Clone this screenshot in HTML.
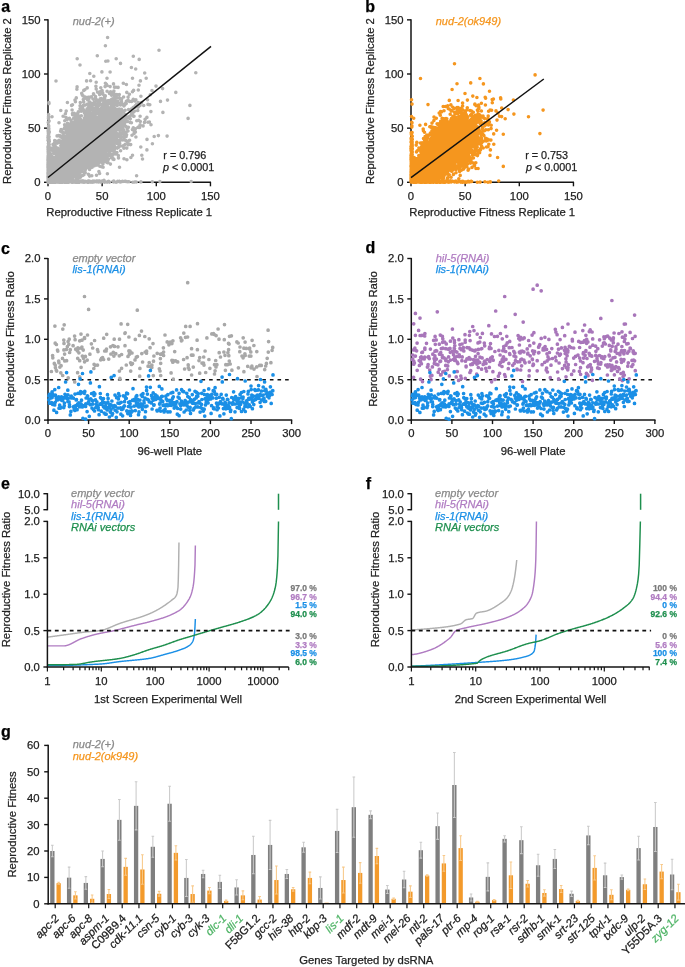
<!DOCTYPE html><html><head><meta charset="utf-8"><style>html,body{margin:0;padding:0;background:#fff;overflow:hidden}svg{display:block;will-change:transform}text{stroke-width:0.25px}</style></head><body><svg width="685" height="967" viewBox="0 0 685 967" font-family='"Liberation Sans", sans-serif'>
<rect width="685" height="967" fill="#fff"/>
<line x1="48.00" y1="19.25" x2="48.00" y2="182.90" stroke="#141414" stroke-width="1.5"/>
<line x1="44.00" y1="19.85" x2="48.00" y2="19.85" stroke="#141414" stroke-width="1.4"/>
<text x="40.50" y="23.75" font-size="11.3" text-anchor="end" fill="#222" stroke="#222">150</text>
<line x1="44.00" y1="74.00" x2="48.00" y2="74.00" stroke="#141414" stroke-width="1.4"/>
<text x="40.50" y="77.90" font-size="11.3" text-anchor="end" fill="#222" stroke="#222">100</text>
<line x1="44.00" y1="128.15" x2="48.00" y2="128.15" stroke="#141414" stroke-width="1.4"/>
<text x="40.50" y="132.05" font-size="11.3" text-anchor="end" fill="#222" stroke="#222">50</text>
<line x1="44.00" y1="182.30" x2="48.00" y2="182.30" stroke="#141414" stroke-width="1.4"/>
<text x="40.50" y="186.20" font-size="11.3" text-anchor="end" fill="#222" stroke="#222">0</text>
<line x1="47.40" y1="182.30" x2="211.05" y2="182.30" stroke="#141414" stroke-width="1.5"/>
<line x1="48.00" y1="182.30" x2="48.00" y2="186.30" stroke="#141414" stroke-width="1.4"/>
<text x="48.00" y="199.70" font-size="11.3" text-anchor="middle" fill="#222" stroke="#222">0</text>
<line x1="102.15" y1="182.30" x2="102.15" y2="186.30" stroke="#141414" stroke-width="1.4"/>
<text x="102.15" y="199.70" font-size="11.3" text-anchor="middle" fill="#222" stroke="#222">50</text>
<line x1="156.30" y1="182.30" x2="156.30" y2="186.30" stroke="#141414" stroke-width="1.4"/>
<text x="156.30" y="199.70" font-size="11.3" text-anchor="middle" fill="#222" stroke="#222">100</text>
<line x1="210.45" y1="182.30" x2="210.45" y2="186.30" stroke="#141414" stroke-width="1.4"/>
<text x="210.45" y="199.70" font-size="11.3" text-anchor="middle" fill="#222" stroke="#222">150</text>
<path d="M91.6 116.2h0M99.0 117.2h0M77.5 148.9h0M58.0 168.0h0M94.7 130.7h0M80.0 149.1h0M83.6 149.6h0M97.1 142.7h0M81.0 134.9h0M92.6 147.6h0M79.9 165.0h0M102.5 144.7h0M68.6 163.2h0M72.0 150.2h0M92.5 151.1h0M74.0 142.6h0M85.2 144.1h0M70.6 153.4h0M76.4 150.9h0M78.9 161.8h0M91.9 140.4h0M87.0 147.1h0M84.6 140.3h0M90.3 118.1h0M51.4 166.2h0M62.4 142.7h0M72.5 152.3h0M78.0 141.6h0M73.5 148.8h0M129.4 117.0h0M77.2 154.4h0M75.3 159.6h0M118.8 134.2h0M110.3 133.2h0M92.0 129.2h0M72.6 154.5h0M62.8 158.8h0M85.8 125.5h0M94.4 161.8h0M67.5 167.7h0M66.8 168.1h0M77.4 136.2h0M69.2 173.2h0M73.1 146.8h0M81.2 155.8h0M65.2 161.4h0M80.1 143.9h0M99.3 137.7h0M101.3 140.1h0M72.7 146.5h0M66.4 154.9h0M95.9 121.6h0M54.8 151.9h0M95.8 127.4h0M73.3 166.1h0M103.0 135.0h0M73.4 146.6h0M73.7 173.4h0M91.5 139.3h0M86.5 150.5h0M95.7 139.2h0M78.0 159.2h0M75.4 151.9h0M75.1 154.3h0M87.2 152.3h0M83.6 141.0h0M89.6 139.8h0M55.2 162.7h0M82.1 155.1h0M90.4 123.8h0M78.1 154.1h0M78.5 155.5h0M87.6 147.1h0M75.4 136.4h0M102.6 115.1h0M97.1 152.0h0M60.4 169.6h0M70.0 158.2h0M73.9 155.4h0M100.7 129.8h0M87.1 157.2h0M57.2 172.8h0M65.4 158.6h0M93.5 118.9h0M103.4 105.5h0M67.0 150.3h0M93.2 141.3h0M83.8 127.6h0M97.5 155.7h0M101.5 126.7h0M82.5 145.6h0M82.3 152.5h0M78.2 151.6h0M99.1 137.1h0M53.3 174.8h0M87.5 152.1h0M70.2 136.7h0M60.4 168.8h0M103.4 134.2h0M68.0 155.4h0M93.7 133.4h0M66.0 148.0h0M114.5 137.5h0M111.6 138.2h0M99.1 143.9h0M77.4 146.5h0M71.9 180.2h0M118.0 119.2h0M70.2 137.1h0M66.8 166.5h0M71.8 132.6h0M73.0 152.7h0M102.7 135.9h0M80.6 157.2h0M83.6 131.1h0M73.5 151.5h0M102.4 127.9h0M73.1 155.2h0M112.2 134.0h0M117.2 113.7h0M58.9 171.7h0M49.8 180.4h0M86.6 131.3h0M121.5 99.4h0M66.0 159.8h0M58.8 162.2h0M99.5 147.2h0M71.1 143.6h0M91.1 151.6h0M76.4 150.7h0M106.6 126.8h0M73.3 154.5h0M70.0 135.4h0M76.0 166.9h0M88.2 155.1h0M87.8 149.4h0M76.3 157.3h0M85.1 133.9h0M63.5 154.7h0M80.5 159.8h0M103.6 124.0h0M84.5 148.4h0M78.6 148.9h0M89.7 141.3h0M79.3 151.6h0M85.8 159.1h0M96.3 135.8h0M88.7 157.2h0M71.4 158.0h0M80.0 141.2h0M76.0 162.8h0M64.4 156.3h0M69.3 154.0h0M91.8 154.9h0M101.5 119.6h0M62.9 165.8h0M91.0 132.4h0M49.5 170.3h0M71.1 146.2h0M100.2 126.9h0M81.2 144.9h0M69.3 157.2h0M77.5 145.2h0M81.3 134.1h0M86.1 123.8h0M142.5 159.0h0M79.8 151.2h0M68.4 148.8h0M82.9 147.2h0M93.3 144.2h0M65.4 149.3h0M74.8 151.4h0M90.8 139.0h0M57.7 175.7h0M99.0 135.3h0M71.9 142.8h0M67.4 173.6h0M82.4 133.6h0M97.3 140.7h0M91.5 139.4h0M84.6 152.7h0M83.3 154.2h0M123.9 105.9h0M86.7 126.2h0M61.4 158.4h0M62.8 152.1h0M85.3 143.4h0M65.0 177.9h0M91.5 152.9h0M60.4 161.3h0M80.6 123.8h0M105.6 112.6h0M108.0 162.6h0M67.3 163.7h0M107.5 135.9h0M81.2 149.0h0M86.1 143.9h0M71.8 163.7h0M98.2 109.5h0M92.5 115.1h0M70.8 160.9h0M77.4 144.8h0M66.1 166.8h0M62.1 151.7h0M69.7 169.3h0M114.6 136.5h0M70.6 159.0h0M71.7 154.0h0M82.7 135.3h0M72.3 154.4h0M81.1 145.4h0M72.4 155.8h0M76.5 144.2h0M64.9 164.1h0M69.2 166.5h0M71.2 154.0h0M80.1 145.8h0M78.4 153.8h0M79.8 137.3h0M100.0 109.7h0M72.1 154.6h0M83.9 133.0h0M76.8 162.5h0M75.6 139.0h0M78.1 158.4h0M87.0 124.3h0M79.4 149.4h0M81.0 153.6h0M88.6 129.9h0M97.2 151.7h0M77.4 154.8h0M64.7 176.7h0M94.8 144.8h0M104.4 142.6h0M60.2 165.2h0M87.4 139.0h0M93.9 151.1h0M69.5 157.2h0M81.0 143.1h0M72.2 146.0h0M89.8 139.8h0M67.3 179.9h0M122.1 133.9h0M76.9 136.4h0M58.0 178.2h0M95.4 137.5h0M76.2 163.7h0M72.7 162.1h0M84.1 148.1h0M75.8 150.8h0M81.0 152.7h0M78.1 164.4h0M91.2 142.9h0M71.8 148.3h0M61.4 154.9h0M101.1 145.5h0M74.3 115.0h0M84.2 146.8h0M71.8 155.6h0M81.2 131.2h0M58.7 182.1h0M68.8 163.4h0M88.2 152.8h0M66.8 167.8h0M95.8 156.1h0M88.9 146.4h0M85.6 134.5h0M80.5 151.9h0M77.0 164.0h0M72.5 137.7h0M56.6 179.3h0M114.2 95.2h0M72.0 154.1h0M76.1 148.5h0M103.5 126.9h0M85.2 135.8h0M68.8 163.4h0M82.6 142.7h0M91.0 144.3h0M75.6 147.6h0M94.9 150.7h0M105.8 132.7h0M62.6 156.0h0M99.7 144.6h0M85.0 145.8h0M55.0 162.6h0M70.1 165.6h0M65.6 155.3h0M57.4 157.6h0M105.0 137.0h0M91.6 131.0h0M90.8 144.8h0M75.4 163.2h0M87.2 138.6h0M66.8 163.2h0M90.0 134.6h0M101.3 108.4h0M78.0 149.2h0M66.5 162.8h0M75.0 140.5h0M81.2 153.4h0M62.4 159.7h0M90.0 139.5h0M80.5 148.4h0M91.2 116.8h0M73.7 143.5h0M78.7 134.6h0M91.7 115.7h0M72.7 161.9h0M112.7 146.0h0M67.9 151.0h0M74.7 152.1h0M73.8 151.9h0M86.3 146.2h0M68.6 161.3h0M73.8 137.4h0M58.1 174.5h0M103.5 125.7h0M90.1 149.0h0M75.5 160.0h0M75.9 166.1h0M75.9 149.7h0M78.2 159.6h0M61.0 166.3h0M57.3 158.1h0M72.9 157.1h0M81.0 153.5h0M100.5 135.0h0M93.9 125.4h0M92.7 144.3h0M94.6 136.0h0M55.3 160.8h0M100.0 121.0h0M82.9 147.7h0M86.3 162.6h0M97.1 123.1h0M53.9 179.7h0M93.3 125.1h0M64.4 156.1h0M94.8 126.7h0M56.6 163.5h0M73.2 155.7h0M93.4 144.4h0M101.3 139.2h0M79.9 161.0h0M79.2 147.8h0M73.3 161.1h0M95.5 132.2h0M77.7 159.9h0M81.0 165.8h0M93.4 132.5h0M86.9 146.4h0M89.9 136.1h0M88.8 165.4h0M115.6 135.0h0M63.3 164.1h0M93.2 108.9h0M73.5 170.6h0M95.6 136.4h0M92.8 135.7h0M87.2 152.8h0M79.5 141.1h0M93.0 131.1h0M111.7 139.7h0M89.4 125.0h0M76.2 157.3h0M90.0 134.6h0M88.8 106.5h0M100.8 110.4h0M63.0 166.0h0M80.0 154.6h0M88.8 133.1h0M64.9 170.9h0M58.1 159.6h0M71.7 137.6h0M112.4 138.9h0M64.6 158.1h0M77.7 142.1h0M87.4 141.7h0M94.9 120.6h0M80.4 149.2h0M92.3 142.3h0M68.2 157.9h0M87.5 130.9h0M88.4 151.1h0M104.4 123.5h0M106.1 134.3h0M66.8 164.0h0M93.3 138.5h0M110.1 134.2h0M81.1 133.5h0M94.8 147.3h0M84.9 146.6h0M52.9 167.3h0M81.6 138.4h0M90.2 137.9h0M73.7 162.5h0M96.5 147.5h0M66.9 164.3h0M67.0 148.6h0M77.4 154.9h0M115.6 120.3h0M63.3 167.8h0M103.9 137.8h0M90.4 114.7h0M106.8 140.0h0M113.0 104.5h0M76.0 150.5h0M50.8 181.9h0M98.5 142.1h0M76.7 164.8h0M86.9 150.3h0M80.8 167.0h0M79.7 130.2h0M88.3 131.7h0M56.5 165.3h0M94.8 128.2h0M89.4 146.5h0M80.9 155.2h0M94.1 140.1h0M90.7 158.5h0M76.4 119.6h0M87.9 145.1h0M79.3 144.8h0M76.9 113.7h0M82.2 163.0h0M82.7 145.0h0M71.2 136.7h0M100.8 124.3h0M79.9 138.4h0M105.1 122.0h0M88.7 141.3h0M83.6 152.3h0M67.4 149.7h0M97.9 149.7h0M71.4 138.4h0M62.9 159.6h0M58.5 169.8h0M83.5 156.6h0M94.3 153.4h0M92.1 128.5h0M115.8 141.0h0M93.8 158.8h0M81.8 155.2h0M74.1 140.5h0M78.3 150.3h0M91.8 155.7h0M100.8 109.3h0M90.2 135.8h0M76.0 141.1h0M94.6 147.2h0M82.9 156.9h0M83.7 152.3h0M102.9 148.7h0M65.4 162.1h0M75.4 101.8h0M89.4 146.2h0M107.0 108.7h0M98.8 133.0h0M83.7 136.3h0M86.7 114.4h0M92.0 152.0h0M71.0 145.5h0M111.9 140.1h0M83.8 164.5h0M85.9 146.7h0M98.3 139.1h0M88.0 144.8h0M86.3 146.5h0M72.4 149.0h0M75.6 141.1h0M70.9 158.2h0M72.0 136.6h0M80.8 134.5h0M96.9 147.2h0M77.0 146.6h0M77.8 137.4h0M71.5 137.0h0M77.7 149.4h0M94.9 132.1h0M98.6 142.0h0M93.1 142.0h0M135.1 106.3h0M72.9 158.4h0M104.4 138.1h0M121.7 118.5h0M86.3 127.8h0M76.7 152.2h0M67.7 163.4h0M84.1 140.1h0M89.0 147.6h0M75.8 148.3h0M94.8 153.7h0M79.7 151.6h0M97.2 135.6h0M51.6 177.0h0M89.8 149.2h0M90.2 129.2h0M65.5 153.9h0M120.9 113.6h0M55.1 167.5h0M70.3 150.1h0M55.7 152.0h0M93.6 135.7h0M74.1 158.8h0M103.9 149.1h0M104.4 157.8h0M85.6 148.8h0M63.2 157.7h0M78.1 166.3h0M119.8 118.4h0M71.0 162.3h0M74.4 168.1h0M79.0 148.3h0M85.3 134.2h0M81.6 141.4h0M96.0 139.4h0M72.9 161.1h0M72.1 141.3h0M94.5 144.0h0M61.0 170.1h0M112.8 131.0h0M112.6 118.2h0M80.7 156.1h0M80.2 136.9h0M94.7 137.7h0M67.8 166.3h0M55.4 166.3h0M62.7 153.2h0M58.2 152.9h0M67.9 152.3h0M114.6 122.5h0M88.8 152.2h0M67.3 162.7h0M82.6 138.3h0M109.3 124.4h0M97.7 106.0h0M104.2 125.5h0M89.4 151.8h0M87.5 138.8h0M63.4 145.2h0M87.5 129.6h0M90.1 149.1h0M92.0 128.5h0M93.1 138.7h0M76.0 162.2h0M73.7 145.6h0M82.9 124.7h0M61.4 159.3h0M70.8 156.3h0M83.9 152.3h0M58.6 160.2h0M99.8 127.3h0M107.8 100.7h0M101.4 131.3h0M75.2 131.4h0M83.4 151.9h0M77.8 150.6h0M64.1 149.4h0M80.9 137.7h0M91.3 134.0h0M92.8 133.7h0M91.0 161.3h0M97.6 142.4h0M64.2 144.2h0M103.1 128.4h0M91.4 147.2h0M63.4 179.9h0M108.0 135.7h0M110.3 110.3h0M100.5 141.4h0M100.2 143.3h0M92.6 143.8h0M52.6 162.5h0M51.6 164.2h0M77.2 159.8h0M71.3 150.8h0M88.9 139.8h0M84.1 127.5h0M80.3 131.3h0M91.1 132.1h0M89.1 136.7h0M68.6 152.0h0M89.3 127.2h0M69.6 164.2h0M63.0 169.3h0M77.8 140.9h0M81.0 156.9h0M84.0 152.1h0M74.6 169.9h0M58.3 156.9h0M87.1 151.9h0M80.4 164.4h0M109.8 137.1h0M96.6 127.7h0M65.2 169.0h0M76.1 154.8h0M110.3 148.9h0M109.0 117.8h0M90.1 145.9h0M86.9 139.6h0M118.6 134.5h0M98.3 145.4h0M65.2 145.8h0M72.9 172.1h0M82.2 146.1h0M140.3 121.5h0M64.8 163.9h0M73.1 158.0h0M71.5 174.0h0M84.0 146.6h0M100.5 123.7h0M86.7 158.0h0M111.5 132.4h0M86.6 149.6h0M67.4 159.2h0M120.2 114.5h0M89.4 129.1h0M77.1 148.2h0M74.3 156.0h0M65.7 151.8h0M92.9 140.4h0M79.1 154.4h0M124.9 119.0h0M81.9 150.6h0M70.4 150.7h0M100.6 146.4h0M88.8 139.1h0M65.1 169.4h0M85.8 142.0h0M90.6 136.5h0M71.4 159.4h0M75.6 143.3h0M62.9 137.8h0M70.7 136.9h0M93.1 153.0h0M84.3 143.0h0M83.2 136.2h0M75.7 138.3h0M105.4 115.4h0M74.7 158.5h0M64.5 164.4h0M59.3 168.2h0M61.0 161.8h0M67.5 170.7h0M100.0 132.7h0M96.7 146.8h0M70.3 147.1h0M69.7 165.3h0M75.1 149.8h0M77.5 140.3h0M80.6 159.9h0M62.3 172.7h0M66.3 161.9h0M106.3 133.7h0M48.1 181.5h0M74.2 143.9h0M53.6 176.1h0M89.4 141.0h0M70.8 157.0h0M57.5 167.1h0M90.6 135.1h0M102.5 145.4h0M77.3 134.6h0M95.6 128.2h0M75.6 152.1h0M53.4 171.5h0M111.3 133.0h0M77.0 148.5h0M57.7 166.5h0M105.4 136.5h0M93.3 145.4h0M84.7 145.6h0M81.0 147.2h0M69.9 145.0h0M88.2 122.2h0M76.0 160.7h0M76.2 139.1h0M75.8 158.7h0M93.9 118.1h0M103.3 140.9h0M99.1 133.1h0M79.3 164.7h0M81.4 156.0h0M87.8 146.9h0M61.1 159.1h0M97.5 125.6h0M90.0 119.4h0M98.3 140.5h0M70.8 157.1h0M81.8 139.8h0M61.5 158.5h0M64.8 169.2h0M66.9 164.8h0M77.8 151.6h0M68.5 154.6h0M72.2 163.4h0M58.7 179.0h0M87.6 153.2h0M75.7 144.2h0M80.6 163.3h0M70.7 151.1h0M50.1 178.7h0M122.4 120.1h0M70.6 160.6h0M98.5 139.2h0M96.0 131.3h0M107.5 162.8h0M69.6 148.5h0M81.2 151.3h0M84.6 169.0h0M85.3 148.1h0M87.5 136.3h0M97.0 134.7h0M101.1 117.6h0M105.8 106.1h0M95.2 149.1h0M87.6 122.0h0M58.2 157.5h0M88.3 174.3h0M70.4 150.0h0M62.8 157.6h0M109.4 135.9h0M107.7 145.3h0M107.4 126.5h0M85.4 155.6h0M80.4 135.7h0M82.6 148.7h0M70.8 162.6h0M79.5 154.3h0M84.0 141.9h0M66.4 162.1h0M86.2 141.9h0M49.8 164.7h0M65.5 143.7h0M74.3 172.8h0M79.0 147.6h0M66.1 154.2h0M107.5 141.0h0M73.5 139.5h0M97.1 139.7h0M91.5 134.1h0M64.4 168.6h0M68.3 155.9h0M72.9 167.7h0M91.3 144.9h0M97.1 123.5h0M102.4 156.7h0M63.2 151.7h0M72.7 152.9h0M83.0 143.4h0M68.7 159.5h0M78.1 150.7h0M86.1 152.2h0M62.4 153.4h0M77.5 159.4h0M78.1 141.2h0M62.0 158.9h0M71.5 164.5h0M85.6 136.6h0M81.9 140.5h0M102.2 142.5h0M71.3 152.9h0M58.3 175.8h0M85.6 124.5h0M93.2 143.4h0M62.1 156.5h0M57.4 166.0h0M77.3 132.8h0M61.7 165.6h0M90.1 154.8h0M64.2 174.0h0M78.4 150.3h0M50.4 175.5h0M75.3 155.9h0M120.4 126.3h0M86.2 150.5h0M97.1 147.3h0M74.6 154.0h0M74.9 162.4h0M54.1 160.0h0M83.0 152.9h0M83.4 142.5h0M96.4 140.9h0M63.8 161.3h0M81.3 149.9h0M75.5 154.6h0M106.8 136.4h0M104.7 111.9h0M75.6 152.7h0M71.3 161.7h0M58.5 166.0h0M103.1 121.9h0M76.4 146.7h0M64.8 152.7h0M76.0 151.5h0M49.5 180.0h0M57.1 174.3h0M98.9 134.4h0M110.6 142.3h0M82.2 144.9h0M71.8 160.5h0M88.4 133.2h0M115.8 122.0h0M66.2 171.4h0M76.1 155.8h0M77.0 149.5h0M88.4 143.2h0M81.9 150.2h0M80.3 143.2h0M69.9 159.6h0M85.7 150.0h0M69.8 154.8h0M86.2 139.9h0M84.0 140.8h0M82.5 126.9h0M66.7 160.0h0M81.1 154.1h0M97.8 124.3h0M85.3 169.7h0M78.3 140.7h0M93.2 152.5h0M72.3 156.7h0M73.6 156.9h0M88.9 151.8h0M63.9 165.8h0M86.9 122.2h0M106.1 132.3h0M80.3 139.1h0M56.6 170.1h0M74.3 164.8h0M71.4 167.0h0M78.3 128.6h0M68.3 141.8h0M81.3 156.7h0M107.7 156.3h0M90.5 150.0h0M95.2 137.9h0M102.0 136.7h0M90.1 124.4h0M84.3 129.5h0M60.7 165.9h0M76.9 147.2h0M55.2 181.9h0M83.2 148.7h0M87.8 137.7h0M94.7 125.9h0M95.5 125.5h0M77.3 161.0h0M96.7 130.9h0M89.4 163.5h0M110.1 141.0h0M131.4 122.8h0M79.7 152.8h0M139.7 104.6h0M86.9 155.3h0M75.0 146.3h0M94.6 145.7h0M79.6 135.7h0M78.3 129.6h0M74.5 147.9h0M102.7 109.9h0M82.6 151.6h0M111.0 127.0h0M108.1 107.6h0M70.5 159.3h0M70.0 159.3h0M66.1 169.5h0M86.7 145.0h0M69.3 153.8h0M81.0 134.0h0M69.5 155.5h0M76.2 161.1h0M92.2 141.0h0M60.4 167.9h0M67.4 143.6h0M89.1 140.4h0M77.5 148.9h0M89.4 160.9h0M97.4 120.8h0M113.4 114.2h0M87.5 130.4h0M71.6 152.8h0M94.8 120.3h0M69.8 144.3h0M81.2 152.0h0M74.7 132.6h0M70.5 152.3h0M115.6 113.8h0M71.4 151.8h0M87.7 150.5h0M54.8 179.5h0M94.5 128.9h0M61.6 141.1h0M58.5 165.0h0M94.6 142.3h0M77.8 170.5h0M100.1 133.6h0M107.3 117.2h0M59.7 172.6h0M76.3 149.5h0M68.4 157.5h0M86.9 154.2h0M108.9 121.7h0M60.8 166.7h0M109.0 140.5h0M86.9 157.3h0M61.2 159.3h0M86.8 144.4h0M92.3 129.3h0M56.4 159.8h0M66.7 143.8h0M68.0 161.9h0M84.6 131.3h0M93.2 127.6h0M78.3 162.3h0M92.5 141.7h0M70.4 151.0h0M82.0 145.1h0M106.0 103.4h0M74.1 142.9h0M82.3 95.0h0M87.3 150.2h0M67.3 165.1h0M68.4 155.0h0M84.6 154.5h0M68.9 143.7h0M83.9 165.0h0M55.0 162.9h0M67.9 172.1h0M78.4 128.0h0M66.1 137.4h0M102.4 107.6h0M52.9 169.4h0M119.7 143.3h0M69.1 153.9h0M60.4 181.2h0M93.4 125.8h0M85.9 136.5h0M115.3 132.8h0M96.7 141.7h0M81.1 125.4h0M95.5 119.8h0M72.8 152.4h0M60.6 181.7h0M81.6 152.6h0M93.7 145.2h0M68.0 138.8h0M91.8 126.2h0M108.4 135.7h0M77.6 148.0h0M93.0 99.0h0M62.7 158.9h0M106.6 137.5h0M86.2 142.6h0M62.0 150.7h0M79.9 139.8h0M64.0 136.2h0M101.7 114.0h0M62.2 160.6h0M89.1 134.2h0M76.4 164.0h0M78.1 153.1h0M91.6 153.2h0M63.7 161.1h0M101.5 143.4h0M62.5 175.1h0M66.0 148.4h0M87.2 144.8h0M109.3 136.7h0M100.2 131.2h0M94.1 148.5h0M120.5 105.0h0M65.4 162.5h0M82.0 156.5h0M75.7 163.1h0M97.2 124.5h0M114.0 136.1h0M100.9 132.8h0M85.1 131.5h0M74.8 145.9h0M79.0 159.8h0M79.7 161.2h0M135.9 137.0h0M108.8 134.9h0M85.4 140.3h0M79.2 151.5h0M93.3 138.0h0M77.3 148.2h0M88.6 151.7h0M57.7 175.0h0M92.2 142.0h0M90.6 144.1h0M90.0 127.7h0M94.5 157.9h0M69.4 148.4h0M92.4 140.8h0M107.0 144.9h0M48.1 182.3h0M76.0 175.5h0M123.7 117.1h0M69.1 156.0h0M83.0 144.1h0M87.0 133.3h0M70.8 157.5h0M89.6 142.5h0M63.0 161.9h0M52.8 172.0h0M71.8 165.9h0M64.1 170.7h0M76.5 129.1h0M79.3 158.1h0M91.2 131.5h0M72.0 159.7h0M111.1 104.5h0M81.3 148.2h0M86.0 147.3h0M86.4 129.8h0M73.5 143.8h0M71.2 169.5h0M91.2 141.0h0M95.6 134.5h0M94.7 112.7h0M102.8 147.4h0M75.3 159.8h0M75.2 160.7h0M99.3 123.8h0M67.0 148.9h0M100.0 145.0h0M80.1 116.5h0M90.6 116.6h0M65.1 161.8h0M82.7 146.1h0M74.7 150.4h0M77.3 151.0h0M50.4 177.4h0M73.8 158.1h0M97.8 141.3h0M107.1 148.3h0M92.8 143.8h0M66.3 147.4h0M100.6 151.0h0M72.9 159.5h0M62.9 155.7h0M69.6 158.4h0M73.8 153.7h0M91.4 126.3h0M76.8 134.8h0M52.1 174.1h0M75.5 152.4h0M88.7 116.8h0M94.0 141.8h0M93.0 127.9h0M55.5 161.4h0M106.6 144.6h0M55.9 169.2h0M87.2 155.9h0M103.8 115.1h0M115.9 104.5h0M84.9 127.8h0M89.1 149.0h0M77.4 158.6h0M70.5 144.7h0M91.2 142.6h0M88.2 131.3h0M64.1 154.7h0M71.2 170.9h0M76.0 148.2h0M100.9 134.8h0M70.6 161.8h0M72.6 153.4h0M85.8 126.7h0M93.0 140.2h0M65.2 163.6h0M61.6 171.1h0M69.6 159.3h0M60.3 150.7h0M109.1 117.7h0M83.2 143.3h0M110.4 139.7h0M66.4 149.8h0M91.8 149.6h0M95.9 122.8h0M81.6 152.0h0M74.0 149.6h0M77.2 161.6h0M90.1 150.9h0M49.7 159.0h0M80.6 134.6h0M71.8 146.6h0M86.8 161.3h0M94.0 145.5h0M79.4 148.8h0M73.6 141.2h0M91.1 143.3h0M93.2 128.5h0M78.9 153.8h0M108.6 142.9h0M65.5 158.0h0M120.9 137.6h0M62.9 157.9h0M81.6 142.7h0M94.5 142.8h0M129.1 116.6h0M82.8 133.9h0M64.9 149.8h0M94.2 123.2h0M89.0 146.0h0M69.9 154.9h0M90.2 143.7h0M82.2 142.4h0M96.5 134.3h0M73.1 162.7h0M95.6 137.8h0M84.3 147.1h0M107.2 150.8h0M73.5 141.7h0M73.7 162.3h0M97.3 139.7h0M83.0 154.4h0M83.2 137.3h0M91.7 152.5h0M73.7 142.2h0M49.1 159.1h0M96.2 143.6h0M90.0 124.5h0M92.0 137.6h0M107.3 139.9h0M99.0 123.6h0M97.0 142.9h0M69.5 136.1h0M61.2 170.3h0M98.9 133.9h0M93.8 150.7h0M56.0 164.9h0M99.8 125.0h0M104.8 139.9h0M110.2 130.4h0M96.1 141.8h0M81.4 143.3h0M77.6 146.6h0M107.9 116.6h0M77.0 147.8h0M80.6 164.9h0M84.3 119.8h0M63.6 169.5h0M61.5 165.6h0M115.6 116.1h0M68.2 171.3h0M97.5 134.3h0M65.2 160.6h0M89.9 161.3h0M58.3 175.7h0M80.1 160.8h0M89.1 135.2h0M57.3 174.7h0M102.8 128.8h0M80.8 145.5h0M107.4 104.8h0M73.6 155.3h0M108.6 148.4h0M100.2 124.5h0M74.8 160.8h0M56.0 178.3h0M94.2 150.2h0M81.5 165.9h0M83.7 155.6h0M88.8 147.9h0M99.5 124.7h0M70.8 156.8h0M82.4 148.3h0M83.3 157.4h0M96.8 142.9h0M99.0 100.4h0M59.5 162.4h0M116.9 152.6h0M92.7 133.0h0M74.6 154.3h0M114.7 96.2h0M87.4 151.7h0M74.0 160.4h0M83.4 152.6h0M79.5 159.6h0M84.1 141.0h0M78.6 138.1h0M90.3 131.6h0M103.6 113.5h0M98.4 119.1h0M61.6 169.0h0M68.0 164.1h0M83.6 156.2h0M100.1 140.1h0M95.1 153.0h0M67.7 151.8h0M64.9 139.4h0M60.5 163.1h0M67.5 149.7h0M74.7 129.2h0M90.0 139.9h0M68.5 146.4h0M64.8 149.2h0M88.6 138.9h0M66.4 158.0h0M77.0 160.6h0M96.2 138.3h0M69.8 155.0h0M65.5 162.7h0M61.4 151.6h0M90.1 135.6h0M110.0 137.2h0M64.0 146.6h0M88.6 125.0h0M70.0 150.5h0M77.9 145.3h0M93.1 139.4h0M109.3 126.5h0M91.2 143.7h0M68.9 162.9h0M68.8 161.9h0M89.6 163.1h0M88.7 141.8h0M102.5 134.4h0M87.1 115.6h0M70.1 160.2h0M100.8 139.1h0M74.2 176.2h0M60.1 163.9h0M83.1 128.5h0M88.7 141.3h0M54.4 151.7h0M102.9 137.8h0M63.5 152.4h0M62.4 160.3h0M79.6 143.5h0M95.3 147.2h0M64.7 146.2h0M81.4 155.2h0M75.9 146.3h0M73.7 143.1h0M84.9 160.5h0M58.1 176.1h0M60.6 166.8h0M98.9 135.6h0M71.6 164.1h0M92.1 148.8h0M100.1 137.7h0M74.1 164.2h0M86.9 143.1h0M109.0 113.1h0M93.2 142.4h0M99.3 102.2h0M116.0 126.4h0M100.3 98.8h0M78.4 137.9h0M78.7 163.7h0M65.8 158.7h0M82.1 126.4h0M90.4 144.5h0M79.3 158.7h0M87.2 133.8h0M75.7 150.4h0M97.0 122.6h0M74.4 146.2h0M77.8 138.1h0M99.7 140.2h0M80.4 142.1h0M119.0 113.3h0M54.6 164.1h0M95.7 140.4h0M95.0 126.8h0M84.4 130.4h0M73.7 136.8h0M116.3 119.9h0M64.7 163.5h0M56.1 157.6h0M100.8 146.3h0M61.6 167.3h0M53.8 177.3h0M100.3 129.6h0M91.3 135.5h0M87.1 131.8h0M66.3 161.7h0M91.4 154.2h0M74.9 156.2h0M99.8 132.7h0M98.2 132.3h0M105.6 138.6h0M62.4 161.9h0M98.3 156.5h0M89.8 102.0h0M101.3 123.9h0M87.8 131.5h0M90.4 150.0h0M88.5 140.2h0M90.3 130.1h0M100.3 151.4h0M105.7 140.1h0M80.2 163.4h0M109.4 148.3h0M66.0 164.6h0M92.3 133.9h0M71.6 145.6h0M82.2 144.1h0M120.5 119.4h0M93.4 133.5h0M107.3 137.9h0M67.2 165.0h0M116.2 129.5h0M106.4 122.0h0M80.0 152.0h0M96.1 151.4h0M94.3 149.4h0M80.5 149.9h0M111.8 141.2h0M83.1 142.1h0M54.0 175.2h0M71.9 137.8h0M81.1 136.7h0M95.3 134.1h0M66.4 170.5h0M82.3 157.1h0M93.1 129.0h0M103.0 153.9h0M101.7 137.0h0M53.1 177.2h0M55.1 167.2h0M66.8 164.5h0M48.5 176.2h0M58.0 156.9h0M110.4 119.6h0M109.6 128.1h0M79.9 136.7h0M106.1 110.0h0M113.0 159.2h0M66.7 164.5h0M103.4 148.6h0M78.1 138.9h0M84.7 127.5h0M51.7 170.6h0M106.3 148.6h0M69.5 174.4h0M94.9 136.9h0M62.6 175.2h0M69.3 162.0h0M76.9 131.8h0M77.8 119.1h0M80.7 155.4h0M97.1 131.2h0M95.5 153.9h0M77.6 151.6h0M103.6 120.8h0M101.2 146.0h0M85.3 132.7h0M104.1 116.7h0M81.7 143.5h0M89.4 162.0h0M69.1 148.4h0M88.5 130.8h0M101.4 138.5h0M66.6 177.1h0M75.3 150.7h0M90.1 123.3h0M91.4 115.7h0M50.5 179.1h0M94.6 128.2h0M70.9 155.6h0M93.1 123.0h0M85.0 147.3h0M92.4 155.6h0M74.3 143.7h0M59.4 175.9h0M51.1 175.2h0M102.2 128.8h0M89.5 150.7h0M78.6 147.7h0M87.0 149.6h0M66.1 167.6h0M80.9 138.3h0M94.7 125.6h0M100.0 138.7h0M69.3 169.7h0M107.3 104.2h0M74.9 158.1h0M63.9 165.6h0M67.4 173.3h0M74.4 160.5h0M96.2 157.9h0M65.2 169.7h0M59.0 172.3h0M87.3 149.9h0M103.7 132.4h0M64.5 154.2h0M88.9 143.5h0M98.8 153.0h0M104.5 113.3h0M53.1 179.1h0M101.4 130.8h0M68.0 167.9h0M72.6 162.3h0M82.8 149.1h0M112.3 109.2h0M87.5 156.1h0M59.5 170.9h0M87.8 127.1h0M86.0 165.9h0M90.3 127.9h0M83.7 149.3h0M91.0 162.2h0M89.5 142.4h0M83.2 132.3h0M88.7 135.1h0M104.5 126.3h0M71.2 155.2h0M67.2 153.7h0M62.5 158.6h0M92.3 116.4h0M75.5 148.4h0M90.8 136.9h0M90.4 145.1h0M116.3 103.2h0M65.6 143.7h0M107.4 129.8h0M78.3 166.9h0M73.7 164.3h0M62.7 156.4h0M69.6 156.5h0M94.0 144.5h0M50.8 153.8h0M75.5 154.6h0M51.2 176.0h0M50.6 159.8h0M85.8 157.3h0M77.3 144.4h0M68.1 165.5h0M88.2 149.1h0M87.9 131.3h0M98.1 149.5h0M66.2 151.6h0M67.3 154.8h0M76.6 151.6h0M97.2 137.2h0M100.8 140.7h0M73.0 153.1h0M68.1 169.2h0M78.0 149.2h0M96.2 161.6h0M88.8 149.8h0M145.1 119.4h0M90.3 129.6h0M111.7 114.8h0M104.2 150.7h0M89.3 134.7h0M68.3 152.7h0M72.3 151.8h0M86.0 128.7h0M72.2 132.1h0M91.5 129.6h0M48.3 170.9h0M77.6 142.8h0M105.0 130.7h0M100.9 133.9h0M75.6 142.1h0M100.8 121.9h0M66.8 161.9h0M63.3 154.4h0M76.6 165.6h0M95.5 150.3h0M66.7 154.8h0M86.6 137.4h0M72.6 155.5h0M65.3 161.6h0M51.5 166.9h0M117.9 123.2h0M84.4 147.5h0M83.7 150.4h0M84.6 137.3h0M98.9 153.8h0M83.6 129.6h0M80.1 131.0h0M67.7 161.3h0M77.9 162.1h0M79.2 170.1h0M76.8 164.4h0M117.6 129.0h0M56.2 169.6h0M63.2 173.9h0M80.8 165.8h0M75.1 163.7h0M80.1 127.9h0M62.9 159.4h0M95.9 135.6h0M88.7 139.9h0M84.4 151.2h0M118.0 127.5h0M136.7 104.0h0M87.0 124.0h0M65.5 163.3h0M68.7 143.3h0M90.7 146.9h0M105.1 86.6h0M91.7 120.7h0M95.4 133.6h0M86.8 130.3h0M100.0 127.6h0M105.2 145.8h0M75.5 154.7h0M94.0 130.5h0M95.8 122.5h0M80.1 137.9h0M97.4 118.7h0M89.4 117.7h0M73.1 141.3h0M85.3 137.0h0M60.8 148.3h0M67.6 143.5h0M90.5 135.6h0M78.7 157.1h0M84.4 151.6h0M69.2 150.1h0M64.1 168.7h0M64.8 160.6h0M93.1 147.3h0M70.4 161.3h0M70.2 154.8h0M88.5 110.7h0M86.1 119.2h0M75.7 156.5h0M94.1 141.9h0M73.3 155.0h0M99.1 129.0h0M71.5 160.4h0M76.3 166.2h0M81.2 111.2h0M79.3 164.6h0M107.8 140.0h0M78.5 166.2h0M77.4 124.3h0M93.2 145.1h0M83.1 141.8h0M90.7 134.5h0M75.0 141.7h0M64.2 153.3h0M98.5 122.6h0M93.9 128.0h0M96.9 140.7h0M110.0 124.8h0M56.7 164.1h0M95.7 119.8h0M112.3 114.9h0M79.5 142.4h0M109.4 121.9h0M98.9 128.9h0M81.2 151.1h0M70.1 167.9h0M72.8 151.7h0M122.6 112.1h0M95.0 153.5h0M73.3 163.7h0M87.3 153.1h0M53.8 149.9h0M80.2 154.5h0M92.2 140.9h0M52.8 177.6h0M89.9 134.2h0M109.0 134.3h0M89.9 148.9h0M77.2 137.6h0M98.0 139.0h0M71.1 156.8h0M64.9 169.2h0M70.6 156.0h0M85.1 144.8h0M92.5 130.7h0M78.2 143.9h0M92.1 144.6h0M93.1 146.0h0M101.5 135.1h0M67.0 162.4h0M70.1 144.6h0M91.6 129.5h0M78.8 161.4h0M84.9 138.0h0M83.1 153.4h0M77.3 145.5h0M74.6 163.8h0M67.7 162.3h0M99.1 114.9h0M92.1 133.3h0M76.5 139.5h0M87.0 150.8h0M83.0 147.7h0M66.7 153.6h0M95.1 153.9h0M85.6 157.3h0M76.0 156.7h0M87.0 145.0h0M88.1 147.9h0M48.8 175.2h0M81.8 134.6h0M93.5 143.3h0M94.7 140.7h0M68.3 162.6h0M89.4 133.6h0M87.3 125.7h0M50.3 169.2h0M51.0 178.2h0M106.1 136.2h0M72.6 156.1h0M90.2 139.5h0M107.0 107.3h0M81.8 142.2h0M77.7 165.7h0M82.8 149.5h0M98.8 139.6h0M66.8 151.4h0M111.7 136.0h0M106.1 116.6h0M90.7 139.4h0M88.0 153.1h0M86.7 138.3h0M104.8 140.8h0M77.5 172.4h0M106.4 111.6h0M72.3 151.2h0M75.3 161.3h0M68.0 154.0h0M84.3 133.2h0M88.6 110.2h0M68.1 165.7h0M69.8 168.0h0M71.1 141.2h0M67.4 168.1h0M80.3 151.9h0M80.1 153.9h0M78.1 153.2h0M110.6 135.6h0M78.7 167.6h0M81.9 131.2h0M70.2 150.8h0M125.0 122.5h0M120.3 124.7h0M104.2 159.7h0M100.6 149.5h0M77.5 150.7h0M56.6 166.2h0M60.6 166.5h0M60.9 165.8h0M63.6 150.8h0M89.7 141.0h0M120.1 146.0h0M93.0 146.9h0M89.0 140.2h0M82.3 145.7h0M66.8 159.6h0M78.0 143.5h0M94.1 135.1h0M77.1 150.2h0M103.1 167.2h0M85.1 148.6h0M49.3 173.0h0M79.6 155.0h0M75.1 159.1h0M90.8 134.1h0M72.6 150.8h0M86.5 130.6h0M67.2 119.4h0M103.8 150.9h0M76.1 139.6h0M90.4 158.7h0M66.7 160.0h0M86.0 127.3h0M95.3 117.5h0M92.4 148.9h0M103.7 136.8h0M86.8 113.7h0M107.0 109.9h0M60.7 165.4h0M67.7 132.7h0M105.3 146.0h0M97.5 120.6h0M52.7 181.6h0M80.4 150.4h0M84.0 146.2h0M70.0 156.1h0M88.2 127.5h0M80.4 145.6h0M75.6 160.6h0M78.5 164.2h0M61.7 159.2h0M64.6 157.6h0M97.7 140.5h0M76.1 150.8h0M57.5 166.1h0M61.2 161.7h0M74.2 152.7h0M99.3 130.0h0M106.4 84.4h0M81.5 140.5h0M107.7 128.9h0M99.8 160.5h0M109.8 131.2h0M86.9 150.1h0M65.3 175.0h0M87.2 147.8h0M63.9 172.1h0M78.1 143.7h0M104.0 113.3h0M59.9 173.5h0M88.5 145.9h0M72.9 138.0h0M86.2 115.7h0M93.8 127.2h0M103.3 131.2h0M81.5 140.2h0M66.8 154.3h0M109.8 129.9h0M80.6 153.0h0M82.1 157.8h0M137.8 110.5h0M74.1 142.5h0M59.8 171.5h0M76.4 153.1h0M96.1 143.1h0M66.3 142.7h0M85.8 127.4h0M104.1 121.9h0M63.0 140.8h0M74.0 152.2h0M91.7 149.2h0M58.1 165.6h0M77.5 143.4h0M85.2 156.8h0M108.3 127.0h0M84.9 142.0h0M65.2 155.9h0M125.6 120.5h0M77.5 141.6h0M71.2 156.5h0M73.3 153.5h0M81.8 144.5h0M65.0 169.6h0M88.2 152.0h0M72.7 152.6h0M83.4 160.8h0M93.7 144.2h0M92.3 119.6h0M91.1 141.5h0M84.0 158.4h0M93.0 157.6h0M80.1 140.2h0M88.1 151.0h0M56.3 172.0h0M98.6 138.4h0M93.0 141.0h0M126.3 101.4h0M92.0 156.2h0M71.1 158.5h0M70.2 151.1h0M73.7 118.2h0M58.3 154.3h0M88.0 124.6h0M77.6 158.4h0M132.2 115.0h0M101.8 140.1h0M106.4 129.1h0M102.7 130.7h0M73.9 142.6h0M80.9 148.1h0M93.0 136.9h0M82.6 148.9h0M74.9 159.3h0M89.5 119.3h0M115.1 100.9h0M78.7 159.2h0M102.8 143.6h0M84.7 150.5h0M111.8 125.2h0M86.5 155.1h0M94.1 134.4h0M93.4 132.8h0M84.8 160.4h0M91.1 140.5h0M80.9 157.5h0M66.2 157.0h0M70.6 168.7h0M68.2 168.7h0M74.2 159.5h0M95.0 128.0h0M92.7 131.8h0M101.1 150.0h0M74.5 158.6h0M84.5 141.5h0M95.3 124.8h0M116.1 110.2h0M78.7 158.3h0M77.6 158.6h0M92.8 136.5h0M89.8 161.7h0M64.4 168.5h0M59.0 163.8h0M99.5 149.5h0M91.6 152.2h0M105.9 133.2h0M80.2 125.5h0M92.8 141.5h0M58.5 173.1h0M81.2 123.0h0M107.2 140.2h0M93.9 136.9h0M63.2 167.8h0M104.0 140.1h0M71.8 151.3h0M90.3 124.8h0M95.1 133.9h0M121.1 129.0h0M82.1 157.0h0M60.0 172.1h0M113.2 140.2h0M121.0 138.1h0M80.0 145.1h0M104.2 130.5h0M95.3 133.2h0M71.4 164.0h0M82.7 145.9h0M57.8 157.9h0M102.8 141.2h0M90.9 122.7h0M52.6 148.5h0M67.6 138.6h0M74.1 137.0h0M101.8 136.2h0M74.3 140.2h0M78.8 153.4h0M87.9 148.0h0M52.5 173.9h0M87.7 132.3h0M65.3 151.3h0M86.5 151.9h0M64.3 152.7h0M108.8 130.8h0M75.8 153.7h0M72.5 168.7h0M92.7 143.0h0M80.9 152.3h0M104.4 122.3h0M85.7 128.0h0M73.8 158.8h0M83.7 143.2h0M89.7 142.1h0M87.6 134.9h0M97.1 142.2h0M94.3 131.4h0M59.3 167.2h0M103.6 140.0h0M127.2 128.6h0M93.5 138.6h0M74.2 145.8h0M73.5 142.2h0M68.9 153.8h0M88.9 134.5h0M69.6 157.2h0M84.1 142.0h0M68.2 150.4h0M69.2 155.5h0M84.2 127.1h0M57.9 160.6h0M78.3 130.7h0M82.6 175.4h0M86.0 116.5h0M112.3 127.9h0M96.4 149.5h0M93.7 142.6h0M108.8 128.1h0M87.9 141.3h0M73.3 143.5h0M69.2 174.1h0M87.3 144.6h0M76.0 160.9h0M65.9 153.3h0M103.5 120.7h0M82.8 152.3h0M71.6 171.4h0M92.4 153.7h0M68.8 164.8h0M71.9 165.2h0M76.8 171.1h0M94.8 131.8h0M99.9 116.4h0M63.8 159.8h0M87.3 142.7h0M78.6 126.3h0M63.8 153.4h0M90.2 125.4h0M118.9 124.9h0M86.0 123.8h0M115.2 119.6h0M71.6 153.7h0M72.4 156.9h0M103.2 122.1h0M104.5 125.3h0M90.6 157.1h0M68.0 158.2h0M70.1 155.1h0M86.9 157.3h0M89.8 148.4h0M111.5 124.8h0M93.1 143.5h0M71.5 163.9h0M94.3 146.3h0M73.4 172.3h0M99.3 129.7h0M79.4 156.0h0M79.3 123.1h0M113.2 144.8h0M90.1 121.2h0M76.9 151.0h0M87.1 144.5h0M93.7 137.8h0M72.9 165.4h0M85.9 120.6h0M84.8 128.9h0M66.0 161.9h0M81.6 121.2h0M91.8 134.2h0M58.7 165.6h0M84.8 121.6h0M102.4 132.4h0M90.8 121.3h0M68.5 148.1h0M58.8 172.1h0M77.0 172.3h0M70.3 163.9h0M84.6 132.5h0M90.9 150.5h0M80.6 145.7h0M70.8 144.8h0M80.5 152.0h0M112.2 100.5h0M85.3 160.2h0M109.4 155.1h0M88.3 139.2h0M96.5 157.2h0M85.7 161.0h0M105.4 149.4h0M72.6 128.7h0M97.4 136.1h0M115.4 115.7h0M84.8 131.8h0M96.5 138.2h0M67.9 156.9h0M71.7 139.0h0M85.6 130.0h0M65.3 151.7h0M79.1 144.7h0M76.0 151.2h0M89.2 143.1h0M76.1 163.1h0M81.5 165.0h0M138.3 102.5h0M63.0 157.4h0M82.4 147.9h0M74.9 141.5h0M100.5 131.6h0M79.9 149.0h0M109.9 130.2h0M87.2 152.3h0M90.3 145.9h0M56.6 155.8h0M113.9 112.4h0M90.5 141.5h0M78.0 131.2h0M84.1 138.5h0M87.2 133.3h0M69.6 144.9h0M99.9 121.9h0M93.1 134.0h0M86.9 150.0h0M70.8 163.4h0M91.5 132.1h0M77.4 149.3h0M120.5 127.5h0M87.6 141.1h0M86.9 148.7h0M68.1 152.8h0M78.6 147.4h0M66.8 163.4h0M70.6 139.9h0M78.1 148.7h0M106.5 127.5h0M82.4 152.4h0M83.3 158.5h0M88.1 137.9h0M64.0 163.8h0M66.7 153.5h0M96.5 136.0h0M92.8 135.7h0M59.5 166.0h0M55.5 153.4h0M75.8 165.3h0M100.7 127.4h0M56.7 169.1h0M77.7 164.5h0M111.1 111.9h0M107.5 134.1h0M124.3 125.7h0M79.5 151.5h0M83.9 130.7h0M128.4 127.3h0M94.9 164.8h0M84.8 132.9h0M87.3 157.4h0M72.4 149.3h0M94.2 141.1h0M108.4 114.3h0M82.7 163.7h0M62.0 165.3h0M86.8 167.1h0M103.5 142.9h0M116.2 123.1h0M89.9 134.7h0M70.9 153.6h0M89.8 156.4h0M97.4 129.7h0M83.2 144.8h0M87.8 154.8h0M95.4 129.3h0M94.4 162.7h0M55.7 173.7h0M114.1 125.0h0M71.5 163.8h0M82.6 151.5h0M79.7 162.8h0M90.8 138.3h0M68.1 163.6h0M56.7 164.9h0M94.8 129.5h0M112.5 146.4h0M95.1 139.6h0M87.9 120.7h0M119.6 122.3h0M110.8 144.9h0M99.1 116.0h0M75.5 137.2h0M63.6 156.1h0M83.9 146.6h0M91.9 128.1h0M75.3 159.6h0M80.2 156.8h0M79.9 140.0h0M89.2 131.0h0M85.7 122.6h0M77.6 154.0h0M84.5 129.4h0M88.9 138.6h0M95.3 165.2h0M95.4 148.6h0M91.0 149.4h0M80.8 152.3h0M86.2 144.8h0M62.1 172.5h0M90.8 164.4h0M81.8 152.0h0M71.4 171.7h0M84.7 154.5h0M89.3 142.2h0M80.9 158.4h0M84.2 149.9h0M96.2 141.7h0M89.8 142.8h0M78.6 156.5h0M94.2 142.3h0M112.9 145.6h0M78.6 160.3h0M69.9 158.6h0M77.5 145.8h0M80.4 153.0h0M71.1 155.6h0M112.9 131.9h0M68.6 151.5h0M88.2 166.4h0M78.7 144.1h0M96.1 152.9h0M72.7 153.1h0M71.8 169.0h0M94.9 118.0h0M90.7 135.4h0M83.9 153.0h0M87.9 158.2h0M91.3 115.6h0M89.4 150.7h0M75.9 141.7h0M97.7 135.9h0M92.8 151.1h0M84.8 145.6h0M59.8 162.2h0M53.8 175.1h0M91.5 133.8h0M74.7 163.1h0M114.6 118.6h0M86.9 110.4h0M113.6 115.0h0M82.0 149.1h0M95.4 111.2h0M61.9 162.5h0M70.8 157.3h0M80.5 150.0h0M69.9 160.9h0M85.2 148.8h0M101.4 132.2h0M121.2 115.2h0M81.3 115.7h0M97.6 108.2h0M95.2 139.4h0M77.7 151.5h0M67.7 154.5h0M60.3 164.4h0M68.7 164.9h0M76.5 132.7h0M87.8 119.6h0M49.7 167.1h0M74.0 170.5h0M86.8 157.4h0M70.9 154.8h0M84.3 145.4h0M61.2 148.6h0M71.8 151.0h0M64.9 165.6h0M85.4 137.0h0M83.1 165.1h0M73.9 157.8h0M88.4 163.3h0M79.7 139.0h0M90.4 146.9h0M48.3 181.3h0M96.1 136.7h0M89.6 135.5h0M88.8 139.3h0M91.6 161.5h0M86.0 140.3h0M84.2 172.3h0M74.5 155.3h0M91.9 137.9h0M83.7 149.0h0M94.1 141.8h0M98.0 113.3h0M75.3 150.8h0M87.0 144.7h0M82.5 159.4h0M119.0 123.3h0M87.1 149.3h0M82.0 152.4h0M92.8 156.2h0M68.7 156.4h0M79.8 133.5h0M86.8 159.9h0M75.9 152.0h0M82.2 145.6h0M74.0 157.8h0M62.5 170.0h0M71.9 157.4h0M75.0 156.9h0M73.0 158.3h0M102.2 105.9h0M103.3 127.0h0M74.4 143.9h0M77.8 164.9h0M64.7 160.9h0M89.6 137.5h0M84.0 138.5h0M76.9 148.1h0M87.5 134.5h0M102.4 147.2h0M94.8 132.6h0M65.0 171.5h0M71.3 148.1h0M86.7 142.9h0M100.8 126.9h0M89.4 152.1h0M67.9 159.3h0M81.2 151.6h0M51.8 169.0h0M78.0 148.4h0M105.3 153.9h0M106.3 125.3h0M75.5 163.0h0M57.6 157.8h0M113.5 154.3h0M71.9 148.0h0M116.0 111.8h0M90.5 134.4h0M58.4 160.7h0M112.4 138.1h0M104.8 114.0h0M82.1 149.6h0M58.2 173.4h0M82.5 133.1h0M74.1 150.3h0M89.8 144.0h0M96.5 145.6h0M81.1 151.1h0M106.1 133.1h0M58.4 175.4h0M49.9 170.4h0M79.8 168.3h0M100.9 129.0h0M100.2 123.9h0M80.0 162.3h0M101.6 135.4h0M103.9 134.5h0M88.1 146.6h0M95.7 146.8h0M87.5 154.0h0M111.8 154.9h0M92.7 131.1h0M117.7 102.4h0M83.0 139.9h0M49.5 179.6h0M54.4 167.1h0M70.5 138.6h0M86.3 151.7h0M62.6 165.2h0M91.1 162.9h0M76.5 152.7h0M82.9 145.4h0M89.0 147.6h0M115.7 120.6h0M89.5 111.0h0M78.1 117.7h0M65.8 160.3h0M56.7 163.9h0M73.2 159.9h0M84.4 144.0h0M74.8 144.5h0M74.1 155.4h0M67.2 163.1h0M96.5 142.8h0M99.1 154.6h0M91.5 125.3h0M81.2 126.8h0M91.2 146.1h0M78.2 148.0h0M67.5 167.7h0M75.7 146.1h0M115.4 140.8h0M76.3 131.2h0M62.3 158.2h0M87.6 147.3h0M104.1 147.5h0M82.2 136.9h0M81.4 161.5h0M84.2 152.3h0M81.8 166.5h0M63.2 168.5h0M88.2 144.2h0M112.7 134.5h0M117.8 101.0h0M99.4 115.0h0M104.0 145.8h0M73.4 159.9h0M76.2 146.3h0M83.7 144.9h0M105.3 129.2h0M86.4 135.5h0M64.8 179.8h0M87.1 151.8h0M84.9 137.6h0M83.6 140.9h0M56.3 179.7h0M94.7 134.7h0M86.7 132.0h0M95.2 151.6h0M111.8 136.0h0M84.1 157.4h0M109.7 141.6h0M97.0 100.1h0M82.6 132.0h0M92.2 125.9h0M115.0 141.2h0M97.8 134.8h0M77.6 150.8h0M124.7 105.0h0M86.0 148.5h0M85.0 135.9h0M128.6 143.8h0M101.1 120.2h0M97.0 122.8h0M75.1 139.5h0M83.9 135.2h0M58.7 152.8h0M73.2 148.7h0M62.9 180.4h0M65.4 158.3h0M82.8 123.9h0M84.6 144.0h0M86.1 141.5h0M82.8 123.9h0M84.7 122.3h0M78.1 137.0h0M83.7 166.9h0M75.9 146.8h0M81.6 150.4h0M79.2 147.5h0M74.6 143.3h0M74.3 159.4h0M81.6 143.4h0M77.1 153.8h0M129.4 94.2h0M72.0 157.7h0M83.8 146.6h0M65.7 167.3h0M130.2 122.4h0M75.0 156.4h0M90.8 158.1h0M106.3 141.0h0M88.6 120.4h0M60.8 163.1h0M90.3 155.5h0M75.8 157.5h0M86.3 113.4h0M91.1 127.7h0M104.3 129.6h0M72.7 145.0h0M79.3 147.1h0M120.2 125.6h0M59.9 164.6h0M77.0 148.6h0M67.9 165.1h0M90.6 129.6h0M86.7 161.8h0M86.4 149.4h0M84.7 157.2h0M87.1 154.6h0M64.1 161.1h0M82.6 153.4h0M79.0 129.9h0M67.2 153.7h0M64.3 150.8h0M78.0 157.8h0M101.5 135.2h0M89.6 156.7h0M92.3 131.9h0M99.7 148.5h0M75.4 150.9h0M66.8 153.9h0M109.4 126.1h0M59.1 170.1h0M89.4 145.0h0M77.4 152.2h0M92.4 145.2h0M65.0 161.6h0M68.9 172.2h0M99.6 134.4h0M71.1 166.1h0M83.7 121.7h0M83.7 129.4h0M87.8 137.9h0M105.2 147.4h0M74.0 153.9h0M66.0 160.2h0M105.1 120.6h0M80.1 164.4h0M101.8 108.7h0M79.3 143.9h0M88.2 156.6h0M74.3 159.9h0M81.2 145.4h0M72.1 147.4h0M82.5 155.9h0M65.3 157.9h0M92.5 129.2h0M63.3 168.3h0M100.2 129.8h0M63.1 137.1h0M83.7 144.7h0M68.9 163.9h0M102.1 146.7h0M90.8 133.6h0M73.8 157.3h0M94.4 131.1h0M83.1 142.9h0M92.7 149.2h0M74.3 153.2h0M88.6 139.9h0M104.3 131.1h0M66.6 167.2h0M52.9 178.4h0M88.8 150.2h0M71.9 151.2h0M99.5 146.1h0M84.4 144.6h0M65.0 154.2h0M58.5 169.3h0M90.5 155.9h0M74.7 158.1h0M78.9 166.5h0M66.4 150.6h0M106.8 121.3h0M82.5 139.3h0M74.4 167.7h0M88.2 154.6h0M62.0 159.8h0M55.8 164.6h0M101.0 139.4h0M63.2 154.7h0M82.5 126.9h0M98.1 139.4h0M82.3 152.2h0M84.9 150.3h0M84.2 138.9h0M93.9 136.6h0M59.9 157.6h0M80.0 136.3h0M82.5 154.1h0M58.0 157.9h0M58.2 157.4h0M81.7 155.2h0M92.3 139.5h0M91.2 142.7h0M89.7 143.1h0M101.8 134.2h0M129.7 116.3h0M67.5 156.2h0M67.4 151.2h0M81.8 135.6h0M79.3 141.6h0M91.4 144.8h0M90.0 116.3h0M80.6 150.1h0M91.7 144.6h0M66.7 157.6h0M80.8 147.7h0M72.7 146.7h0M63.3 159.4h0M88.7 157.8h0M89.1 158.6h0M98.3 123.5h0M89.0 140.0h0M59.5 161.0h0M97.8 134.6h0M49.0 181.4h0M84.8 148.5h0M86.2 138.5h0M75.0 153.9h0M70.7 161.8h0M78.5 139.0h0M92.9 145.4h0M63.7 145.3h0M62.8 171.5h0M84.1 149.7h0M95.6 126.6h0M92.0 121.8h0M97.9 135.2h0M76.2 137.7h0M79.4 151.3h0M113.4 122.9h0M100.3 141.9h0M71.6 151.2h0M59.8 170.4h0M79.5 146.7h0M95.5 112.3h0M88.1 149.9h0M120.7 103.0h0M69.0 152.9h0M78.8 153.4h0M103.7 128.2h0M104.3 153.9h0M92.6 127.3h0M56.3 160.3h0M73.7 134.3h0M77.8 144.4h0M63.1 158.4h0M86.2 138.3h0M75.6 159.0h0M116.6 135.8h0M78.9 140.7h0M68.4 164.0h0M84.9 126.8h0M95.9 141.8h0M85.6 141.7h0M74.9 153.1h0M77.8 147.2h0M76.4 153.9h0M94.6 138.5h0M102.2 145.3h0M102.5 134.5h0M92.3 121.5h0M88.2 116.6h0M73.5 147.0h0M100.6 126.4h0M121.9 133.4h0M97.5 148.2h0M84.6 142.0h0M85.2 142.5h0M75.7 155.2h0M58.1 163.1h0M114.6 138.3h0M89.3 154.5h0M72.2 148.6h0M98.9 121.1h0M90.7 143.7h0M90.2 142.3h0M126.0 140.5h0M70.8 145.9h0M85.1 144.6h0M90.5 116.6h0M93.8 119.9h0M68.0 147.6h0M101.8 139.8h0M100.5 147.7h0M77.6 154.6h0M77.2 150.8h0M122.8 116.0h0M84.4 155.6h0M60.6 168.5h0M84.7 131.0h0M88.5 118.0h0M89.0 147.7h0M79.8 134.2h0M51.7 176.1h0M82.5 142.1h0M95.0 122.3h0M72.6 158.4h0M101.8 114.0h0M89.4 138.1h0M88.5 141.4h0M90.4 123.7h0M88.0 151.3h0M83.8 155.8h0M88.6 149.5h0M84.5 149.9h0M54.2 170.9h0M121.1 136.2h0M91.3 142.4h0M64.3 139.4h0M97.3 154.5h0M69.7 157.4h0M104.6 119.8h0M63.2 141.7h0M89.4 139.3h0M65.0 160.3h0M86.5 143.4h0M97.7 148.3h0M69.0 157.1h0M86.0 152.8h0M89.6 152.7h0M114.8 146.6h0M82.1 132.5h0M91.8 144.3h0M72.2 138.7h0M92.4 147.1h0M111.9 118.7h0M91.2 153.0h0M101.2 113.0h0M103.5 146.1h0M55.1 164.1h0M87.3 156.3h0M94.7 162.0h0M111.4 127.6h0M78.1 157.1h0M87.5 124.7h0M73.9 149.7h0M75.5 153.2h0M108.5 126.2h0M68.7 172.1h0M106.2 156.6h0M81.6 156.1h0M86.7 143.0h0M62.3 152.4h0M101.4 144.8h0M68.6 168.1h0M63.1 161.1h0M75.4 142.5h0M71.3 161.5h0M72.5 143.4h0M84.6 136.4h0M78.0 168.2h0M74.0 156.5h0M98.8 155.1h0M93.3 137.0h0M65.8 158.4h0M95.6 152.9h0M80.5 169.8h0M68.4 151.2h0M58.5 177.2h0M87.6 154.7h0M78.8 153.0h0M126.3 116.7h0M104.7 113.4h0M85.2 148.2h0M106.2 130.8h0M75.8 136.6h0M68.0 156.9h0M54.2 178.8h0M88.6 133.2h0M79.2 140.0h0M55.3 161.1h0M99.4 142.1h0M90.7 131.8h0M78.3 149.1h0M89.0 130.7h0M49.0 163.2h0M72.3 154.0h0M77.5 147.8h0M90.5 123.5h0M96.4 146.3h0M86.9 133.2h0M94.4 121.1h0M64.3 156.7h0M113.4 119.8h0M92.9 157.6h0M92.7 146.3h0M91.0 150.0h0M80.5 165.7h0M90.1 126.9h0M89.0 136.0h0M108.7 112.2h0M86.0 132.7h0M78.8 162.1h0M85.1 141.1h0M95.5 154.3h0M68.7 160.7h0M68.0 168.1h0M78.3 146.6h0M80.3 155.0h0M73.1 158.2h0M61.7 156.8h0M90.1 145.4h0M83.0 156.0h0M68.0 169.3h0M72.6 150.8h0M93.0 137.9h0M82.4 155.6h0M79.7 140.5h0M101.1 120.8h0M81.2 144.7h0M66.1 149.2h0M62.5 163.2h0M92.7 118.5h0M53.5 167.0h0M75.6 147.1h0M71.1 158.2h0M61.9 164.8h0M103.7 115.0h0M75.1 146.6h0M96.8 125.1h0M93.0 147.4h0M68.4 147.0h0M89.4 150.0h0M71.2 143.6h0M80.3 126.1h0M80.3 143.6h0M92.9 139.1h0M98.2 124.3h0M88.0 143.9h0M80.3 132.5h0M74.6 163.6h0M76.8 123.9h0M55.8 161.7h0M81.4 138.1h0M57.2 160.0h0M73.0 132.2h0M88.2 155.5h0M90.2 129.7h0M92.6 130.4h0M78.3 147.7h0M85.0 165.9h0M54.3 170.5h0M58.8 169.9h0M101.7 126.2h0M80.4 132.3h0M59.5 169.1h0M99.7 116.9h0M83.6 153.5h0M81.5 145.2h0M78.3 130.1h0M95.6 146.7h0M98.3 161.9h0M58.6 166.5h0M89.4 147.7h0M84.6 152.5h0M93.2 148.7h0M74.3 146.2h0M77.4 153.1h0M70.7 158.0h0M113.7 142.5h0M61.8 169.5h0M78.6 136.1h0M86.6 150.2h0M76.2 151.2h0M85.7 135.2h0M100.7 147.8h0M76.5 151.0h0M90.6 151.4h0M131.9 101.1h0M61.3 160.6h0M97.0 154.0h0M64.8 173.7h0M103.6 132.8h0M68.2 161.0h0M93.5 135.5h0M96.6 122.4h0M86.1 162.1h0M56.5 153.8h0M78.4 151.6h0M71.8 161.7h0M99.8 151.5h0M101.0 144.8h0M84.6 158.9h0M98.8 132.0h0M85.7 138.2h0M90.3 130.3h0M67.3 153.3h0M89.4 147.9h0M60.6 150.2h0M57.8 174.2h0M77.2 144.7h0M102.5 114.9h0M96.7 132.4h0M67.8 156.9h0M104.0 118.9h0M81.3 143.0h0M83.7 152.6h0M59.0 156.2h0M97.7 137.7h0M74.9 145.7h0M101.8 149.2h0M91.4 139.5h0M100.0 155.5h0M82.0 142.0h0M75.9 166.6h0M81.1 107.0h0M64.0 146.9h0M79.9 149.4h0M83.0 141.9h0M71.1 151.0h0M96.1 128.3h0M58.7 173.3h0M135.3 128.9h0M82.7 154.6h0M88.2 134.1h0M98.8 127.9h0M72.4 161.4h0M66.4 136.5h0M103.1 136.9h0M70.9 145.5h0M93.6 159.7h0M58.8 172.7h0M59.9 173.6h0M103.2 136.5h0M90.0 138.5h0M82.0 147.5h0M70.6 163.0h0M94.8 153.2h0M92.4 147.2h0M95.2 153.8h0M79.7 156.4h0M63.8 168.2h0M93.1 147.0h0M75.0 155.4h0M110.6 130.4h0M59.4 178.8h0M89.5 150.6h0M72.2 154.7h0M67.1 156.6h0M80.6 122.8h0M102.6 132.6h0M83.2 158.5h0M91.7 132.7h0M72.1 148.7h0M76.5 159.1h0M84.2 143.0h0M85.6 152.5h0M79.3 144.8h0M61.9 149.9h0M103.6 142.3h0M84.2 136.1h0M88.6 163.8h0M61.6 166.5h0M54.5 172.7h0M89.4 161.5h0M69.2 148.6h0M83.9 146.7h0M56.2 162.2h0M93.0 154.0h0M77.3 145.9h0M72.1 155.9h0M99.7 151.9h0M82.4 129.7h0M105.5 142.0h0M71.4 163.7h0M92.8 149.6h0M86.0 136.0h0M59.7 153.0h0M68.4 168.7h0M112.3 124.9h0M70.8 141.9h0M77.3 147.8h0M84.7 126.5h0M71.3 147.1h0M63.3 159.0h0M68.1 148.0h0M84.4 147.3h0M91.3 134.0h0M77.8 145.8h0M96.3 133.6h0M68.3 152.1h0M77.5 153.9h0M91.1 145.5h0M113.3 128.7h0M99.7 140.4h0M106.0 131.2h0M56.5 173.5h0M86.6 136.7h0M89.6 130.9h0M102.9 163.9h0M58.5 150.6h0M105.5 141.6h0M85.8 130.6h0M105.8 117.8h0M69.5 149.3h0M68.6 169.1h0M91.4 146.3h0M92.2 136.3h0M83.8 138.0h0M108.8 130.2h0M76.9 148.5h0M68.3 163.7h0M79.8 164.3h0M95.1 140.3h0M83.2 161.0h0M70.7 154.3h0M73.5 162.2h0M91.7 138.4h0M84.9 137.9h0M82.5 159.7h0M78.3 141.7h0M104.2 140.2h0M68.4 148.2h0M106.6 126.4h0M92.0 140.9h0M62.2 170.4h0M62.0 167.9h0M94.7 141.2h0M91.0 150.0h0M62.8 137.2h0M61.0 157.3h0M90.1 141.6h0M55.6 174.9h0M90.3 130.4h0M65.1 153.0h0M93.9 151.2h0M78.7 154.0h0M104.5 145.1h0M50.3 179.0h0M71.9 154.7h0M91.8 138.3h0M80.4 147.6h0M107.4 122.1h0M81.2 127.4h0M96.5 175.3h0M110.8 133.0h0M98.8 133.0h0M93.8 125.3h0M78.7 152.2h0M69.0 163.3h0M81.5 149.0h0M84.9 154.8h0M65.9 148.2h0M83.0 160.6h0M100.4 149.0h0M109.3 138.7h0M81.9 165.5h0M92.3 134.6h0M54.9 169.3h0M103.7 134.7h0M123.2 112.0h0M84.6 140.2h0M87.2 134.3h0M78.0 130.5h0M118.0 143.4h0M62.9 156.4h0M106.2 129.9h0M67.0 153.0h0M71.9 163.3h0M80.6 149.1h0M87.4 142.1h0M82.0 147.4h0M85.2 142.9h0M63.1 161.9h0M86.6 120.2h0M99.2 133.2h0M87.3 145.1h0M101.1 115.0h0M90.1 115.3h0M92.9 130.5h0M63.2 150.9h0M74.9 142.2h0M81.9 128.0h0M82.9 133.9h0M72.6 140.9h0M79.2 156.8h0M125.1 110.3h0M105.0 122.6h0M82.9 144.9h0M73.8 158.7h0M81.7 125.9h0M99.4 113.6h0M100.1 128.7h0M108.1 115.0h0M86.6 147.5h0M90.5 135.0h0M81.6 151.7h0M79.7 143.1h0M84.8 148.3h0M72.7 158.4h0M95.7 116.9h0M59.2 168.9h0M87.5 144.1h0M70.9 154.7h0M55.7 171.0h0M97.2 144.2h0M61.0 159.1h0M78.4 145.8h0M100.6 139.3h0M75.9 155.0h0M99.0 137.3h0M90.2 154.0h0M85.0 140.2h0M71.9 175.4h0M79.8 132.8h0M87.0 162.9h0M110.9 132.9h0M98.3 147.0h0M69.7 150.0h0M61.2 149.7h0M69.8 175.3h0M104.6 152.0h0M103.0 119.1h0M71.6 150.6h0M92.9 140.1h0M84.3 149.0h0M79.3 150.8h0M94.4 141.9h0M66.9 155.0h0M86.2 160.1h0M100.1 128.5h0M65.8 176.1h0M75.0 151.4h0M81.5 143.6h0M78.8 152.1h0M87.6 140.9h0M102.2 141.4h0M111.5 134.4h0M50.1 181.8h0M120.0 123.2h0M71.1 158.4h0M98.7 117.3h0M89.1 157.5h0M83.6 152.5h0M86.7 153.9h0M133.5 112.1h0M92.6 118.2h0M74.2 144.3h0M93.8 153.7h0M101.3 131.3h0M92.0 124.6h0M72.1 141.1h0M88.1 161.0h0M59.8 170.2h0M111.5 157.2h0M121.6 118.3h0M102.4 135.2h0M75.1 144.2h0M96.2 150.8h0M70.1 138.3h0M111.7 137.2h0M64.7 155.3h0M75.3 171.6h0M58.4 176.8h0M101.0 152.7h0M77.4 160.5h0M95.2 125.6h0M93.7 137.0h0M116.5 143.2h0M78.3 159.4h0M78.6 136.1h0M84.7 143.9h0M92.4 133.5h0M77.5 150.0h0M74.5 161.7h0M70.6 155.1h0M95.6 138.1h0M95.3 146.4h0M93.7 142.9h0M74.3 148.5h0M87.8 155.1h0M98.3 148.0h0M87.6 135.3h0M59.3 169.1h0M78.7 166.5h0M119.9 109.8h0M84.1 149.9h0M86.6 144.3h0M82.9 151.2h0M72.1 168.1h0M62.3 151.8h0M81.8 139.3h0M75.5 150.4h0M117.9 111.1h0M70.6 171.1h0M57.8 173.5h0M79.5 156.0h0M66.7 144.4h0M111.5 132.1h0M84.9 151.0h0M98.4 145.6h0M71.4 166.3h0M106.9 127.3h0M90.8 134.1h0M113.2 133.9h0M68.7 133.2h0M86.2 127.2h0M89.5 132.5h0M110.4 147.2h0M80.2 159.9h0M96.8 147.4h0M73.4 154.1h0M108.0 123.7h0M74.7 159.0h0M68.0 150.7h0M69.0 150.0h0M89.8 120.2h0M68.9 171.1h0M73.8 164.4h0M102.0 138.6h0M70.2 158.9h0M70.7 161.0h0M80.8 136.5h0M123.2 111.8h0M59.9 160.1h0M81.3 155.6h0M73.6 153.6h0M82.2 152.7h0M79.8 144.1h0M71.5 161.5h0M100.2 142.8h0M107.3 129.1h0M57.2 181.2h0M109.4 131.6h0M80.4 121.6h0M83.7 147.3h0M68.9 144.7h0M56.1 175.2h0M81.0 131.6h0M82.8 147.4h0M89.8 152.6h0M77.7 132.0h0M53.0 175.3h0M86.5 145.7h0M97.9 149.8h0M94.0 140.9h0M97.8 123.0h0M100.3 121.9h0M104.3 152.2h0M99.9 119.2h0M91.7 147.9h0M61.5 162.7h0M76.0 132.1h0M111.7 99.3h0M91.7 147.3h0M77.7 138.7h0M63.7 151.0h0M86.5 148.2h0M68.9 153.2h0M82.5 155.9h0M96.5 158.5h0M67.7 158.5h0M64.2 158.7h0M110.8 128.8h0M94.3 132.9h0M100.1 138.9h0M90.8 129.3h0M82.4 137.1h0M81.9 154.8h0M54.4 168.3h0M97.9 139.4h0M67.9 132.9h0M102.4 134.4h0M62.0 157.7h0M82.5 139.7h0M108.0 130.2h0M88.4 159.3h0M68.3 177.0h0M69.5 159.7h0M78.7 157.4h0M81.8 171.4h0M89.1 143.2h0M103.4 116.2h0M74.7 164.6h0M103.9 140.5h0M80.6 142.6h0M121.0 132.7h0M107.6 144.7h0M108.2 109.9h0M89.6 141.6h0M76.2 171.8h0M107.8 129.5h0M91.1 142.5h0M92.7 149.0h0M94.3 123.1h0M81.7 152.8h0M105.1 127.8h0M53.8 175.4h0M95.3 129.2h0M78.4 139.5h0M74.4 145.3h0M77.4 162.0h0M100.4 134.4h0M77.6 159.6h0M105.2 137.6h0M73.1 145.6h0M73.1 159.5h0M86.4 142.8h0M118.1 112.4h0M80.7 157.5h0M91.4 155.4h0M68.8 144.3h0M82.0 162.3h0M67.4 149.3h0M105.8 115.3h0M101.7 115.2h0M85.3 152.4h0M79.4 151.8h0M73.3 152.0h0M99.0 126.3h0M100.9 140.9h0M83.7 143.0h0M81.4 142.8h0M80.0 141.4h0M98.2 136.5h0M84.9 154.4h0M95.0 144.8h0M73.5 161.4h0M72.2 158.9h0M79.2 148.3h0M87.7 143.1h0M95.5 137.2h0M87.5 153.9h0M111.5 157.4h0M97.1 144.1h0M89.7 144.3h0M103.1 131.8h0M85.9 131.6h0M102.5 123.4h0M79.7 145.8h0M84.5 160.7h0M55.7 178.8h0M94.4 151.5h0M66.7 163.5h0M70.2 168.1h0M56.0 166.3h0M84.9 158.1h0M82.5 135.4h0M88.6 135.9h0M96.2 89.0h0M72.0 164.9h0M69.8 147.8h0M59.0 160.1h0M76.7 146.0h0M89.2 146.9h0M74.4 146.0h0M66.0 157.3h0M87.5 142.5h0M69.4 158.5h0M100.3 114.2h0M95.9 155.0h0M90.4 128.2h0M83.8 132.5h0M84.7 156.7h0M90.1 142.0h0M70.0 157.8h0M58.7 168.1h0M78.7 150.6h0M116.9 122.1h0M68.9 157.9h0M64.4 156.7h0M118.0 118.1h0M79.3 158.0h0M92.3 153.4h0M62.9 169.7h0M78.5 142.0h0M100.9 136.6h0M79.5 145.4h0M76.3 140.6h0M71.7 132.6h0M92.6 125.5h0M83.7 149.7h0M76.3 149.3h0M98.9 123.7h0M117.8 140.2h0M95.1 154.6h0M60.9 160.8h0M82.4 129.3h0M76.9 131.5h0M110.1 86.6h0M76.1 162.8h0M66.1 159.0h0M93.9 143.8h0M89.7 139.1h0M61.2 172.6h0M77.0 158.7h0M82.9 148.1h0M68.0 145.9h0M83.6 166.6h0M95.2 144.3h0M64.2 168.1h0M84.1 152.3h0M67.5 155.4h0M84.5 152.1h0M61.2 151.4h0M79.0 135.9h0M72.8 133.9h0M69.1 156.5h0M91.0 138.9h0M95.5 142.8h0M113.7 140.8h0M71.4 165.6h0M67.6 161.4h0M90.0 136.9h0M71.7 131.7h0M87.2 141.2h0M89.1 137.6h0M91.7 139.0h0M63.9 166.8h0M93.4 123.9h0M78.1 154.5h0M75.9 155.1h0M82.3 157.7h0M89.8 126.5h0M90.7 145.4h0M77.9 131.9h0M95.4 127.7h0M76.4 150.6h0M70.0 157.8h0M61.0 180.5h0M97.6 147.7h0M82.0 137.9h0M79.3 156.1h0M60.6 131.3h0M110.2 124.1h0M65.2 160.6h0M77.2 166.0h0M122.4 110.8h0M86.3 133.6h0M86.5 164.6h0M50.6 177.5h0M77.4 154.2h0M78.4 131.0h0M73.0 153.4h0M93.8 148.9h0M87.3 146.7h0M115.5 128.9h0M62.3 160.9h0M90.5 142.2h0M60.7 170.7h0M96.4 136.6h0M86.1 147.2h0M88.4 129.2h0M91.3 146.0h0M149.4 122.0h0M80.0 133.7h0M75.0 164.6h0M78.1 151.4h0M84.3 148.4h0M89.4 128.8h0M111.4 144.6h0M77.2 140.0h0M93.0 128.8h0M85.5 143.1h0M106.4 136.7h0M100.9 151.6h0M71.6 147.8h0M75.9 155.8h0M77.3 150.2h0M100.1 109.3h0M71.0 161.3h0M75.7 160.4h0M113.7 107.5h0M82.2 163.8h0M79.6 146.3h0M112.9 142.8h0M67.9 160.9h0M84.8 142.2h0M68.7 143.2h0M109.2 120.3h0M64.5 166.2h0M83.3 159.0h0M75.5 137.8h0M91.0 125.1h0M68.4 147.8h0M102.4 137.2h0M93.2 154.0h0M73.0 143.4h0M99.9 123.2h0M78.7 151.7h0M115.1 114.3h0M96.6 130.7h0M103.4 118.8h0M95.3 128.6h0M68.2 178.4h0M67.8 166.6h0M77.6 130.6h0M77.4 177.3h0M64.8 144.8h0M87.4 146.5h0M68.1 154.9h0M108.1 133.1h0M85.1 141.4h0M92.6 138.9h0M101.6 133.0h0M80.7 164.9h0M89.2 137.8h0M72.7 150.6h0M99.1 117.3h0M76.6 147.1h0M77.3 157.3h0M85.2 145.5h0M102.3 146.6h0M76.0 154.0h0M86.0 131.1h0M82.4 147.8h0M79.8 148.9h0M81.2 148.5h0M96.2 129.0h0M97.6 142.1h0M89.6 137.4h0M98.2 133.7h0M83.9 163.0h0M114.7 131.0h0M71.4 140.0h0M126.6 134.8h0M90.6 106.4h0M104.3 124.1h0M88.1 138.3h0M115.8 98.1h0M95.9 122.9h0M94.8 133.5h0M119.2 116.0h0M93.1 132.8h0M90.4 133.8h0M60.1 168.4h0M55.8 175.6h0M95.2 145.2h0M96.9 150.4h0M103.2 135.3h0M96.6 135.6h0M57.2 172.5h0M86.8 141.7h0M113.3 149.2h0M127.6 121.5h0M70.1 151.0h0M79.4 159.4h0M79.8 159.1h0M62.5 147.0h0M55.7 165.5h0M69.9 154.3h0M96.1 112.6h0M82.5 168.0h0M56.7 168.7h0M85.5 158.4h0M79.8 164.8h0M107.8 151.3h0M66.0 146.6h0M93.0 151.2h0M67.0 152.7h0M66.4 171.1h0M92.0 141.0h0M97.5 140.4h0M80.6 143.3h0M102.3 121.7h0M74.9 161.8h0M79.2 143.5h0M82.0 145.2h0M97.7 149.1h0M66.1 168.5h0M62.5 159.8h0M94.6 149.3h0M71.7 161.4h0M78.5 147.6h0M92.0 138.3h0M95.8 124.6h0M49.8 174.3h0M72.1 157.8h0M98.1 129.0h0M100.6 142.9h0M82.8 130.0h0M95.5 136.8h0M63.7 159.4h0M84.1 139.1h0M69.9 166.0h0M85.8 151.9h0M65.9 139.4h0M70.2 141.8h0M80.5 152.2h0M75.4 153.3h0M82.8 152.9h0M88.7 137.0h0M73.3 156.4h0M90.7 137.2h0M91.4 153.3h0M94.0 133.3h0M113.6 100.5h0M77.8 159.7h0M70.3 155.2h0M101.5 141.3h0M87.7 136.2h0M91.2 143.6h0M64.0 170.4h0M128.1 97.0h0M82.8 144.4h0M62.4 166.1h0M48.2 180.0h0M110.1 102.7h0M90.0 136.9h0M91.6 153.1h0M72.8 168.9h0M84.4 141.6h0M72.6 151.4h0M50.1 179.6h0M119.3 94.6h0M86.3 143.5h0M84.0 147.5h0M70.8 168.1h0M72.7 147.9h0M94.4 101.7h0M80.5 128.3h0M79.0 152.3h0M100.9 122.8h0M91.2 133.1h0M93.8 118.0h0M78.2 151.9h0M82.9 143.4h0M74.3 139.7h0M83.6 143.1h0M71.9 164.2h0M72.7 159.4h0M71.4 146.0h0M66.5 167.5h0M85.3 146.0h0M80.7 152.3h0M96.9 144.0h0M75.8 141.4h0M90.0 156.7h0M72.5 143.9h0M94.3 134.2h0M101.5 135.6h0M61.7 160.7h0M63.8 167.3h0M62.9 161.1h0M50.4 176.7h0M70.1 174.3h0M112.6 127.1h0M103.6 146.3h0M91.7 119.6h0M87.2 144.1h0M101.5 151.6h0M66.4 137.7h0M77.1 168.6h0M84.2 142.6h0M97.8 149.5h0M91.9 159.6h0M54.6 181.4h0M89.3 138.9h0M86.4 164.3h0M81.1 160.2h0M93.3 148.2h0M99.0 137.5h0M90.3 146.4h0M84.7 151.7h0M140.4 80.9h0M70.8 148.4h0M81.0 122.9h0M98.0 134.1h0M78.9 155.1h0M97.0 141.8h0M71.6 155.2h0M78.5 156.2h0M72.6 146.8h0M98.6 141.1h0M57.8 173.5h0M85.3 145.5h0M67.3 151.3h0M53.9 161.8h0M102.0 117.7h0M76.3 150.0h0M80.2 153.3h0M91.5 135.1h0M76.4 175.3h0M66.7 152.1h0M77.0 144.2h0M71.5 157.4h0M79.6 137.3h0M108.6 141.1h0M76.2 161.6h0M54.8 162.2h0M88.3 152.4h0M75.6 144.3h0M88.0 123.7h0M71.4 155.4h0M55.9 175.0h0M107.8 154.6h0M79.3 124.1h0M96.4 125.7h0M75.9 161.1h0M94.4 134.1h0M103.6 115.7h0M55.7 171.6h0M112.7 145.4h0M119.6 126.2h0M91.4 145.5h0M103.3 132.1h0M93.9 148.3h0M72.9 157.5h0M64.3 169.5h0M71.8 163.5h0M86.5 143.5h0M71.3 162.3h0M94.0 139.3h0M82.8 151.7h0M78.7 161.7h0M58.3 171.3h0M85.1 141.2h0M69.1 154.5h0M103.9 132.1h0M52.3 172.1h0M84.5 141.0h0M87.7 157.2h0M75.3 140.8h0M110.7 133.8h0M83.5 129.6h0M74.9 142.2h0M112.7 132.7h0M79.2 146.7h0M78.5 130.9h0M54.5 163.2h0M82.8 136.6h0M77.9 153.4h0M84.5 144.9h0M57.0 163.2h0M63.1 174.0h0M81.4 134.3h0M76.6 147.5h0M90.8 141.8h0M65.9 156.7h0M63.2 166.4h0M67.9 149.0h0M77.2 152.0h0M70.2 145.3h0M85.6 160.2h0M106.8 159.8h0M91.2 137.7h0M74.7 132.4h0M72.4 150.3h0M70.1 149.3h0M73.8 150.8h0M63.2 171.3h0M85.8 156.9h0M56.9 168.1h0M67.6 178.3h0M68.3 161.5h0M79.3 152.4h0M91.4 123.7h0M83.3 157.2h0M89.9 132.9h0M105.8 116.1h0M89.1 147.7h0M89.2 139.3h0M76.2 153.9h0M93.3 140.7h0M82.8 137.2h0M83.7 141.1h0M69.6 155.8h0M72.0 157.5h0M78.8 148.9h0M83.0 153.5h0M120.2 129.5h0M63.2 171.4h0M77.2 158.6h0M71.6 153.4h0M103.0 132.6h0M78.4 144.2h0M90.0 144.9h0M90.6 126.9h0M66.6 166.0h0M101.9 133.5h0M61.2 174.7h0M130.3 118.7h0M70.7 146.1h0M83.5 145.4h0M70.1 164.9h0M73.5 155.6h0M87.5 124.4h0M67.5 149.1h0M104.6 130.9h0M86.9 146.8h0M81.1 159.1h0M74.1 142.3h0M73.0 124.2h0M66.7 151.9h0M81.9 167.3h0M88.6 135.5h0M75.3 152.1h0M60.4 166.2h0M128.3 127.5h0M94.7 147.2h0M90.9 149.9h0M93.2 135.4h0M67.4 166.6h0M71.6 170.0h0M97.2 155.3h0M97.5 132.8h0M67.4 159.2h0M88.9 141.0h0M77.4 147.5h0M96.2 119.2h0M81.1 147.8h0M88.0 133.1h0M79.5 146.8h0M59.2 167.5h0M67.4 156.8h0M68.8 165.7h0M95.4 132.9h0M139.0 85.3h0M71.3 154.4h0M81.0 164.8h0M100.1 130.9h0M73.7 152.2h0M74.6 153.9h0M122.8 127.1h0M96.0 155.9h0M93.9 137.5h0M77.5 132.4h0M77.6 158.1h0M103.2 127.4h0M65.4 170.8h0M74.7 163.6h0M84.9 131.2h0M58.2 153.9h0M126.0 126.6h0M71.3 161.0h0M85.7 153.0h0M87.0 141.6h0M121.4 109.2h0M84.2 150.6h0M64.0 143.0h0M71.8 159.8h0M86.2 146.0h0M86.7 165.7h0M95.4 110.4h0M85.9 125.0h0M61.3 164.1h0M97.7 141.6h0M100.6 120.4h0M59.4 176.0h0M79.1 150.4h0M78.1 125.3h0M77.7 168.8h0M91.1 134.0h0M61.3 144.1h0M80.0 139.3h0M69.4 156.4h0M81.1 148.6h0M61.2 159.3h0M95.7 137.9h0M95.7 140.4h0M72.5 135.9h0M73.6 139.0h0M94.0 160.7h0M81.2 156.0h0M72.3 128.6h0M113.9 159.4h0M88.3 151.8h0M63.8 147.8h0M66.7 143.4h0M81.8 149.1h0M103.1 146.1h0M80.4 159.6h0M106.6 123.9h0M78.6 152.6h0M65.8 148.6h0M81.0 158.6h0M93.1 142.2h0M86.9 164.7h0M68.5 162.8h0M77.5 146.1h0M109.1 118.4h0M84.0 149.4h0M74.7 155.7h0M85.5 141.8h0M88.5 155.8h0M80.3 102.6h0M79.5 159.4h0M90.4 140.2h0M66.7 152.1h0M56.4 158.3h0M74.4 157.4h0M72.5 157.3h0M94.5 144.2h0M108.6 134.9h0M68.0 156.7h0M78.6 155.8h0M95.7 124.1h0M74.4 149.4h0M86.4 125.7h0M92.9 142.2h0M65.9 160.6h0M74.6 141.4h0M77.0 143.2h0M106.8 128.4h0M82.7 157.1h0M94.2 125.2h0M74.3 167.0h0M82.4 149.3h0M80.3 141.9h0M56.3 172.7h0M90.6 137.9h0M77.4 156.9h0M81.6 146.5h0M91.1 163.7h0M83.6 129.9h0M74.5 158.0h0M87.1 160.1h0M72.2 154.5h0M89.7 124.3h0M90.5 127.2h0M68.8 167.2h0M88.0 127.1h0M65.6 145.8h0M94.5 165.7h0M102.4 137.2h0M108.7 135.4h0M72.0 162.5h0M75.0 149.0h0M77.1 152.6h0M63.1 159.4h0M89.0 123.9h0M67.1 161.5h0M80.9 144.6h0M62.6 157.2h0M80.7 162.7h0M89.5 147.6h0M82.8 153.0h0M83.2 145.6h0M76.4 146.7h0M74.2 145.7h0M76.9 119.5h0M97.3 136.6h0M91.1 148.3h0M82.8 150.1h0M71.9 158.2h0M84.5 152.4h0M71.0 135.2h0M111.5 131.8h0M72.4 167.7h0M82.1 153.4h0M72.3 165.2h0M107.8 143.0h0M86.2 155.6h0M56.4 167.1h0M55.6 176.9h0M85.4 146.9h0M51.3 166.2h0M87.5 135.3h0M107.0 139.9h0M68.9 163.7h0M77.8 155.9h0M76.8 138.9h0M57.6 165.1h0M79.7 152.2h0M75.8 152.7h0M79.6 149.7h0M94.4 129.6h0M62.5 176.8h0M76.9 144.4h0M67.7 134.0h0M78.7 141.4h0M79.1 154.8h0M102.3 117.0h0M104.1 122.4h0M68.9 163.1h0M84.8 152.9h0M62.9 163.8h0M80.8 147.6h0M84.1 133.2h0M88.6 144.4h0M80.7 138.4h0M88.3 146.6h0M82.3 134.8h0M94.3 136.4h0M87.5 118.0h0M59.3 171.4h0M88.7 159.1h0M71.1 148.4h0M79.3 151.1h0M66.8 160.1h0M109.8 141.8h0M83.4 160.0h0M86.7 126.5h0M87.8 148.6h0M106.4 116.3h0M85.4 160.9h0M69.5 140.6h0M75.8 145.2h0M138.7 106.4h0M76.3 155.1h0M89.6 157.3h0M84.6 139.1h0M115.4 124.5h0M68.9 155.8h0M98.8 141.7h0M98.9 151.9h0M118.4 140.7h0M88.8 135.2h0M103.0 135.5h0M68.9 149.3h0M106.9 108.8h0M75.8 162.3h0M79.7 148.1h0M94.6 141.5h0M79.6 147.8h0M75.2 135.1h0M72.7 158.5h0M94.8 140.4h0M103.4 133.4h0M64.5 164.9h0M78.2 153.7h0M114.2 125.0h0M59.9 168.8h0M65.8 149.2h0M86.7 129.1h0M62.2 172.7h0M71.6 152.4h0M77.0 153.6h0M123.1 118.8h0M57.0 149.7h0M86.0 147.3h0M62.4 152.7h0M83.6 140.3h0M75.7 171.0h0M61.4 156.3h0M76.3 155.1h0M68.0 163.6h0M70.3 153.9h0M92.1 132.9h0M79.8 148.9h0M84.4 130.1h0M105.7 141.7h0M80.6 151.5h0M65.6 162.8h0M110.9 120.0h0M73.5 152.6h0M89.5 160.9h0M91.1 159.0h0M80.9 159.0h0M97.3 148.5h0M79.2 159.8h0M108.7 130.8h0M80.1 145.7h0M97.0 126.3h0M86.0 137.6h0M97.9 126.4h0M67.8 139.5h0M82.9 156.0h0M49.0 149.0h0M59.2 169.8h0M62.1 153.9h0M95.4 127.5h0M95.5 135.7h0M76.9 155.9h0M112.2 117.8h0M96.0 141.6h0M89.6 141.9h0M76.2 166.1h0M64.7 162.4h0M102.1 139.9h0M82.3 155.7h0M103.6 132.0h0M78.8 142.1h0M82.7 144.3h0M83.2 156.0h0M84.3 150.8h0M74.5 139.4h0M92.3 132.4h0M64.4 164.9h0M64.2 161.4h0M94.6 144.5h0M82.7 157.2h0M86.6 140.3h0M72.1 164.6h0M67.7 159.7h0M103.8 137.9h0M83.3 137.5h0M73.1 142.9h0M64.8 156.1h0M84.6 129.2h0M54.8 167.7h0M57.7 171.8h0M100.2 123.0h0M58.8 166.9h0M82.4 125.9h0M111.4 123.5h0M77.8 150.6h0M50.7 173.9h0M48.8 180.1h0M88.0 143.1h0M82.7 142.1h0M87.0 136.1h0M108.3 132.0h0M114.2 150.7h0M100.7 149.2h0M68.6 162.7h0M77.5 163.0h0M87.2 157.9h0M84.6 150.5h0M84.9 164.6h0M70.0 159.1h0M103.5 127.8h0M67.2 149.4h0M67.3 166.4h0M81.4 155.8h0M67.2 154.1h0M74.0 170.0h0M91.8 150.1h0M81.4 162.5h0M104.9 117.5h0M86.2 130.5h0M70.4 163.0h0M106.1 138.1h0M79.0 121.2h0M86.5 158.9h0M67.4 152.4h0M85.6 148.6h0M101.9 162.5h0M93.5 143.6h0M67.5 144.2h0M125.0 114.2h0M74.6 143.6h0M94.1 137.2h0M81.9 152.0h0M75.5 144.2h0M55.5 178.0h0M58.2 163.1h0M49.3 180.7h0M110.8 130.0h0M55.7 162.2h0M66.1 170.5h0M111.2 114.5h0M91.8 147.1h0M86.3 141.0h0M114.1 149.3h0M81.2 149.5h0M96.3 145.4h0M88.9 126.0h0M60.8 172.5h0M100.5 126.7h0M104.9 147.9h0M108.6 123.1h0M49.6 175.0h0M64.9 155.3h0M70.6 151.6h0M80.9 135.5h0M69.4 143.4h0M134.0 116.3h0M71.6 127.5h0M72.6 155.3h0M67.2 169.1h0M82.0 149.2h0M116.0 117.5h0M73.5 155.0h0M55.5 167.4h0M92.1 145.9h0M122.9 121.3h0M116.6 109.4h0M110.1 139.1h0M111.2 109.2h0M55.2 164.9h0M77.8 154.8h0M82.7 148.9h0M99.4 146.9h0M69.8 160.9h0M93.7 104.5h0M87.6 104.0h0M79.5 147.9h0M85.2 149.0h0M90.5 135.7h0M77.2 136.7h0M103.3 125.8h0M73.9 151.9h0M105.1 119.7h0M85.7 150.4h0M79.9 153.9h0M90.5 134.3h0M81.8 146.6h0M106.7 129.1h0M118.8 112.8h0M92.9 149.1h0M92.4 127.8h0M69.3 150.5h0M91.6 130.3h0M99.2 127.7h0M63.0 161.3h0M77.4 129.8h0M72.1 151.1h0M68.1 162.9h0M105.3 142.4h0M65.4 147.7h0M85.3 132.7h0M69.3 159.8h0M62.6 178.6h0M79.2 162.2h0M67.8 159.5h0M94.9 147.7h0M65.1 158.2h0M64.9 161.4h0M66.3 164.4h0M87.6 143.3h0M76.7 153.7h0M122.7 125.2h0M99.9 120.6h0M70.5 166.1h0M85.8 144.4h0M96.7 134.7h0M84.7 138.5h0M83.9 153.1h0M96.7 141.9h0M63.3 152.3h0M78.0 153.0h0M89.5 147.4h0M103.5 141.7h0M79.2 168.4h0M102.9 134.5h0M92.8 144.7h0M92.2 148.4h0M97.8 135.9h0M67.9 149.2h0M77.2 149.7h0M91.4 134.9h0M64.5 148.3h0M80.4 159.6h0M82.2 144.8h0M107.5 108.5h0M103.2 132.6h0M55.9 165.9h0M101.5 116.2h0M83.0 155.1h0M58.0 162.4h0M122.2 140.0h0M83.2 143.4h0M107.9 130.3h0M81.9 147.5h0M103.2 140.4h0M99.2 146.9h0M97.7 127.0h0M96.0 140.4h0M69.5 164.4h0M77.5 158.0h0M87.6 153.1h0M85.9 136.2h0M52.8 168.4h0M94.9 156.2h0M78.6 154.9h0M88.4 141.1h0M61.7 166.3h0M104.1 149.7h0M83.0 149.2h0M139.6 127.5h0M60.8 152.7h0M89.7 128.3h0M77.6 148.9h0M67.3 153.7h0M101.2 143.8h0M93.2 121.0h0M122.8 125.0h0M69.9 171.8h0M68.9 165.0h0M90.2 136.4h0M73.9 162.1h0M95.4 140.6h0M110.4 125.4h0M79.3 136.0h0M90.1 141.0h0M80.7 129.1h0M71.5 160.1h0M89.3 135.5h0M76.4 159.0h0M94.8 147.3h0M85.9 153.8h0M77.9 144.0h0M78.6 153.5h0M70.6 148.7h0M76.3 160.6h0M95.8 128.3h0M83.0 110.2h0M60.4 164.8h0M72.6 172.4h0M91.8 145.4h0M91.6 136.6h0M98.6 143.9h0M115.0 136.3h0M61.0 163.5h0M76.8 134.4h0M73.9 174.0h0M74.0 147.2h0M93.8 136.5h0M70.9 173.1h0M105.0 112.4h0M82.5 167.7h0M69.0 164.0h0M49.1 164.2h0M71.6 160.9h0M75.4 164.8h0M95.3 136.0h0M58.7 172.7h0M83.6 142.5h0M89.3 136.0h0M87.8 146.2h0M81.7 147.1h0M68.0 162.3h0M75.0 127.1h0M74.6 163.2h0M107.0 127.1h0M93.8 140.1h0M77.3 147.4h0M97.6 152.8h0M87.1 165.4h0M65.2 141.6h0M77.3 142.9h0M80.5 119.2h0M77.8 128.6h0M85.8 152.0h0M66.1 143.9h0M72.1 110.0h0M98.5 133.9h0M83.9 130.9h0M77.5 146.5h0M100.7 114.3h0M70.8 153.8h0M110.0 126.5h0M115.4 137.0h0M55.8 166.0h0M84.3 144.2h0M75.5 168.9h0M89.3 143.0h0M60.5 178.6h0M85.3 119.5h0M74.8 165.3h0M92.8 112.5h0M78.5 155.0h0M81.0 142.9h0M66.5 166.9h0M80.5 153.8h0M85.5 148.4h0M103.1 139.5h0M123.4 131.5h0M116.7 140.8h0M120.4 133.1h0M81.4 155.8h0M83.8 149.6h0M77.3 159.8h0M68.7 144.7h0M68.8 143.8h0M88.4 146.0h0M98.2 134.4h0M82.0 136.6h0M90.5 141.5h0M109.3 151.2h0M77.9 154.0h0M120.6 113.4h0M69.5 147.6h0M79.1 146.4h0M72.5 139.8h0M86.1 141.1h0M100.9 129.8h0M81.7 150.2h0M77.1 157.1h0M87.8 134.1h0M64.7 168.7h0M114.7 148.7h0M83.3 122.7h0M70.0 177.7h0M102.6 118.0h0M84.5 143.5h0M85.0 142.1h0M86.7 135.5h0M80.4 159.3h0M94.9 132.7h0M72.0 159.9h0M71.1 156.6h0M93.3 124.2h0M80.0 154.2h0M102.0 151.0h0M96.1 136.3h0M99.1 117.7h0M81.5 135.3h0M82.6 155.3h0M91.8 145.9h0M91.4 130.8h0M96.4 152.1h0M88.0 118.7h0M103.5 125.8h0M91.4 132.0h0M115.5 136.9h0M79.8 137.7h0M85.5 140.1h0M87.1 141.8h0M69.4 133.4h0M73.0 154.6h0M83.5 157.7h0M95.8 156.3h0M92.7 152.2h0M50.8 172.9h0M71.1 139.9h0M104.0 152.0h0M88.8 152.4h0M68.2 162.0h0M69.4 152.8h0M93.1 123.1h0M59.7 173.2h0M71.0 143.9h0M119.6 141.0h0M55.1 165.6h0M95.9 133.8h0M50.9 171.2h0M109.6 110.3h0M115.1 114.6h0M59.6 157.0h0M78.0 144.2h0M93.5 130.1h0M81.1 163.2h0M83.0 131.8h0M68.9 151.4h0M74.9 147.6h0M69.1 166.1h0M82.7 143.7h0M91.3 132.6h0M96.2 136.6h0M57.1 148.8h0M68.8 158.6h0M79.8 135.6h0M65.3 153.4h0M75.3 159.7h0M75.5 132.4h0M77.1 147.1h0M79.7 139.4h0M101.1 136.0h0M94.5 143.3h0M74.9 160.7h0M90.4 137.5h0M80.9 150.1h0M81.3 152.1h0M83.9 174.7h0M88.8 144.1h0M58.9 156.5h0M90.3 143.3h0M49.3 168.5h0M106.6 148.4h0M76.2 124.8h0M74.4 151.8h0M64.7 152.4h0M90.4 149.5h0M87.6 147.9h0M58.1 173.5h0M77.0 161.8h0M66.8 157.5h0M78.4 148.9h0M83.1 155.8h0M87.6 152.3h0M64.6 147.2h0M82.7 134.5h0M88.0 124.6h0M75.5 155.7h0M92.1 154.4h0M97.8 137.6h0M66.0 158.8h0M57.6 174.8h0M99.1 144.3h0M55.2 143.2h0M56.0 171.4h0M90.5 149.7h0M98.3 123.9h0M65.1 150.4h0M72.7 149.1h0M76.8 149.2h0M87.5 138.7h0M82.4 134.4h0M85.7 156.1h0M103.6 148.5h0M81.7 154.8h0M70.9 161.0h0M91.5 136.1h0M81.9 148.3h0M93.3 128.4h0M110.7 126.5h0M90.6 136.8h0M80.9 147.2h0M85.9 156.6h0M65.5 165.2h0M80.1 141.8h0M72.5 158.0h0M98.5 117.3h0M82.2 136.9h0M93.1 153.0h0M83.8 120.4h0M135.9 99.9h0M96.1 147.5h0M107.9 128.8h0M88.6 155.5h0M69.0 148.4h0M91.1 123.5h0M62.3 167.2h0M91.9 148.5h0M91.4 142.2h0M82.3 149.5h0M81.3 147.8h0M65.0 140.8h0M99.3 123.4h0M106.2 119.8h0M75.3 130.8h0M87.9 135.5h0M68.7 137.0h0M76.7 147.6h0M48.3 181.3h0M78.3 137.0h0M89.5 148.7h0M73.1 169.8h0M97.7 149.8h0M71.7 158.0h0M70.7 154.3h0M57.3 169.3h0M79.9 161.9h0M91.1 144.2h0M82.2 147.2h0M95.6 140.4h0M82.2 168.9h0M79.0 121.4h0M66.1 167.1h0M64.7 154.6h0M77.3 156.3h0M80.8 160.1h0M92.4 139.9h0M89.3 125.8h0M94.9 128.9h0M64.6 176.6h0M85.2 158.9h0M56.2 172.6h0M102.2 135.1h0M110.9 127.5h0M83.1 144.1h0M118.1 120.6h0M95.4 119.2h0M62.0 161.7h0M103.5 134.8h0M106.0 117.9h0M94.9 132.9h0M84.2 157.0h0M79.4 136.4h0M96.4 107.5h0M71.6 139.7h0M89.7 142.8h0M67.4 167.3h0M80.2 153.7h0M89.7 138.7h0M71.4 169.2h0M87.1 108.9h0M74.7 143.1h0M84.3 129.7h0M76.1 143.6h0M73.2 150.7h0M75.0 148.0h0M111.4 125.5h0M66.9 153.6h0M69.0 168.3h0M84.8 155.4h0M83.2 138.2h0M81.8 156.0h0M75.6 132.8h0M95.2 138.6h0M60.9 177.2h0M94.8 118.6h0M92.2 144.1h0M75.3 151.2h0M87.9 112.6h0M84.8 155.9h0M65.2 168.4h0M83.4 155.6h0M73.5 163.4h0M64.2 146.9h0M77.1 157.1h0M99.7 141.7h0M94.7 133.4h0M58.9 173.4h0M92.0 131.3h0M62.3 157.3h0M80.0 135.5h0M56.0 179.2h0M73.0 162.7h0M71.6 153.7h0M100.6 132.9h0M60.6 155.8h0M73.2 158.2h0M90.1 145.1h0M73.9 133.6h0M82.6 153.2h0M80.6 146.0h0M65.1 176.1h0M120.0 132.9h0M79.3 143.6h0M95.3 140.4h0M118.3 120.9h0M81.7 147.1h0M63.7 161.3h0M72.9 153.2h0M111.1 106.8h0M76.2 147.0h0M65.6 158.1h0M75.2 140.5h0M91.8 165.7h0M92.2 147.7h0M94.1 143.7h0M109.0 155.8h0M75.3 136.8h0M65.0 140.8h0M64.1 165.3h0M89.2 128.5h0M87.3 136.3h0M102.2 162.4h0M81.3 142.7h0M82.8 139.7h0M70.3 164.4h0M77.2 160.9h0M70.4 168.9h0M57.8 164.2h0M87.7 149.0h0M86.6 141.1h0M74.2 138.3h0M115.2 132.7h0M79.2 156.6h0M110.0 122.8h0M100.3 149.6h0M91.0 127.4h0M106.9 130.8h0M86.6 154.3h0M77.3 150.0h0M87.2 145.2h0M107.3 122.0h0M95.8 112.4h0M51.1 166.7h0M87.2 121.9h0M76.9 156.1h0M94.2 130.0h0M57.3 156.2h0M75.4 156.0h0M97.9 128.9h0M68.0 170.9h0M92.2 148.3h0M64.8 161.2h0M81.9 147.9h0M71.0 145.4h0M68.0 156.0h0M89.4 136.5h0M135.7 105.4h0M82.0 139.0h0M60.9 171.0h0M90.2 133.4h0M72.3 145.8h0M124.5 134.0h0M79.4 137.0h0M88.1 97.4h0M90.1 136.7h0M80.8 144.9h0M76.9 156.4h0M69.2 150.7h0M89.7 145.3h0M89.0 143.6h0M114.6 153.4h0M76.1 148.0h0M93.5 134.1h0M103.3 147.8h0M76.0 147.5h0M86.7 157.8h0M78.4 166.5h0M95.0 133.4h0M113.7 135.9h0M85.5 166.2h0M78.2 138.5h0M102.2 131.0h0M81.5 147.1h0M138.1 107.3h0M93.0 150.7h0M70.2 141.7h0M60.6 178.8h0M92.6 133.0h0M87.6 125.7h0M67.1 146.7h0M92.9 122.2h0M79.0 140.5h0M88.1 131.8h0M81.2 152.7h0M78.0 173.0h0M67.9 174.8h0M66.1 161.3h0M58.3 176.5h0M90.0 133.0h0M86.9 146.3h0M92.2 151.4h0M81.9 147.9h0M91.1 128.8h0M77.4 159.9h0M116.1 133.3h0M84.7 120.1h0M74.8 152.2h0M75.3 146.6h0M96.1 143.7h0M116.1 130.8h0M67.7 151.2h0M69.2 154.2h0M95.8 98.8h0M92.6 146.0h0M96.3 123.9h0M133.3 127.8h0M77.2 128.0h0M78.6 149.5h0M64.2 171.1h0M107.2 125.2h0M62.8 153.2h0M98.2 139.2h0M49.2 179.9h0M73.3 142.5h0M88.5 142.3h0M62.3 159.6h0M74.5 143.6h0M79.9 155.3h0M77.5 153.0h0M60.5 166.2h0M72.8 151.2h0M110.7 133.9h0M109.2 108.5h0M96.1 112.3h0M83.8 143.0h0M78.2 151.9h0M93.3 136.2h0M99.9 127.0h0M87.1 154.5h0M99.5 124.9h0M67.1 150.8h0M83.1 152.8h0M69.3 176.1h0M79.2 151.3h0M96.8 137.5h0M95.0 146.5h0M97.9 144.4h0M73.4 141.1h0M58.8 135.6h0M66.5 150.5h0M87.3 123.8h0M101.6 149.2h0M104.2 126.1h0M95.9 134.1h0M71.7 162.6h0M66.5 172.0h0M66.6 154.2h0M100.0 120.4h0M77.2 173.3h0M64.2 165.0h0M58.0 159.1h0M59.3 158.4h0M83.8 131.6h0M70.7 158.7h0M61.1 137.1h0M97.3 136.8h0M93.7 118.5h0M112.2 144.9h0M76.3 171.2h0M50.3 160.5h0M95.1 142.8h0M113.6 145.9h0M63.8 157.1h0M84.9 143.3h0M106.1 124.8h0M81.4 161.6h0M52.4 169.9h0M75.8 143.6h0M84.6 155.4h0M101.7 128.5h0M121.5 101.7h0M68.2 156.4h0M96.8 153.6h0M68.3 155.2h0M68.5 159.0h0M95.9 140.7h0M90.7 109.4h0M90.1 142.0h0M65.9 151.6h0M74.1 113.4h0M92.7 144.4h0M82.6 140.0h0M67.3 152.8h0M88.5 145.1h0M104.3 121.2h0M90.6 139.7h0M103.9 132.8h0M81.9 151.0h0M77.8 137.9h0M69.7 152.4h0M118.1 87.4h0M105.1 127.7h0M95.1 117.7h0M96.0 111.8h0M73.7 138.6h0M72.5 159.9h0M77.4 149.3h0M57.3 167.3h0M86.6 165.5h0M99.4 134.3h0M48.4 169.0h0M73.2 168.2h0M83.9 153.3h0M89.7 154.8h0M82.2 152.0h0M65.1 163.4h0M82.2 141.0h0M51.0 172.2h0M83.8 154.7h0M59.7 176.4h0M78.6 157.1h0M79.3 146.9h0M109.3 115.9h0M73.9 165.1h0M67.3 167.8h0M102.8 116.4h0M94.3 149.7h0M71.4 143.3h0M79.0 146.6h0M100.3 146.8h0M91.5 147.6h0M60.6 170.0h0M75.9 153.8h0M70.0 153.1h0M65.7 164.6h0M66.8 147.3h0M86.8 133.8h0M86.8 138.4h0M68.3 152.5h0M91.4 135.3h0M81.5 141.0h0M71.6 163.7h0M96.7 155.3h0M65.1 164.1h0M70.5 154.1h0M96.2 136.3h0M59.1 171.5h0M57.9 151.8h0M104.3 142.1h0M57.7 167.0h0M67.8 144.0h0M88.4 159.2h0M92.2 139.9h0M74.5 126.3h0M75.5 161.3h0M73.9 163.5h0M64.0 146.8h0M101.0 151.4h0M91.8 132.8h0M98.5 150.9h0M87.5 144.6h0M90.1 126.8h0M68.3 162.3h0M97.3 125.8h0M121.0 98.9h0M88.7 139.2h0M59.0 175.9h0M111.9 135.1h0M88.0 114.5h0M72.6 161.6h0M50.7 176.1h0M98.4 154.0h0M90.1 149.2h0M76.8 142.8h0M78.0 147.4h0M94.0 134.1h0M80.3 148.0h0M99.5 138.3h0M53.4 168.8h0M82.3 155.0h0M80.1 149.9h0M71.1 163.3h0M79.2 149.2h0M93.7 134.5h0M79.9 148.6h0M85.1 136.9h0M105.6 147.5h0M59.1 164.8h0M70.9 156.3h0M120.0 125.0h0M78.5 157.0h0M88.8 132.2h0M100.3 144.8h0M93.7 160.9h0M89.7 137.2h0M114.0 117.1h0M93.6 146.2h0M72.2 152.6h0M81.0 123.7h0M89.3 132.6h0M107.7 146.6h0M59.8 159.9h0M81.0 130.0h0M84.2 150.9h0M85.6 143.3h0M77.0 161.2h0M91.2 138.5h0M93.2 153.4h0M75.0 144.9h0M108.0 127.3h0M79.6 141.9h0M60.4 156.1h0M68.3 158.3h0M75.7 152.9h0M65.7 172.5h0M98.0 149.1h0M107.6 143.6h0M72.4 162.6h0M104.0 120.7h0M75.6 164.3h0M79.9 151.7h0M60.6 169.5h0M85.8 159.6h0M105.0 121.2h0M92.4 124.7h0M87.6 137.6h0M89.4 160.4h0M88.0 135.2h0M93.1 127.8h0M57.1 148.3h0M69.5 146.7h0M91.7 138.2h0M68.3 150.7h0M61.3 169.0h0M62.7 149.0h0M90.3 136.9h0M92.4 137.1h0M90.0 158.0h0M84.5 133.4h0M81.0 155.6h0M65.7 162.3h0M57.5 148.0h0M106.0 131.7h0M81.6 157.2h0M60.4 165.2h0M69.0 134.3h0M95.5 139.8h0M76.2 147.6h0M112.2 137.9h0M66.7 172.0h0M66.6 158.1h0M96.1 153.6h0M93.1 138.2h0M83.2 145.3h0M82.0 147.0h0M81.0 137.9h0M106.3 136.8h0M77.3 160.1h0M84.9 128.9h0M82.4 133.9h0M78.2 158.1h0M86.6 128.2h0M76.7 134.8h0M99.3 121.9h0M51.8 178.4h0M83.5 155.8h0M71.3 155.5h0M101.8 138.9h0M83.6 145.1h0M85.8 155.1h0M97.2 141.0h0M97.8 133.9h0M94.7 135.6h0M100.7 141.4h0M79.5 147.6h0M84.3 158.1h0M95.0 125.1h0M86.9 137.1h0M82.7 127.5h0M80.1 156.9h0M89.5 142.9h0M87.6 145.5h0M67.8 145.0h0M65.1 163.4h0M71.4 163.2h0M107.1 132.0h0M74.6 153.0h0M72.9 137.1h0M75.9 149.8h0M65.9 169.7h0M82.2 155.0h0M100.0 128.2h0M77.0 158.3h0M88.7 137.0h0M86.4 114.3h0M82.5 153.3h0M85.1 142.5h0M59.0 166.3h0M65.6 170.0h0M103.1 141.4h0M88.9 149.3h0M81.5 142.6h0M105.7 134.7h0M78.6 161.3h0M70.1 142.2h0M73.2 152.2h0M70.5 156.9h0M87.1 151.2h0M115.7 153.9h0M99.5 151.0h0M80.2 153.0h0M66.0 149.3h0M93.3 138.7h0M71.7 173.8h0M99.1 127.9h0M89.5 152.8h0M82.2 156.4h0M84.8 158.7h0M51.5 170.4h0M55.5 171.4h0M75.3 165.9h0M91.9 131.1h0M97.7 136.7h0M75.1 146.9h0M82.7 156.1h0M78.3 155.5h0M86.9 146.8h0M97.8 158.4h0M69.9 170.6h0M65.3 152.0h0M78.5 173.0h0M99.6 133.9h0M82.8 160.8h0M73.8 137.8h0M102.2 130.6h0M82.7 167.5h0M113.3 134.4h0M69.5 160.0h0M87.0 119.7h0M80.3 156.6h0M70.4 143.3h0M78.0 151.0h0M65.0 132.9h0M81.8 154.2h0M82.5 155.4h0M108.0 128.3h0M50.6 178.2h0M60.8 161.8h0M76.5 138.8h0M76.2 150.2h0M80.5 120.9h0M84.3 144.8h0M84.7 149.6h0M73.6 166.7h0M119.3 110.9h0M95.0 129.8h0M117.5 103.3h0M70.9 177.8h0M99.1 127.6h0M76.7 142.0h0M73.6 158.1h0M82.5 147.3h0M93.4 147.5h0M83.7 150.5h0M61.0 174.7h0M68.4 149.0h0M56.3 159.2h0M72.1 139.4h0M68.6 169.3h0M84.8 132.5h0M66.9 143.2h0M107.3 113.0h0M77.5 155.8h0M62.8 167.0h0M78.1 165.6h0M63.8 148.9h0M150.3 94.7h0M55.7 162.8h0M81.3 162.7h0M115.4 128.2h0M91.4 145.4h0M87.2 132.6h0M93.1 136.6h0M82.7 128.1h0M96.2 149.1h0M68.7 160.5h0M90.6 144.0h0M71.8 165.6h0M111.6 147.4h0M54.3 174.8h0M75.4 140.9h0M91.2 144.3h0M76.3 97.9h0M62.8 160.1h0M111.5 140.7h0M61.6 168.1h0M111.5 102.1h0M123.5 116.0h0M88.2 157.7h0M57.1 179.4h0M75.5 149.7h0M114.6 134.4h0M86.4 141.8h0M70.6 151.6h0M77.3 139.2h0M84.1 149.7h0M87.7 133.0h0M99.9 143.3h0M68.2 145.2h0M66.3 153.9h0M72.0 153.3h0M83.6 149.2h0M86.4 153.2h0M70.6 157.5h0M88.4 152.5h0M73.6 160.9h0M90.8 147.6h0M72.7 141.2h0M83.6 138.9h0M62.0 173.9h0M111.8 129.2h0M67.1 171.0h0M82.2 143.1h0M70.1 142.5h0M83.9 158.5h0M77.3 161.1h0M80.3 166.3h0M73.5 172.9h0M104.4 139.5h0M69.2 148.4h0M88.3 154.0h0M54.9 181.3h0M78.1 144.7h0M97.1 130.4h0M99.1 128.2h0M60.5 157.0h0M85.3 142.1h0M96.0 134.3h0M64.2 172.9h0M75.2 164.6h0M106.2 144.9h0M83.8 135.0h0M67.9 162.1h0M80.6 166.7h0M98.7 125.0h0M83.3 148.0h0M89.6 146.0h0M72.6 165.4h0M96.9 129.9h0M80.6 152.2h0M81.7 123.1h0M64.5 160.6h0M77.0 150.6h0M66.8 172.2h0M59.2 170.5h0M62.5 162.0h0M93.7 147.5h0M82.5 162.7h0M81.3 158.7h0M55.8 163.0h0M86.2 139.0h0M102.5 143.4h0M101.3 146.5h0M93.0 119.8h0M85.8 163.7h0M90.8 123.5h0M95.1 157.5h0M58.9 150.6h0M63.5 164.8h0M74.2 143.2h0M76.2 154.5h0M93.9 110.4h0M67.1 159.1h0M62.6 143.3h0M73.7 171.3h0M65.1 147.5h0M104.6 110.6h0M68.8 165.4h0M60.2 164.0h0M67.1 167.9h0M106.9 107.6h0M108.6 135.1h0M67.7 161.0h0M75.9 165.1h0M55.6 181.7h0M81.3 155.3h0M117.1 113.4h0M56.7 176.2h0M113.1 136.3h0M87.7 132.7h0M101.6 111.3h0M71.2 153.1h0M81.2 149.7h0M95.2 125.4h0M98.2 153.6h0M109.1 132.0h0M76.8 168.8h0M75.4 150.5h0M84.1 158.8h0M94.1 152.8h0M91.4 145.5h0M77.3 154.9h0M49.9 168.5h0M68.8 176.5h0M97.7 153.2h0M97.9 118.8h0M79.9 154.6h0M85.7 133.9h0M95.6 159.1h0M96.6 123.4h0M116.3 110.3h0M97.7 123.4h0M90.0 151.9h0M79.9 161.9h0M85.4 140.9h0M74.1 136.7h0M58.2 154.0h0M75.7 158.2h0M100.9 145.6h0M85.2 172.6h0M58.0 171.7h0M88.2 148.1h0M71.0 168.2h0M87.1 131.2h0M95.6 118.9h0M77.3 137.6h0M77.4 154.4h0M68.3 153.5h0M60.5 153.3h0M90.8 128.6h0M91.5 135.5h0M81.2 168.6h0M73.4 158.0h0M72.3 135.6h0M76.2 150.8h0M90.5 140.6h0M99.7 139.6h0M67.5 162.1h0M73.2 155.8h0M88.8 122.8h0M96.4 145.2h0M92.4 134.8h0M79.3 138.6h0M92.3 153.2h0M91.3 151.0h0M80.7 151.7h0M76.3 168.3h0M105.2 111.0h0M69.1 158.0h0M95.6 113.9h0M63.0 169.0h0M70.3 180.5h0M94.1 135.5h0M110.4 143.2h0M72.1 148.6h0M75.8 145.4h0M54.0 174.7h0M93.4 125.1h0M110.7 148.0h0M96.0 134.3h0M87.3 138.4h0M90.2 148.4h0M92.1 119.9h0M75.0 147.0h0M77.5 151.2h0M101.7 122.1h0M88.1 132.3h0M109.6 153.3h0M81.6 130.8h0M91.9 160.5h0M81.4 130.3h0M96.0 123.6h0M95.8 104.1h0M93.3 160.6h0M77.8 156.1h0M84.2 149.8h0M75.0 171.3h0M88.7 141.8h0M80.8 155.6h0M61.8 170.8h0M110.1 136.1h0M92.1 143.4h0M62.4 171.8h0M97.8 134.4h0M82.4 159.8h0M75.5 164.5h0M69.1 164.9h0M78.5 157.8h0M114.1 126.9h0M81.3 135.8h0M104.3 127.1h0M74.4 139.2h0M108.0 138.4h0M99.3 127.7h0M70.7 154.8h0M76.5 158.8h0M98.8 150.8h0M54.1 163.0h0M86.3 143.2h0M71.7 154.8h0M72.6 147.0h0M74.1 138.3h0M80.9 141.1h0M81.5 155.7h0M65.6 140.1h0M78.9 165.0h0M66.5 142.0h0M68.3 156.6h0M78.9 157.2h0M78.1 156.0h0M84.5 150.8h0M74.4 152.1h0M68.4 174.4h0M105.7 137.7h0M79.2 159.7h0M69.6 159.5h0M77.9 144.7h0M83.9 159.9h0M78.0 152.8h0M93.7 131.4h0M92.4 105.4h0M67.3 164.4h0M107.8 138.2h0M80.5 131.8h0M82.5 153.3h0M54.6 179.5h0M72.2 156.8h0M86.4 133.2h0M57.7 155.4h0M62.4 163.7h0M70.8 156.9h0M78.1 143.2h0M85.2 138.1h0M97.0 122.4h0M65.7 167.4h0M102.1 158.6h0M67.8 174.3h0M68.2 142.6h0M105.5 117.3h0M78.7 159.6h0M75.9 136.7h0M78.9 153.6h0M63.7 151.0h0M83.4 153.9h0M73.5 161.0h0M84.6 151.4h0M88.2 125.7h0M87.0 156.4h0M104.4 138.6h0M95.1 134.0h0M96.4 142.8h0M89.6 133.3h0M77.7 136.4h0M92.9 142.2h0M97.8 117.7h0M133.2 107.5h0M112.3 151.0h0M67.3 161.7h0M91.5 128.4h0M90.9 117.5h0M69.4 167.3h0M104.5 147.1h0M81.5 143.7h0M110.8 134.2h0M70.9 165.3h0M82.8 146.6h0M93.3 153.3h0M93.2 145.5h0M87.9 167.7h0M85.9 155.4h0M76.7 138.2h0M71.2 145.3h0M106.7 130.5h0M77.5 150.9h0M89.5 97.2h0M101.6 129.3h0M108.5 130.3h0M92.5 120.3h0M67.8 174.8h0M49.7 182.1h0M105.3 123.3h0M84.9 153.5h0M92.2 154.4h0M74.5 153.7h0M82.8 141.4h0M91.4 150.3h0M90.8 128.1h0M68.5 163.0h0M51.8 172.3h0M94.4 143.4h0M89.1 146.9h0M67.2 150.9h0M66.7 164.0h0M69.2 166.3h0M99.4 118.0h0M86.9 165.4h0M95.6 120.6h0M98.6 146.0h0M92.4 127.1h0M89.7 168.4h0M72.7 157.4h0M88.1 140.3h0M64.5 172.1h0M73.1 164.0h0M86.4 146.5h0M100.0 134.7h0M80.3 145.4h0M64.2 167.9h0M72.6 162.2h0M98.3 139.8h0M67.5 146.4h0M119.1 97.6h0M100.7 124.4h0M98.0 155.2h0M119.2 109.0h0M59.1 149.3h0M65.5 176.6h0M77.2 127.2h0M80.9 158.8h0M76.7 158.1h0M96.8 122.4h0M82.9 147.7h0M102.8 121.8h0M93.9 148.3h0M70.1 150.8h0M90.4 113.8h0M82.1 146.5h0M102.1 144.2h0M74.5 150.5h0M90.3 161.7h0M50.5 177.4h0M81.5 147.3h0M92.5 143.0h0M106.5 136.5h0M94.9 142.8h0M57.5 158.6h0M70.9 157.0h0M76.4 136.2h0M82.1 146.7h0M90.1 148.7h0M101.8 143.8h0M95.0 138.2h0M78.4 145.9h0M134.8 100.9h0M70.7 164.5h0M77.3 149.8h0M107.6 130.3h0M77.1 120.6h0M93.2 138.0h0M82.5 131.1h0M86.1 139.9h0M73.2 159.9h0M103.5 123.9h0M103.5 130.2h0M66.6 147.7h0M63.0 148.5h0M77.4 153.4h0M104.1 127.5h0M63.2 167.8h0M88.7 134.6h0M68.2 154.5h0M89.1 146.5h0M96.9 154.8h0M122.1 122.6h0M68.3 154.7h0M89.5 139.4h0M81.9 153.8h0M75.4 160.0h0M85.3 125.2h0M68.3 167.6h0M95.7 126.7h0M67.3 152.7h0M71.2 156.5h0M102.7 130.2h0M99.7 114.9h0M81.9 136.1h0M70.3 152.2h0M75.3 144.2h0M91.8 154.2h0M76.2 158.7h0M90.4 157.7h0M99.8 135.8h0M73.1 146.0h0M71.6 154.0h0M92.3 128.4h0M80.9 145.7h0M61.6 157.2h0M67.3 155.7h0M86.0 151.3h0M80.0 176.1h0M97.9 139.5h0M74.1 152.1h0M83.4 152.7h0M90.4 143.7h0M74.3 152.6h0M91.4 132.3h0M74.6 165.5h0M83.5 160.6h0M95.8 144.2h0M94.5 156.2h0M83.9 136.9h0M105.0 147.9h0M75.3 162.3h0M69.4 127.7h0M77.0 163.8h0M72.7 165.2h0M65.9 170.5h0M71.9 179.1h0M97.2 151.5h0M66.3 155.5h0M84.9 146.4h0M91.8 131.6h0M106.9 134.9h0M93.3 128.9h0M89.8 137.7h0M64.0 160.5h0M70.4 171.8h0M74.2 142.4h0M68.4 158.7h0M79.5 173.3h0M79.5 139.4h0M88.0 133.9h0M61.9 169.4h0M81.6 137.5h0M84.4 112.7h0M84.6 127.6h0M97.3 125.6h0M82.4 154.3h0M119.4 125.9h0M90.5 137.3h0M90.0 142.0h0M94.8 135.1h0M87.8 141.3h0M62.8 173.7h0M72.1 166.5h0M80.5 127.3h0M61.5 172.0h0M101.6 133.1h0M81.4 143.0h0M95.9 137.2h0M73.4 148.7h0M81.8 124.0h0M87.1 151.7h0M117.2 118.6h0M64.5 153.9h0M92.9 165.3h0M90.7 138.6h0M89.9 129.1h0M91.8 139.0h0M84.2 138.2h0M73.8 161.6h0M101.7 134.8h0M72.9 156.4h0M82.7 154.1h0M84.3 145.3h0M87.5 146.5h0M84.9 155.7h0M74.4 162.1h0M79.3 143.4h0M77.0 151.8h0M66.8 174.0h0M71.4 159.7h0M71.9 153.9h0M76.4 139.3h0M71.0 152.0h0M110.1 125.9h0M89.7 139.0h0M114.0 104.9h0M82.3 146.4h0M86.8 127.2h0M88.1 158.2h0M61.9 143.1h0M54.7 171.8h0M84.7 137.4h0M81.7 168.7h0M107.5 122.9h0M57.7 160.5h0M108.4 145.0h0M95.3 152.4h0M67.9 167.9h0M75.1 162.6h0M88.6 149.9h0M87.5 145.8h0M87.6 139.4h0M82.9 152.8h0M91.3 153.7h0M53.7 170.4h0M120.0 118.3h0M89.4 125.5h0M65.4 158.4h0M81.0 159.7h0M52.8 171.9h0M74.0 163.0h0M107.4 109.9h0M79.4 135.9h0M84.1 148.5h0M84.6 129.4h0M94.5 123.2h0M70.0 144.8h0M64.8 156.4h0M78.7 144.9h0M103.6 150.1h0M79.3 146.8h0M58.2 170.6h0M89.3 151.6h0M84.4 157.8h0M110.8 130.9h0M86.8 137.0h0M82.5 137.2h0M73.8 138.9h0M74.8 160.0h0M80.7 136.6h0M86.2 159.1h0M66.0 172.4h0M65.7 147.5h0M90.8 124.3h0M88.7 105.1h0M96.8 141.1h0M114.6 125.5h0M80.1 151.5h0M113.1 129.6h0M79.9 154.5h0M78.2 136.1h0M82.5 144.6h0M75.8 156.1h0M102.0 153.0h0M89.8 141.1h0M67.7 161.6h0M89.7 153.2h0M74.3 154.7h0M72.6 162.8h0M91.3 141.5h0M65.5 165.1h0M99.3 123.1h0M93.8 132.5h0M96.9 130.8h0M56.8 172.9h0M100.8 144.6h0M79.2 154.9h0M91.1 148.4h0M86.5 144.7h0M62.7 154.7h0M76.3 152.1h0M87.0 133.3h0M107.2 140.0h0M54.2 159.8h0M75.1 160.3h0M78.8 144.5h0M71.0 157.0h0M82.4 153.8h0M81.7 138.3h0M99.6 126.4h0M56.5 171.0h0M107.7 139.6h0M66.5 158.2h0M105.7 126.8h0M86.1 131.3h0M56.2 171.6h0M86.9 119.3h0M108.9 113.1h0M93.5 133.8h0M82.5 143.1h0M68.3 152.6h0M91.6 119.0h0M62.2 169.3h0M57.9 169.6h0M87.4 140.0h0M74.8 165.2h0M98.9 148.2h0M51.7 161.2h0M81.7 152.9h0M122.9 130.0h0M85.3 154.1h0M90.9 135.4h0M78.3 135.8h0M64.6 160.6h0M76.4 166.7h0M66.0 171.2h0M82.8 149.3h0M97.6 140.0h0M102.0 124.5h0M98.1 136.8h0M87.9 134.6h0M75.9 131.6h0M113.1 128.0h0M66.3 164.9h0M95.2 125.2h0M64.5 154.1h0M77.5 159.3h0M116.7 112.2h0M87.3 149.8h0M67.5 149.4h0M86.8 139.4h0M118.7 147.3h0M98.0 139.0h0M90.4 121.7h0M93.8 133.6h0M93.9 140.0h0M69.4 155.5h0M69.3 165.7h0M87.3 149.6h0M68.5 167.1h0M71.6 146.7h0M75.3 143.6h0M89.1 140.6h0M99.0 134.1h0M78.3 157.1h0M61.7 170.6h0M90.6 155.0h0M105.4 126.8h0M78.8 149.1h0M88.2 129.9h0M82.6 137.0h0M67.9 140.6h0M95.8 156.7h0M62.8 167.5h0M92.3 142.7h0M77.7 144.2h0M131.4 114.9h0M57.0 170.7h0M71.2 168.8h0M83.6 135.8h0M87.3 158.2h0M102.8 121.7h0M102.2 149.0h0M78.9 133.8h0M81.5 141.1h0M73.1 154.7h0M63.1 144.2h0M70.4 123.9h0M65.2 145.4h0M60.8 175.7h0M111.3 132.0h0M73.2 149.0h0M92.2 157.5h0M81.2 148.0h0M113.0 141.4h0M80.2 153.0h0M88.4 126.8h0M104.1 106.6h0M79.1 154.4h0M91.4 142.0h0M59.5 160.6h0M98.1 132.8h0M81.7 141.8h0M68.7 147.8h0M63.1 153.1h0M73.6 170.6h0M107.0 119.1h0M99.3 133.4h0M81.7 141.9h0M82.3 137.6h0M78.8 158.0h0M89.0 158.1h0M63.2 154.8h0M93.2 126.2h0M87.5 152.1h0M75.8 158.8h0M86.1 156.8h0M56.3 164.7h0M64.8 157.7h0M84.5 134.2h0M69.7 155.8h0M91.0 139.4h0M99.2 136.5h0M132.4 129.6h0M91.4 156.5h0M68.5 141.4h0M83.8 148.9h0M89.8 125.2h0M81.2 129.9h0M98.4 135.2h0M104.5 122.6h0M87.7 150.9h0M74.6 148.9h0M62.4 173.0h0M59.2 171.1h0M81.4 157.0h0M92.4 150.5h0M74.6 154.0h0M54.4 159.8h0M89.8 122.4h0M72.1 148.6h0M69.1 162.6h0M79.8 131.6h0M66.9 158.3h0M85.1 138.5h0M90.9 123.2h0M96.2 128.9h0M140.8 147.0h0M63.8 175.6h0M80.0 139.1h0M80.3 156.2h0M101.6 114.9h0M72.8 155.2h0M107.9 143.9h0M99.2 130.1h0M88.6 144.2h0M91.9 145.5h0M83.4 149.5h0M94.7 140.9h0M73.4 151.7h0M64.7 151.9h0M100.2 139.1h0M108.6 130.7h0M106.4 123.7h0M78.1 129.1h0M89.2 120.2h0M91.9 142.9h0M94.1 153.7h0M78.5 156.9h0M92.0 142.1h0M85.5 144.9h0M69.0 168.2h0M71.1 158.8h0M94.3 133.8h0M64.8 153.0h0M94.1 132.8h0M83.2 152.6h0M77.8 142.5h0M88.4 127.0h0M99.5 136.4h0M86.2 152.6h0M77.6 152.5h0M95.4 136.2h0M90.2 112.5h0M83.0 149.6h0M78.5 123.0h0M86.9 144.1h0M96.5 142.6h0M91.1 148.6h0M88.4 143.9h0M96.6 124.3h0M100.7 118.7h0M55.3 162.4h0M85.4 159.8h0M88.7 117.6h0M86.0 145.5h0M69.4 172.6h0M79.4 152.4h0M72.4 160.1h0M92.7 147.2h0M106.2 124.4h0M82.1 141.0h0M85.1 158.0h0M73.3 148.1h0M85.9 129.6h0M58.6 174.5h0M87.0 141.7h0M71.7 153.9h0M91.2 139.4h0M81.6 144.0h0M68.0 151.6h0M89.3 145.4h0M84.9 152.0h0M96.9 140.2h0M75.5 147.4h0M90.6 138.1h0M48.9 180.0h0M68.4 155.5h0M84.8 133.3h0M68.2 157.1h0M89.1 125.2h0M74.7 167.2h0M111.6 131.0h0M106.6 147.9h0M83.5 126.0h0M75.5 151.3h0M71.3 160.8h0M73.7 171.7h0M69.7 153.6h0M98.9 147.5h0M76.9 133.7h0M94.8 142.3h0M94.0 131.6h0M73.3 140.2h0M75.9 157.0h0M74.7 153.8h0M85.0 120.3h0M70.0 161.5h0M102.0 139.6h0M93.4 129.9h0M61.3 170.5h0M93.7 139.9h0M74.6 149.2h0M75.5 156.5h0M49.3 175.1h0M90.2 138.5h0M104.9 121.2h0M106.3 112.9h0M76.1 148.0h0M75.2 165.2h0M56.0 157.2h0M79.4 148.5h0M107.6 127.4h0M72.1 147.9h0M75.7 164.1h0M65.4 175.1h0M50.7 176.8h0M92.1 138.5h0M86.8 138.3h0M53.8 180.1h0M73.7 151.1h0M123.5 130.8h0M57.8 176.9h0M108.1 123.3h0M109.7 140.0h0M90.9 141.7h0M101.1 143.3h0M93.7 138.8h0M85.6 134.2h0M105.4 116.0h0M72.3 158.8h0M61.6 180.8h0M65.1 181.3h0M97.5 136.8h0M104.1 129.4h0M73.5 156.7h0M96.0 149.0h0M90.0 146.0h0M102.2 125.5h0M85.4 142.2h0M81.5 135.4h0M72.2 144.4h0M67.8 144.7h0M88.0 126.6h0M82.3 130.4h0M111.7 123.4h0M74.7 148.6h0M117.8 123.2h0M99.5 153.7h0M91.6 134.8h0M64.5 153.8h0M94.0 132.1h0M73.4 167.1h0M105.6 137.5h0M103.0 134.0h0M74.4 156.5h0M95.6 128.6h0M118.0 143.5h0M94.4 135.7h0M113.1 133.6h0M98.7 158.1h0M104.6 111.7h0M69.6 166.9h0M77.7 150.5h0M76.9 139.0h0M61.2 166.9h0M84.7 137.5h0M99.5 133.8h0M79.9 147.4h0M59.6 172.5h0M72.7 156.3h0M89.3 133.5h0M101.0 121.3h0M79.8 148.8h0M62.2 157.1h0M89.5 146.7h0M81.4 152.7h0M55.3 161.4h0M108.6 132.5h0M81.2 143.7h0M91.7 123.9h0M87.9 139.9h0M96.8 127.4h0M85.1 124.7h0M88.7 163.3h0M79.0 144.4h0M92.9 148.4h0M103.1 137.8h0M86.5 129.8h0M72.7 162.3h0M113.8 139.4h0M74.7 152.5h0M85.2 138.1h0M110.0 128.8h0M96.5 130.8h0M90.1 126.0h0M85.4 134.2h0M99.8 135.4h0M98.5 126.4h0M81.1 138.6h0M61.8 142.5h0M77.7 142.3h0M79.9 141.9h0M82.4 146.1h0M81.5 148.2h0M96.1 136.3h0M67.9 145.2h0M101.0 124.4h0M92.2 143.8h0M82.3 153.9h0M92.0 145.1h0M71.4 158.3h0M116.6 128.3h0M86.9 141.1h0M88.2 143.8h0M108.4 134.4h0M81.1 153.3h0M79.1 150.9h0M68.3 154.2h0M81.2 122.7h0M62.8 165.7h0M125.3 103.5h0M87.9 133.0h0M86.2 156.6h0M103.7 130.9h0M95.9 147.5h0M80.6 145.9h0M73.8 163.2h0M72.4 167.5h0M83.1 148.9h0M56.0 174.2h0M63.3 168.6h0M60.3 167.5h0M83.9 153.6h0M64.7 148.5h0M92.8 145.8h0M123.6 97.0h0M92.0 135.8h0M123.4 111.6h0M101.5 138.4h0M65.4 153.6h0M86.1 134.5h0M86.2 163.9h0M83.8 153.3h0M77.0 131.5h0M88.7 174.5h0M58.6 155.1h0M73.4 147.0h0M74.9 163.2h0M74.6 152.6h0M66.3 166.8h0M114.3 94.1h0M92.4 144.4h0M62.2 161.1h0M87.6 146.9h0M92.2 148.2h0M90.1 146.7h0M67.2 157.0h0M88.3 141.4h0M63.2 135.5h0M83.2 147.5h0M95.5 134.2h0M81.3 153.2h0M88.8 147.7h0M93.4 137.0h0M68.2 163.6h0M72.4 146.8h0M86.9 143.8h0M86.9 150.9h0M66.4 162.9h0M74.7 157.6h0M89.2 127.3h0M102.0 119.3h0M88.1 138.0h0M62.2 175.3h0M74.6 150.7h0M79.1 144.5h0M80.2 147.8h0M83.5 162.5h0M76.9 156.7h0M78.8 151.3h0M74.6 136.3h0M77.8 157.0h0M92.7 128.6h0M90.0 118.5h0M82.6 147.2h0M71.2 173.8h0M72.8 143.9h0M100.5 152.3h0M92.3 132.3h0M91.1 121.8h0M119.1 119.5h0M95.1 145.8h0M72.3 145.4h0M79.3 137.8h0M86.3 150.4h0M95.3 132.6h0M68.6 160.0h0M80.0 128.3h0M75.8 143.5h0M81.6 141.2h0M90.4 129.2h0M73.3 129.9h0M70.6 143.1h0M83.5 152.2h0M66.8 160.1h0M70.6 156.1h0M76.9 154.1h0M89.1 134.7h0M58.7 176.3h0M80.7 143.2h0M74.7 140.6h0M75.9 159.3h0M82.8 155.8h0M89.0 130.4h0M96.3 113.6h0M80.2 133.6h0M107.0 145.3h0M67.4 160.8h0M105.8 150.8h0M79.5 143.5h0M95.9 145.6h0M95.1 116.0h0M89.7 115.6h0M107.1 150.7h0M104.2 127.0h0M76.0 157.6h0M102.6 138.7h0M95.2 153.7h0M79.7 124.9h0M78.5 146.8h0M88.1 132.0h0M89.5 147.3h0M85.4 148.5h0M69.7 125.8h0M60.5 159.4h0M97.5 138.3h0M82.6 134.7h0M103.4 135.6h0M80.4 148.0h0M95.9 140.6h0M66.3 152.5h0M110.2 131.3h0M87.7 154.4h0M81.6 164.8h0M87.5 157.1h0M69.3 169.7h0M77.8 159.4h0M85.0 150.0h0M75.3 147.1h0M82.2 136.0h0M64.1 137.6h0M69.8 156.8h0M70.1 156.0h0M72.9 131.3h0M60.2 171.6h0M85.4 145.8h0M82.0 126.0h0M87.7 120.3h0M94.7 127.3h0M107.4 129.7h0M116.8 122.7h0M59.5 173.1h0M81.7 153.3h0M83.1 149.3h0M50.7 182.1h0M76.7 159.0h0M100.6 122.7h0M77.0 158.9h0M95.3 149.3h0M102.8 153.1h0M106.1 135.7h0M93.3 136.8h0M104.1 131.5h0M80.9 129.4h0M58.3 155.6h0M79.0 125.9h0M84.1 163.4h0M74.8 153.8h0M91.0 150.0h0M77.5 160.9h0M111.5 118.6h0M100.8 104.1h0M113.3 111.4h0M62.8 157.9h0M80.4 133.4h0M111.9 131.2h0M80.7 151.5h0M79.1 131.2h0M95.0 151.2h0M70.4 151.9h0M95.7 159.3h0M76.2 124.4h0M68.8 153.9h0M64.6 137.3h0M81.0 146.3h0M114.4 120.8h0M102.7 145.5h0M100.8 156.7h0M85.3 135.7h0M84.6 135.7h0M87.6 148.3h0M79.9 153.0h0M53.1 162.8h0M85.0 150.3h0M86.3 142.8h0M69.1 153.7h0M72.4 154.3h0M82.2 167.1h0M76.7 124.7h0M61.8 147.2h0M87.0 144.2h0M70.6 132.5h0M88.2 152.3h0M82.7 136.9h0M79.0 149.7h0M70.5 161.3h0M77.1 126.7h0M96.2 143.5h0M107.7 135.6h0M90.9 149.8h0M96.4 123.5h0M68.9 155.6h0M76.0 153.8h0M93.8 148.4h0M84.6 155.5h0M83.0 144.6h0M93.6 149.7h0M88.3 146.7h0M93.5 153.8h0M81.3 135.8h0M72.3 159.0h0M103.6 148.8h0M66.7 137.3h0M132.5 78.2h0M61.0 156.3h0M79.1 141.3h0M90.6 148.7h0M74.3 152.0h0M57.7 165.7h0M98.3 139.7h0M71.7 149.3h0M78.2 127.8h0M66.0 150.6h0M112.6 122.7h0M76.2 147.4h0M84.1 153.7h0M69.8 132.7h0M68.3 164.6h0M78.0 144.4h0M79.8 144.0h0M81.3 163.6h0M73.8 151.6h0M50.9 167.6h0M72.1 158.0h0M54.8 168.4h0M85.3 144.8h0M81.6 154.2h0M99.5 136.3h0M74.4 143.6h0M100.6 142.6h0M81.3 162.2h0M74.1 163.6h0M75.6 157.3h0M87.0 139.4h0M54.4 171.2h0M58.7 142.5h0M65.8 158.7h0M71.4 158.8h0M91.5 148.5h0M63.4 157.1h0M89.0 157.7h0M81.1 132.4h0M108.4 128.2h0M95.8 131.1h0M81.7 147.4h0M99.8 138.6h0M70.5 153.7h0M70.2 157.4h0M80.5 142.1h0M95.7 140.1h0M89.6 154.0h0M85.4 140.0h0M90.3 132.1h0M73.2 138.9h0M88.6 130.5h0M78.7 155.8h0M69.9 153.6h0M118.3 127.3h0M66.7 155.7h0M87.0 141.7h0M122.9 117.7h0M86.5 136.4h0M85.9 114.1h0M129.6 101.5h0M101.8 144.7h0M72.2 130.2h0M79.2 159.6h0M90.3 130.6h0M84.3 152.0h0M83.6 166.6h0M75.5 134.5h0M97.5 157.8h0M57.1 174.4h0M86.8 153.6h0M56.2 167.8h0M95.7 141.3h0M96.0 130.0h0M113.0 134.5h0M87.6 150.4h0M108.5 139.7h0M91.3 127.1h0M76.8 157.4h0M90.8 113.3h0M57.2 163.3h0M98.1 134.9h0M58.0 161.1h0M77.8 154.4h0M90.1 138.0h0M106.7 147.0h0M57.5 164.8h0M86.6 144.0h0M58.5 178.6h0M76.2 156.5h0M85.2 140.9h0M98.8 136.3h0M76.6 158.9h0M81.2 149.5h0M77.6 161.9h0M53.1 166.4h0M75.9 164.9h0M87.2 147.7h0M79.6 137.7h0M72.3 162.7h0M108.7 123.0h0M73.4 164.6h0M73.7 140.4h0M86.4 118.5h0M89.6 126.5h0M83.1 133.6h0M68.6 144.2h0M97.1 146.9h0M87.3 129.8h0M65.2 159.3h0M73.6 141.7h0M83.5 138.5h0M85.4 131.7h0M86.3 150.2h0M72.2 153.7h0M71.2 144.7h0M86.5 157.5h0M76.5 153.0h0M82.7 129.5h0M95.4 145.8h0M79.6 145.2h0M92.9 135.9h0M99.0 135.4h0M89.2 132.8h0M103.9 120.0h0M74.0 161.8h0M96.2 141.0h0M80.8 156.6h0M83.2 160.1h0M75.9 136.1h0M87.2 135.4h0M64.9 156.4h0M113.4 121.2h0M104.1 116.3h0M79.8 140.2h0M110.4 127.1h0M94.0 126.2h0M91.2 140.9h0M77.0 152.7h0M99.8 117.1h0M86.1 146.0h0M95.3 138.0h0M113.3 135.4h0M80.2 151.0h0M111.0 128.7h0M62.7 162.1h0M79.0 159.4h0M92.7 154.4h0M68.5 159.3h0M73.6 139.1h0M94.0 129.5h0M76.4 147.7h0M89.6 132.8h0M80.7 154.4h0M78.0 157.1h0M115.5 130.5h0M93.0 137.6h0M103.0 129.8h0M63.7 149.2h0M118.9 122.2h0M96.5 156.8h0M120.6 98.9h0M48.8 180.4h0M83.7 161.3h0M100.6 117.2h0M87.5 124.9h0M86.9 135.4h0M72.0 142.5h0M81.1 147.0h0M117.2 105.4h0M89.0 133.9h0M92.9 141.0h0M89.9 137.4h0M118.6 142.7h0M77.4 167.2h0M78.1 160.9h0M84.2 150.6h0M60.3 157.4h0M88.5 145.1h0M89.9 138.4h0M85.5 136.8h0M84.9 144.3h0M72.8 153.9h0M94.4 143.1h0M53.6 169.8h0M63.9 173.0h0M76.8 173.8h0M77.0 170.9h0M91.1 153.6h0M70.3 157.5h0M86.9 158.5h0M77.2 174.6h0M67.5 171.8h0M52.4 178.8h0M120.6 104.2h0M87.0 142.6h0M89.0 143.2h0M68.2 152.8h0M66.8 159.7h0M107.0 144.1h0M81.7 145.9h0M91.8 142.9h0M81.1 138.2h0M74.2 164.4h0M68.9 151.6h0M68.3 151.8h0M61.1 129.5h0M112.1 133.7h0M84.0 153.0h0M68.6 139.4h0M69.1 143.6h0M90.4 141.4h0M77.9 148.8h0M54.4 166.5h0M87.9 148.5h0M67.7 173.6h0M62.4 166.4h0M73.0 138.9h0M84.7 144.0h0M71.6 158.7h0M91.8 140.5h0M89.2 143.6h0M98.6 120.2h0M100.2 116.1h0M89.3 144.9h0M99.0 123.9h0M82.8 158.6h0M93.1 150.0h0M104.5 124.6h0M96.1 139.4h0M79.7 142.8h0M75.2 148.5h0M72.4 136.0h0M79.8 148.0h0M100.9 143.8h0M84.0 144.0h0M61.1 175.9h0M115.6 122.5h0M85.4 123.2h0M61.3 151.4h0M73.0 133.3h0M76.7 154.2h0M79.7 145.8h0M96.2 139.8h0M73.5 163.4h0M63.0 152.4h0M89.3 166.1h0M68.9 147.3h0M135.1 107.2h0M78.2 166.0h0M68.7 152.9h0M80.1 139.8h0M72.7 142.6h0M85.0 132.6h0M66.2 163.7h0M83.7 101.9h0M91.6 144.9h0M61.6 158.2h0M74.4 161.1h0M85.6 129.5h0M74.0 144.5h0M85.3 154.7h0M99.6 145.7h0M103.7 102.8h0M108.5 116.5h0M75.1 145.7h0M73.7 147.2h0M100.9 133.8h0M54.7 149.5h0M53.9 167.1h0M63.9 162.3h0M63.9 160.8h0M66.7 182.1h0M65.7 144.9h0M78.1 161.6h0M80.9 137.8h0M89.8 139.6h0M69.3 154.1h0M65.5 158.9h0M74.4 152.3h0M97.4 129.2h0M76.3 158.7h0M74.4 153.5h0M81.8 136.6h0M71.0 163.0h0M72.1 157.9h0M88.3 138.9h0M68.8 154.6h0M65.6 144.7h0M82.5 143.6h0M105.6 137.3h0M86.0 156.3h0M59.8 156.2h0M75.4 152.2h0M90.0 131.8h0M93.4 143.3h0M89.7 142.2h0M84.2 131.8h0M96.6 163.6h0M78.9 144.8h0M72.3 146.8h0M88.8 161.4h0M110.5 116.0h0M76.3 150.0h0M97.8 101.8h0M92.7 154.6h0M87.7 129.5h0M96.2 138.4h0M74.8 175.1h0M102.1 142.1h0M100.5 129.3h0M85.1 134.4h0M87.4 153.5h0M89.0 139.5h0M96.0 128.9h0M90.2 151.7h0M95.2 133.3h0M76.8 116.6h0M74.9 140.9h0M74.5 140.4h0M87.5 137.9h0M82.1 157.8h0M124.7 125.3h0M74.3 151.2h0M62.3 151.4h0M91.7 114.2h0M101.4 150.8h0M115.6 143.1h0M83.4 153.3h0M75.2 144.4h0M97.5 132.9h0M158.4 135.6h0M93.9 131.0h0M81.1 160.4h0M92.5 119.8h0M93.0 139.0h0M71.6 162.8h0M51.6 173.4h0M86.0 149.0h0M66.4 161.3h0M93.7 142.2h0M60.2 154.1h0M79.8 154.4h0M68.5 156.7h0M57.0 172.6h0M58.9 157.6h0M97.7 140.7h0M82.2 150.3h0M84.5 142.1h0M88.3 154.8h0M93.2 160.1h0M70.0 126.4h0M96.0 138.6h0M64.8 156.4h0M78.5 163.0h0M74.3 163.1h0M89.7 164.1h0M109.0 130.3h0M89.5 151.1h0M72.6 163.9h0M76.8 158.7h0M75.7 135.8h0M70.7 149.1h0M104.2 145.3h0M98.4 144.7h0M72.3 158.1h0M113.1 126.6h0M78.9 163.2h0M96.1 141.5h0M101.4 141.0h0M57.4 171.8h0M84.1 126.9h0M96.0 149.5h0M65.4 168.5h0M88.6 134.3h0M66.9 152.5h0M83.0 149.2h0M64.4 166.9h0M97.9 135.3h0M86.9 123.1h0M80.9 144.9h0M72.5 150.3h0M78.5 136.5h0M91.5 141.9h0M85.2 145.0h0M51.5 159.8h0M70.5 164.6h0M59.0 168.3h0M86.1 149.1h0M100.4 113.0h0M119.8 135.9h0M72.8 147.1h0M74.1 152.1h0M80.7 153.2h0M82.2 122.4h0M99.7 135.3h0M102.3 131.7h0M70.0 149.9h0M95.3 134.4h0M110.7 137.1h0M108.7 145.6h0M89.3 125.1h0M79.8 161.3h0M95.9 160.7h0M91.3 148.4h0M74.1 136.4h0M115.0 139.5h0M84.7 145.3h0M81.9 142.7h0M121.0 111.4h0M63.5 163.6h0M88.1 160.2h0M116.5 127.9h0M80.4 158.0h0M70.3 151.9h0M77.0 154.0h0M55.2 161.9h0M67.4 126.0h0M84.1 139.9h0M102.4 139.9h0M97.0 120.9h0M81.0 163.8h0M96.9 141.7h0M90.4 167.5h0M65.3 156.1h0M74.5 165.0h0M96.7 149.7h0M76.5 149.9h0M90.0 125.1h0M71.5 153.9h0M79.7 146.0h0M100.5 137.2h0M107.1 85.5h0M79.7 164.7h0M78.9 133.3h0M71.7 153.8h0M103.4 138.7h0M82.0 157.4h0M83.6 133.8h0M79.1 141.0h0M79.3 145.0h0M100.5 142.8h0M88.2 127.4h0M84.6 155.9h0M67.2 135.4h0M71.1 167.7h0M87.9 139.8h0M79.7 140.6h0M80.4 140.7h0M73.8 156.5h0M78.0 151.8h0M67.4 162.1h0M102.1 141.6h0M90.3 145.4h0M98.9 102.8h0M56.0 171.4h0M62.4 157.2h0M83.2 136.2h0M85.1 157.1h0M72.8 143.7h0M84.1 166.8h0M84.0 141.2h0M55.2 175.5h0M96.0 105.4h0M62.3 141.4h0M96.4 158.1h0M88.3 131.2h0M70.6 137.5h0M96.9 137.7h0M110.1 134.5h0M115.5 111.2h0M156.0 86.1h0M89.9 130.6h0M76.5 125.3h0M79.9 140.1h0M100.3 134.6h0M97.3 156.4h0M89.7 151.1h0M103.4 124.7h0M73.0 128.0h0M105.2 131.3h0M76.0 139.0h0M50.4 169.4h0M78.5 147.5h0M108.4 102.5h0M101.5 166.7h0M99.7 136.0h0M132.0 135.2h0M95.3 134.3h0M57.0 141.2h0M91.3 104.2h0M80.7 143.3h0M84.6 146.7h0M73.3 171.8h0M75.7 158.2h0M48.9 178.8h0M76.8 151.0h0M72.3 168.9h0M118.7 123.8h0M148.0 122.3h0M100.4 158.4h0M64.2 128.9h0M116.8 133.5h0M113.9 133.1h0M93.5 165.9h0M75.0 100.0h0M100.6 150.3h0M75.0 122.6h0M113.8 134.7h0M58.5 163.6h0M91.0 122.5h0M98.3 109.7h0M141.5 102.6h0M90.7 134.7h0M83.6 109.9h0M107.4 173.7h0M95.1 133.6h0M77.7 162.8h0M120.6 150.7h0M63.7 170.0h0M140.1 124.9h0M102.6 138.2h0M67.8 176.9h0M98.8 127.7h0M100.0 121.3h0M86.5 148.6h0M74.9 126.3h0M85.7 98.2h0M110.4 164.1h0M146.9 149.9h0M109.9 107.7h0M76.6 151.9h0M87.0 141.2h0M119.1 119.4h0M113.1 126.2h0M92.6 136.5h0M96.8 111.2h0M117.3 148.1h0M131.7 108.8h0M89.6 169.4h0M99.0 103.7h0M105.3 95.9h0M91.9 131.9h0M107.1 91.2h0M110.2 122.3h0M71.7 133.9h0M67.5 123.2h0M107.1 135.5h0M150.9 111.6h0M74.0 168.2h0M97.8 141.8h0M125.2 144.2h0M110.4 135.6h0M104.3 101.2h0M96.5 152.6h0M120.5 63.4h0M108.2 124.1h0M103.9 119.9h0M66.2 155.4h0M100.0 91.7h0M80.7 163.2h0M95.1 152.4h0M104.4 113.9h0M85.5 105.0h0M110.1 108.5h0M65.2 139.1h0M61.0 143.3h0M68.0 158.8h0M72.9 158.9h0M69.3 169.2h0M76.5 141.9h0M110.7 116.3h0M63.4 166.6h0M116.6 153.4h0M106.8 115.8h0M67.1 146.9h0M80.0 108.7h0M96.3 121.8h0M96.8 150.0h0M102.2 125.4h0M72.7 137.4h0M64.5 150.9h0M81.5 160.4h0M61.8 159.6h0M82.5 149.6h0M74.9 150.3h0M85.4 158.8h0M81.1 162.7h0M130.7 144.6h0M114.4 113.8h0M95.6 122.5h0M81.7 93.4h0M91.6 106.0h0M82.7 129.1h0M86.8 146.4h0M112.2 117.6h0M82.1 155.1h0M80.1 145.4h0M107.0 78.3h0M108.2 101.1h0M104.9 138.0h0M121.6 116.3h0M68.7 135.9h0M63.5 139.4h0M97.4 134.9h0M106.4 136.2h0M97.7 145.3h0M99.9 127.4h0M81.5 138.2h0M87.4 141.2h0M116.8 97.6h0M48.9 167.7h0M70.7 147.0h0M65.4 160.4h0M77.9 114.2h0M56.1 172.2h0M126.2 132.0h0M74.8 118.9h0M59.1 178.8h0M71.2 160.3h0M90.2 120.5h0M94.6 140.8h0M80.8 143.2h0M105.9 137.3h0M77.6 158.5h0M76.5 178.0h0M79.1 136.8h0M75.9 138.4h0M128.1 100.1h0M93.9 103.4h0M111.8 127.8h0M95.9 129.6h0M84.5 142.3h0M92.1 113.0h0M60.1 150.9h0M91.3 154.0h0M74.2 163.4h0M56.4 177.7h0M122.1 103.9h0M82.0 157.8h0M79.4 162.5h0M106.9 142.4h0M67.5 163.5h0M75.7 127.5h0M48.5 174.9h0M93.1 111.6h0M77.9 133.9h0M89.5 127.9h0M118.6 146.5h0M96.2 135.9h0M96.6 153.7h0M101.3 110.2h0M72.7 171.4h0M86.0 151.0h0M116.2 120.3h0M84.4 138.3h0M95.4 149.7h0M77.5 159.4h0M101.7 146.9h0M92.3 118.0h0M63.6 153.6h0M105.4 153.0h0M109.3 100.6h0M76.2 164.4h0M116.5 114.0h0M62.5 143.9h0M105.6 142.4h0M83.1 137.3h0M62.5 177.9h0M60.5 136.6h0M101.7 144.0h0M78.1 143.7h0M95.5 96.6h0M67.8 142.2h0M116.6 136.8h0M89.6 176.1h0M98.9 124.0h0M52.4 150.4h0M149.8 104.7h0M57.2 165.5h0M81.0 167.3h0M111.7 142.1h0M102.9 119.8h0M89.2 155.7h0M76.6 180.4h0M78.7 147.5h0M109.6 143.2h0M84.6 111.7h0M64.8 120.8h0M87.4 138.2h0M80.2 150.8h0M82.9 148.0h0M80.5 140.0h0M74.7 155.4h0M60.8 145.8h0M57.8 163.4h0M61.6 132.0h0M86.1 142.5h0M74.8 150.8h0M96.7 131.9h0M126.2 118.5h0M75.7 133.8h0M81.3 130.1h0M80.0 141.9h0M103.7 134.1h0M87.8 154.2h0M64.6 165.0h0M76.2 130.5h0M110.0 136.5h0M96.1 109.0h0M54.6 142.9h0M78.9 156.8h0M107.7 104.6h0M88.8 147.2h0M65.4 172.7h0M73.9 158.6h0M49.3 169.7h0M127.2 141.4h0M61.1 150.3h0M73.1 129.6h0M63.7 164.4h0M60.9 152.8h0M87.4 156.0h0M105.2 134.1h0M78.7 147.8h0M69.8 148.7h0M78.4 177.8h0M68.7 136.6h0M123.3 83.3h0M79.2 174.7h0M83.6 142.4h0M126.9 117.9h0M65.3 161.6h0M100.0 146.7h0M113.9 146.6h0M91.7 118.3h0M53.7 153.4h0M78.0 147.2h0M97.3 55.8h0M92.2 163.8h0M104.4 107.2h0M72.5 141.8h0M88.6 136.6h0M129.1 118.2h0M104.8 147.3h0M78.8 117.0h0M91.9 140.7h0M68.7 126.7h0M116.4 102.4h0M106.1 112.3h0M69.8 136.8h0M88.9 128.4h0M90.9 137.5h0M123.6 129.8h0M126.8 92.4h0M131.6 101.5h0M85.1 136.2h0M93.8 134.8h0M69.0 142.7h0M76.8 150.1h0M98.9 112.9h0M84.1 156.4h0M86.7 161.9h0M65.5 132.6h0M71.9 154.3h0M94.5 119.4h0M95.0 144.8h0M92.4 129.7h0M72.5 149.9h0M92.9 120.4h0M57.4 157.6h0M84.7 121.6h0M60.3 135.7h0M65.8 145.4h0M106.2 108.0h0M118.3 155.5h0M66.7 130.9h0M94.4 161.7h0M94.5 125.7h0M151.0 124.7h0M115.7 115.1h0M89.3 164.1h0M98.8 113.0h0M62.7 151.0h0M57.8 155.2h0M76.7 148.0h0M64.7 127.6h0M114.0 126.3h0M73.8 155.7h0M53.3 157.4h0M100.5 150.6h0M100.9 144.1h0M65.8 142.4h0M113.5 83.9h0M124.1 137.1h0M73.7 157.6h0M72.3 149.7h0M80.4 106.1h0M50.6 181.7h0M109.5 93.4h0M74.0 146.0h0M75.5 166.3h0M100.4 119.0h0M105.5 143.2h0M86.4 148.9h0M95.9 86.3h0M71.9 180.4h0M97.5 92.1h0M108.0 136.9h0M136.6 175.7h0M72.9 178.5h0M83.5 105.2h0M77.1 144.1h0M90.1 142.2h0M91.9 152.4h0M82.3 147.9h0M80.2 153.6h0M118.4 140.4h0M58.8 170.0h0M51.2 180.5h0M50.6 175.0h0M95.4 121.1h0M74.7 153.8h0M93.8 76.3h0M82.7 160.8h0M71.4 122.4h0M107.8 124.1h0M123.9 148.2h0M106.7 125.8h0M75.5 116.1h0M82.9 106.4h0M88.5 157.2h0M131.3 112.2h0M88.3 164.5h0M89.9 151.6h0M65.7 168.6h0M91.3 96.8h0M77.6 165.9h0M115.1 138.2h0M89.2 153.6h0M83.8 142.1h0M105.9 141.1h0M76.1 145.4h0M77.6 121.6h0M74.3 154.0h0M96.7 147.5h0M87.4 124.2h0M135.7 69.0h0M95.7 141.8h0M86.3 159.1h0M73.7 163.6h0M84.1 149.0h0M55.1 166.2h0M63.8 153.1h0M52.1 148.1h0M129.7 118.5h0M114.8 134.4h0M64.9 139.1h0M108.8 126.8h0M93.8 116.5h0M115.7 126.8h0M87.7 120.2h0M83.6 153.0h0M88.7 107.2h0M97.5 143.7h0M143.1 125.9h0M96.6 127.0h0M86.5 142.9h0M78.7 146.2h0M112.0 128.5h0M124.3 145.3h0M85.5 134.1h0M94.6 108.4h0M103.9 150.1h0M77.4 114.8h0M100.1 149.8h0M108.7 128.9h0M110.3 137.1h0M85.3 156.9h0M93.6 142.3h0M108.9 138.1h0M63.1 116.2h0M102.9 128.9h0M82.6 143.9h0M115.4 131.8h0M85.5 137.0h0M146.9 117.4h0M128.0 131.0h0M83.6 153.7h0M79.3 133.4h0M109.2 128.9h0M81.9 137.4h0M105.4 83.2h0M77.9 131.1h0M114.5 135.9h0M60.8 110.5h0M75.9 154.4h0M56.0 169.0h0M105.3 141.9h0M81.6 138.4h0M71.2 159.2h0M66.8 164.6h0M124.5 117.8h0M82.6 130.1h0M49.8 170.4h0M80.7 149.3h0M81.0 149.0h0M91.4 103.4h0M96.7 104.3h0M88.2 156.7h0M67.3 181.8h0M95.3 145.2h0M86.8 117.1h0M100.4 156.9h0M85.9 123.6h0M86.5 140.4h0M69.2 145.5h0M56.0 168.8h0M101.2 137.8h0M100.4 131.0h0M107.6 137.7h0M94.3 122.4h0M140.9 96.2h0M66.1 117.6h0M115.1 111.5h0M105.6 151.8h0M110.6 91.8h0M57.1 143.3h0M77.1 86.9h0M85.5 136.2h0M90.7 153.4h0M93.3 139.4h0M90.2 153.0h0M66.2 180.8h0M68.2 147.7h0M64.8 166.1h0M104.0 118.9h0M135.4 132.1h0M55.2 179.7h0M76.6 132.2h0M110.1 72.0h0M111.2 147.2h0M74.6 152.3h0M82.1 135.1h0M110.7 147.8h0M75.1 128.4h0M107.1 134.8h0M86.6 137.6h0M83.1 145.6h0M108.2 101.6h0M63.9 155.3h0M67.9 178.2h0M99.8 166.2h0M108.6 123.1h0M82.6 134.1h0M86.2 133.3h0M119.4 130.1h0M117.3 121.1h0M98.8 105.5h0M51.5 156.4h0M93.8 94.5h0M109.9 123.5h0M74.6 131.0h0M71.6 105.4h0M77.2 146.1h0M88.0 161.2h0M66.7 152.6h0M108.6 109.5h0M133.3 56.2h0M88.5 144.2h0M134.4 131.0h0M99.8 152.2h0M95.4 113.3h0M90.1 154.8h0M94.1 144.0h0M76.8 124.7h0M76.2 133.3h0M94.3 154.6h0M90.9 158.2h0M144.7 73.0h0M124.0 158.8h0M101.1 117.0h0M86.0 142.8h0M128.6 109.5h0M59.2 149.1h0M125.1 118.5h0M82.2 148.6h0M68.7 157.0h0M91.0 118.5h0M101.4 98.6h0M108.5 122.0h0M87.7 129.0h0M75.8 130.3h0M87.3 157.2h0M62.0 149.8h0M93.2 144.4h0M74.3 146.3h0M92.5 146.6h0M88.8 164.4h0M71.3 151.5h0M68.3 155.8h0M83.4 156.7h0M116.7 120.6h0M86.6 80.9h0M97.9 150.3h0M89.8 73.5h0M112.5 119.4h0M101.7 122.1h0M76.4 149.2h0M107.9 116.8h0M104.7 97.9h0M119.5 167.3h0M98.0 147.7h0M106.2 120.3h0M75.2 145.9h0M118.5 157.9h0M55.9 153.8h0M94.5 134.5h0M93.4 116.7h0M98.5 136.3h0M84.3 134.1h0M130.9 157.5h0M70.5 166.7h0M118.1 113.5h0M114.5 87.2h0M97.0 126.5h0M65.4 176.5h0M69.2 130.2h0M146.2 78.2h0M76.6 145.6h0M82.8 152.3h0M91.4 127.7h0M70.9 154.0h0M69.6 137.4h0M91.3 115.6h0M90.5 150.1h0M85.0 150.9h0M132.5 155.3h0M87.9 126.7h0M91.8 175.8h0M112.7 98.9h0M76.8 153.4h0M97.5 155.1h0M104.3 135.5h0M85.7 146.9h0M69.8 147.6h0M103.6 157.3h0M66.7 136.5h0M98.8 124.5h0M82.1 133.8h0M133.6 90.4h0M79.9 172.7h0M84.3 118.1h0M89.7 144.2h0M65.9 143.1h0M65.1 181.2h0M154.2 136.5h0M119.2 136.5h0M99.9 138.2h0M67.0 129.8h0M139.2 59.4h0M111.6 106.8h0M113.8 128.2h0M90.5 126.8h0M89.4 125.2h0M83.1 146.1h0M100.8 87.7h0M70.9 120.3h0M124.5 135.9h0M128.3 144.7h0M106.2 145.2h0M73.1 159.5h0M90.9 151.5h0M71.1 120.0h0M69.0 157.7h0M84.4 126.7h0M66.5 175.1h0M69.3 148.7h0M79.9 165.2h0M116.8 94.5h0M56.1 156.2h0M77.7 149.7h0M91.9 136.4h0M106.1 108.4h0M94.3 151.9h0M72.4 158.6h0M79.9 147.6h0M68.2 154.0h0M104.0 144.9h0M106.2 111.4h0M116.0 87.3h0M84.1 149.6h0M112.1 145.7h0M81.3 137.1h0M73.8 153.8h0M102.6 92.8h0M95.3 125.8h0M72.8 170.4h0M96.9 142.1h0M144.5 122.4h0M82.5 130.0h0M114.5 117.7h0M86.9 133.8h0M76.6 146.9h0M50.6 168.2h0M63.7 166.6h0M69.8 143.8h0M77.0 155.8h0M91.9 156.7h0M77.7 144.9h0M74.7 136.8h0M91.4 132.4h0M102.1 146.8h0M59.7 174.5h0M78.4 124.7h0M75.7 165.9h0M96.7 123.2h0M90.0 161.7h0M100.0 115.3h0M74.3 172.5h0M99.6 173.5h0M112.2 118.2h0M93.6 141.4h0M87.2 87.9h0M125.4 121.5h0M73.6 126.4h0M76.2 152.0h0M95.0 120.8h0M82.2 109.9h0M98.8 142.8h0M89.4 107.8h0M68.3 155.7h0M98.7 119.8h0M87.8 126.8h0M113.3 110.7h0M74.9 126.2h0M97.7 150.6h0M100.7 133.4h0M126.2 103.6h0M68.7 142.4h0M53.0 157.7h0M72.2 148.4h0M57.0 164.1h0M126.9 159.7h0M64.3 163.4h0M97.5 157.1h0M121.5 99.8h0M152.0 90.6h0M116.8 139.0h0M72.0 153.6h0M112.1 125.6h0M55.3 146.4h0M72.5 113.5h0M93.5 144.3h0M112.4 150.8h0M97.1 131.4h0M77.9 154.4h0M84.4 137.3h0M66.2 111.1h0M86.5 120.6h0M117.3 134.0h0M195.8 72.7h0M84.6 154.7h0M80.9 163.6h0M77.9 160.6h0M102.7 157.4h0M65.8 146.9h0M122.6 133.3h0M54.1 146.7h0M134.1 133.4h0M143.7 105.5h0M86.0 139.2h0M96.2 154.8h0M72.6 114.8h0M103.8 142.8h0M86.1 127.2h0M133.3 99.3h0M76.5 120.6h0M65.4 128.7h0M81.9 152.1h0M87.1 163.5h0M85.7 150.3h0M85.0 136.1h0M102.1 90.5h0M66.9 158.4h0M69.3 164.5h0M68.9 160.0h0M94.1 104.4h0M90.2 157.7h0M88.0 126.0h0M138.0 127.2h0M59.6 165.7h0M67.4 102.5h0M74.3 121.8h0M68.8 128.5h0M112.7 157.8h0M68.2 126.9h0M53.0 144.4h0M61.1 169.3h0M116.8 123.7h0M53.8 159.4h0M83.2 157.0h0M84.2 148.8h0M95.6 127.5h0M83.2 161.3h0M97.3 151.8h0M71.5 157.5h0M75.1 146.4h0M106.1 112.1h0M91.9 166.7h0M99.4 103.7h0M86.7 139.0h0M88.8 98.8h0M70.2 154.5h0M112.6 92.9h0M96.2 82.3h0M70.7 155.8h0M98.4 112.5h0M77.3 171.1h0M65.3 176.2h0M105.2 138.4h0M53.9 166.9h0M95.6 123.0h0M81.8 124.5h0M96.7 108.7h0M75.5 151.5h0M97.6 132.0h0M113.5 131.7h0M80.9 142.6h0M119.2 140.6h0M107.1 150.4h0M81.2 128.0h0M87.4 135.8h0M93.5 93.9h0M71.7 170.2h0M85.5 144.6h0M102.5 125.5h0M99.8 148.6h0M77.3 174.5h0M87.7 164.5h0M60.1 168.2h0M111.3 112.2h0M83.4 133.3h0M113.5 110.8h0M113.0 119.0h0M61.7 167.3h0M89.6 123.9h0M114.9 109.0h0M74.6 139.2h0M93.1 146.3h0M69.4 118.4h0M77.8 145.4h0M66.5 125.7h0M84.8 89.8h0M97.7 132.7h0M83.2 141.1h0M98.9 151.4h0M75.1 158.7h0M99.6 94.6h0M67.5 131.0h0M90.1 123.7h0M58.8 178.1h0M78.3 111.9h0M94.1 130.7h0M78.2 131.0h0M58.1 176.9h0M83.8 90.4h0M78.6 134.9h0M102.8 119.5h0M126.4 84.5h0M52.5 164.5h0M188.1 118.4h0M88.5 163.2h0M54.0 166.9h0M82.9 164.1h0M147.0 139.4h0M98.3 127.9h0M106.2 126.6h0M85.2 115.1h0M89.1 156.5h0M100.3 130.4h0M83.3 99.6h0M108.7 129.2h0M85.3 149.7h0M65.6 150.3h0M138.8 120.2h0M126.2 136.5h0M67.1 141.2h0M129.6 140.2h0M74.3 150.2h0M82.4 157.5h0M115.7 140.6h0M98.0 152.2h0M64.5 171.8h0M108.9 143.5h0M55.0 143.3h0M113.9 91.0h0M75.2 116.3h0M49.0 103.6h0M81.0 162.5h0M53.1 167.9h0M84.6 142.8h0M102.2 130.3h0M85.2 163.7h0M113.5 111.0h0M51.6 148.4h0M73.4 161.5h0M95.7 141.7h0M98.6 141.0h0M95.4 108.1h0M85.3 97.0h0M113.2 149.7h0M107.9 108.7h0M105.5 161.8h0M81.2 135.9h0M64.4 163.8h0M108.7 137.9h0M87.8 112.3h0M97.7 121.6h0M98.9 171.6h0M126.8 148.1h0M105.7 127.3h0M121.7 123.9h0M86.8 121.3h0M101.3 123.6h0M133.3 116.1h0M91.3 157.8h0M147.5 99.7h0M89.3 131.0h0M88.3 118.1h0M90.0 126.0h0M87.7 100.0h0M79.7 162.9h0M56.2 175.9h0M83.1 95.9h0M112.9 94.1h0M57.9 158.5h0M102.5 111.5h0M113.3 102.5h0M65.4 113.8h0M98.8 163.0h0M92.1 167.2h0M107.7 107.4h0M63.7 172.1h0M74.4 144.1h0M86.4 138.5h0M80.8 129.7h0M86.7 165.8h0M80.1 105.7h0M65.4 160.0h0M78.8 117.1h0M51.1 164.7h0M102.7 126.2h0M85.2 154.1h0M95.1 149.5h0M88.6 143.1h0M152.4 143.8h0M111.6 95.3h0M86.5 118.8h0M62.9 177.3h0M99.8 159.9h0M89.6 169.4h0M77.2 165.5h0M86.0 133.0h0M102.2 151.4h0M110.3 145.3h0M74.7 175.6h0M116.1 116.8h0M101.1 100.2h0M71.9 163.3h0M114.1 125.3h0M98.8 145.1h0M85.3 122.2h0M64.6 124.7h0M110.0 130.4h0M77.8 135.4h0M70.4 158.2h0M99.9 139.9h0M95.7 108.6h0M87.6 161.9h0M138.3 90.0h0M65.4 144.6h0M76.4 125.1h0M116.2 135.6h0M101.9 71.9h0M116.0 124.3h0M85.2 149.4h0M72.6 175.6h0M83.3 148.6h0M103.2 99.5h0M62.6 154.7h0M66.3 160.1h0M102.4 159.4h0M80.4 161.2h0M67.8 134.8h0M124.5 139.9h0M108.2 141.9h0M51.1 173.4h0M110.1 151.2h0M78.9 171.5h0M111.6 116.3h0M83.4 158.7h0M88.3 144.9h0M103.8 140.6h0M69.6 173.4h0M108.7 129.5h0M90.6 80.8h0M93.9 119.5h0M84.9 126.1h0M97.6 119.1h0M80.6 153.1h0M81.6 153.3h0M64.3 149.1h0M110.0 136.5h0M109.8 121.9h0M80.0 157.4h0M61.4 130.8h0M64.0 179.5h0M67.8 139.1h0M82.1 148.2h0M84.8 162.8h0M72.3 133.9h0M126.0 120.6h0M68.9 149.2h0M93.9 124.0h0M106.6 156.7h0M91.6 134.5h0M95.5 127.8h0M107.2 149.0h0M99.8 116.3h0M97.9 151.1h0M69.7 147.7h0M94.5 144.6h0M88.6 130.6h0M62.9 132.6h0M86.7 132.5h0M82.8 147.6h0M83.7 124.4h0M70.8 134.4h0M76.1 149.6h0M140.1 116.3h0M160.5 101.4h0M140.0 105.5h0M88.3 133.0h0M114.4 107.8h0M99.7 141.1h0M59.0 122.8h0M95.8 108.5h0M134.8 111.0h0M65.0 162.9h0M76.0 123.3h0M62.1 164.7h0M73.5 145.2h0M70.7 155.4h0M106.4 154.6h0M71.9 148.4h0M79.4 138.8h0M94.5 142.4h0M104.0 180.4h0M89.6 122.4h0M102.2 160.0h0M60.8 170.2h0M106.5 142.5h0M57.5 162.0h0M98.0 108.5h0M111.8 136.5h0M98.9 124.0h0M76.7 156.9h0M79.7 126.1h0M94.5 132.8h0M122.4 146.0h0M108.6 159.3h0M90.2 106.6h0M123.4 126.0h0M105.1 146.7h0M80.0 65.0h0M100.3 143.6h0M138.2 127.4h0M72.5 104.7h0M98.0 124.9h0M134.0 107.0h0M126.0 134.1h0M76.9 89.3h0M68.1 152.5h0M98.8 110.3h0M107.9 61.0h0M122.1 125.1h0M60.9 150.9h0M57.1 135.9h0M110.2 135.9h0M105.8 61.2h0M62.5 175.1h0M52.0 116.8h0M54.7 140.5h0M102.9 94.2h0M79.2 160.6h0M69.9 162.3h0M80.4 177.3h0M105.7 100.9h0M59.1 140.3h0M107.7 110.0h0M104.6 96.6h0M104.7 145.9h0M100.9 115.3h0M162.6 88.6h0M97.0 165.1h0M77.5 127.9h0M167.5 100.1h0M162.9 112.4h0M141.8 155.2h0M82.8 143.8h0M100.6 152.9h0M132.5 91.7h0M108.9 122.0h0M148.0 104.4h0M136.8 120.7h0M109.5 131.7h0M102.5 132.2h0M93.0 109.1h0M48.3 181.5h0M79.7 182.1h0M52.0 181.8h0M60.1 181.4h0M50.9 182.2h0M56.0 182.0h0M50.3 181.6h0M61.1 181.3h0M70.4 181.4h0M52.6 181.9h0M56.9 181.9h0M132.9 182.2h0M57.5 181.2h0M63.0 182.1h0M62.6 181.7h0M92.3 182.3h0M65.0 181.1h0M50.4 181.7h0M89.1 181.3h0M49.4 181.6h0M69.9 181.6h0M51.7 182.3h0M49.6 181.7h0M59.4 181.8h0M152.3 181.8h0M50.1 181.6h0M49.1 181.8h0M72.4 181.0h0M55.4 182.3h0M76.2 182.3h0M53.1 181.4h0M88.1 181.1h0M113.7 182.0h0M59.7 182.1h0M66.6 181.8h0M57.8 181.3h0M77.7 181.7h0M119.4 181.5h0M59.0 181.3h0M96.4 181.7h0M70.2 181.7h0M51.2 181.4h0M60.9 181.5h0M68.6 182.0h0M74.2 182.1h0M48.4 181.8h0M113.1 181.2h0M49.9 181.2h0M77.3 181.7h0M76.7 181.4h0M98.9 181.2h0M59.0 181.2h0M64.5 181.6h0M53.0 181.9h0M71.1 181.2h0M89.5 181.4h0M73.3 181.1h0M88.7 181.0h0M98.5 182.0h0M136.2 182.0h0M70.7 181.6h0M53.7 182.1h0M55.3 181.7h0M50.4 181.4h0M55.0 181.5h0M83.4 181.4h0M92.5 181.2h0M91.1 182.0h0M94.8 181.4h0M59.8 181.8h0M67.4 181.6h0M140.9 181.9h0M64.0 181.1h0M66.0 181.2h0M98.5 181.7h0M62.0 181.9h0M72.9 182.1h0M98.2 181.1h0M93.2 181.6h0M59.7 181.8h0M57.3 181.3h0M90.8 181.5h0M73.0 181.0h0M74.7 181.1h0M71.1 181.8h0M87.5 182.3h0M54.6 182.0h0M119.6 181.6h0M72.4 182.0h0M72.5 182.1h0M71.9 181.1h0M53.3 181.5h0M67.8 182.1h0M56.1 182.1h0M57.5 181.5h0M71.5 181.5h0M58.7 181.6h0M78.8 181.1h0M70.0 181.1h0M76.2 181.4h0M50.2 182.1h0M92.8 181.9h0M96.1 181.7h0M62.6 182.0h0M77.1 181.9h0M82.3 181.8h0M48.3 181.0h0M90.9 182.1h0M64.7 181.5h0M65.4 181.3h0M72.3 181.8h0M59.4 181.5h0M58.5 181.1h0M54.1 182.1h0M49.8 181.1h0M53.1 181.4h0M54.1 181.8h0M49.1 181.8h0M51.5 181.8h0M98.7 181.9h0M53.0 181.1h0M79.0 182.1h0M59.7 182.0h0M61.0 181.4h0M64.9 181.8h0M56.0 181.3h0M72.3 181.3h0M61.8 182.1h0M48.9 181.5h0M68.8 182.2h0M83.2 181.7h0M71.7 181.1h0M68.1 182.0h0M75.7 182.2h0M62.4 181.9h0M66.9 181.6h0M71.9 181.8h0M134.8 182.0h0M78.7 181.1h0M66.1 181.5h0M78.1 182.2h0M93.6 181.5h0M83.6 181.8h0M91.1 182.1h0M96.6 181.5h0M116.1 182.2h0M98.6 181.6h0M75.7 181.2h0M101.5 182.0h0M79.5 181.7h0M79.3 182.2h0M91.9 181.9h0M82.0 181.8h0M90.6 181.8h0M54.8 182.1h0M77.3 182.1h0M61.0 181.3h0M72.7 181.3h0M80.6 181.0h0M57.9 182.0h0M83.0 181.6h0M75.6 181.7h0M62.8 181.6h0M73.6 181.2h0M78.0 181.5h0M81.9 181.9h0M191.2 181.5h0M60.0 181.0h0M72.4 181.2h0M52.1 181.3h0M93.8 182.0h0M49.2 182.1h0M67.3 182.3h0M77.4 181.8h0M83.5 182.1h0M96.7 181.0h0M82.0 181.5h0M48.1 182.2h0M57.3 181.9h0M52.5 181.8h0M108.6 181.4h0M80.8 181.4h0M66.6 181.6h0M48.9 181.2h0M54.9 181.2h0M98.1 181.8h0M80.5 181.5h0M104.6 181.8h0M64.4 182.0h0M63.3 181.6h0M55.9 181.0h0M73.6 181.0h0M58.9 181.5h0M119.3 181.6h0M85.9 181.6h0M88.7 182.3h0M116.7 182.0h0M66.4 181.6h0M58.1 181.2h0M69.1 181.4h0M53.5 181.3h0M57.7 181.8h0M77.7 181.3h0M127.6 181.7h0M49.4 182.2h0M67.2 182.3h0M71.4 181.6h0M66.7 181.8h0M67.8 181.2h0M68.2 181.1h0M57.3 181.8h0M68.0 181.2h0M74.7 181.4h0M67.0 181.7h0M59.5 181.1h0M93.4 181.7h0M96.0 181.2h0M73.2 181.3h0M98.3 181.7h0M92.7 181.6h0M79.8 181.9h0M60.9 181.8h0M85.3 181.9h0M73.1 181.3h0M125.6 181.2h0M49.7 181.4h0M67.1 181.9h0M82.0 181.2h0M61.7 181.9h0M48.3 181.0h0M79.3 181.6h0M117.8 181.3h0M53.9 181.2h0M57.8 182.1h0M70.3 181.0h0M68.2 181.6h0M65.4 181.3h0M53.3 181.8h0M58.8 181.9h0M72.9 181.0h0M87.4 182.2h0M56.7 181.1h0M97.3 181.5h0M72.4 182.1h0M72.5 181.3h0M82.4 181.1h0M56.1 181.1h0M50.3 182.1h0M50.7 181.2h0M58.3 181.4h0M50.0 181.2h0M56.6 181.2h0M75.3 181.3h0M65.0 182.2h0M80.0 181.9h0M88.0 182.0h0M99.1 181.1h0M61.2 182.2h0M49.2 181.1h0M59.7 182.2h0M48.9 181.2h0M107.1 182.1h0M65.0 181.3h0M122.5 181.2h0M57.5 181.7h0M55.7 181.1h0M51.1 181.9h0M99.9 181.7h0M76.9 182.3h0M60.9 181.3h0M59.1 181.9h0M60.9 181.4h0M64.5 181.4h0M83.3 181.6h0M120.6 181.9h0M94.8 181.6h0M82.7 181.6h0M65.4 181.8h0M53.8 182.1h0M78.6 181.0h0M56.6 182.0h0M64.8 182.0h0M77.1 182.0h0M65.5 182.1h0M56.2 181.2h0M53.0 181.8h0M55.5 181.6h0M71.5 181.3h0M49.0 181.3h0M51.1 181.3h0M113.7 182.0h0M82.7 181.1h0M68.8 182.0h0M60.5 182.3h0M52.8 182.0h0M103.1 181.3h0M83.3 181.5h0M69.4 181.8h0M84.3 182.2h0M60.2 182.2h0M48.9 182.3h0M48.3 181.0h0M67.9 181.6h0M66.3 181.0h0M88.7 181.6h0M51.9 181.2h0M68.9 181.3h0M79.1 181.1h0M69.7 181.5h0M50.2 181.2h0M97.4 181.8h0M84.7 181.5h0M58.8 181.7h0M75.4 182.1h0M109.5 182.1h0M80.0 181.4h0M48.1 181.1h0M73.9 182.1h0M53.5 181.8h0M70.7 181.8h0M56.5 182.0h0M72.2 181.4h0M99.5 181.1h0M80.8 181.4h0M74.7 181.5h0M63.3 182.0h0M63.6 181.1h0M71.7 182.0h0M122.9 181.5h0M76.1 182.2h0M92.6 181.4h0M83.6 181.7h0M61.6 181.8h0M60.5 181.1h0M65.6 182.2h0M73.2 181.2h0M104.4 182.1h0M159.9 181.6h0M59.6 182.2h0M48.9 181.3h0M82.1 182.0h0M68.1 181.9h0M76.3 181.4h0M73.6 181.2h0M56.8 181.2h0M80.8 181.8h0M73.9 181.9h0M125.9 181.5h0M69.3 181.6h0M96.9 181.7h0M75.7 182.1h0M92.1 181.5h0M48.4 181.5h0M60.5 181.6h0M60.4 181.1h0M93.6 181.4h0M71.6 181.1h0M67.3 182.0h0M83.9 181.3h0M93.1 181.7h0M54.6 182.2h0M50.5 181.6h0M74.8 182.0h0M48.7 181.7h0M57.4 182.0h0M60.2 182.0h0M97.6 181.8h0M71.5 182.1h0M70.1 181.7h0M51.8 181.9h0M53.2 181.5h0M79.8 181.7h0M94.2 181.2h0M92.8 181.5h0M81.3 181.2h0M67.2 181.1h0M68.7 181.0h0M70.7 181.6h0M86.4 181.7h0M68.8 181.4h0M77.2 181.6h0M51.0 182.0h0M60.4 181.1h0M88.0 182.3h0M53.3 181.2h0M71.4 181.8h0M62.0 182.2h0M56.3 181.5h0M70.1 181.8h0M62.3 181.6h0M82.5 181.3h0M84.8 181.4h0M60.9 181.5h0M54.7 181.1h0M62.9 182.0h0M81.5 181.5h0M86.3 181.8h0M93.0 181.1h0M54.8 181.6h0M81.6 181.5h0M113.7 181.1h0M100.4 181.9h0M89.4 181.6h0M78.9 181.5h0M71.7 182.1h0M59.5 181.9h0M69.0 182.1h0M49.9 181.7h0M71.4 181.7h0M69.8 181.1h0M75.1 181.1h0M65.7 181.8h0M48.5 182.2h0M50.7 181.5h0M124.9 181.2h0M88.5 181.3h0M88.7 181.2h0M52.9 182.3h0M85.7 181.7h0M89.0 181.4h0M62.0 181.8h0M74.0 181.1h0M100.1 181.6h0M79.7 181.7h0M54.7 181.8h0M105.2 181.9h0M80.4 181.5h0M89.2 182.0h0M129.0 181.8h0M48.2 181.6h0M88.8 181.6h0M77.4 181.7h0M56.2 181.6h0M68.2 182.2h0M102.1 181.0h0M70.3 181.7h0M84.0 181.9h0M76.1 181.1h0M88.5 182.2h0M60.4 182.1h0M61.2 181.0h0M48.7 181.7h0M85.2 181.6h0M83.1 181.9h0M64.1 182.1h0M50.8 181.6h0M65.3 182.3h0M92.9 181.9h0M70.5 181.2h0M71.8 181.2h0M48.9 160.2h0M48.4 172.2h0M48.2 177.1h0M49.0 173.3h0M48.9 144.0h0M48.9 172.8h0M48.2 182.3h0M48.7 165.2h0M48.8 177.4h0M48.3 147.7h0M48.9 162.7h0M49.2 169.1h0M48.6 181.6h0M48.8 175.2h0M48.4 139.1h0M48.8 167.6h0M49.3 166.5h0M48.9 149.5h0M48.4 152.1h0M48.6 114.5h0M48.9 172.7h0M49.1 175.3h0M48.1 174.2h0M49.2 155.7h0M48.7 137.0h0M48.1 160.6h0M48.5 166.3h0M48.1 148.0h0M48.4 171.0h0M48.4 174.3h0M49.1 174.1h0M49.0 164.5h0M48.5 179.5h0M49.1 167.7h0M48.1 174.2h0M48.6 180.5h0M49.2 169.0h0M49.0 176.5h0M49.0 141.7h0M48.3 171.8h0M48.7 146.3h0M48.5 132.3h0M48.0 173.9h0M49.0 170.8h0M48.2 171.4h0M48.2 138.0h0M48.5 169.1h0M49.1 151.6h0M49.2 147.0h0M48.8 147.9h0M48.7 173.2h0M49.1 181.4h0M48.3 174.7h0M49.2 158.5h0M48.9 150.3h0M48.1 176.1h0M48.1 178.5h0M48.9 102.5h0M48.7 149.6h0M48.2 169.6h0M48.5 118.6h0M48.5 156.0h0M48.1 175.9h0M48.2 151.7h0M48.4 162.0h0M48.0 163.0h0M48.5 172.3h0M49.1 160.7h0M48.3 162.3h0M48.3 166.7h0M49.0 171.4h0M48.7 167.8h0M49.2 165.3h0M48.8 181.1h0M48.5 179.3h0M49.3 176.2h0M48.4 161.1h0M48.1 158.9h0M48.4 149.9h0M48.4 164.9h0M48.2 168.6h0M49.2 175.0h0M48.8 136.5h0M48.3 178.5h0M48.2 177.8h0M48.4 175.2h0M48.8 159.9h0M48.7 180.8h0M48.4 176.7h0M49.1 150.7h0M48.6 151.6h0M48.0 176.4h0M48.7 175.6h0M48.5 159.9h0M48.5 163.1h0M48.3 159.7h0M49.1 166.6h0M48.6 167.7h0M48.8 166.3h0M48.6 178.2h0M48.1 170.2h0M49.1 181.0h0M48.1 180.0h0M48.6 156.0h0M49.3 170.6h0M48.1 164.8h0M49.3 176.3h0M48.8 176.5h0M49.1 139.9h0M48.0 172.9h0M48.8 164.7h0M48.9 161.2h0M48.3 146.8h0M49.0 139.2h0M49.3 141.4h0M49.2 166.4h0M48.7 160.1h0M48.8 166.1h0M49.2 169.2h0M48.9 180.3h0M48.7 156.4h0M48.3 122.4h0M49.0 165.4h0M48.7 181.8h0M48.1 166.1h0M48.3 173.2h0M48.1 169.8h0M49.0 170.1h0M48.4 151.8h0M49.2 174.2h0M48.7 155.2h0M49.1 152.0h0M48.9 151.3h0M49.0 179.0h0M48.3 129.6h0M49.2 172.8h0M49.0 160.7h0M49.2 162.1h0M48.8 181.7h0M48.2 177.2h0M48.3 164.6h0M48.3 146.6h0M48.2 172.2h0M48.4 153.9h0M48.9 158.0h0M48.4 173.1h0M48.2 178.0h0M48.3 168.9h0M49.3 167.9h0M48.6 177.8h0M48.9 168.5h0M48.8 173.8h0M48.0 172.8h0M49.2 165.3h0M48.0 181.0h0M48.3 163.9h0M48.9 170.9h0M48.6 174.0h0M49.1 175.6h0M49.0 178.0h0M49.2 176.0h0M48.2 175.2h0M48.4 163.9h0M48.6 172.9h0M48.7 166.1h0M48.2 130.4h0M49.2 144.6h0M48.2 174.5h0M49.3 181.2h0M49.2 158.1h0M48.6 165.8h0M49.0 154.4h0M49.3 170.4h0M48.7 152.6h0M48.7 138.5h0M48.6 180.5h0M49.0 163.0h0M48.8 149.3h0M48.3 133.1h0M48.2 131.3h0M49.0 161.6h0M48.0 164.5h0M48.1 149.5h0M48.0 147.0h0M48.9 159.0h0M48.6 179.3h0M49.0 176.8h0M48.2 165.4h0M48.1 170.0h0M49.2 172.4h0M48.0 137.4h0M48.4 172.1h0M48.5 154.2h0M48.1 164.4h0M48.5 172.0h0M49.0 145.2h0M49.1 162.8h0M48.4 138.2h0M48.7 140.2h0M49.2 172.7h0M48.7 162.0h0M48.5 177.2h0M48.4 175.9h0M48.8 157.7h0M49.1 166.1h0M48.2 172.3h0M48.8 140.3h0M48.3 153.5h0M48.4 169.0h0M48.4 158.2h0M48.6 143.4h0M48.8 177.5h0M49.0 156.2h0M48.6 139.9h0M48.8 174.3h0M49.1 170.9h0M48.8 163.4h0M48.1 159.8h0M48.3 152.4h0M49.1 180.0h0M48.1 176.5h0M49.2 169.4h0M48.6 167.1h0M48.5 172.7h0M49.1 176.3h0M48.4 159.2h0M49.1 162.2h0M48.4 172.8h0M48.5 149.9h0M48.8 155.3h0M48.7 164.1h0M48.3 167.3h0M48.5 164.2h0M48.5 145.5h0M48.3 164.5h0M48.4 150.3h0M49.2 179.5h0M49.0 173.6h0M49.0 151.6h0M48.2 168.5h0M48.7 153.6h0M48.5 172.4h0M48.5 159.7h0M49.0 157.4h0M49.3 167.0h0M49.1 170.1h0M48.3 161.7h0M48.4 170.1h0M48.7 179.3h0M48.2 159.7h0M48.9 180.1h0M48.7 169.9h0M49.0 164.9h0M48.7 173.6h0M48.5 145.2h0M49.2 167.5h0M48.6 180.8h0M49.2 175.8h0M49.1 159.7h0M48.1 175.7h0M48.8 169.6h0M48.8 168.4h0M48.5 173.7h0M48.7 168.9h0M49.1 153.8h0M48.8 177.4h0M48.9 166.5h0M48.0 177.0h0M49.0 175.3h0M48.1 158.0h0M48.4 155.3h0M48.9 177.1h0M48.6 171.6h0M48.5 179.4h0M48.7 170.1h0M48.5 169.3h0M48.2 171.9h0M49.1 160.0h0M49.2 168.6h0M48.8 172.6h0M48.2 155.5h0M49.3 132.1h0M48.2 156.5h0M48.5 171.4h0M48.4 147.9h0M49.2 167.2h0M48.3 151.7h0M48.7 147.2h0M49.3 169.3h0M48.0 160.8h0M48.6 162.7h0M48.4 153.9h0M48.6 125.5h0M48.8 139.6h0M48.2 177.2h0M49.2 165.9h0M48.9 179.3h0M48.6 170.8h0M48.7 168.3h0M48.4 161.5h0M49.3 161.3h0M48.9 156.8h0M49.1 160.3h0M48.3 164.3h0M49.2 169.9h0M48.0 166.8h0M48.9 178.5h0M48.4 179.4h0M49.3 163.0h0M49.1 179.1h0M48.5 155.4h0M49.3 164.7h0M49.1 136.8h0M48.2 177.0h0M48.0 165.3h0M48.7 151.7h0M48.8 180.6h0M48.9 165.0h0M48.6 146.3h0M48.6 156.0h0M48.9 164.6h0M49.0 181.6h0M48.2 166.3h0M48.6 168.7h0M48.5 169.1h0M48.3 163.6h0M48.9 178.8h0M48.3 161.2h0M48.4 143.6h0M48.0 159.2h0M48.4 160.4h0M49.0 178.4h0M49.2 173.4h0M48.5 161.4h0M48.1 166.8h0M48.5 171.7h0M49.0 181.3h0M48.4 181.2h0M48.8 167.6h0M48.3 147.4h0M48.9 151.7h0M49.0 182.2h0M48.5 164.4h0M49.0 168.3h0M48.1 166.1h0M48.4 138.4h0M48.1 168.2h0M48.4 149.4h0M49.2 165.9h0M48.7 159.3h0M48.0 140.3h0M48.6 165.4h0M48.9 180.6h0M48.3 171.2h0M48.6 171.0h0M49.2 173.9h0M48.4 167.6h0M49.0 168.4h0M49.1 168.2h0M49.0 182.0h0M48.4 147.3h0M48.7 168.6h0M49.1 175.4h0M48.8 133.8h0M48.8 128.5h0M48.6 146.7h0M48.8 169.6h0M49.2 176.1h0M49.2 168.1h0M48.1 182.0h0M48.4 173.8h0M48.7 171.8h0M48.2 173.9h0M48.2 138.6h0M49.1 121.1h0M48.4 147.0h0M48.6 181.5h0M49.2 152.1h0M48.2 152.1h0M48.9 162.7h0M48.4 145.8h0M48.1 181.0h0M48.7 126.1h0M48.9 142.3h0M48.1 182.0h0M48.4 149.0h0M48.8 177.0h0M49.1 175.2h0M48.2 136.3h0M48.4 158.1h0M48.1 157.0h0M48.3 160.1h0M48.5 181.6h0M48.6 156.9h0M48.6 162.8h0M48.5 179.4h0M49.0 157.8h0M48.6 165.0h0M49.0 176.0h0M48.4 161.4h0M48.4 145.9h0M48.7 143.3h0M48.5 116.9h0M48.5 178.4h0M48.3 158.9h0M48.6 159.8h0M49.1 166.6h0M49.0 181.3h0M48.1 173.7h0M48.2 151.1h0M48.6 159.7h0M48.8 155.2h0M48.2 169.5h0M48.6 127.0h0M48.7 129.9h0M48.4 173.9h0M49.1 155.3h0M48.5 175.0h0M48.1 165.1h0M48.7 179.5h0M49.2 173.2h0M48.5 137.7h0M48.2 177.8h0M49.0 136.9h0M48.7 138.3h0M49.1 172.2h0M49.0 177.8h0M48.2 135.6h0M48.7 163.9h0M48.0 167.5h0M48.7 171.2h0M48.8 139.4h0M49.1 164.7h0M49.0 173.4h0M48.9 133.0h0M48.4 154.3h0M48.3 174.4h0M48.3 173.9h0M48.1 177.5h0M49.1 173.8h0M48.3 172.0h0M48.5 175.0h0M49.1 167.1h0M48.8 130.0h0M48.6 169.8h0M49.0 173.4h0M48.8 180.1h0M48.1 166.3h0M48.3 164.9h0M49.0 151.0h0M107.6 37.5h0M105.4 45.8h0M159.0 50.2h0M77.2 58.8h0M116.2 58.8h0M131.4 67.5h0M175.8 92.4h0M189.9 105.4h0M167.1 136.1h0M56.0 81.0h0" stroke="#b3b3b3" stroke-width="3.60" stroke-linecap="round" fill="none"/>
<text transform="translate(11.00,101.00) rotate(-90)" x="0" y="0" font-size="11.3" text-anchor="middle" fill="#222" stroke="#222">Reproductive Fitness Replicate 2</text>
<text x="129.22" y="216.20" font-size="11.3" text-anchor="middle" fill="#222" stroke="#222">Reproductive Fitness Replicate 1</text>
<text x="72.70" y="24.60" font-size="11.0" text-anchor="start" fill="#8a8a8a" stroke="#8a8a8a" font-style="italic" stroke-width="0.1">nud-2(+)</text>
<text x="163.30" y="159.30" font-size="10.8" text-anchor="start" fill="#222" stroke="#222">r = 0.796</text>
<text x="163.00" y="170.6" font-size="10.8" fill="#222" stroke="#222"><tspan font-style="italic">p</tspan> &lt; 0.0001</text>
<line x1="48.00" y1="177.50" x2="211.00" y2="46.40" stroke="#111" stroke-width="1.5"/>
<line x1="411.00" y1="19.25" x2="411.00" y2="182.90" stroke="#141414" stroke-width="1.5"/>
<line x1="407.00" y1="19.85" x2="411.00" y2="19.85" stroke="#141414" stroke-width="1.4"/>
<text x="403.50" y="23.75" font-size="11.3" text-anchor="end" fill="#222" stroke="#222">150</text>
<line x1="407.00" y1="74.00" x2="411.00" y2="74.00" stroke="#141414" stroke-width="1.4"/>
<text x="403.50" y="77.90" font-size="11.3" text-anchor="end" fill="#222" stroke="#222">100</text>
<line x1="407.00" y1="128.15" x2="411.00" y2="128.15" stroke="#141414" stroke-width="1.4"/>
<text x="403.50" y="132.05" font-size="11.3" text-anchor="end" fill="#222" stroke="#222">50</text>
<line x1="407.00" y1="182.30" x2="411.00" y2="182.30" stroke="#141414" stroke-width="1.4"/>
<text x="403.50" y="186.20" font-size="11.3" text-anchor="end" fill="#222" stroke="#222">0</text>
<line x1="410.40" y1="182.30" x2="574.05" y2="182.30" stroke="#141414" stroke-width="1.5"/>
<line x1="411.00" y1="182.30" x2="411.00" y2="186.30" stroke="#141414" stroke-width="1.4"/>
<text x="411.00" y="199.70" font-size="11.3" text-anchor="middle" fill="#222" stroke="#222">0</text>
<line x1="465.15" y1="182.30" x2="465.15" y2="186.30" stroke="#141414" stroke-width="1.4"/>
<text x="465.15" y="199.70" font-size="11.3" text-anchor="middle" fill="#222" stroke="#222">50</text>
<line x1="519.30" y1="182.30" x2="519.30" y2="186.30" stroke="#141414" stroke-width="1.4"/>
<text x="519.30" y="199.70" font-size="11.3" text-anchor="middle" fill="#222" stroke="#222">100</text>
<line x1="573.45" y1="182.30" x2="573.45" y2="186.30" stroke="#141414" stroke-width="1.4"/>
<text x="573.45" y="199.70" font-size="11.3" text-anchor="middle" fill="#222" stroke="#222">150</text>
<path d="M448.0 151.8h0M445.2 148.4h0M430.8 157.6h0M423.7 180.5h0M472.3 125.0h0M451.3 152.3h0M450.3 155.3h0M442.5 159.7h0M447.9 147.9h0M438.9 155.5h0M445.7 130.7h0M441.6 159.9h0M442.8 149.5h0M444.2 159.5h0M456.1 147.0h0M443.2 146.4h0M444.4 145.3h0M437.3 157.5h0M448.9 144.8h0M425.9 167.9h0M445.9 136.8h0M452.6 145.1h0M460.6 142.6h0M449.9 151.4h0M430.8 171.1h0M457.8 144.5h0M467.7 133.2h0M420.1 157.8h0M419.5 163.6h0M433.5 161.7h0M453.7 135.3h0M445.3 159.2h0M461.1 131.3h0M452.3 143.8h0M454.3 158.1h0M448.5 147.6h0M450.7 146.8h0M460.5 135.2h0M444.4 162.1h0M440.3 164.7h0M435.1 143.4h0M468.7 131.4h0M441.6 159.4h0M431.4 154.1h0M447.0 154.7h0M461.0 130.3h0M437.8 151.1h0M456.6 143.6h0M415.3 178.6h0M445.5 134.3h0M459.0 141.0h0M417.5 169.0h0M455.0 152.0h0M455.5 146.1h0M441.8 143.8h0M461.0 132.9h0M484.7 140.7h0M450.0 149.7h0M444.7 160.4h0M438.4 167.1h0M474.9 146.1h0M447.7 148.7h0M450.2 151.8h0M446.4 141.2h0M449.4 137.5h0M426.3 157.8h0M435.6 175.2h0M415.4 171.7h0M468.9 128.5h0M438.5 152.0h0M446.6 144.6h0M447.3 156.0h0M439.4 162.2h0M445.8 140.4h0M442.2 147.5h0M430.5 155.5h0M431.5 161.0h0M461.4 131.4h0M436.6 152.1h0M440.0 149.8h0M435.9 141.3h0M442.5 157.7h0M466.0 127.1h0M433.5 145.3h0M445.5 151.3h0M451.5 148.5h0M437.2 153.8h0M453.9 156.4h0M471.4 146.2h0M436.9 158.7h0M457.2 131.4h0M433.5 149.3h0M448.0 138.0h0M436.1 170.8h0M442.3 163.1h0M444.9 145.5h0M444.8 152.6h0M435.1 160.0h0M442.1 144.3h0M433.6 158.7h0M430.1 173.8h0M438.4 146.9h0M450.3 139.6h0M448.7 130.5h0M445.0 152.3h0M474.8 104.4h0M438.2 136.3h0M443.4 154.7h0M458.0 137.4h0M434.9 160.9h0M451.1 129.5h0M424.2 158.2h0M451.9 148.5h0M431.8 176.1h0M469.9 145.0h0M445.5 146.5h0M433.6 156.4h0M456.0 135.2h0M461.0 135.6h0M447.2 165.4h0M430.9 159.6h0M440.6 168.8h0M440.7 149.0h0M446.7 144.9h0M432.7 142.9h0M439.6 156.7h0M444.0 174.1h0M441.4 171.6h0M436.5 162.4h0M436.6 154.4h0M433.6 156.6h0M449.2 129.6h0M475.0 146.7h0M431.1 152.5h0M452.2 146.7h0M448.8 152.7h0M480.4 143.2h0M438.2 150.6h0M439.0 139.4h0M427.1 153.1h0M435.6 149.0h0M444.3 137.2h0M436.0 166.1h0M451.8 146.7h0M435.3 173.2h0M446.4 150.4h0M442.3 161.7h0M457.2 136.8h0M443.3 161.4h0M448.8 142.7h0M420.5 162.9h0M456.6 146.4h0M443.9 164.5h0M440.6 165.8h0M443.1 156.4h0M439.8 171.1h0M456.7 145.0h0M435.8 141.2h0M448.0 146.3h0M457.6 148.0h0M428.9 161.2h0M434.4 168.5h0M434.7 142.9h0M431.9 166.9h0M463.0 138.1h0M452.0 152.8h0M446.3 146.3h0M442.4 156.7h0M458.0 137.3h0M461.5 143.2h0M438.5 155.2h0M445.6 158.2h0M454.2 143.9h0M431.7 153.9h0M455.2 130.1h0M447.1 146.2h0M416.2 174.7h0M441.8 148.6h0M448.3 167.8h0M447.6 149.5h0M452.9 132.0h0M426.4 155.8h0M439.8 167.6h0M433.4 162.9h0M447.0 150.9h0M465.5 151.7h0M461.9 136.1h0M449.1 156.7h0M438.5 141.6h0M425.0 169.1h0M448.4 138.8h0M460.2 129.1h0M433.7 156.2h0M439.5 158.9h0M461.4 150.3h0M450.9 157.6h0M466.5 150.5h0M438.3 168.2h0M472.5 117.4h0M424.0 167.8h0M452.3 145.7h0M439.1 154.0h0M470.8 138.2h0M431.3 158.5h0M461.2 145.4h0M463.9 166.3h0M435.3 174.9h0M417.0 176.0h0M434.3 160.3h0M460.0 127.6h0M440.1 158.5h0M446.1 144.4h0M443.0 157.2h0M436.4 130.7h0M441.4 149.2h0M447.5 141.2h0M434.8 151.5h0M443.3 145.3h0M454.3 151.8h0M419.1 169.3h0M466.1 143.4h0M467.9 148.2h0M442.3 151.3h0M417.5 175.2h0M453.9 144.0h0M446.1 159.7h0M434.7 167.2h0M417.0 172.6h0M454.4 145.2h0M434.1 153.9h0M434.9 153.5h0M477.6 133.8h0M467.8 120.5h0M465.7 136.8h0M439.4 134.1h0M441.8 145.7h0M425.0 172.7h0M458.5 153.1h0M438.4 151.7h0M432.3 174.7h0M433.9 166.9h0M467.6 142.1h0M454.4 148.5h0M435.1 143.4h0M451.3 145.7h0M428.5 168.9h0M432.1 165.5h0M415.6 169.9h0M451.6 155.7h0M456.8 138.8h0M434.0 145.6h0M458.8 116.4h0M433.4 160.9h0M437.5 155.3h0M430.8 152.0h0M432.1 164.6h0M468.6 133.2h0M448.0 135.9h0M437.3 147.3h0M431.9 169.9h0M449.4 146.4h0M426.8 161.8h0M459.6 139.3h0M427.9 166.4h0M447.0 160.6h0M442.8 147.4h0M438.3 156.7h0M425.3 169.3h0M422.0 173.2h0M429.3 151.3h0M430.2 163.9h0M444.5 162.6h0M432.2 157.2h0M447.9 135.9h0M483.5 135.1h0M441.7 153.0h0M451.6 148.4h0M448.0 156.4h0M473.1 124.4h0M441.8 138.5h0M437.6 168.7h0M453.3 156.3h0M449.3 145.7h0M414.5 171.6h0M427.8 155.2h0M434.3 157.8h0M429.5 173.8h0M435.3 160.9h0M431.7 154.3h0M444.0 137.4h0M452.1 157.3h0M486.5 147.0h0M445.3 161.7h0M465.5 136.5h0M437.5 145.6h0M448.6 152.6h0M418.1 158.4h0M425.0 173.3h0M434.1 147.8h0M462.3 145.5h0M468.0 122.1h0M444.0 150.4h0M450.2 149.0h0M437.6 159.9h0M466.8 121.7h0M469.9 137.8h0M452.9 162.5h0M444.8 144.4h0M437.0 156.7h0M466.0 148.4h0M443.2 146.7h0M437.4 145.3h0M434.6 141.0h0M434.3 144.6h0M439.3 147.9h0M434.0 167.0h0M431.9 156.6h0M429.1 168.2h0M439.9 138.1h0M476.0 119.7h0M433.3 172.2h0M460.2 175.4h0M454.2 147.0h0M443.6 150.6h0M430.4 142.1h0M441.8 154.7h0M447.2 148.3h0M440.3 157.3h0M454.5 146.5h0M445.1 140.0h0M437.3 156.9h0M422.3 165.2h0M431.7 159.9h0M443.1 145.3h0M457.9 159.9h0M434.9 156.4h0M433.0 158.0h0M438.7 144.8h0M462.6 151.8h0M444.4 163.8h0M473.3 112.3h0M435.3 130.6h0M425.0 156.9h0M429.4 163.9h0M467.8 143.9h0M435.8 154.6h0M452.9 155.0h0M451.2 138.9h0M467.6 134.3h0M455.7 136.1h0M441.6 160.8h0M446.2 148.0h0M481.8 142.6h0M428.2 171.3h0M466.6 146.5h0M449.8 147.2h0M458.8 154.5h0M428.8 153.3h0M441.4 166.5h0M437.8 157.0h0M451.3 143.8h0M442.5 152.4h0M436.7 155.5h0M445.9 161.9h0M439.4 154.4h0M457.2 119.3h0M430.7 161.2h0M469.2 156.6h0M422.9 168.6h0M413.9 172.8h0M438.6 151.9h0M452.9 153.7h0M454.1 148.8h0M431.3 177.3h0M452.8 157.6h0M448.9 160.9h0M457.5 155.3h0M431.3 155.3h0M451.7 153.5h0M438.9 166.1h0M447.6 161.0h0M444.1 149.5h0M451.5 141.9h0M431.8 168.4h0M437.0 149.5h0M442.5 147.3h0M466.2 130.0h0M455.4 147.0h0M463.0 153.3h0M433.6 172.6h0M447.2 121.2h0M438.2 135.5h0M475.4 140.9h0M450.7 148.3h0M440.7 154.4h0M437.6 156.5h0M434.6 157.2h0M431.8 164.6h0M454.6 132.8h0M470.6 158.1h0M428.6 156.2h0M478.2 122.0h0M445.7 157.0h0M441.0 165.0h0M459.9 151.4h0M453.0 146.1h0M439.2 152.4h0M423.2 171.4h0M449.4 144.5h0M448.4 158.4h0M413.2 176.8h0M430.3 144.5h0M459.4 148.5h0M432.4 159.5h0M453.6 151.4h0M427.9 138.3h0M427.9 165.3h0M430.9 151.9h0M447.5 130.6h0M421.3 167.8h0M460.9 157.0h0M451.9 152.5h0M448.4 165.9h0M445.5 157.8h0M435.8 163.3h0M438.6 164.1h0M459.5 128.0h0M454.3 142.1h0M443.3 173.5h0M479.4 119.1h0M442.6 153.8h0M432.5 146.7h0M448.2 136.4h0M440.3 148.2h0M464.0 146.0h0M447.2 152.4h0M467.4 128.9h0M448.4 139.5h0M436.3 174.7h0M454.8 140.3h0M431.3 164.3h0M483.1 131.0h0M451.2 153.4h0M435.7 174.8h0M424.0 176.4h0M427.6 160.8h0M441.6 159.1h0M434.6 165.3h0M431.2 177.0h0M431.4 155.1h0M450.6 149.4h0M457.2 128.4h0M425.4 166.0h0M439.7 154.9h0M441.8 160.7h0M425.1 171.6h0M431.0 168.9h0M431.5 155.0h0M454.8 149.9h0M446.7 160.1h0M434.2 169.6h0M442.2 144.9h0M454.0 148.6h0M432.1 162.8h0M457.0 157.7h0M434.7 150.2h0M465.5 152.8h0M440.7 121.3h0M446.8 144.7h0M429.2 163.1h0M441.2 144.1h0M452.6 160.2h0M505.2 118.7h0M443.2 158.7h0M440.5 127.6h0M440.4 161.1h0M461.3 146.7h0M459.8 148.2h0M432.8 157.5h0M433.7 149.0h0M451.5 147.4h0M439.0 156.1h0M462.8 147.3h0M454.3 152.3h0M448.9 140.3h0M447.5 146.1h0M445.3 167.5h0M440.9 164.1h0M435.0 157.2h0M438.9 162.7h0M473.5 151.3h0M442.7 152.8h0M424.4 160.5h0M447.8 150.5h0M433.2 167.4h0M424.5 160.1h0M430.0 157.0h0M453.0 148.1h0M415.3 178.9h0M424.2 162.6h0M442.2 147.9h0M429.5 152.1h0M433.1 152.2h0M411.1 157.2h0M450.0 130.1h0M434.5 159.4h0M443.0 156.6h0M461.6 151.4h0M427.2 154.7h0M443.8 140.7h0M436.9 149.6h0M442.7 165.7h0M430.7 170.2h0M449.5 140.1h0M442.6 152.7h0M428.5 143.4h0M428.2 168.2h0M463.2 126.8h0M443.0 158.5h0M446.6 151.1h0M437.2 157.6h0M428.4 168.6h0M453.1 131.1h0M443.7 147.9h0M425.3 175.8h0M474.2 165.6h0M454.8 146.3h0M437.3 153.9h0M432.0 159.1h0M440.4 167.6h0M438.0 147.5h0M441.8 146.2h0M425.4 176.4h0M448.1 135.7h0M443.7 146.4h0M455.1 141.2h0M452.3 128.7h0M446.9 155.5h0M444.0 158.7h0M452.0 137.5h0M449.4 129.9h0M436.6 164.0h0M433.9 147.3h0M450.9 144.5h0M437.8 159.4h0M425.8 158.8h0M426.5 182.0h0M438.9 149.1h0M436.4 174.6h0M441.2 170.1h0M459.2 152.3h0M449.7 148.0h0M464.8 138.3h0M446.5 144.0h0M433.3 166.7h0M453.8 162.4h0M449.1 167.3h0M429.5 143.3h0M435.6 156.3h0M446.9 160.3h0M439.3 166.7h0M423.2 154.8h0M425.7 178.8h0M447.8 166.4h0M455.9 154.4h0M469.2 133.2h0M449.7 159.1h0M439.6 147.3h0M448.8 143.7h0M456.2 157.2h0M478.7 133.2h0M453.7 136.4h0M447.5 153.8h0M451.3 132.8h0M463.1 118.4h0M426.9 148.0h0M451.3 160.4h0M428.0 168.7h0M437.5 160.3h0M436.8 152.8h0M443.0 153.0h0M430.0 159.5h0M437.7 150.1h0M445.9 145.5h0M460.6 147.5h0M457.5 150.1h0M436.3 168.8h0M429.8 162.8h0M462.5 142.7h0M478.9 138.0h0M430.6 161.2h0M458.2 142.8h0M422.3 168.0h0M423.5 163.5h0M450.9 160.2h0M466.6 140.2h0M426.8 163.8h0M436.6 160.3h0M474.0 138.3h0M424.5 171.3h0M450.6 157.6h0M444.6 145.1h0M440.8 147.3h0M455.0 147.6h0M476.9 97.5h0M446.2 171.1h0M442.9 162.7h0M444.7 152.6h0M427.8 160.6h0M432.1 174.8h0M437.0 136.7h0M454.9 156.5h0M420.7 173.5h0M436.5 162.3h0M459.9 137.8h0M458.8 149.3h0M435.4 177.4h0M445.0 158.3h0M452.6 162.7h0M442.4 153.5h0M454.9 137.7h0M429.6 172.1h0M457.4 127.3h0M449.8 142.2h0M478.5 128.2h0M474.9 118.2h0M446.2 135.8h0M432.5 161.2h0M476.1 142.1h0M449.6 149.7h0M437.6 147.1h0M435.8 158.6h0M465.8 127.1h0M432.1 155.6h0M430.5 169.0h0M438.6 151.1h0M429.1 159.8h0M446.7 146.7h0M437.2 143.9h0M437.9 157.7h0M460.4 147.8h0M448.1 161.2h0M459.6 155.9h0M456.3 125.2h0M435.3 155.0h0M446.3 165.3h0M440.8 147.3h0M449.8 146.0h0M442.5 161.4h0M439.5 136.0h0M430.4 162.1h0M456.4 143.0h0M452.2 157.6h0M445.8 162.2h0M440.3 151.7h0M455.2 149.9h0M433.5 157.5h0M445.1 136.7h0M438.8 142.0h0M443.2 143.7h0M428.3 152.0h0M432.2 167.7h0M471.0 126.7h0M451.5 152.8h0M436.7 174.2h0M433.0 159.7h0M463.3 124.5h0M441.0 132.2h0M452.2 150.7h0M449.9 144.5h0M436.2 169.6h0M437.5 162.8h0M448.3 169.1h0M421.2 173.5h0M430.3 152.0h0M442.8 148.8h0M445.5 130.0h0M449.6 152.4h0M455.1 148.5h0M463.6 140.7h0M436.0 155.2h0M424.1 155.5h0M436.0 147.6h0M438.5 157.2h0M444.6 125.4h0M440.6 132.8h0M436.1 153.3h0M467.0 133.2h0M440.5 142.4h0M444.6 139.8h0M434.9 134.9h0M441.8 134.4h0M442.1 118.4h0M451.8 138.1h0M434.6 156.6h0M427.6 162.2h0M461.1 142.4h0M438.7 148.8h0M440.8 153.6h0M448.2 152.4h0M433.1 150.1h0M454.3 147.2h0M456.1 129.1h0M419.5 181.6h0M457.3 145.7h0M440.8 146.7h0M416.7 172.0h0M451.1 143.8h0M441.9 150.2h0M453.2 153.6h0M434.8 162.7h0M448.7 130.0h0M452.3 130.5h0M444.1 150.3h0M452.7 143.1h0M450.5 145.0h0M441.3 155.2h0M435.9 148.0h0M457.8 151.3h0M430.1 157.5h0M435.1 152.3h0M454.2 130.9h0M448.5 138.1h0M465.8 130.1h0M465.6 137.8h0M431.4 167.4h0M442.8 161.5h0M441.3 153.5h0M446.0 149.9h0M431.2 163.4h0M440.4 141.9h0M440.1 159.5h0M440.3 156.3h0M440.3 153.3h0M441.6 151.5h0M420.5 180.6h0M464.0 137.2h0M435.7 153.8h0M439.7 161.0h0M447.7 133.4h0M436.1 159.3h0M416.2 168.9h0M452.2 142.7h0M431.2 172.4h0M442.3 161.9h0M438.9 140.6h0M462.4 143.0h0M457.3 138.0h0M438.3 153.1h0M432.9 162.7h0M432.5 162.0h0M452.3 139.7h0M462.4 147.6h0M439.3 152.5h0M445.3 155.5h0M459.2 148.4h0M453.8 146.1h0M436.4 137.0h0M453.7 147.4h0M454.9 148.2h0M453.1 149.6h0M451.2 140.5h0M442.7 122.4h0M452.9 139.9h0M422.9 173.3h0M420.5 178.0h0M449.7 151.6h0M444.9 148.8h0M444.5 125.0h0M449.7 157.9h0M453.3 146.6h0M430.2 150.5h0M463.0 123.1h0M437.8 137.5h0M438.5 149.4h0M421.5 166.4h0M426.4 159.6h0M457.6 147.9h0M430.2 157.4h0M459.9 145.1h0M456.6 123.5h0M446.0 144.0h0M451.2 144.9h0M462.3 141.9h0M419.4 178.9h0M434.6 157.8h0M436.3 157.2h0M474.4 144.1h0M428.5 160.2h0M436.2 158.1h0M430.2 155.7h0M462.8 119.1h0M423.9 162.4h0M437.1 173.3h0M447.4 138.9h0M420.7 174.5h0M459.0 142.8h0M444.5 156.4h0M419.0 159.6h0M442.1 151.3h0M426.5 161.6h0M439.8 140.4h0M463.1 150.7h0M464.6 148.3h0M439.9 163.1h0M450.7 146.5h0M425.3 163.9h0M446.1 165.4h0M435.1 141.0h0M430.8 178.7h0M451.1 142.0h0M432.5 166.1h0M438.0 146.0h0M452.4 141.1h0M455.0 141.1h0M445.2 131.0h0M434.3 163.8h0M433.0 152.9h0M448.7 149.1h0M444.3 158.4h0M447.3 159.9h0M446.1 145.4h0M448.6 143.9h0M434.4 155.4h0M430.4 172.7h0M458.7 144.4h0M420.9 162.1h0M440.7 140.4h0M436.7 168.5h0M474.9 133.2h0M473.0 124.8h0M432.1 147.0h0M445.4 131.7h0M430.8 157.3h0M438.9 156.4h0M446.2 172.7h0M447.4 152.2h0M439.6 147.6h0M456.4 159.0h0M427.9 164.9h0M444.0 163.8h0M450.3 135.4h0M448.0 143.7h0M453.0 144.5h0M456.3 131.1h0M457.9 146.4h0M429.9 160.6h0M445.4 148.3h0M446.9 142.1h0M431.5 169.9h0M434.7 148.4h0M437.9 141.7h0M458.0 143.4h0M423.2 157.8h0M442.8 166.4h0M448.4 130.1h0M451.6 148.7h0M477.4 154.4h0M435.9 171.1h0M454.3 148.8h0M435.5 156.5h0M455.3 159.8h0M441.0 157.7h0M448.6 142.8h0M461.2 147.3h0M455.2 149.3h0M432.6 167.8h0M459.3 134.8h0M451.4 146.4h0M426.3 160.2h0M438.3 156.5h0M443.1 134.3h0M462.7 130.9h0M427.1 149.9h0M431.5 169.9h0M442.9 153.2h0M462.1 157.3h0M448.2 122.1h0M421.7 150.9h0M465.6 117.2h0M456.7 133.5h0M457.7 133.1h0M463.8 120.9h0M438.2 151.5h0M457.4 158.6h0M451.1 164.7h0M444.6 157.8h0M431.2 155.6h0M437.6 164.9h0M432.4 143.5h0M438.6 162.0h0M453.4 141.4h0M444.9 146.6h0M445.5 159.2h0M455.8 146.1h0M433.0 147.8h0M426.7 163.3h0M460.1 161.3h0M447.2 148.0h0M442.5 165.4h0M437.2 164.6h0M427.1 174.6h0M452.2 161.6h0M446.9 141.2h0M469.1 133.1h0M468.4 122.9h0M471.6 122.7h0M432.1 144.7h0M456.1 123.0h0M454.9 154.0h0M456.9 155.7h0M456.7 134.1h0M464.0 129.7h0M434.3 134.2h0M419.3 171.5h0M475.3 140.1h0M432.3 165.9h0M444.7 155.9h0M437.7 149.3h0M435.7 168.4h0M465.7 130.4h0M443.4 129.3h0M445.3 153.3h0M449.2 162.6h0M436.7 156.6h0M436.8 149.3h0M447.6 155.3h0M447.7 158.4h0M445.9 155.9h0M443.9 156.2h0M450.9 142.4h0M434.5 163.2h0M449.3 166.7h0M441.9 155.5h0M486.4 141.0h0M462.7 142.9h0M413.6 181.6h0M436.9 158.2h0M421.6 160.5h0M454.0 149.2h0M461.8 137.5h0M464.1 133.9h0M418.6 179.8h0M455.4 145.4h0M445.5 150.0h0M453.7 130.8h0M458.2 127.9h0M430.6 167.9h0M448.1 141.7h0M421.7 173.6h0M452.5 145.4h0M446.5 143.7h0M464.4 114.0h0M436.6 155.0h0M455.1 132.8h0M432.4 157.1h0M472.5 119.1h0M440.4 149.1h0M430.6 164.4h0M448.3 126.2h0M444.3 148.5h0M458.9 124.6h0M432.4 170.0h0M470.4 142.1h0M433.3 144.1h0M460.1 151.5h0M436.0 159.3h0M438.4 163.5h0M443.0 152.2h0M452.0 143.7h0M466.3 139.3h0M444.5 145.2h0M452.1 166.9h0M447.9 155.5h0M477.1 120.3h0M432.8 159.4h0M457.0 127.2h0M452.0 171.1h0M471.5 143.1h0M436.4 155.5h0M450.2 125.6h0M435.3 170.7h0M427.5 163.6h0M444.9 159.2h0M425.1 168.1h0M450.8 148.1h0M449.7 142.9h0M439.1 165.5h0M457.8 159.4h0M430.9 160.6h0M453.0 168.7h0M449.5 144.1h0M461.8 114.7h0M456.3 158.3h0M430.6 148.4h0M422.4 159.7h0M471.6 120.6h0M431.9 157.6h0M443.8 153.0h0M444.4 162.2h0M442.5 150.5h0M457.5 144.2h0M437.9 152.5h0M433.4 162.1h0M462.9 144.8h0M458.7 136.5h0M470.1 126.4h0M439.6 156.4h0M432.0 142.7h0M453.0 151.1h0M441.1 150.0h0M443.5 157.4h0M442.0 147.1h0M436.7 157.0h0M425.7 168.2h0M435.9 160.4h0M427.2 170.7h0M440.8 157.9h0M436.2 152.1h0M452.0 152.5h0M459.1 135.9h0M430.5 162.7h0M449.0 159.2h0M471.9 144.9h0M454.8 150.5h0M426.1 166.8h0M426.0 181.2h0M451.5 157.0h0M457.1 137.3h0M456.6 139.4h0M433.7 167.4h0M447.7 105.7h0M456.2 133.4h0M430.6 148.9h0M438.0 155.4h0M415.2 176.3h0M458.5 130.1h0M433.9 173.1h0M453.9 152.8h0M442.2 143.8h0M450.7 150.1h0M457.6 113.5h0M447.6 148.3h0M449.2 140.2h0M449.7 152.7h0M453.4 132.6h0M441.6 158.5h0M453.7 133.0h0M452.9 141.2h0M452.2 157.3h0M423.1 148.0h0M443.0 153.3h0M456.7 129.5h0M450.5 150.0h0M453.5 158.0h0M434.0 161.1h0M434.0 166.9h0M414.4 171.8h0M457.9 158.1h0M450.7 149.0h0M434.0 161.7h0M429.2 166.8h0M428.1 151.4h0M444.0 164.2h0M428.1 167.1h0M452.9 153.1h0M440.8 154.4h0M442.7 145.5h0M435.3 136.3h0M437.7 161.8h0M458.2 127.4h0M432.7 161.8h0M451.2 151.1h0M449.9 145.6h0M450.1 163.6h0M445.7 142.6h0M427.7 174.9h0M427.0 163.5h0M442.4 149.9h0M448.6 163.8h0M442.1 150.3h0M448.0 145.5h0M462.6 131.0h0M448.1 136.4h0M433.5 152.3h0M443.5 156.6h0M445.6 158.9h0M435.6 150.7h0M465.9 131.2h0M428.6 171.7h0M451.8 168.1h0M468.4 146.2h0M451.1 141.4h0M462.9 126.8h0M451.1 120.2h0M416.6 163.9h0M434.6 169.0h0M424.8 167.9h0M452.6 144.9h0M450.3 136.9h0M437.0 156.9h0M450.2 152.5h0M434.1 156.2h0M431.1 165.0h0M441.2 150.3h0M420.4 166.0h0M441.7 156.4h0M447.2 150.2h0M452.0 153.6h0M461.4 126.0h0M426.6 172.0h0M453.1 139.4h0M448.0 149.7h0M466.1 135.6h0M416.8 181.1h0M435.3 161.8h0M454.9 135.9h0M436.6 169.0h0M455.2 156.5h0M454.1 132.0h0M422.1 169.9h0M439.4 153.0h0M456.7 148.4h0M456.4 150.8h0M433.5 175.5h0M450.4 142.9h0M432.1 164.7h0M462.6 130.8h0M445.9 143.7h0M427.4 152.5h0M450.4 145.9h0M442.8 163.3h0M438.7 164.7h0M434.9 172.5h0M435.5 157.3h0M459.6 171.5h0M454.7 149.2h0M445.0 159.1h0M453.4 150.3h0M424.3 153.4h0M446.2 156.9h0M417.1 169.6h0M443.5 130.9h0M428.2 145.3h0M465.3 127.2h0M453.5 134.8h0M434.5 162.2h0M463.7 139.4h0M440.0 152.5h0M451.1 140.2h0M451.7 144.5h0M444.3 165.9h0M434.4 161.0h0M433.1 155.5h0M421.3 161.4h0M439.3 148.8h0M460.1 137.1h0M428.1 150.1h0M443.2 145.3h0M425.5 156.6h0M463.3 140.4h0M435.0 154.5h0M446.2 152.5h0M453.2 138.7h0M455.6 136.7h0M461.6 164.9h0M437.4 165.6h0M469.5 133.2h0M435.4 163.6h0M433.3 138.1h0M415.6 175.1h0M457.1 119.3h0M444.5 134.2h0M445.7 165.7h0M432.5 162.0h0M420.8 182.2h0M428.9 170.5h0M454.4 161.4h0M441.1 161.0h0M425.6 182.1h0M442.4 161.1h0M444.8 154.4h0M442.2 146.9h0M462.6 143.1h0M443.0 156.4h0M439.0 148.2h0M449.4 154.0h0M420.6 175.4h0M429.2 146.4h0M450.6 161.2h0M438.6 158.7h0M451.5 137.1h0M437.6 160.3h0M456.8 137.1h0M459.7 139.9h0M413.7 169.2h0M429.1 171.6h0M451.5 139.6h0M424.4 164.0h0M435.0 154.8h0M450.7 146.8h0M457.9 159.9h0M468.9 152.5h0M435.1 154.7h0M438.0 147.9h0M451.6 135.4h0M483.0 116.0h0M447.8 143.8h0M454.1 132.7h0M459.3 121.0h0M457.8 152.9h0M454.9 146.9h0M430.9 163.6h0M439.2 156.4h0M448.3 137.8h0M444.2 153.0h0M446.5 154.4h0M437.3 168.8h0M436.2 151.4h0M447.3 147.5h0M434.0 147.0h0M456.7 140.9h0M425.6 174.5h0M452.1 137.8h0M443.3 160.9h0M441.6 146.1h0M459.8 135.7h0M435.3 149.4h0M457.8 138.9h0M438.3 145.1h0M439.9 152.0h0M439.4 154.5h0M413.0 170.8h0M422.9 157.2h0M451.6 140.6h0M446.9 156.9h0M429.4 170.9h0M465.9 143.8h0M447.2 135.2h0M426.8 157.7h0M436.1 165.9h0M455.8 148.7h0M422.9 170.2h0M437.0 166.0h0M437.5 152.6h0M434.3 154.9h0M447.4 151.2h0M441.9 141.4h0M428.0 148.4h0M435.3 169.9h0M468.5 126.1h0M422.9 174.2h0M422.6 151.9h0M453.5 145.4h0M434.8 165.1h0M446.6 160.7h0M442.1 150.2h0M454.8 160.6h0M411.1 181.8h0M453.3 137.9h0M445.3 130.7h0M434.9 152.3h0M467.7 117.4h0M433.4 145.4h0M458.0 127.2h0M451.0 122.3h0M443.3 149.4h0M439.9 165.1h0M446.2 146.2h0M436.0 167.1h0M431.3 159.6h0M440.5 152.0h0M420.9 151.9h0M451.9 135.1h0M448.4 134.5h0M425.5 145.4h0M443.4 159.5h0M415.4 163.7h0M438.2 157.9h0M448.5 153.7h0M440.5 133.1h0M454.1 150.1h0M448.4 147.2h0M460.0 150.3h0M452.5 145.0h0M469.7 129.9h0M435.5 154.6h0M426.6 170.2h0M443.3 156.7h0M449.6 143.2h0M459.9 143.6h0M466.5 119.6h0M445.0 148.5h0M446.1 130.4h0M435.2 145.9h0M432.6 146.9h0M476.3 138.3h0M432.7 162.6h0M453.1 153.3h0M417.3 150.7h0M458.3 151.9h0M434.2 163.7h0M456.1 144.7h0M420.6 171.4h0M440.5 160.0h0M433.4 150.6h0M428.7 161.6h0M444.3 149.9h0M441.6 159.1h0M461.8 137.0h0M436.6 172.7h0M444.3 156.8h0M418.5 168.0h0M445.4 148.8h0M456.0 128.0h0M449.8 149.5h0M445.3 143.4h0M431.0 161.4h0M470.8 142.6h0M475.8 135.4h0M422.7 171.9h0M434.0 143.8h0M421.7 177.5h0M458.4 123.6h0M454.4 141.3h0M461.1 137.1h0M438.4 158.3h0M447.7 150.3h0M433.0 173.5h0M450.6 144.6h0M452.3 151.0h0M437.6 161.7h0M447.7 149.4h0M431.9 145.0h0M451.4 154.2h0M455.2 128.0h0M455.1 163.1h0M456.4 144.6h0M427.8 168.2h0M434.4 162.2h0M440.4 161.8h0M452.9 144.7h0M436.6 145.8h0M452.2 139.1h0M445.4 129.9h0M443.3 154.2h0M436.6 165.3h0M445.9 163.0h0M423.6 167.4h0M466.3 124.5h0M450.4 152.6h0M437.1 143.4h0M474.5 135.1h0M440.7 154.3h0M454.1 153.5h0M435.0 150.4h0M452.5 141.8h0M442.1 149.2h0M462.1 128.3h0M468.6 124.5h0M426.9 160.8h0M477.3 131.8h0M434.9 153.7h0M457.6 138.6h0M432.3 157.6h0M456.8 111.5h0M454.6 122.6h0M436.5 169.6h0M460.2 147.4h0M433.8 156.0h0M417.2 174.6h0M439.9 149.5h0M443.3 138.2h0M418.3 165.9h0M426.2 157.8h0M429.8 126.8h0M450.3 146.5h0M442.4 142.4h0M420.2 169.3h0M438.0 145.1h0M441.5 166.7h0M452.1 167.3h0M444.3 149.2h0M463.2 134.5h0M450.5 138.3h0M424.4 165.8h0M427.8 172.6h0M425.6 156.4h0M479.6 142.2h0M439.6 163.9h0M436.0 157.7h0M439.6 145.0h0M429.9 153.0h0M443.6 158.1h0M438.0 138.1h0M452.5 137.7h0M449.4 155.9h0M423.1 153.9h0M442.9 142.5h0M424.3 169.2h0M469.6 127.8h0M453.1 142.0h0M445.3 142.8h0M418.5 175.9h0M459.9 112.7h0M411.1 177.6h0M425.9 163.6h0M434.0 155.1h0M444.0 127.4h0M430.0 166.7h0M438.6 160.6h0M446.8 156.4h0M443.5 145.9h0M454.1 134.7h0M462.7 130.4h0M449.1 148.8h0M436.4 156.3h0M430.8 177.4h0M452.4 130.8h0M432.1 168.1h0M414.4 171.0h0M444.3 165.5h0M479.3 117.6h0M439.5 140.6h0M426.9 168.9h0M469.2 132.7h0M451.9 137.3h0M440.9 157.0h0M447.4 132.0h0M416.8 176.2h0M449.9 135.3h0M445.8 152.9h0M479.1 120.7h0M447.4 149.9h0M445.6 153.8h0M425.7 167.6h0M438.4 162.6h0M435.9 160.6h0M452.9 132.0h0M433.9 149.3h0M473.4 135.7h0M451.9 148.7h0M434.2 145.5h0M463.8 165.3h0M451.9 133.5h0M441.3 162.1h0M428.2 168.9h0M452.7 150.0h0M429.8 154.7h0M450.2 130.1h0M428.7 167.1h0M411.7 179.6h0M450.5 143.6h0M451.7 136.0h0M451.6 150.7h0M439.5 158.7h0M447.4 150.7h0M465.3 135.6h0M446.9 138.5h0M449.5 160.7h0M447.7 161.8h0M435.2 175.9h0M460.7 144.7h0M469.9 143.1h0M443.1 177.3h0M441.5 146.3h0M452.3 156.5h0M436.4 159.1h0M447.6 177.9h0M460.8 136.9h0M439.3 171.2h0M441.5 150.9h0M440.2 167.8h0M449.9 142.0h0M439.3 162.3h0M473.7 136.6h0M456.2 148.2h0M430.8 165.3h0M447.3 150.9h0M447.1 160.4h0M455.4 132.7h0M430.5 166.1h0M439.5 159.3h0M430.9 162.1h0M446.1 155.4h0M443.0 172.6h0M432.8 158.9h0M449.7 155.0h0M426.5 166.7h0M456.1 153.3h0M434.5 158.9h0M431.8 153.4h0M461.5 142.4h0M433.7 161.2h0M449.7 143.2h0M446.5 152.5h0M432.3 160.0h0M439.4 158.3h0M447.5 155.9h0M433.5 177.1h0M443.7 166.2h0M478.9 139.6h0M443.1 152.2h0M462.6 140.6h0M434.2 163.7h0M452.3 149.0h0M420.6 171.7h0M451.4 150.4h0M436.1 162.4h0M456.3 139.6h0M440.6 147.3h0M464.0 167.7h0M449.3 140.9h0M448.7 157.4h0M446.5 141.8h0M435.3 166.7h0M419.9 179.1h0M438.2 142.1h0M479.2 114.6h0M458.6 134.2h0M470.0 110.6h0M432.4 138.1h0M430.4 166.6h0M428.6 163.3h0M444.3 156.4h0M455.2 152.3h0M444.9 166.5h0M462.0 141.2h0M435.8 160.8h0M448.4 146.8h0M444.8 154.3h0M447.7 146.8h0M456.8 138.0h0M433.6 150.9h0M477.0 138.7h0M451.9 144.5h0M441.8 149.8h0M476.9 130.9h0M437.1 156.2h0M439.5 141.2h0M459.9 150.9h0M414.3 173.0h0M461.8 132.3h0M462.3 142.2h0M440.2 144.5h0M465.7 148.7h0M434.3 136.5h0M437.9 135.2h0M450.4 133.3h0M435.8 154.6h0M452.7 155.1h0M447.3 152.5h0M455.8 137.6h0M443.6 144.4h0M417.0 168.8h0M431.2 178.2h0M446.4 159.7h0M464.4 153.3h0M430.3 166.0h0M434.1 154.8h0M453.5 152.2h0M457.6 145.4h0M479.9 143.0h0M430.5 156.0h0M442.0 147.3h0M461.5 130.2h0M444.6 149.5h0M438.3 167.8h0M438.4 146.3h0M455.8 122.0h0M478.9 107.2h0M459.8 160.6h0M473.6 146.8h0M437.0 169.9h0M431.8 143.6h0M465.2 149.5h0M432.2 161.6h0M449.2 155.5h0M421.3 172.9h0M471.8 145.0h0M440.2 151.8h0M452.5 138.5h0M431.6 159.7h0M421.8 171.0h0M446.4 122.0h0M440.1 162.8h0M439.6 158.9h0M442.5 142.6h0M466.2 145.2h0M428.1 169.1h0M437.6 172.9h0M453.2 151.6h0M464.5 164.8h0M458.6 130.4h0M458.6 151.4h0M451.0 169.1h0M443.4 152.3h0M454.0 156.8h0M431.8 170.4h0M432.1 145.1h0M457.9 154.1h0M447.5 154.8h0M437.2 155.0h0M432.8 156.4h0M440.2 142.1h0M450.2 151.1h0M459.9 169.8h0M430.5 169.9h0M438.7 149.7h0M434.2 163.4h0M447.4 140.3h0M449.2 155.9h0M442.8 150.6h0M453.1 119.1h0M425.5 173.0h0M442.3 152.3h0M439.8 148.7h0M445.5 157.9h0M457.1 155.6h0M439.9 155.1h0M431.5 158.7h0M431.4 156.9h0M444.6 140.8h0M463.8 161.9h0M449.4 154.0h0M435.3 156.9h0M461.1 127.7h0M453.1 119.3h0M434.1 145.7h0M440.4 154.0h0M453.7 160.0h0M435.0 150.0h0M451.0 141.0h0M438.2 150.1h0M421.1 173.4h0M432.8 142.2h0M443.6 151.5h0M460.1 165.1h0M447.8 156.6h0M422.2 156.2h0M439.7 151.9h0M446.1 158.3h0M462.4 158.1h0M451.3 134.4h0M442.9 153.5h0M444.4 158.4h0M474.9 133.0h0M456.8 150.7h0M437.5 155.4h0M430.2 163.0h0M427.8 165.5h0M459.5 148.9h0M448.8 149.5h0M429.9 159.9h0M443.2 133.8h0M448.4 157.3h0M439.7 167.6h0M456.6 152.5h0M441.3 145.5h0M440.5 144.5h0M458.0 136.6h0M472.4 144.2h0M434.0 172.5h0M443.1 171.2h0M420.8 156.8h0M432.3 164.7h0M443.6 136.0h0M433.9 160.4h0M420.6 178.2h0M437.9 140.0h0M432.3 156.3h0M427.0 145.4h0M451.1 149.1h0M449.4 140.7h0M454.1 150.4h0M423.8 174.8h0M449.6 152.0h0M432.9 165.1h0M434.1 165.9h0M427.5 178.8h0M459.9 125.6h0M451.7 149.7h0M448.3 142.7h0M432.3 135.1h0M436.2 144.8h0M432.9 182.3h0M463.3 128.0h0M454.2 146.6h0M449.8 136.4h0M461.5 128.9h0M472.7 139.6h0M436.4 156.8h0M448.1 152.5h0M466.3 126.7h0M438.8 166.6h0M450.9 149.9h0M446.4 132.4h0M449.8 136.0h0M452.3 141.4h0M459.0 141.0h0M434.7 151.8h0M433.2 163.9h0M430.2 164.9h0M424.7 174.5h0M447.3 158.2h0M427.7 156.9h0M458.8 125.2h0M457.2 126.9h0M453.9 147.2h0M445.9 131.3h0M424.0 162.8h0M437.7 165.6h0M447.0 160.0h0M441.9 149.3h0M451.2 142.7h0M431.7 142.9h0M453.0 116.4h0M438.8 151.4h0M431.4 158.5h0M430.3 140.7h0M446.0 147.3h0M435.2 155.0h0M467.9 130.4h0M425.9 159.6h0M440.0 163.7h0M439.3 149.4h0M434.4 157.1h0M448.5 170.4h0M451.0 140.6h0M443.6 158.9h0M450.6 130.6h0M457.1 154.6h0M453.8 149.4h0M427.3 169.8h0M420.7 179.0h0M428.0 170.3h0M458.5 126.8h0M448.2 138.3h0M421.7 170.1h0M441.9 159.4h0M452.5 146.2h0M427.1 169.3h0M451.5 131.4h0M440.2 156.6h0M450.6 131.7h0M457.0 129.7h0M500.6 97.8h0M429.9 152.9h0M458.9 150.3h0M429.5 165.2h0M463.2 148.2h0M444.0 144.6h0M454.5 153.6h0M464.2 157.9h0M423.4 168.3h0M430.4 164.7h0M441.3 159.2h0M434.9 151.2h0M449.0 149.9h0M462.0 146.5h0M452.7 134.1h0M452.4 153.1h0M436.6 159.3h0M435.6 165.3h0M430.5 149.4h0M462.9 141.9h0M460.9 143.9h0M442.0 158.3h0M445.1 163.0h0M451.3 153.0h0M452.7 145.6h0M441.8 161.5h0M433.2 179.2h0M438.7 150.0h0M418.3 165.3h0M454.8 140.3h0M458.3 148.3h0M419.9 165.7h0M446.8 141.9h0M442.6 158.8h0M447.8 149.8h0M447.2 149.5h0M460.2 157.5h0M449.1 141.7h0M474.5 137.5h0M431.9 131.0h0M466.9 110.0h0M444.6 152.0h0M466.9 118.6h0M454.3 161.2h0M423.4 172.7h0M430.6 163.3h0M432.2 170.8h0M425.6 162.7h0M448.5 127.3h0M437.2 151.0h0M457.0 151.7h0M443.2 159.7h0M468.3 159.0h0M442.7 159.4h0M447.7 139.9h0M455.5 158.1h0M431.3 153.3h0M454.7 155.0h0M455.2 130.8h0M437.2 132.5h0M456.7 145.6h0M430.1 161.2h0M441.6 161.0h0M456.2 153.2h0M425.4 164.0h0M457.8 132.6h0M453.4 149.7h0M447.6 147.9h0M453.4 163.0h0M434.7 165.1h0M446.9 158.2h0M453.6 130.3h0M448.6 135.5h0M462.9 126.6h0M444.5 156.4h0M443.5 153.1h0M468.6 127.7h0M418.4 171.0h0M438.8 160.6h0M455.4 130.1h0M454.3 129.9h0M430.9 162.1h0M439.0 154.4h0M440.5 151.4h0M440.5 145.9h0M428.7 165.4h0M463.3 158.5h0M429.2 151.5h0M451.0 154.6h0M427.2 171.7h0M438.9 158.7h0M425.0 175.2h0M458.3 135.4h0M448.9 147.6h0M440.8 141.2h0M456.1 150.2h0M448.4 138.7h0M444.2 146.1h0M444.9 145.6h0M453.1 151.5h0M446.1 156.3h0M443.8 156.6h0M460.1 133.3h0M461.0 158.7h0M440.8 151.5h0M459.2 129.0h0M446.0 157.6h0M450.4 146.9h0M454.3 133.6h0M459.8 124.4h0M442.8 142.8h0M426.8 174.4h0M436.4 151.4h0M447.8 160.6h0M457.9 146.8h0M433.6 164.5h0M427.0 167.8h0M443.0 155.5h0M445.9 165.1h0M436.4 152.8h0M437.8 158.1h0M449.6 134.8h0M444.2 149.9h0M448.0 134.3h0M437.5 167.2h0M459.2 138.7h0M440.5 166.5h0M431.5 155.9h0M436.7 153.7h0M429.3 153.1h0M442.5 153.1h0M423.0 153.7h0M461.9 126.9h0M438.3 156.2h0M426.9 177.9h0M449.2 162.5h0M448.7 133.4h0M439.7 155.8h0M475.3 135.9h0M436.1 153.4h0M431.4 157.2h0M454.2 142.5h0M446.6 143.8h0M456.9 146.2h0M453.0 152.2h0M457.1 146.8h0M452.1 158.9h0M456.2 144.7h0M443.1 136.6h0M448.0 148.4h0M447.3 161.0h0M458.9 144.2h0M444.0 155.8h0M426.0 166.8h0M446.7 150.5h0M454.5 142.7h0M451.0 154.7h0M419.0 176.6h0M453.9 156.0h0M469.6 137.0h0M422.4 162.3h0M414.0 173.9h0M436.3 150.0h0M451.0 151.0h0M442.6 139.5h0M464.7 141.1h0M458.8 148.9h0M442.3 151.9h0M444.1 131.9h0M456.5 134.5h0M440.4 147.6h0M438.5 154.0h0M446.8 134.3h0M453.9 140.2h0M441.4 163.4h0M451.1 146.9h0M427.6 162.7h0M448.0 145.5h0M446.7 130.6h0M419.1 175.2h0M438.6 155.9h0M451.7 144.8h0M449.9 150.1h0M426.1 167.3h0M428.2 175.0h0M435.1 168.0h0M448.7 158.3h0M434.9 156.9h0M435.6 164.7h0M456.2 152.6h0M444.1 154.9h0M433.1 145.9h0M451.3 149.3h0M440.6 160.4h0M425.6 170.3h0M433.4 158.2h0M447.2 152.8h0M435.3 149.9h0M428.2 159.7h0M457.6 140.1h0M479.1 117.7h0M419.9 171.6h0M457.7 159.2h0M450.4 165.0h0M413.5 178.8h0M437.6 161.5h0M436.7 129.0h0M453.1 137.3h0M454.3 153.5h0M436.9 164.0h0M437.0 160.9h0M446.1 140.0h0M448.9 125.5h0M447.4 160.6h0M446.1 161.3h0M459.4 151.4h0M426.4 172.8h0M439.3 132.7h0M443.6 144.3h0M415.5 172.2h0M445.5 141.7h0M445.1 167.2h0M450.0 141.2h0M451.4 132.5h0M425.9 169.9h0M433.4 160.8h0M448.9 154.8h0M428.3 173.3h0M452.0 158.8h0M443.5 132.3h0M446.3 130.7h0M417.1 166.3h0M425.0 165.5h0M456.7 143.6h0M421.3 175.7h0M471.1 132.9h0M432.8 174.0h0M432.3 140.9h0M439.5 156.5h0M453.7 136.1h0M461.8 119.8h0M455.4 145.9h0M446.2 141.4h0M458.1 107.5h0M437.8 155.3h0M452.7 141.3h0M466.0 151.3h0M433.3 143.4h0M470.5 128.7h0M456.9 154.2h0M461.8 131.7h0M439.0 159.9h0M455.8 159.8h0M428.6 157.9h0M433.9 120.6h0M472.4 128.1h0M461.0 132.9h0M434.1 161.9h0M432.6 159.7h0M462.0 152.5h0M441.7 160.4h0M454.3 159.4h0M444.0 131.0h0M451.1 157.8h0M438.4 155.3h0M438.7 155.9h0M444.5 145.7h0M441.1 131.0h0M436.6 139.8h0M477.9 132.2h0M429.0 168.9h0M424.5 157.8h0M444.4 140.6h0M440.4 178.0h0M459.5 140.9h0M455.5 154.6h0M451.6 148.0h0M444.7 142.4h0M464.5 144.3h0M445.4 143.5h0M448.6 144.8h0M449.7 139.6h0M439.5 150.1h0M445.1 169.2h0M440.8 147.8h0M452.8 143.6h0M453.5 149.5h0M468.2 135.9h0M448.8 147.3h0M433.5 134.0h0M439.0 152.0h0M421.8 169.3h0M456.0 135.0h0M439.8 137.7h0M429.3 157.6h0M451.0 162.0h0M488.4 125.0h0M470.3 143.4h0M452.5 145.8h0M439.0 160.7h0M448.9 161.3h0M440.0 167.1h0M480.6 137.9h0M444.3 166.4h0M448.0 159.8h0M442.1 126.3h0M449.2 145.6h0M449.5 136.0h0M455.9 135.7h0M418.8 159.7h0M468.3 154.9h0M424.6 164.6h0M418.8 179.0h0M465.8 142.0h0M454.8 144.5h0M440.6 158.8h0M431.3 154.9h0M455.7 145.0h0M438.7 165.8h0M419.6 175.7h0M437.3 146.1h0M442.4 133.5h0M445.5 140.0h0M472.6 120.8h0M457.1 144.4h0M429.3 165.8h0M442.5 155.7h0M458.4 132.6h0M448.1 160.9h0M441.9 160.2h0M424.7 168.2h0M437.3 161.1h0M439.8 163.3h0M447.4 143.2h0M452.5 148.3h0M448.1 149.4h0M451.6 140.1h0M438.8 150.3h0M466.7 140.4h0M427.3 151.5h0M453.6 140.9h0M461.2 135.6h0M451.5 127.1h0M434.9 166.9h0M439.5 149.9h0M448.2 147.2h0M444.0 145.0h0M427.2 163.1h0M426.0 172.2h0M438.8 162.0h0M454.9 150.9h0M429.9 172.4h0M464.9 132.0h0M460.6 153.7h0M424.2 173.8h0M433.1 160.3h0M455.0 146.1h0M445.4 157.7h0M447.4 146.6h0M432.1 171.1h0M438.4 138.9h0M456.4 126.9h0M444.3 161.5h0M428.8 166.9h0M458.3 149.6h0M470.2 140.5h0M446.3 159.4h0M436.8 143.6h0M464.8 139.2h0M423.6 149.3h0M434.1 162.4h0M442.2 129.5h0M429.9 160.0h0M449.1 146.3h0M428.6 161.3h0M448.0 137.0h0M440.7 169.4h0M449.4 139.3h0M458.9 149.7h0M448.2 154.1h0M437.4 148.0h0M443.6 156.4h0M439.4 167.3h0M432.7 159.7h0M463.7 137.6h0M451.4 165.6h0M451.7 140.7h0M427.5 163.9h0M423.4 169.1h0M424.8 161.1h0M442.8 152.4h0M458.4 166.9h0M451.1 137.6h0M428.3 158.2h0M430.8 172.1h0M458.2 154.8h0M443.1 143.0h0M434.6 156.2h0M439.8 137.7h0M441.5 164.9h0M430.2 164.2h0M445.4 143.1h0M417.8 161.1h0M455.0 148.5h0M433.0 160.6h0M464.3 135.1h0M424.0 164.8h0M459.2 146.5h0M436.2 164.2h0M440.5 158.2h0M444.9 152.0h0M464.8 121.0h0M432.3 156.6h0M447.4 151.4h0M456.2 133.3h0M443.5 150.2h0M433.7 170.7h0M440.5 141.3h0M469.7 124.8h0M447.9 139.8h0M453.5 125.2h0M473.8 116.1h0M426.9 155.2h0M453.0 143.4h0M433.1 158.3h0M436.6 150.4h0M458.7 145.3h0M428.3 166.7h0M444.3 144.5h0M437.9 156.3h0M461.2 148.3h0M438.7 157.8h0M430.0 179.9h0M452.5 147.3h0M437.9 165.9h0M463.9 135.3h0M447.6 125.4h0M431.3 154.8h0M459.1 163.8h0M432.8 159.3h0M419.0 181.8h0M427.5 167.3h0M414.4 179.1h0M436.5 155.7h0M432.7 167.5h0M449.1 144.5h0M458.4 150.9h0M462.5 133.1h0M433.5 166.1h0M454.3 151.8h0M437.8 133.6h0M458.0 128.3h0M431.0 139.2h0M452.5 149.4h0M432.5 149.5h0M435.7 165.9h0M428.5 178.0h0M447.3 159.7h0M450.8 155.3h0M448.2 166.3h0M471.5 119.0h0M448.8 156.1h0M459.7 141.9h0M424.5 151.9h0M470.6 138.3h0M431.5 152.9h0M464.6 132.0h0M457.6 153.9h0M460.8 143.7h0M459.8 132.6h0M444.1 145.5h0M452.9 147.1h0M435.8 133.2h0M428.0 161.3h0M430.9 158.8h0M443.2 141.4h0M467.8 127.4h0M442.4 159.7h0M450.0 142.0h0M435.1 157.5h0M452.6 142.8h0M426.0 153.4h0M434.5 158.3h0M446.2 162.2h0M438.5 152.6h0M445.8 157.7h0M452.5 137.6h0M449.5 159.0h0M429.6 152.5h0M426.0 151.7h0M442.3 152.9h0M466.0 138.6h0M452.2 147.0h0M447.0 153.0h0M461.3 142.4h0M469.5 137.4h0M456.0 120.8h0M441.0 148.2h0M432.0 169.5h0M415.6 168.9h0M441.0 157.3h0M435.5 150.4h0M436.2 146.4h0M436.7 159.1h0M446.3 152.8h0M455.6 146.6h0M425.8 169.7h0M432.5 160.1h0M432.8 155.8h0M433.9 151.7h0M441.9 153.5h0M429.8 156.1h0M436.0 155.2h0M440.7 141.5h0M439.4 161.9h0M424.3 169.0h0M443.4 151.9h0M459.4 137.1h0M450.2 153.4h0M440.6 166.4h0M445.2 154.9h0M437.5 155.9h0M455.7 139.6h0M430.3 157.7h0M411.4 170.5h0M458.3 144.8h0M425.1 169.0h0M446.0 151.6h0M458.0 141.8h0M437.5 149.7h0M452.6 130.5h0M422.7 175.7h0M459.1 144.3h0M442.8 149.7h0M434.5 135.7h0M429.1 153.3h0M452.2 157.1h0M449.1 133.5h0M438.9 140.6h0M425.5 155.2h0M426.0 171.3h0M464.8 155.4h0M430.7 162.6h0M447.2 153.1h0M439.7 139.1h0M451.8 136.4h0M434.6 167.6h0M454.6 140.1h0M475.0 150.4h0M465.5 146.4h0M454.6 142.0h0M457.4 139.3h0M430.4 162.1h0M446.3 158.8h0M457.2 153.5h0M455.7 142.6h0M451.5 134.8h0M451.7 158.4h0M449.8 156.5h0M452.5 149.6h0M488.7 139.9h0M444.7 154.9h0M440.4 153.9h0M443.1 143.2h0M459.0 155.8h0M485.7 138.3h0M466.0 151.9h0M428.7 162.8h0M450.0 142.0h0M434.7 171.0h0M436.2 167.6h0M444.1 151.8h0M441.3 158.5h0M436.4 150.7h0M441.5 147.5h0M451.9 122.7h0M466.4 135.3h0M444.8 150.3h0M438.9 145.4h0M429.8 160.8h0M460.4 153.3h0M461.6 153.7h0M424.6 159.2h0M437.8 160.8h0M426.9 149.1h0M449.8 146.4h0M433.7 134.5h0M446.1 127.0h0M437.5 156.6h0M473.1 122.3h0M424.6 167.8h0M435.5 159.2h0M448.1 154.9h0M440.5 153.3h0M468.7 127.5h0M436.6 171.1h0M428.0 161.5h0M456.2 127.9h0M467.3 136.0h0M434.0 163.1h0M429.6 159.4h0M435.6 153.7h0M455.9 151.1h0M459.6 144.2h0M455.5 119.9h0M466.4 158.2h0M444.4 138.8h0M439.8 147.9h0M469.2 144.2h0M448.1 139.3h0M437.2 157.2h0M458.8 116.7h0M425.2 173.6h0M421.0 154.2h0M438.3 156.8h0M435.4 161.2h0M427.9 153.1h0M441.2 142.8h0M448.5 138.5h0M436.0 148.4h0M436.7 150.0h0M432.9 164.1h0M437.0 143.4h0M422.2 174.5h0M455.4 159.3h0M434.5 156.4h0M467.2 137.4h0M425.5 160.3h0M442.2 149.8h0M442.7 159.1h0M442.2 171.5h0M431.3 161.5h0M459.8 139.3h0M428.7 157.6h0M414.8 174.1h0M438.5 150.6h0M432.9 170.2h0M440.9 141.2h0M452.0 147.6h0M448.6 157.4h0M446.6 170.2h0M443.6 138.9h0M436.7 150.7h0M435.2 157.4h0M439.7 154.8h0M470.5 142.8h0M438.0 164.0h0M431.9 154.5h0M433.3 160.5h0M447.8 153.3h0M456.7 156.6h0M466.6 140.4h0M460.6 156.7h0M442.5 139.0h0M441.4 155.8h0M426.7 175.0h0M453.9 152.4h0M421.3 149.4h0M488.3 129.7h0M453.4 134.7h0M438.5 165.4h0M431.8 154.5h0M460.0 133.1h0M421.8 175.5h0M425.1 166.9h0M444.9 156.8h0M449.2 150.2h0M440.8 146.5h0M448.9 132.4h0M431.9 150.1h0M462.1 134.7h0M441.3 145.4h0M436.3 154.8h0M445.4 153.9h0M428.0 162.9h0M451.5 150.3h0M416.0 172.0h0M449.3 139.6h0M435.8 168.6h0M433.6 174.4h0M458.6 158.9h0M430.2 157.1h0M444.2 134.9h0M459.1 133.2h0M450.2 144.1h0M454.9 127.7h0M460.7 130.0h0M445.2 124.8h0M429.5 161.7h0M455.2 155.4h0M447.5 146.9h0M456.8 151.4h0M436.1 154.7h0M450.3 145.9h0M464.0 144.2h0M441.5 145.0h0M452.9 131.6h0M432.8 166.8h0M471.6 122.6h0M452.9 148.3h0M463.6 169.1h0M452.4 141.1h0M448.9 156.3h0M418.0 174.5h0M440.6 152.2h0M459.7 124.0h0M452.4 155.4h0M440.5 144.5h0M435.6 166.4h0M444.7 160.3h0M457.3 150.0h0M446.6 151.9h0M475.3 140.1h0M447.2 141.5h0M436.0 152.9h0M440.6 149.1h0M447.7 147.4h0M434.6 153.4h0M466.5 134.7h0M452.3 134.7h0M445.8 159.1h0M428.7 164.4h0M456.8 137.6h0M444.3 141.0h0M431.3 138.4h0M441.0 157.0h0M458.2 141.8h0M449.7 150.8h0M437.1 163.5h0M436.6 142.3h0M429.3 162.1h0M432.0 160.9h0M431.7 173.9h0M452.0 142.1h0M434.4 128.1h0M437.9 156.7h0M441.7 150.3h0M449.7 150.2h0M447.3 153.7h0M431.3 162.5h0M456.9 135.1h0M439.8 160.8h0M431.3 166.4h0M448.1 144.9h0M437.5 155.8h0M435.3 165.3h0M427.6 170.1h0M422.9 161.5h0M455.1 129.1h0M427.2 144.7h0M431.3 151.6h0M454.2 141.9h0M444.2 156.3h0M437.0 157.9h0M455.0 147.5h0M445.7 144.2h0M471.3 137.3h0M439.5 169.8h0M454.7 137.8h0M422.8 168.2h0M445.6 143.8h0M445.2 168.5h0M443.1 143.2h0M447.8 165.2h0M461.8 147.8h0M470.3 142.1h0M440.8 158.0h0M436.3 143.1h0M445.2 152.2h0M431.1 155.0h0M425.3 164.9h0M492.2 99.6h0M434.3 151.4h0M479.8 130.9h0M445.9 149.2h0M426.6 170.5h0M443.9 168.7h0M445.2 157.3h0M435.6 162.1h0M443.8 164.2h0M434.3 156.7h0M461.7 135.5h0M467.8 147.7h0M437.3 170.0h0M441.3 138.7h0M456.6 133.7h0M442.1 166.3h0M432.1 166.8h0M442.5 139.9h0M441.7 149.7h0M425.0 157.1h0M456.1 131.6h0M438.7 158.3h0M479.6 152.8h0M434.6 163.6h0M420.8 176.5h0M455.3 149.6h0M474.5 141.5h0M443.2 147.2h0M456.9 153.6h0M441.7 155.5h0M447.7 131.3h0M418.2 175.1h0M448.3 142.4h0M433.9 162.0h0M442.6 157.9h0M428.7 166.7h0M432.4 171.5h0M484.6 118.6h0M434.5 163.6h0M451.2 139.5h0M431.5 174.0h0M462.0 153.5h0M433.1 166.0h0M448.0 148.8h0M460.4 140.5h0M474.3 146.6h0M430.7 165.0h0M438.9 150.2h0M437.9 151.0h0M466.0 128.2h0M433.6 154.3h0M458.5 155.4h0M434.9 161.5h0M429.8 162.2h0M421.0 156.9h0M447.1 146.5h0M457.4 120.7h0M431.8 154.3h0M436.3 157.6h0M459.5 150.8h0M444.6 125.4h0M441.3 154.7h0M473.4 125.6h0M430.4 164.3h0M434.0 162.4h0M469.9 126.4h0M461.4 132.0h0M438.6 159.0h0M441.5 145.4h0M418.4 180.3h0M462.2 134.0h0M421.5 180.2h0M422.0 177.2h0M442.3 157.4h0M437.3 135.2h0M437.3 163.3h0M439.8 143.3h0M444.5 164.3h0M457.2 141.6h0M421.0 172.3h0M468.8 128.4h0M427.5 158.3h0M457.5 140.9h0M424.2 174.4h0M460.2 116.7h0M439.2 135.3h0M464.9 132.6h0M438.5 148.7h0M460.9 150.3h0M456.5 146.3h0M459.0 154.7h0M459.1 151.6h0M428.2 165.6h0M450.5 148.4h0M459.8 140.2h0M463.3 126.5h0M443.6 131.2h0M443.6 145.4h0M425.7 155.8h0M460.6 137.8h0M424.4 151.8h0M455.4 143.0h0M446.2 154.8h0M438.9 160.7h0M447.4 148.8h0M440.4 140.5h0M451.2 155.9h0M440.9 155.1h0M443.7 163.9h0M433.8 155.5h0M445.4 142.6h0M458.1 143.5h0M427.8 156.8h0M442.3 142.6h0M438.7 153.8h0M457.2 146.1h0M444.5 160.9h0M426.8 166.9h0M448.6 145.1h0M440.3 157.6h0M445.7 153.7h0M420.7 171.5h0M449.1 143.9h0M447.8 142.3h0M445.2 160.1h0M444.2 131.6h0M439.5 149.9h0M468.7 140.5h0M447.0 148.8h0M427.8 165.9h0M441.5 160.3h0M423.9 157.0h0M439.9 156.7h0M439.6 153.5h0M465.4 145.0h0M445.1 144.9h0M446.7 158.3h0M441.6 161.2h0M451.3 149.3h0M459.4 137.1h0M448.1 130.7h0M442.3 170.0h0M433.9 149.9h0M446.3 163.1h0M442.9 157.3h0M444.3 140.6h0M478.1 132.2h0M455.5 137.5h0M462.0 138.3h0M448.4 152.0h0M446.1 145.5h0M424.3 159.9h0M440.9 144.8h0M423.5 179.1h0M461.7 151.7h0M454.1 144.5h0M448.6 134.0h0M441.9 143.7h0M446.7 155.9h0M426.7 158.2h0M446.2 156.0h0M472.0 124.0h0M457.9 147.8h0M439.7 159.4h0M447.8 160.8h0M442.0 167.2h0M441.8 166.4h0M441.4 150.1h0M448.5 155.9h0M451.6 149.8h0M426.6 169.2h0M475.0 127.1h0M458.9 143.5h0M474.0 131.0h0M436.8 145.4h0M443.5 151.1h0M446.8 158.2h0M447.3 146.4h0M433.7 165.5h0M443.9 147.5h0M482.4 128.5h0M449.6 147.2h0M431.2 154.8h0M463.9 152.4h0M421.4 165.0h0M466.7 139.8h0M434.2 172.1h0M439.8 141.1h0M439.5 146.5h0M429.9 134.5h0M425.8 151.0h0M445.0 152.2h0M449.8 157.1h0M445.7 148.4h0M450.5 135.5h0M464.6 133.3h0M452.1 153.6h0M459.3 148.3h0M445.1 166.5h0M446.4 167.2h0M471.6 140.2h0M468.6 144.9h0M454.8 158.3h0M439.4 147.8h0M455.9 152.0h0M446.2 167.6h0M427.1 148.3h0M468.2 128.7h0M412.9 181.0h0M455.8 147.8h0M481.4 132.3h0M452.6 158.8h0M461.0 121.1h0M444.7 146.4h0M453.8 120.9h0M471.4 127.2h0M441.2 152.9h0M461.5 126.1h0M449.7 156.1h0M417.8 176.1h0M432.6 137.9h0M443.6 145.4h0M441.3 155.5h0M434.1 157.2h0M444.2 169.1h0M420.9 171.1h0M446.2 128.0h0M447.2 151.6h0M475.2 123.5h0M437.1 149.3h0M451.5 160.3h0M422.8 160.9h0M461.3 128.2h0M433.9 156.7h0M455.2 139.2h0M463.5 138.7h0M445.1 151.1h0M440.2 160.9h0M437.1 153.8h0M458.1 134.1h0M456.4 129.6h0M452.6 147.2h0M448.3 137.1h0M434.1 159.6h0M459.3 140.2h0M444.6 143.8h0M453.2 137.6h0M439.6 140.8h0M433.8 170.0h0M427.6 164.8h0M438.9 152.8h0M453.7 141.3h0M455.2 144.4h0M435.7 146.7h0M429.4 155.2h0M444.5 138.8h0M446.9 144.3h0M420.4 170.9h0M444.8 149.8h0M446.8 128.9h0M434.7 164.2h0M445.6 149.1h0M442.2 160.3h0M451.8 152.6h0M437.4 170.9h0M426.4 166.5h0M452.0 144.1h0M439.5 165.5h0M443.6 139.9h0M445.0 156.2h0M448.8 144.0h0M440.3 142.1h0M438.4 153.6h0M430.4 165.2h0M435.2 164.1h0M433.0 148.4h0M453.4 138.2h0M460.3 129.2h0M478.1 168.5h0M433.0 165.0h0M444.3 161.0h0M453.1 133.2h0M452.5 156.7h0M456.6 147.2h0M423.5 172.6h0M441.8 156.1h0M449.2 131.6h0M444.3 151.0h0M433.9 154.2h0M457.5 151.8h0M432.6 157.1h0M454.3 141.0h0M455.1 133.8h0M461.5 116.1h0M452.3 132.9h0M421.9 157.1h0M439.0 137.0h0M436.0 167.2h0M450.0 151.6h0M435.2 133.2h0M442.2 157.4h0M445.3 148.2h0M429.2 175.1h0M455.8 153.5h0M453.1 169.7h0M459.8 152.0h0M450.2 130.9h0M441.9 140.1h0M455.6 155.6h0M431.8 157.8h0M450.5 138.8h0M443.0 143.7h0M428.9 160.6h0M438.1 155.8h0M421.0 165.3h0M440.6 171.5h0M446.0 158.3h0M452.2 142.2h0M438.8 131.8h0M436.6 157.7h0M438.4 149.0h0M423.2 180.3h0M449.5 156.2h0M445.7 150.3h0M459.7 140.7h0M453.4 147.2h0M437.2 144.9h0M446.0 152.8h0M431.0 153.5h0M434.3 157.1h0M454.5 145.3h0M481.1 123.1h0M421.7 171.9h0M438.5 156.9h0M448.4 145.0h0M431.2 156.4h0M431.8 155.5h0M433.8 167.2h0M435.5 153.5h0M428.7 166.1h0M438.2 128.6h0M442.7 160.9h0M441.3 146.8h0M454.0 143.4h0M437.0 155.2h0M455.9 145.4h0M439.9 162.4h0M450.9 157.7h0M447.1 157.9h0M436.8 159.1h0M445.1 148.9h0M456.1 143.3h0M442.1 159.3h0M442.6 151.6h0M421.2 171.6h0M453.1 126.8h0M450.9 143.5h0M442.1 165.9h0M435.5 146.9h0M422.5 165.5h0M451.6 156.1h0M449.1 164.0h0M425.0 164.5h0M451.4 150.3h0M447.7 134.0h0M435.5 147.3h0M448.9 156.8h0M439.9 160.4h0M459.1 136.2h0M452.3 143.8h0M447.7 153.3h0M450.9 120.1h0M427.8 178.3h0M445.2 169.0h0M445.0 137.1h0M450.3 158.5h0M455.4 124.8h0M448.7 150.8h0M453.7 136.5h0M450.9 130.8h0M447.9 142.5h0M458.7 146.4h0M455.8 153.9h0M438.0 146.5h0M464.2 139.2h0M454.1 158.8h0M457.6 144.3h0M440.4 141.9h0M446.6 147.3h0M428.9 164.9h0M451.7 145.0h0M459.2 155.9h0M431.0 163.8h0M428.6 169.5h0M447.8 159.7h0M446.3 136.5h0M422.6 167.7h0M452.0 142.7h0M452.9 139.1h0M448.2 158.7h0M458.0 150.5h0M449.2 146.1h0M444.0 163.8h0M451.2 140.1h0M470.4 142.3h0M424.1 163.6h0M460.1 135.8h0M446.7 159.3h0M422.4 159.0h0M450.1 144.1h0M434.2 159.7h0M430.4 161.3h0M438.1 159.3h0M441.4 159.5h0M447.8 151.6h0M434.1 151.6h0M442.1 145.6h0M434.7 157.2h0M430.0 153.5h0M434.6 176.2h0M430.5 156.4h0M463.4 148.6h0M435.3 159.3h0M436.3 150.4h0M446.9 147.8h0M457.2 156.7h0M449.6 140.2h0M449.0 154.3h0M458.0 140.4h0M448.5 141.6h0M418.5 163.1h0M432.6 154.2h0M455.6 133.5h0M466.3 123.7h0M469.2 146.5h0M472.5 137.3h0M439.6 158.1h0M454.5 156.7h0M473.7 128.5h0M458.0 161.7h0M465.2 140.4h0M437.6 161.6h0M430.6 170.4h0M459.1 138.3h0M453.1 151.0h0M450.5 129.3h0M448.5 146.9h0M470.0 143.5h0M485.6 98.3h0M420.2 176.7h0M444.7 142.5h0M447.5 144.9h0M423.6 171.1h0M422.2 174.3h0M439.2 149.1h0M485.6 124.5h0M454.5 148.4h0M469.7 126.4h0M443.4 144.1h0M457.8 128.9h0M449.0 134.2h0M443.4 142.9h0M442.8 138.9h0M452.5 153.4h0M458.1 147.6h0M424.6 161.7h0M437.1 160.4h0M447.4 147.0h0M449.8 130.0h0M422.1 178.0h0M454.8 129.3h0M438.0 133.8h0M449.3 153.9h0M447.6 136.8h0M455.8 138.1h0M423.4 164.3h0M440.9 169.1h0M446.1 163.5h0M427.6 163.6h0M446.3 151.2h0M441.6 153.0h0M441.7 161.7h0M446.8 165.5h0M450.6 123.9h0M456.9 112.3h0M440.9 153.7h0M448.1 154.5h0M449.3 147.0h0M455.1 143.9h0M435.1 149.9h0M421.0 169.8h0M442.4 139.8h0M444.8 154.7h0M430.1 161.6h0M449.1 152.4h0M444.9 163.8h0M455.1 152.8h0M429.4 150.6h0M443.1 162.4h0M442.7 156.2h0M451.9 144.0h0M448.4 136.8h0M455.4 145.0h0M444.9 144.5h0M437.4 169.4h0M454.2 133.8h0M442.8 165.2h0M453.5 132.5h0M432.2 166.6h0M446.5 152.4h0M472.6 123.7h0M449.4 124.0h0M439.2 143.1h0M439.1 163.1h0M445.3 151.8h0M440.5 159.6h0M436.4 156.9h0M435.3 169.5h0M438.6 163.5h0M427.2 156.5h0M449.0 152.2h0M426.7 169.1h0M449.7 147.3h0M460.0 148.2h0M442.3 155.9h0M427.9 164.0h0M440.5 149.4h0M440.2 143.1h0M437.4 143.2h0M431.2 181.8h0M450.5 156.8h0M472.1 134.5h0M438.2 161.7h0M461.9 149.4h0M463.0 138.9h0M443.5 160.3h0M451.5 133.7h0M455.9 149.9h0M434.6 149.1h0M457.5 157.4h0M444.6 158.5h0M434.4 163.3h0M448.6 154.4h0M446.6 138.7h0M450.5 121.9h0M431.3 165.5h0M441.0 144.6h0M439.6 152.2h0M420.9 170.3h0M452.8 144.4h0M418.1 167.8h0M430.0 158.7h0M458.4 146.5h0M472.9 151.1h0M429.9 158.9h0M448.0 154.7h0M431.6 148.4h0M430.7 140.5h0M425.1 141.9h0M434.3 154.4h0M427.6 168.3h0M460.8 129.7h0M439.8 162.9h0M440.9 160.8h0M452.4 135.6h0M433.8 158.9h0M455.8 138.4h0M451.3 150.7h0M443.8 145.4h0M445.7 159.1h0M463.4 150.4h0M420.5 159.1h0M428.8 163.9h0M440.3 153.2h0M446.3 149.7h0M467.5 142.5h0M426.4 140.1h0M430.8 166.0h0M442.5 173.1h0M447.2 161.4h0M436.7 149.9h0M421.2 162.9h0M430.9 153.8h0M454.1 156.5h0M461.6 140.1h0M439.6 140.6h0M464.9 132.4h0M420.8 163.3h0M440.0 145.1h0M455.6 157.7h0M455.2 147.5h0M445.2 153.3h0M453.5 155.4h0M455.2 158.8h0M440.2 143.9h0M441.9 164.7h0M450.9 142.5h0M458.9 148.1h0M447.7 148.3h0M418.3 168.8h0M441.7 141.4h0M435.3 168.0h0M444.9 138.9h0M454.7 146.9h0M454.8 143.5h0M445.4 161.7h0M427.3 162.5h0M437.3 157.3h0M423.7 148.6h0M429.5 164.6h0M434.2 161.6h0M473.0 129.5h0M443.3 167.7h0M444.5 146.6h0M412.6 178.7h0M446.0 150.1h0M457.1 149.4h0M434.5 141.4h0M458.6 134.8h0M462.4 142.4h0M443.8 157.4h0M448.7 134.0h0M439.0 153.1h0M455.9 139.7h0M453.5 140.2h0M449.9 145.2h0M470.6 130.4h0M467.8 134.3h0M451.0 147.6h0M452.2 132.4h0M420.8 151.1h0M456.8 147.7h0M447.5 142.2h0M461.5 149.1h0M453.4 154.1h0M455.4 143.9h0M428.9 151.6h0M460.1 119.1h0M466.6 150.6h0M447.6 148.3h0M434.3 155.4h0M450.2 160.3h0M469.0 149.8h0M443.0 148.9h0M427.3 155.5h0M455.5 157.4h0M461.4 145.0h0M435.2 157.7h0M422.9 151.9h0M432.0 163.5h0M432.7 163.9h0M444.4 155.3h0M462.4 139.7h0M454.0 161.3h0M460.5 127.1h0M430.9 157.5h0M471.4 128.7h0M453.3 150.6h0M453.4 164.3h0M443.2 120.4h0M427.0 177.6h0M450.8 131.0h0M443.2 145.7h0M454.8 147.2h0M416.9 170.6h0M463.8 128.3h0M427.8 156.2h0M448.3 162.6h0M463.0 155.4h0M461.4 110.9h0M447.3 154.2h0M436.2 159.5h0M462.5 118.4h0M449.6 146.4h0M449.8 130.2h0M432.3 158.4h0M435.7 142.1h0M423.4 169.8h0M460.0 130.1h0M445.2 159.8h0M447.8 158.4h0M445.2 140.8h0M427.4 169.2h0M440.0 154.4h0M432.1 161.7h0M427.4 169.2h0M446.1 158.3h0M453.0 164.2h0M432.6 164.6h0M449.0 146.1h0M429.3 180.5h0M446.0 141.4h0M424.9 180.0h0M451.9 129.2h0M458.9 153.9h0M454.4 153.5h0M441.1 135.1h0M454.3 148.3h0M449.7 145.1h0M453.5 161.0h0M436.5 163.6h0M421.8 164.8h0M432.9 161.2h0M444.6 164.0h0M457.1 145.1h0M435.5 160.6h0M448.2 152.8h0M457.9 159.4h0M451.9 140.7h0M465.8 132.3h0M437.5 149.5h0M429.9 175.2h0M455.8 133.5h0M442.1 162.2h0M447.2 151.2h0M436.3 143.3h0M443.6 153.8h0M446.0 138.6h0M450.7 154.3h0M442.9 150.6h0M441.8 133.6h0M433.3 158.2h0M440.0 155.6h0M431.1 151.6h0M460.4 136.2h0M442.0 132.8h0M442.3 150.6h0M448.8 149.6h0M441.0 170.4h0M466.7 138.5h0M446.9 148.7h0M458.9 140.3h0M427.8 153.8h0M447.8 149.7h0M458.4 142.8h0M465.0 134.3h0M463.4 128.5h0M438.5 157.1h0M451.6 146.4h0M450.7 144.4h0M433.4 181.3h0M453.5 124.7h0M446.7 144.6h0M435.5 162.8h0M451.4 135.8h0M464.8 129.6h0M487.7 139.6h0M452.6 139.0h0M453.8 151.9h0M453.9 157.3h0M438.8 151.4h0M455.8 157.7h0M468.6 125.7h0M442.9 145.7h0M465.7 130.7h0M439.9 145.2h0M448.7 136.1h0M451.9 139.9h0M462.0 132.2h0M429.7 162.9h0M457.5 143.6h0M450.7 155.0h0M422.0 144.8h0M444.1 149.8h0M444.6 142.1h0M462.7 142.3h0M423.9 171.3h0M437.6 154.3h0M470.5 115.2h0M447.7 154.9h0M453.6 147.1h0M451.8 155.5h0M457.3 149.0h0M484.9 125.8h0M428.1 163.1h0M467.6 145.3h0M455.2 154.8h0M430.0 146.0h0M441.8 165.2h0M433.6 165.6h0M473.9 143.8h0M449.9 144.9h0M436.7 159.5h0M438.6 142.1h0M429.3 165.3h0M460.6 121.5h0M457.3 133.0h0M415.1 172.4h0M439.5 160.0h0M462.3 141.0h0M440.7 139.9h0M435.9 136.9h0M439.1 157.3h0M435.1 157.7h0M422.2 169.5h0M468.1 132.7h0M461.0 108.2h0M459.0 156.8h0M454.9 137.7h0M423.7 167.1h0M437.4 158.6h0M423.5 153.9h0M436.5 159.8h0M458.2 132.4h0M456.4 125.4h0M433.6 148.4h0M480.2 115.5h0M471.4 139.2h0M423.9 176.5h0M439.3 154.0h0M464.6 142.5h0M452.0 146.7h0M464.3 129.6h0M422.9 165.8h0M443.5 153.6h0M438.2 166.1h0M440.0 151.9h0M467.9 139.7h0M456.0 149.7h0M444.4 145.9h0M450.9 133.3h0M431.2 164.8h0M437.9 165.2h0M457.4 150.3h0M429.4 162.9h0M436.3 162.7h0M455.8 121.9h0M440.1 167.7h0M459.6 131.4h0M461.0 134.1h0M444.4 162.5h0M437.5 164.9h0M462.8 125.7h0M445.5 152.5h0M477.1 120.4h0M490.4 149.9h0M438.5 161.9h0M455.2 134.8h0M431.9 172.3h0M450.0 143.9h0M449.1 149.3h0M429.1 150.8h0M454.2 153.4h0M436.3 170.0h0M459.7 147.9h0M448.1 152.6h0M438.1 157.2h0M443.2 166.8h0M443.6 171.0h0M435.6 162.8h0M447.9 152.8h0M436.9 152.4h0M451.2 145.0h0M431.4 155.0h0M414.4 181.6h0M414.2 182.3h0M440.9 167.9h0M423.9 161.6h0M447.4 153.5h0M432.9 153.7h0M439.3 160.3h0M460.3 136.8h0M436.0 163.4h0M457.0 147.5h0M454.2 150.4h0M463.9 133.5h0M460.0 139.8h0M442.1 148.1h0M470.2 128.5h0M449.0 133.5h0M435.6 155.6h0M440.6 133.6h0M463.4 141.6h0M446.8 144.2h0M451.1 165.6h0M446.6 161.4h0M453.9 133.5h0M439.8 156.9h0M426.0 167.0h0M442.2 140.2h0M438.1 144.0h0M456.9 153.6h0M460.9 135.1h0M443.2 144.0h0M433.2 151.5h0M459.5 170.0h0M432.9 159.5h0M457.9 139.2h0M441.3 143.3h0M461.9 151.8h0M439.9 141.8h0M439.2 148.6h0M442.0 159.9h0M451.3 143.7h0M443.0 149.5h0M434.8 159.4h0M445.9 142.9h0M412.7 176.3h0M452.5 134.9h0M432.3 155.7h0M435.6 138.1h0M443.9 141.6h0M443.7 135.9h0M441.6 155.0h0M452.1 135.1h0M467.8 122.1h0M467.1 142.0h0M445.7 134.2h0M456.2 145.5h0M457.9 134.7h0M431.6 159.7h0M429.9 141.3h0M432.6 143.5h0M444.2 154.1h0M443.5 153.7h0M469.2 139.4h0M438.9 167.5h0M430.1 155.8h0M469.5 149.9h0M429.3 153.0h0M445.3 143.8h0M451.5 162.7h0M444.7 140.4h0M449.7 151.9h0M445.3 144.8h0M443.1 144.5h0M431.0 164.9h0M450.9 150.1h0M435.0 174.7h0M444.7 157.6h0M459.2 137.4h0M450.2 137.6h0M435.7 161.8h0M440.0 145.6h0M447.5 154.5h0M440.2 138.3h0M435.7 144.6h0M453.2 155.4h0M451.4 156.0h0M443.7 143.8h0M421.3 164.4h0M451.0 139.0h0M428.7 161.1h0M435.1 162.7h0M443.9 141.4h0M444.7 142.1h0M433.0 166.9h0M418.8 155.5h0M444.6 143.2h0M450.0 142.1h0M420.9 176.1h0M455.0 152.2h0M417.0 181.0h0M464.1 152.6h0M443.9 164.2h0M453.2 154.9h0M443.6 138.2h0M455.7 130.7h0M471.4 121.4h0M471.9 141.4h0M449.5 169.6h0M429.5 169.7h0M438.2 142.2h0M439.6 161.4h0M445.5 161.3h0M445.0 140.8h0M445.8 140.9h0M457.0 107.6h0M450.1 147.7h0M419.0 156.7h0M437.1 150.9h0M441.7 156.8h0M459.6 158.1h0M447.7 123.1h0M446.1 133.4h0M455.9 130.1h0M424.8 163.2h0M433.6 165.9h0M422.5 157.0h0M437.8 156.6h0M430.2 146.5h0M429.6 134.7h0M446.5 128.1h0M449.4 148.5h0M464.6 142.4h0M434.1 160.2h0M461.9 154.4h0M450.7 150.1h0M455.0 153.3h0M449.9 142.4h0M438.4 168.7h0M445.4 154.5h0M444.7 159.3h0M438.8 160.8h0M451.3 128.9h0M439.8 158.3h0M466.9 134.8h0M488.8 144.2h0M455.0 163.2h0M456.5 132.8h0M441.4 149.4h0M426.7 165.7h0M449.3 141.9h0M463.5 116.6h0M430.1 165.2h0M436.1 149.9h0M441.6 154.2h0M422.6 165.4h0M449.1 150.9h0M452.2 136.6h0M452.4 146.6h0M435.8 153.2h0M431.5 159.6h0M453.1 144.8h0M448.2 152.5h0M442.0 156.8h0M452.5 150.9h0M455.4 154.8h0M420.4 173.7h0M451.0 140.6h0M420.1 173.1h0M428.3 160.2h0M449.0 159.8h0M447.1 157.8h0M435.9 167.9h0M460.9 132.1h0M433.8 150.0h0M461.8 125.1h0M471.4 122.2h0M459.4 139.0h0M424.0 160.5h0M426.3 171.1h0M439.3 162.0h0M450.5 134.4h0M445.8 153.1h0M441.5 163.6h0M441.9 144.9h0M450.3 180.7h0M452.9 143.9h0M438.2 166.9h0M445.0 147.7h0M454.0 160.3h0M443.0 155.3h0M430.5 148.6h0M424.7 176.6h0M438.1 144.7h0M432.1 167.0h0M434.5 147.7h0M448.6 160.9h0M423.0 160.5h0M451.3 153.3h0M462.9 144.0h0M451.5 158.8h0M433.0 163.0h0M442.0 147.1h0M456.9 136.0h0M434.6 150.7h0M452.8 135.6h0M422.8 167.8h0M449.3 160.7h0M459.8 145.0h0M454.2 131.2h0M442.2 167.1h0M440.2 154.2h0M474.9 121.4h0M450.6 127.8h0M439.0 162.8h0M436.9 145.5h0M426.9 154.3h0M433.0 155.9h0M434.8 159.6h0M448.6 141.1h0M488.6 111.3h0M443.9 150.4h0M424.4 164.5h0M451.1 149.0h0M422.4 162.0h0M456.9 144.6h0M460.6 130.6h0M442.0 141.7h0M440.1 148.5h0M444.7 156.3h0M440.2 153.1h0M453.3 149.5h0M463.1 132.1h0M432.1 166.5h0M423.4 160.8h0M454.0 121.9h0M465.3 132.8h0M415.0 174.9h0M458.8 147.0h0M456.9 142.3h0M446.7 156.7h0M433.0 170.5h0M456.4 147.1h0M441.1 144.8h0M444.0 151.7h0M437.1 156.5h0M457.7 137.7h0M437.9 156.1h0M476.0 134.0h0M463.5 137.7h0M459.2 158.0h0M441.7 177.4h0M442.7 151.7h0M441.9 144.2h0M442.0 158.3h0M431.5 161.3h0M431.4 157.1h0M441.5 155.1h0M445.4 128.1h0M442.9 146.0h0M438.1 147.0h0M430.8 161.5h0M435.5 151.1h0M440.7 175.6h0M443.3 142.0h0M435.8 152.3h0M439.9 134.1h0M426.3 173.0h0M452.1 149.3h0M451.7 149.6h0M442.3 155.4h0M451.8 167.5h0M437.7 149.1h0M442.9 159.9h0M436.4 154.2h0M426.5 172.0h0M453.7 128.3h0M450.5 143.7h0M451.7 165.3h0M435.9 165.8h0M442.5 143.3h0M448.2 149.3h0M457.1 133.2h0M442.0 153.3h0M473.2 130.8h0M433.6 155.6h0M423.1 152.5h0M452.3 133.8h0M450.7 139.9h0M467.4 124.4h0M446.3 150.3h0M441.5 149.8h0M459.5 135.3h0M450.3 136.3h0M439.1 141.7h0M447.7 159.2h0M433.5 149.5h0M439.4 138.6h0M445.4 157.5h0M433.0 175.7h0M457.0 136.6h0M437.4 161.7h0M445.2 152.3h0M433.5 163.4h0M444.0 148.4h0M470.2 132.8h0M462.4 139.6h0M452.0 167.8h0M443.8 150.1h0M447.3 154.2h0M434.8 160.8h0M455.8 149.4h0M433.0 147.5h0M436.7 158.2h0M443.9 149.2h0M437.9 159.7h0M470.9 115.2h0M450.2 147.8h0M442.1 146.4h0M453.0 142.1h0M424.6 176.6h0M448.7 151.5h0M460.6 151.1h0M449.9 150.6h0M444.4 166.2h0M437.5 167.2h0M432.4 155.4h0M471.8 118.7h0M439.6 151.5h0M442.0 147.9h0M442.6 161.7h0M458.5 131.5h0M464.7 145.9h0M429.0 167.1h0M436.3 167.8h0M423.5 170.4h0M425.0 167.1h0M420.4 167.0h0M429.9 153.9h0M434.7 157.3h0M438.3 132.0h0M445.2 138.7h0M454.9 147.1h0M453.6 137.1h0M424.8 161.2h0M463.2 140.4h0M486.2 140.8h0M445.7 163.2h0M452.8 147.3h0M458.4 141.0h0M425.9 172.5h0M445.5 146.6h0M454.4 145.9h0M420.8 176.1h0M443.5 159.0h0M457.0 136.8h0M446.1 133.4h0M429.2 169.6h0M433.0 141.4h0M443.5 153.2h0M444.7 159.9h0M432.1 163.2h0M439.1 141.2h0M435.2 156.9h0M423.9 169.8h0M460.4 137.4h0M453.3 153.7h0M438.7 163.9h0M450.2 147.6h0M451.9 110.9h0M423.3 172.1h0M439.9 147.8h0M453.3 140.0h0M432.3 145.5h0M428.2 150.7h0M473.8 140.9h0M433.2 144.8h0M448.4 157.6h0M440.7 167.8h0M466.7 126.6h0M425.6 165.3h0M428.5 161.5h0M431.1 153.0h0M457.1 142.8h0M464.7 145.3h0M444.8 134.0h0M436.0 155.6h0M444.6 150.7h0M445.8 142.3h0M443.5 162.9h0M446.7 152.0h0M438.9 149.7h0M432.4 136.1h0M444.0 140.2h0M433.3 157.8h0M453.8 155.1h0M456.3 143.9h0M431.4 154.1h0M440.7 158.2h0M472.7 145.4h0M431.0 160.3h0M440.9 134.3h0M433.5 171.0h0M446.2 126.7h0M437.1 143.9h0M462.7 149.4h0M430.6 168.9h0M444.4 155.2h0M428.6 151.8h0M434.2 166.1h0M452.7 148.3h0M444.1 152.3h0M462.5 149.4h0M430.6 160.0h0M420.9 160.7h0M452.8 145.3h0M443.2 148.2h0M462.5 139.8h0M430.2 153.3h0M432.7 145.2h0M448.7 149.0h0M434.5 159.8h0M435.6 151.0h0M456.0 154.9h0M444.0 128.3h0M453.9 158.1h0M452.6 132.0h0M446.5 171.4h0M435.1 156.4h0M448.1 142.0h0M431.1 163.7h0M453.3 167.3h0M450.2 143.8h0M465.9 162.7h0M430.1 158.4h0M426.4 159.6h0M427.8 165.1h0M447.8 160.7h0M459.0 124.7h0M448.7 161.9h0M451.9 161.0h0M449.8 147.7h0M448.7 135.6h0M450.6 157.7h0M447.7 127.2h0M462.3 127.0h0M451.6 137.9h0M460.3 140.6h0M455.2 154.8h0M437.8 163.2h0M439.1 152.4h0M442.3 151.9h0M437.2 161.9h0M461.9 133.8h0M440.0 156.6h0M426.8 171.4h0M462.8 139.5h0M463.5 133.6h0M440.8 159.3h0M427.8 165.9h0M450.8 146.8h0M452.1 149.1h0M461.6 140.8h0M445.8 157.9h0M453.8 145.9h0M440.3 161.4h0M431.2 164.6h0M427.8 166.6h0M443.2 155.0h0M438.8 155.4h0M455.4 152.5h0M458.6 143.7h0M447.3 155.6h0M426.4 174.3h0M460.2 142.3h0M427.6 164.5h0M437.7 152.2h0M448.4 157.4h0M450.5 148.8h0M444.3 155.6h0M436.1 168.5h0M458.1 132.1h0M414.6 175.2h0M430.7 155.0h0M469.7 142.9h0M439.8 146.8h0M446.2 131.9h0M424.1 151.2h0M422.9 157.6h0M462.6 154.3h0M429.9 152.6h0M450.8 142.2h0M458.0 134.8h0M425.8 171.9h0M425.4 152.3h0M431.7 162.7h0M433.1 149.9h0M462.7 137.2h0M433.2 170.2h0M430.2 134.8h0M432.6 145.5h0M464.9 158.1h0M470.6 131.1h0M445.0 143.7h0M461.1 140.1h0M423.5 180.1h0M446.2 153.7h0M441.9 152.0h0M450.2 149.9h0M429.2 155.4h0M441.8 152.4h0M440.3 158.7h0M437.4 167.4h0M473.0 135.9h0M426.0 165.8h0M426.6 178.4h0M449.0 131.4h0M428.2 168.0h0M465.9 141.1h0M435.8 174.5h0M460.5 148.0h0M440.7 170.0h0M424.9 170.7h0M426.3 175.4h0M436.8 155.8h0M441.5 163.3h0M450.9 136.5h0M415.2 163.5h0M480.6 139.9h0M462.7 139.0h0M438.6 148.3h0M436.9 144.8h0M452.0 125.7h0M433.7 155.6h0M450.5 134.1h0M458.9 124.1h0M442.6 143.1h0M448.2 149.8h0M443.0 145.1h0M465.7 138.0h0M465.7 139.5h0M458.1 139.5h0M458.1 142.0h0M433.4 153.4h0M467.1 120.5h0M454.5 130.4h0M456.1 126.2h0M464.7 119.7h0M439.0 146.4h0M443.2 175.2h0M458.0 126.0h0M434.4 165.0h0M445.0 158.7h0M459.0 132.1h0M420.2 163.2h0M444.7 144.2h0M444.0 154.1h0M430.7 169.2h0M424.4 166.5h0M449.1 155.2h0M440.8 160.2h0M443.1 147.8h0M427.8 171.1h0M453.7 147.5h0M436.3 159.1h0M437.8 160.0h0M448.1 134.0h0M439.7 155.8h0M446.5 157.1h0M442.7 164.3h0M447.4 149.6h0M446.7 136.5h0M439.8 148.9h0M446.6 129.2h0M433.5 161.3h0M449.6 164.4h0M439.0 142.7h0M430.5 152.3h0M436.8 150.7h0M449.9 163.1h0M448.3 148.5h0M421.7 168.7h0M459.6 147.4h0M439.1 145.5h0M444.8 142.4h0M442.7 164.1h0M430.1 170.9h0M440.8 166.0h0M453.4 153.6h0M443.2 140.8h0M460.0 153.3h0M425.6 158.3h0M443.8 150.3h0M434.5 154.1h0M438.2 154.0h0M452.7 150.3h0M425.4 160.1h0M462.9 133.6h0M459.6 139.1h0M430.3 170.2h0M456.6 154.5h0M458.9 156.1h0M452.3 160.9h0M451.4 141.0h0M438.6 161.8h0M419.4 171.1h0M423.9 173.5h0M469.3 151.7h0M454.1 151.1h0M422.9 165.9h0M450.6 153.9h0M450.9 143.7h0M437.8 169.3h0M457.8 121.0h0M439.6 148.9h0M448.3 160.6h0M438.1 151.1h0M457.2 108.9h0M456.1 148.2h0M422.7 149.1h0M438.2 161.8h0M425.7 165.2h0M447.8 159.7h0M442.4 154.0h0M442.4 144.1h0M411.0 166.2h0M451.4 124.9h0M437.4 135.9h0M443.9 118.9h0M437.2 156.9h0M434.0 136.7h0M427.2 159.4h0M459.4 128.6h0M436.7 161.8h0M473.5 143.0h0M462.8 156.6h0M453.5 145.0h0M453.0 159.7h0M436.3 169.7h0M438.7 145.0h0M438.9 171.2h0M455.6 138.9h0M468.0 154.8h0M446.5 157.1h0M443.9 155.9h0M439.2 144.6h0M442.1 152.0h0M446.8 144.8h0M426.5 154.3h0M441.0 156.2h0M442.0 152.8h0M478.5 132.8h0M431.8 172.2h0M457.4 148.2h0M414.8 176.0h0M444.3 144.5h0M464.7 151.6h0M462.2 146.8h0M454.9 131.1h0M463.9 143.1h0M436.4 154.4h0M447.9 145.0h0M441.6 167.3h0M442.6 145.8h0M456.3 145.6h0M441.5 130.8h0M449.9 160.0h0M448.0 148.8h0M431.8 157.6h0M447.4 163.7h0M437.7 153.3h0M460.9 133.0h0M449.2 168.1h0M453.4 125.6h0M446.9 141.0h0M417.7 168.2h0M434.1 162.3h0M443.6 146.2h0M453.3 143.4h0M444.0 145.2h0M428.2 169.6h0M437.8 147.0h0M456.3 158.4h0M448.6 137.2h0M456.8 124.2h0M457.6 145.1h0M445.3 153.4h0M428.9 170.6h0M427.5 150.8h0M446.9 147.3h0M444.2 145.9h0M439.8 153.7h0M428.1 151.6h0M451.5 147.5h0M437.8 134.9h0M436.5 145.2h0M433.5 167.1h0M441.6 156.9h0M466.3 134.3h0M434.8 157.2h0M436.8 156.2h0M452.2 135.3h0M450.6 155.8h0M430.1 149.7h0M461.2 131.5h0M467.7 140.6h0M421.1 164.9h0M447.9 145.0h0M441.4 150.0h0M431.1 173.7h0M467.2 143.0h0M432.1 160.3h0M448.6 140.1h0M439.2 154.2h0M443.9 141.1h0M437.7 143.6h0M459.1 140.0h0M474.1 125.4h0M453.5 143.6h0M453.3 149.7h0M449.4 143.1h0M453.9 142.6h0M439.0 148.7h0M418.2 170.3h0M444.1 133.3h0M440.1 126.4h0M452.0 141.2h0M439.1 162.5h0M485.2 124.5h0M447.2 150.1h0M484.1 123.3h0M454.5 146.3h0M444.9 154.4h0M431.6 180.5h0M450.2 141.5h0M443.3 142.3h0M448.4 153.6h0M432.1 169.2h0M455.5 143.1h0M435.8 159.8h0M462.6 128.9h0M436.3 156.6h0M466.0 143.7h0M455.1 141.3h0M451.9 153.0h0M446.9 140.3h0M422.1 175.2h0M424.7 142.3h0M442.4 162.7h0M450.3 159.8h0M428.7 154.4h0M453.2 146.0h0M434.0 153.8h0M457.8 131.9h0M434.3 156.5h0M442.7 155.0h0M435.3 159.4h0M432.5 155.0h0M426.3 152.9h0M441.8 148.3h0M463.6 113.6h0M466.8 150.3h0M450.0 132.0h0M437.9 143.6h0M448.7 139.0h0M422.0 146.4h0M439.4 154.8h0M439.6 141.3h0M438.5 146.5h0M468.6 144.7h0M437.3 155.6h0M442.8 162.8h0M432.7 156.1h0M428.8 143.3h0M432.3 148.7h0M449.4 161.9h0M454.0 140.1h0M436.3 166.3h0M436.6 164.8h0M432.9 159.2h0M439.5 164.0h0M444.2 168.8h0M461.2 146.3h0M466.7 128.5h0M434.9 164.0h0M429.6 158.3h0M434.4 164.9h0M431.0 165.0h0M443.4 161.9h0M446.6 137.8h0M462.4 147.0h0M449.3 147.4h0M440.9 154.6h0M453.1 134.3h0M446.0 149.4h0M440.3 149.4h0M463.5 135.3h0M448.1 136.9h0M435.5 161.6h0M454.7 137.9h0M445.7 152.0h0M445.6 159.9h0M454.6 128.5h0M426.6 163.9h0M456.7 154.4h0M435.7 160.8h0M434.5 155.4h0M460.9 128.6h0M455.8 145.8h0M457.2 124.3h0M450.5 129.6h0M450.6 159.0h0M436.7 162.9h0M431.2 165.5h0M448.4 154.5h0M470.3 143.8h0M458.3 156.1h0M462.9 149.1h0M437.1 140.5h0M427.9 157.4h0M444.5 122.4h0M444.2 168.0h0M466.3 148.2h0M436.9 152.5h0M436.9 163.2h0M464.6 117.1h0M438.8 153.3h0M444.9 139.3h0M432.3 155.5h0M444.2 163.0h0M463.5 140.1h0M449.3 146.6h0M458.7 151.7h0M456.0 153.1h0M461.6 139.2h0M465.3 134.2h0M426.6 141.1h0M452.7 143.7h0M455.1 144.3h0M441.1 157.8h0M445.1 148.1h0M415.5 172.0h0M460.9 147.6h0M438.5 147.5h0M458.5 138.0h0M447.3 133.1h0M446.3 159.7h0M456.6 157.3h0M417.3 161.2h0M435.3 155.6h0M437.3 171.0h0M472.8 136.7h0M445.1 146.2h0M442.9 150.9h0M443.2 161.4h0M448.9 153.1h0M460.2 149.2h0M432.1 171.5h0M451.6 159.6h0M444.8 135.4h0M452.8 120.6h0M448.8 140.8h0M453.5 121.7h0M446.1 147.7h0M439.1 138.3h0M433.8 155.8h0M457.4 139.2h0M439.5 158.3h0M451.4 147.0h0M453.2 134.5h0M420.1 156.6h0M448.6 156.1h0M444.6 162.5h0M443.8 153.0h0M443.9 148.6h0M444.8 137.7h0M446.4 150.9h0M469.4 131.1h0M436.8 162.8h0M442.1 152.8h0M439.5 144.8h0M461.5 132.9h0M431.9 157.2h0M439.7 142.4h0M446.7 154.8h0M445.9 154.7h0M444.6 135.8h0M445.8 138.8h0M450.1 153.5h0M463.4 118.1h0M445.8 145.7h0M430.6 172.8h0M432.3 173.5h0M423.5 165.2h0M444.2 159.9h0M433.6 168.5h0M454.5 151.0h0M430.5 167.9h0M442.8 149.8h0M431.3 155.7h0M464.7 148.8h0M441.1 145.3h0M431.3 163.1h0M466.2 139.9h0M432.0 156.4h0M426.2 154.1h0M417.4 167.3h0M442.9 132.6h0M439.0 131.3h0M451.7 141.7h0M420.3 172.5h0M452.3 146.9h0M454.3 137.1h0M438.7 166.5h0M453.1 144.9h0M448.3 140.2h0M435.7 149.6h0M429.0 176.3h0M437.6 155.2h0M431.0 153.0h0M452.8 144.3h0M433.5 166.5h0M443.5 142.6h0M439.9 147.4h0M434.4 153.9h0M425.9 163.9h0M449.1 145.4h0M459.3 135.2h0M466.7 148.0h0M471.3 135.3h0M437.4 149.0h0M434.6 163.8h0M449.7 149.7h0M438.2 151.4h0M416.2 177.4h0M446.1 139.8h0M434.8 155.5h0M434.9 151.2h0M476.6 121.0h0M431.8 159.9h0M430.5 162.1h0M448.6 147.9h0M458.0 144.3h0M420.9 161.1h0M434.6 167.1h0M429.9 145.1h0M455.0 143.6h0M442.5 148.3h0M463.7 141.8h0M430.6 170.8h0M440.1 154.6h0M454.1 134.8h0M422.7 174.0h0M462.6 133.3h0M431.7 163.1h0M432.4 144.7h0M438.9 163.9h0M442.9 149.2h0M458.6 141.7h0M449.1 148.2h0M464.5 147.2h0M431.8 169.9h0M462.7 137.1h0M423.6 178.8h0M449.2 132.0h0M453.3 162.0h0M444.2 148.9h0M474.8 134.8h0M443.9 144.2h0M426.3 168.0h0M436.8 166.5h0M459.6 151.8h0M448.8 143.7h0M478.2 138.2h0M455.6 131.2h0M449.9 139.1h0M457.3 133.6h0M448.8 147.0h0M451.7 132.7h0M468.5 131.0h0M450.9 160.4h0M432.1 151.7h0M448.7 129.5h0M436.7 166.3h0M446.5 142.7h0M445.2 143.1h0M455.9 155.0h0M432.0 148.0h0M450.0 153.8h0M460.9 137.6h0M423.1 154.6h0M462.1 141.6h0M443.8 137.8h0M436.8 132.9h0M426.0 173.9h0M428.4 160.1h0M439.8 147.4h0M438.3 146.2h0M433.3 163.9h0M452.7 139.0h0M438.8 146.6h0M413.7 166.7h0M431.3 140.6h0M429.5 145.1h0M423.5 163.8h0M458.2 126.0h0M424.6 160.0h0M432.2 162.4h0M416.3 158.8h0M473.0 116.9h0M452.9 149.8h0M455.3 147.7h0M430.2 165.0h0M448.2 137.7h0M429.9 144.9h0M459.3 140.6h0M431.5 150.7h0M447.1 148.1h0M439.2 147.9h0M444.9 164.6h0M434.2 153.7h0M435.9 154.2h0M427.8 159.2h0M437.7 159.9h0M437.3 160.3h0M457.1 132.9h0M440.4 170.0h0M425.6 160.7h0M459.6 118.3h0M422.2 162.7h0M443.1 135.7h0M433.2 166.8h0M445.7 150.9h0M441.4 156.1h0M453.7 165.4h0M447.5 161.5h0M422.9 175.8h0M426.5 146.5h0M432.7 167.1h0M449.5 150.3h0M462.6 106.1h0M452.2 147.9h0M438.9 157.9h0M436.9 141.8h0M433.4 149.3h0M465.9 150.7h0M458.0 145.8h0M452.6 140.7h0M455.9 142.6h0M450.6 154.3h0M439.2 153.2h0M444.2 161.9h0M429.3 161.9h0M430.9 161.9h0M452.3 135.9h0M427.8 163.3h0M448.7 149.0h0M436.3 133.9h0M437.1 144.2h0M433.9 169.3h0M433.7 157.0h0M423.7 166.2h0M458.0 132.1h0M443.1 165.3h0M435.9 154.7h0M445.4 150.4h0M452.1 162.7h0M446.8 147.6h0M449.5 125.3h0M456.4 149.5h0M445.5 149.9h0M439.5 162.4h0M442.6 127.1h0M434.7 173.1h0M420.9 177.3h0M450.5 148.5h0M452.1 149.1h0M447.3 133.8h0M454.2 156.2h0M436.0 159.3h0M466.8 148.4h0M437.3 164.5h0M449.3 133.6h0M454.8 139.8h0M437.4 164.1h0M456.4 129.6h0M450.4 140.8h0M460.9 126.2h0M447.0 155.0h0M429.5 168.2h0M416.8 172.1h0M445.3 123.2h0M431.6 155.3h0M467.5 150.8h0M439.0 169.5h0M443.3 139.5h0M425.0 173.6h0M452.0 157.5h0M467.0 143.2h0M433.5 172.4h0M453.2 144.8h0M442.4 149.7h0M456.9 148.2h0M436.4 165.8h0M439.6 164.4h0M449.2 144.4h0M427.0 166.5h0M448.3 128.6h0M423.2 166.3h0M460.7 136.5h0M433.2 159.4h0M457.9 144.1h0M430.5 157.6h0M465.5 138.2h0M453.8 146.7h0M425.9 160.6h0M459.4 126.7h0M440.9 158.5h0M461.2 154.6h0M443.7 168.1h0M443.2 164.5h0M449.8 149.6h0M458.8 150.9h0M446.9 146.1h0M453.1 139.5h0M449.9 144.6h0M422.5 170.3h0M449.2 150.7h0M427.6 162.7h0M445.3 163.9h0M448.8 158.2h0M430.5 154.7h0M444.9 137.1h0M456.1 137.7h0M431.9 153.6h0M455.3 136.1h0M438.1 164.3h0M478.1 139.1h0M451.4 130.6h0M441.6 143.2h0M444.8 154.8h0M437.5 162.8h0M438.9 153.9h0M456.9 136.9h0M442.7 143.4h0M428.3 172.4h0M440.3 143.3h0M437.6 170.9h0M432.4 167.3h0M443.3 142.4h0M447.2 155.9h0M447.5 157.9h0M440.5 145.0h0M425.0 155.4h0M444.8 149.2h0M435.1 150.7h0M424.5 158.3h0M478.4 128.0h0M454.3 156.6h0M442.5 171.3h0M428.8 163.6h0M445.1 155.3h0M433.4 149.4h0M472.2 141.9h0M456.6 143.1h0M457.4 150.1h0M444.1 141.0h0M428.7 160.5h0M436.2 170.9h0M425.9 167.7h0M457.2 156.7h0M452.6 145.0h0M438.0 155.7h0M438.5 148.8h0M439.0 163.8h0M442.9 174.3h0M455.0 127.1h0M448.1 136.7h0M444.9 152.7h0M456.9 152.0h0M436.2 150.5h0M414.1 178.3h0M436.8 150.7h0M464.0 151.4h0M437.9 163.1h0M458.6 146.6h0M458.7 150.1h0M440.4 169.9h0M452.2 140.0h0M447.2 137.6h0M432.9 180.2h0M449.2 137.2h0M438.3 172.9h0M454.4 156.6h0M433.5 142.9h0M436.0 153.4h0M438.1 167.4h0M447.4 155.6h0M451.8 149.3h0M449.6 126.2h0M449.2 156.4h0M467.6 143.7h0M461.3 147.1h0M470.2 150.1h0M434.0 163.5h0M423.3 170.0h0M454.5 150.8h0M445.6 158.2h0M448.2 159.1h0M475.4 136.0h0M417.7 161.1h0M436.1 149.4h0M453.2 152.6h0M450.6 157.6h0M442.2 140.7h0M446.2 146.3h0M444.0 156.8h0M426.2 164.3h0M438.9 167.6h0M462.7 143.8h0M448.2 163.2h0M446.2 166.1h0M452.3 145.4h0M456.7 143.8h0M453.3 137.9h0M483.9 135.6h0M458.1 132.8h0M444.1 159.2h0M435.8 147.8h0M444.8 120.2h0M439.1 166.2h0M426.2 175.6h0M460.8 128.6h0M448.4 150.2h0M447.1 138.9h0M452.4 152.1h0M418.8 166.4h0M431.8 172.4h0M437.3 157.9h0M457.5 139.5h0M441.8 162.1h0M436.6 145.4h0M446.7 166.4h0M457.6 136.4h0M422.5 160.0h0M479.0 132.1h0M455.0 166.2h0M414.1 180.0h0M450.1 151.9h0M441.8 163.9h0M456.4 140.5h0M457.4 147.3h0M448.2 161.5h0M429.3 159.5h0M444.0 142.4h0M451.5 157.6h0M459.6 134.2h0M431.9 162.6h0M430.0 148.9h0M445.5 150.7h0M427.6 170.8h0M467.4 131.9h0M440.9 152.4h0M434.5 158.4h0M430.4 167.0h0M428.5 147.2h0M463.4 146.6h0M443.5 152.3h0M447.5 163.0h0M452.0 154.3h0M442.4 157.9h0M463.3 153.7h0M444.9 137.1h0M453.9 123.0h0M458.8 178.8h0M454.2 142.4h0M447.0 159.8h0M438.8 143.3h0M476.1 136.8h0M428.6 168.1h0M470.2 143.8h0M423.4 155.9h0M451.6 148.2h0M434.7 145.0h0M454.9 143.2h0M429.1 147.3h0M461.6 137.9h0M432.5 158.2h0M477.0 138.5h0M438.5 160.7h0M456.7 136.5h0M455.6 133.4h0M481.5 145.7h0M436.2 170.4h0M450.2 163.8h0M434.5 152.6h0M471.8 146.1h0M445.8 146.8h0M453.8 150.7h0M443.5 134.4h0M436.1 151.3h0M469.0 121.1h0M466.7 136.1h0M459.7 130.2h0M482.2 117.3h0M432.9 146.6h0M456.2 144.8h0M432.7 166.6h0M441.0 159.6h0M440.9 168.9h0M449.5 151.1h0M414.8 180.6h0M424.1 176.9h0M441.3 162.5h0M458.2 154.1h0M432.5 144.4h0M438.4 159.1h0M454.2 141.4h0M452.5 141.3h0M450.9 104.9h0M439.5 140.6h0M447.6 142.0h0M436.8 162.6h0M429.7 147.5h0M450.5 133.4h0M469.7 127.2h0M459.4 137.9h0M424.3 162.2h0M449.1 134.1h0M467.7 148.6h0M460.2 145.0h0M435.6 143.9h0M444.3 160.2h0M430.8 164.4h0M457.1 129.5h0M422.0 157.3h0M447.5 142.2h0M439.9 145.8h0M448.9 151.5h0M453.5 145.6h0M434.8 169.5h0M454.4 142.7h0M431.6 164.7h0M436.3 163.2h0M423.7 161.4h0M445.9 150.2h0M443.8 134.8h0M477.9 139.9h0M459.5 147.8h0M448.3 150.9h0M439.8 164.0h0M445.8 154.0h0M432.7 157.5h0M440.7 133.5h0M463.1 122.4h0M441.5 153.2h0M445.9 137.8h0M437.8 160.3h0M460.3 145.1h0M464.5 147.4h0M436.0 156.9h0M454.3 131.0h0M443.4 161.1h0M454.0 151.0h0M451.2 124.8h0M430.5 156.9h0M452.1 134.3h0M435.1 163.5h0M474.4 144.8h0M454.3 143.2h0M442.2 158.0h0M456.6 148.1h0M467.6 145.3h0M444.2 146.7h0M436.5 163.0h0M434.5 166.0h0M449.9 138.7h0M423.7 169.6h0M432.0 171.6h0M444.9 148.0h0M428.3 165.4h0M442.6 149.7h0M446.9 157.7h0M415.2 169.6h0M463.7 122.4h0M448.2 149.6h0M445.3 153.8h0M430.3 164.4h0M441.9 157.0h0M426.8 163.4h0M434.9 158.4h0M440.7 157.1h0M455.2 157.8h0M476.9 119.5h0M428.1 135.9h0M445.0 160.1h0M444.9 123.1h0M451.7 150.9h0M433.8 163.3h0M443.6 156.3h0M464.4 153.7h0M425.2 147.4h0M443.0 135.5h0M428.0 176.3h0M446.4 135.4h0M469.3 129.6h0M426.3 162.0h0M427.5 160.2h0M453.8 147.2h0M442.9 145.2h0M446.7 147.9h0M437.2 167.3h0M426.1 155.5h0M433.7 166.8h0M444.7 131.3h0M460.1 139.8h0M464.3 142.6h0M422.8 148.9h0M441.2 143.8h0M447.8 148.7h0M481.6 138.3h0M434.9 151.5h0M452.3 122.5h0M412.3 171.5h0M455.1 126.3h0M428.0 161.8h0M434.8 153.0h0M455.3 150.6h0M428.3 159.6h0M456.5 141.4h0M449.6 154.6h0M444.5 168.3h0M440.5 148.9h0M457.7 142.7h0M438.5 152.6h0M435.6 145.1h0M419.0 175.9h0M429.6 164.4h0M456.7 141.0h0M441.2 149.3h0M441.0 135.7h0M452.4 138.1h0M443.7 142.3h0M445.1 152.9h0M448.6 137.8h0M463.1 151.2h0M463.0 137.9h0M435.8 154.0h0M440.0 140.9h0M443.6 134.7h0M443.1 153.4h0M453.4 152.5h0M455.7 136.8h0M465.1 125.4h0M441.7 150.3h0M450.6 154.1h0M454.3 141.3h0M444.4 142.5h0M458.4 141.6h0M442.3 136.4h0M458.3 140.7h0M455.3 145.6h0M453.9 154.1h0M446.3 154.1h0M440.5 159.5h0M441.8 143.2h0M453.9 124.0h0M447.4 153.2h0M465.4 158.8h0M445.3 157.9h0M443.8 155.8h0M463.6 127.3h0M425.9 165.3h0M457.5 137.9h0M433.4 168.6h0M455.5 150.1h0M439.6 151.4h0M447.7 140.1h0M449.0 158.9h0M431.9 151.7h0M447.8 165.2h0M456.0 141.0h0M454.2 145.4h0M487.6 119.3h0M454.1 120.3h0M454.8 135.6h0M446.6 142.6h0M443.8 161.7h0M461.2 137.3h0M442.2 140.5h0M440.7 164.0h0M440.7 158.6h0M462.5 133.8h0M488.2 116.0h0M441.9 153.8h0M425.3 166.6h0M444.7 167.8h0M455.7 142.6h0M440.8 151.4h0M438.5 148.1h0M462.8 137.9h0M440.4 135.2h0M449.2 159.2h0M452.4 156.5h0M436.3 164.2h0M432.3 146.9h0M460.4 110.9h0M411.8 171.4h0M486.9 139.7h0M424.9 164.9h0M443.1 127.4h0M419.2 177.3h0M464.4 132.9h0M444.2 161.9h0M428.0 162.7h0M420.1 149.9h0M452.2 136.6h0M455.4 149.9h0M434.4 164.2h0M425.7 164.4h0M455.2 153.4h0M427.7 154.4h0M476.3 145.5h0M462.5 166.0h0M435.0 155.4h0M431.9 168.3h0M433.7 166.9h0M443.4 131.2h0M424.0 154.3h0M455.8 143.1h0M447.2 152.8h0M455.8 150.8h0M435.0 148.1h0M447.4 154.3h0M431.4 178.1h0M446.5 152.4h0M439.7 165.7h0M454.7 147.9h0M419.9 169.5h0M443.9 149.5h0M475.5 115.2h0M451.1 148.6h0M424.6 158.3h0M421.5 166.5h0M443.8 143.1h0M453.6 144.3h0M435.8 154.2h0M442.9 164.3h0M438.9 168.3h0M440.2 169.8h0M430.6 166.2h0M444.9 149.4h0M444.9 157.6h0M443.9 148.4h0M437.6 158.1h0M456.3 148.6h0M443.9 148.3h0M425.7 169.2h0M497.0 120.1h0M417.8 180.6h0M447.9 135.0h0M453.7 139.3h0M436.9 169.2h0M425.8 159.0h0M447.0 150.2h0M453.2 164.2h0M438.0 144.7h0M451.5 132.5h0M449.1 137.8h0M440.0 144.5h0M444.5 129.5h0M449.1 161.9h0M450.5 145.6h0M464.7 111.1h0M437.9 166.9h0M443.7 148.0h0M440.3 146.2h0M436.1 159.8h0M453.7 140.5h0M447.9 149.9h0M437.3 152.0h0M442.8 162.2h0M451.5 140.7h0M454.5 155.7h0M462.7 134.7h0M480.4 150.0h0M440.1 132.1h0M442.9 147.7h0M461.2 150.9h0M454.2 147.5h0M437.0 167.6h0M471.3 135.5h0M435.5 161.1h0M458.7 141.0h0M460.9 117.8h0M435.7 143.8h0M469.9 148.2h0M442.2 138.7h0M447.2 148.5h0M460.9 143.9h0M471.3 126.6h0M424.5 169.2h0M447.1 136.6h0M433.4 140.2h0M446.1 155.9h0M460.0 132.5h0M424.9 170.0h0M419.7 160.5h0M445.9 133.3h0M455.8 124.4h0M428.1 155.9h0M446.2 142.8h0M450.5 136.4h0M467.8 132.0h0M423.6 172.3h0M421.2 161.9h0M463.3 133.6h0M436.5 145.7h0M448.5 154.7h0M444.1 150.3h0M447.2 146.1h0M462.8 151.4h0M462.6 158.1h0M435.8 152.6h0M434.3 149.0h0M457.9 147.6h0M435.9 147.9h0M445.0 137.3h0M436.3 156.7h0M441.6 150.9h0M425.9 160.9h0M437.9 161.7h0M459.7 156.2h0M418.7 177.3h0M468.7 134.8h0M425.5 161.4h0M443.9 152.7h0M425.7 157.2h0M451.6 159.5h0M443.0 140.2h0M449.5 144.8h0M435.9 160.3h0M435.0 157.1h0M447.3 134.3h0M438.5 161.7h0M434.2 151.2h0M432.8 133.4h0M457.2 153.7h0M445.7 152.7h0M436.9 159.4h0M454.8 144.4h0M445.7 157.4h0M459.1 144.8h0M444.2 152.6h0M440.8 150.6h0M461.6 125.7h0M441.1 156.6h0M439.6 134.0h0M448.5 142.0h0M439.3 152.6h0M424.6 140.2h0M462.2 132.0h0M462.2 134.9h0M461.4 148.3h0M448.3 160.3h0M461.1 129.8h0M437.9 142.5h0M426.7 157.2h0M451.9 153.0h0M449.1 143.5h0M457.6 141.4h0M447.4 140.5h0M459.5 153.8h0M435.0 162.4h0M459.2 152.6h0M437.5 161.1h0M426.0 147.9h0M441.2 165.0h0M437.5 150.8h0M446.4 149.7h0M445.2 143.8h0M445.1 129.1h0M451.1 154.5h0M456.7 150.6h0M434.0 153.2h0M439.8 123.2h0M461.4 144.8h0M445.4 158.7h0M438.8 163.2h0M459.8 122.7h0M473.3 119.4h0M449.8 151.9h0M445.8 129.1h0M451.2 145.9h0M434.1 145.2h0M452.5 157.9h0M460.4 142.6h0M444.0 149.2h0M480.2 123.6h0M420.3 171.6h0M433.4 169.1h0M445.6 151.6h0M428.2 146.5h0M435.4 168.3h0M451.7 144.0h0M451.8 135.7h0M448.0 146.5h0M444.3 154.6h0M432.7 136.5h0M427.9 171.1h0M432.1 158.8h0M468.7 144.3h0M440.1 162.4h0M437.7 153.7h0M432.9 157.2h0M433.2 148.7h0M453.8 163.8h0M458.9 155.9h0M455.6 117.1h0M469.3 121.0h0M446.4 147.4h0M417.4 167.1h0M431.8 163.8h0M434.2 152.0h0M442.8 148.4h0M464.1 131.5h0M449.3 132.2h0M459.2 151.4h0M470.7 82.9h0M431.5 167.0h0M454.5 143.9h0M442.1 143.6h0M443.7 156.2h0M428.4 151.9h0M444.8 151.1h0M480.7 148.5h0M458.1 137.7h0M454.3 146.3h0M425.5 156.2h0M467.5 123.0h0M451.7 142.7h0M449.3 140.7h0M434.8 157.4h0M448.1 148.3h0M449.8 148.1h0M451.3 162.7h0M434.5 152.8h0M446.6 149.1h0M447.3 130.0h0M425.7 162.2h0M463.2 139.9h0M440.4 165.1h0M438.2 154.8h0M435.0 172.2h0M471.8 118.8h0M465.1 126.1h0M438.5 169.9h0M435.9 165.4h0M438.0 159.1h0M438.1 145.9h0M438.1 140.5h0M436.1 160.7h0M447.8 161.9h0M434.0 167.2h0M444.0 151.1h0M460.7 140.0h0M445.1 146.7h0M450.4 161.1h0M436.5 155.5h0M475.0 132.8h0M443.3 161.0h0M424.4 177.6h0M441.2 170.3h0M419.1 176.8h0M438.4 151.4h0M443.0 143.1h0M451.5 122.9h0M457.9 135.3h0M434.7 158.8h0M455.9 151.4h0M458.6 142.9h0M438.3 158.9h0M440.2 147.0h0M462.7 140.7h0M447.7 165.2h0M451.7 150.3h0M452.4 137.8h0M436.9 150.2h0M466.1 120.6h0M438.4 169.7h0M428.9 159.3h0M431.4 151.6h0M455.4 135.9h0M457.7 155.1h0M448.3 155.7h0M440.8 146.0h0M463.9 134.8h0M431.8 166.7h0M442.4 160.7h0M459.2 128.9h0M445.7 144.5h0M454.2 156.8h0M449.2 169.9h0M461.1 137.1h0M460.5 147.0h0M441.1 128.7h0M455.2 143.7h0M461.1 135.4h0M434.1 161.8h0M448.5 146.6h0M439.0 148.3h0M435.3 148.4h0M458.9 127.3h0M460.2 147.6h0M448.3 166.8h0M460.7 146.1h0M448.9 151.7h0M440.1 133.1h0M440.9 169.6h0M450.8 153.3h0M438.1 149.6h0M446.9 157.8h0M444.6 159.2h0M452.9 144.2h0M469.3 157.6h0M452.7 144.9h0M440.1 157.7h0M427.2 175.4h0M433.4 156.1h0M445.6 140.3h0M445.7 155.4h0M425.2 168.0h0M455.2 143.8h0M443.2 141.7h0M437.3 157.7h0M428.9 163.1h0M434.9 148.6h0M442.2 159.7h0M438.1 155.8h0M441.8 160.1h0M429.1 175.2h0M434.8 141.7h0M442.8 144.2h0M470.7 125.9h0M430.9 158.9h0M448.8 156.6h0M438.0 154.5h0M426.0 179.8h0M485.2 97.3h0M441.2 141.7h0M438.0 141.9h0M449.6 144.2h0M447.3 133.0h0M454.2 156.3h0M428.0 170.3h0M452.6 140.6h0M438.4 156.6h0M436.5 151.8h0M446.4 142.8h0M431.6 141.1h0M459.1 132.5h0M453.5 142.8h0M438.2 136.3h0M435.3 135.7h0M428.5 155.9h0M463.4 131.1h0M460.7 141.1h0M438.7 173.3h0M448.8 144.7h0M424.4 160.2h0M454.3 140.6h0M451.7 137.7h0M447.8 148.5h0M449.1 156.5h0M431.9 149.7h0M439.0 153.2h0M446.4 161.7h0M436.5 157.5h0M451.0 142.0h0M474.2 140.2h0M472.5 125.9h0M426.1 164.0h0M451.3 161.8h0M433.9 159.8h0M417.7 165.4h0M456.4 149.0h0M453.1 143.4h0M420.9 170.5h0M456.3 154.4h0M450.8 166.2h0M437.9 155.4h0M436.5 143.4h0M439.3 168.3h0M471.0 119.8h0M426.4 171.3h0M423.7 175.4h0M454.2 155.3h0M450.1 144.4h0M463.3 157.1h0M453.1 146.7h0M431.9 167.9h0M445.6 153.4h0M441.0 156.0h0M435.3 149.9h0M452.9 156.5h0M442.2 140.2h0M432.2 167.0h0M442.1 139.9h0M440.8 166.0h0M446.3 161.3h0M467.8 163.7h0M431.0 155.5h0M462.7 130.6h0M424.3 163.7h0M473.9 137.6h0M449.0 151.5h0M450.1 154.5h0M427.2 157.2h0M428.6 159.0h0M437.6 138.1h0M437.2 167.6h0M431.8 180.9h0M423.4 168.4h0M435.3 150.0h0M437.3 150.4h0M432.5 177.1h0M431.2 152.1h0M436.9 164.2h0M432.1 162.7h0M427.4 154.2h0M430.3 180.4h0M435.4 156.7h0M472.1 116.1h0M428.8 153.4h0M448.8 154.4h0M452.4 159.9h0M421.9 169.2h0M452.4 148.0h0M435.2 169.1h0M424.4 174.1h0M434.5 151.5h0M451.7 154.2h0M458.3 146.7h0M455.3 154.6h0M439.2 163.8h0M445.6 139.7h0M453.7 146.7h0M478.2 150.5h0M448.1 149.7h0M442.4 144.2h0M423.2 154.6h0M452.3 157.0h0M471.5 142.2h0M458.3 142.9h0M445.4 166.3h0M420.3 169.1h0M438.0 157.7h0M453.5 146.8h0M441.3 150.0h0M458.2 131.3h0M471.7 146.1h0M461.6 149.2h0M448.7 143.5h0M430.6 173.2h0M424.4 158.1h0M444.8 137.5h0M446.5 148.0h0M455.8 146.3h0M451.9 144.8h0M435.7 135.1h0M441.2 140.5h0M475.8 162.7h0M451.4 133.9h0M433.5 131.1h0M468.5 128.7h0M429.8 159.0h0M461.3 112.3h0M443.8 150.4h0M459.1 130.0h0M425.5 159.1h0M449.0 146.0h0M429.2 159.4h0M436.6 157.5h0M432.1 170.8h0M451.5 150.7h0M450.3 168.4h0M443.5 150.8h0M465.5 132.1h0M452.8 141.7h0M428.9 157.6h0M449.3 146.1h0M445.4 151.4h0M451.3 161.1h0M432.3 151.8h0M441.3 169.6h0M451.4 154.2h0M460.8 131.3h0M434.0 160.2h0M452.1 144.8h0M442.7 159.7h0M434.5 150.9h0M435.8 153.9h0M442.3 151.5h0M439.2 167.2h0M444.2 148.9h0M429.0 168.8h0M450.4 126.9h0M447.9 142.8h0M435.7 144.9h0M445.9 140.6h0M438.5 163.9h0M445.6 143.4h0M455.4 157.5h0M437.7 161.7h0M461.2 139.0h0M454.7 149.8h0M474.2 130.6h0M449.9 124.0h0M452.6 147.1h0M465.1 133.8h0M449.2 162.5h0M449.6 144.4h0M442.6 154.2h0M430.1 167.0h0M438.2 145.6h0M464.2 117.1h0M438.8 150.8h0M451.1 134.9h0M422.6 151.9h0M470.0 159.0h0M443.5 142.3h0M446.1 164.5h0M441.9 141.0h0M442.4 152.6h0M435.4 162.9h0M430.1 176.3h0M436.6 154.5h0M442.5 138.2h0M422.4 166.6h0M442.2 145.5h0M451.5 118.6h0M453.3 141.3h0M454.0 141.6h0M439.3 146.3h0M424.2 172.7h0M433.9 132.8h0M450.3 138.5h0M444.0 154.4h0M428.6 157.9h0M451.9 148.0h0M431.4 159.7h0M459.0 126.3h0M434.9 127.5h0M448.6 151.4h0M432.5 155.6h0M431.8 158.0h0M413.7 177.4h0M447.6 147.5h0M423.3 171.4h0M447.5 149.3h0M446.9 150.3h0M442.4 151.0h0M447.6 152.0h0M442.6 138.5h0M475.1 142.4h0M428.2 146.9h0M434.3 135.0h0M440.7 150.3h0M456.1 130.8h0M465.0 151.6h0M444.5 139.1h0M444.5 143.9h0M456.1 124.5h0M466.9 149.3h0M453.1 148.6h0M456.1 135.3h0M444.4 139.8h0M459.3 151.6h0M451.7 122.9h0M439.8 166.3h0M430.2 156.4h0M446.6 149.4h0M437.2 159.6h0M448.3 147.3h0M439.4 147.8h0M446.2 173.4h0M437.4 146.5h0M437.9 139.3h0M445.4 139.7h0M436.5 162.6h0M442.4 142.4h0M448.8 141.8h0M441.7 157.9h0M434.5 165.9h0M444.3 157.6h0M474.5 118.4h0M466.2 143.8h0M448.5 131.8h0M449.2 150.1h0M438.9 168.7h0M469.0 137.4h0M449.8 158.4h0M430.0 160.9h0M452.8 120.8h0M456.1 147.9h0M451.6 138.6h0M467.7 135.8h0M435.6 159.4h0M435.1 162.2h0M451.2 110.9h0M485.9 129.7h0M459.5 154.8h0M429.2 171.6h0M430.6 148.2h0M444.8 142.9h0M426.9 174.1h0M437.2 171.3h0M443.1 151.3h0M436.8 140.6h0M459.3 126.6h0M451.8 151.9h0M455.3 127.1h0M451.2 169.9h0M448.3 163.2h0M441.9 162.8h0M445.9 132.8h0M472.4 129.3h0M445.1 139.3h0M460.4 150.0h0M442.4 131.6h0M431.7 156.3h0M441.0 148.5h0M428.4 160.8h0M434.7 162.6h0M471.6 158.4h0M434.5 152.6h0M428.2 165.5h0M442.0 163.8h0M435.6 168.0h0M443.4 161.3h0M467.8 150.3h0M455.8 147.4h0M441.4 142.7h0M438.9 144.7h0M453.2 146.6h0M445.1 155.9h0M438.6 151.9h0M449.9 151.1h0M441.2 154.0h0M434.7 151.3h0M450.2 158.1h0M434.0 144.7h0M445.2 158.2h0M450.6 142.8h0M432.1 160.2h0M421.3 147.5h0M448.5 137.8h0M449.0 154.6h0M443.4 136.7h0M446.9 157.6h0M466.4 146.2h0M484.4 130.8h0M438.9 156.1h0M445.9 154.7h0M427.2 159.7h0M446.7 156.1h0M440.1 146.0h0M439.4 136.3h0M442.6 153.9h0M443.5 151.0h0M434.8 156.6h0M434.0 153.9h0M466.6 142.4h0M464.8 137.8h0M465.0 126.4h0M479.2 131.8h0M453.7 130.1h0M436.5 165.6h0M433.2 152.4h0M450.3 165.7h0M427.0 137.4h0M447.5 155.5h0M455.1 144.0h0M438.9 158.1h0M413.5 179.2h0M426.1 157.0h0M446.1 141.5h0M457.8 146.4h0M441.6 155.0h0M457.8 144.5h0M461.9 142.5h0M442.6 132.9h0M415.8 170.8h0M450.3 152.6h0M434.3 151.6h0M452.8 158.9h0M446.4 156.6h0M438.7 155.4h0M429.7 153.4h0M442.0 172.8h0M416.2 168.2h0M453.4 142.3h0M429.4 146.3h0M436.2 152.3h0M469.7 144.8h0M428.3 151.8h0M446.7 142.6h0M456.8 134.6h0M430.7 155.6h0M444.4 147.6h0M423.1 156.4h0M448.2 124.8h0M438.3 156.7h0M447.8 123.7h0M442.2 129.4h0M456.2 143.1h0M445.6 156.4h0M435.1 146.8h0M458.1 137.0h0M448.2 142.1h0M432.7 163.9h0M463.0 144.1h0M442.4 151.3h0M450.5 131.1h0M441.6 150.4h0M460.1 131.0h0M442.8 164.9h0M458.3 138.6h0M443.8 147.2h0M449.5 141.9h0M451.1 162.1h0M455.0 151.7h0M467.0 135.2h0M448.5 124.3h0M430.5 158.0h0M424.3 154.2h0M449.8 151.7h0M437.1 159.4h0M453.4 147.4h0M442.5 153.5h0M440.3 151.0h0M455.7 157.5h0M444.3 150.7h0M434.8 137.5h0M446.8 161.1h0M432.2 156.2h0M452.0 145.1h0M447.1 149.1h0M453.0 138.1h0M428.5 173.2h0M460.6 141.2h0M429.1 161.1h0M445.9 142.8h0M450.3 145.0h0M434.3 158.8h0M455.8 145.9h0M420.8 167.9h0M460.2 144.7h0M463.5 139.7h0M446.8 149.2h0M430.1 165.9h0M453.3 153.5h0M449.4 143.1h0M435.8 146.7h0M441.4 167.5h0M423.9 151.1h0M443.5 152.0h0M448.3 144.4h0M456.4 148.4h0M432.6 158.2h0M464.5 144.7h0M445.5 162.2h0M434.2 157.0h0M453.3 150.8h0M448.6 151.1h0M444.9 150.4h0M460.1 131.4h0M434.2 167.7h0M441.9 150.8h0M426.9 171.7h0M435.4 145.8h0M426.7 167.9h0M460.7 156.1h0M467.2 128.5h0M448.3 152.0h0M442.2 152.2h0M439.4 162.9h0M452.0 150.5h0M477.5 132.5h0M441.7 165.6h0M438.1 164.8h0M432.1 158.4h0M441.3 138.1h0M445.6 153.6h0M439.6 147.1h0M427.5 151.4h0M426.2 168.0h0M442.5 142.8h0M444.7 153.4h0M437.1 176.4h0M435.6 159.8h0M434.2 158.9h0M445.7 156.6h0M455.1 122.4h0M436.3 152.4h0M450.2 128.1h0M447.5 148.3h0M435.5 164.8h0M465.4 135.6h0M450.9 150.8h0M430.3 172.0h0M433.5 145.7h0M455.4 133.8h0M464.0 143.3h0M453.3 148.5h0M434.1 161.2h0M450.1 159.0h0M461.4 125.2h0M455.5 141.7h0M459.5 131.4h0M429.7 157.8h0M440.8 166.8h0M451.7 145.7h0M446.3 145.0h0M448.9 155.0h0M423.3 163.1h0M450.7 139.6h0M436.5 148.4h0M437.8 166.5h0M449.1 153.3h0M452.8 107.3h0M442.6 148.4h0M435.2 152.9h0M438.0 135.6h0M455.0 113.8h0M448.0 146.3h0M449.0 152.0h0M447.3 164.5h0M470.7 127.7h0M449.2 137.8h0M451.3 147.3h0M463.8 154.6h0M437.9 153.4h0M438.0 159.6h0M447.6 149.9h0M446.7 137.9h0M443.6 158.4h0M459.0 124.5h0M429.7 163.3h0M412.2 175.5h0M448.8 152.0h0M463.3 162.8h0M437.0 140.5h0M435.3 163.0h0M440.9 155.5h0M474.4 133.5h0M421.5 181.8h0M451.0 155.1h0M442.9 133.9h0M427.8 151.3h0M450.8 163.0h0M465.0 131.1h0M419.8 178.5h0M435.9 169.6h0M430.5 159.3h0M449.2 148.7h0M458.0 157.7h0M452.4 165.7h0M464.3 143.4h0M453.9 139.4h0M445.2 157.6h0M422.1 167.6h0M439.2 171.4h0M451.4 143.4h0M449.8 152.1h0M471.0 160.9h0M458.9 157.3h0M457.6 133.4h0M444.1 144.4h0M449.5 139.5h0M427.9 147.4h0M458.1 133.6h0M462.3 119.6h0M440.0 164.7h0M442.8 152.6h0M435.8 160.6h0M432.1 160.5h0M444.4 136.0h0M449.2 156.8h0M440.3 171.4h0M442.2 148.6h0M442.9 146.7h0M438.1 161.0h0M435.9 160.5h0M440.9 159.4h0M459.0 144.3h0M441.8 141.0h0M432.6 152.9h0M436.0 149.8h0M417.7 180.5h0M436.4 153.5h0M446.6 148.8h0M440.9 148.5h0M425.4 153.3h0M440.6 137.8h0M447.8 147.9h0M440.2 154.8h0M462.4 123.4h0M456.4 136.0h0M453.4 133.8h0M448.9 152.8h0M449.9 157.7h0M437.2 145.8h0M451.5 163.5h0M429.9 150.6h0M454.2 152.5h0M428.7 165.7h0M415.8 168.2h0M452.4 139.9h0M453.4 155.3h0M440.6 133.1h0M447.7 149.9h0M413.5 176.1h0M460.6 120.9h0M440.5 142.1h0M434.2 163.3h0M445.7 137.3h0M461.6 133.1h0M457.1 145.3h0M441.8 156.9h0M451.4 130.4h0M429.9 156.9h0M448.3 160.2h0M442.6 152.4h0M450.4 141.0h0M434.8 158.8h0M440.6 134.2h0M439.3 162.9h0M433.5 143.8h0M443.4 156.9h0M436.0 152.8h0M471.7 143.7h0M456.1 140.7h0M437.2 136.9h0M446.0 162.3h0M454.4 155.4h0M498.0 113.1h0M436.4 147.8h0M436.5 158.6h0M434.2 132.9h0M432.1 171.7h0M447.9 144.5h0M431.0 168.6h0M442.2 138.1h0M443.6 144.3h0M447.4 139.3h0M439.3 144.8h0M440.9 159.6h0M433.4 142.7h0M448.7 138.9h0M437.5 155.8h0M448.7 154.9h0M437.2 157.7h0M436.6 167.9h0M455.4 159.7h0M441.9 151.8h0M428.2 155.0h0M435.6 150.7h0M421.8 180.2h0M438.5 144.0h0M436.7 165.2h0M459.0 157.4h0M437.4 161.7h0M456.2 121.4h0M468.6 142.6h0M458.5 145.3h0M445.2 169.4h0M449.0 148.1h0M450.5 137.4h0M449.9 149.3h0M463.5 127.6h0M433.5 128.0h0M455.5 151.8h0M448.3 154.2h0M466.9 154.9h0M443.9 162.9h0M433.3 162.4h0M439.2 165.7h0M432.7 157.2h0M437.8 144.6h0M439.8 140.2h0M442.7 139.8h0M442.6 165.4h0M419.7 172.1h0M437.3 157.7h0M462.4 120.4h0M427.1 153.3h0M420.0 168.1h0M465.3 155.8h0M449.8 129.8h0M458.5 128.2h0M461.1 146.5h0M433.8 153.6h0M441.8 142.3h0M443.5 143.2h0M454.1 144.2h0M457.3 139.0h0M433.2 163.0h0M439.4 159.5h0M439.5 158.6h0M429.5 166.4h0M444.6 144.0h0M454.7 145.9h0M439.4 159.4h0M448.6 136.9h0M443.2 139.1h0M442.9 160.1h0M461.6 147.9h0M449.0 153.4h0M462.2 126.6h0M448.0 129.3h0M441.7 157.7h0M450.3 141.5h0M436.4 168.4h0M429.3 168.1h0M443.3 155.1h0M443.6 165.0h0M441.9 138.7h0M440.1 137.1h0M439.3 145.7h0M452.2 127.6h0M463.2 119.4h0M450.1 149.0h0M439.9 153.4h0M462.6 147.5h0M467.9 140.3h0M461.6 127.5h0M437.1 154.4h0M421.8 171.9h0M466.3 137.7h0M460.7 143.3h0M458.2 147.7h0M417.6 175.6h0M467.2 126.5h0M445.2 140.4h0M461.0 130.0h0M417.4 177.3h0M433.8 135.7h0M441.7 164.8h0M441.0 138.2h0M467.9 135.6h0M445.7 159.7h0M437.6 160.4h0M439.6 159.0h0M435.9 147.5h0M429.9 158.7h0M445.9 163.4h0M439.5 162.6h0M429.1 154.4h0M425.3 152.1h0M436.9 173.3h0M463.7 144.5h0M447.8 137.5h0M451.4 160.7h0M466.0 135.6h0M443.6 158.6h0M448.7 158.0h0M441.2 149.3h0M449.8 150.1h0M433.5 156.4h0M449.3 147.4h0M459.6 123.2h0M437.1 155.1h0M448.8 152.5h0M435.5 149.9h0M436.7 146.4h0M426.7 155.1h0M436.2 163.6h0M465.5 156.8h0M435.6 155.8h0M457.4 136.8h0M448.3 139.9h0M431.3 150.7h0M461.4 142.7h0M450.0 151.8h0M456.3 133.9h0M448.3 149.6h0M445.1 132.5h0M462.2 144.9h0M441.2 147.6h0M450.2 144.3h0M453.0 157.7h0M443.4 150.6h0M461.3 147.7h0M440.2 144.1h0M434.6 147.4h0M454.7 161.3h0M442.8 145.4h0M442.8 146.0h0M433.2 141.9h0M444.7 157.5h0M460.1 140.2h0M426.7 157.0h0M446.6 143.1h0M428.8 168.8h0M449.2 140.4h0M434.6 171.4h0M428.0 166.1h0M456.3 135.7h0M430.7 167.2h0M432.7 153.6h0M429.2 144.8h0M440.2 149.6h0M423.3 164.5h0M453.1 144.8h0M448.6 127.5h0M476.5 138.2h0M462.9 138.3h0M440.9 154.0h0M437.3 136.1h0M444.4 142.5h0M449.0 137.9h0M430.3 159.3h0M414.4 173.4h0M444.0 157.7h0M452.5 157.1h0M449.6 152.3h0M477.9 114.3h0M421.4 169.4h0M428.6 169.7h0M462.8 144.9h0M459.8 134.6h0M439.2 160.5h0M427.0 154.9h0M457.9 141.3h0M443.9 139.0h0M450.2 154.9h0M454.1 163.1h0M430.7 153.6h0M429.3 171.8h0M432.3 157.0h0M448.6 152.8h0M428.8 154.2h0M445.9 147.1h0M439.3 174.5h0M458.8 137.1h0M461.2 133.0h0M424.3 161.1h0M467.4 136.6h0M441.8 153.3h0M416.6 176.3h0M437.8 138.7h0M447.9 146.6h0M465.6 126.1h0M452.4 147.7h0M416.6 182.1h0M427.4 175.5h0M432.8 175.4h0M451.1 155.4h0M438.1 157.7h0M433.1 168.7h0M443.9 152.4h0M454.4 133.3h0M422.4 164.6h0M440.9 140.1h0M467.6 124.2h0M440.0 152.2h0M450.7 132.7h0M460.0 148.5h0M446.9 150.2h0M443.3 158.1h0M451.7 118.2h0M470.9 148.0h0M450.9 145.3h0M439.4 150.6h0M449.1 149.6h0M433.5 154.7h0M436.3 164.9h0M461.3 141.1h0M456.7 143.8h0M426.3 152.3h0M446.2 155.3h0M440.4 164.7h0M442.8 162.7h0M429.1 171.5h0M435.8 146.5h0M447.9 141.4h0M458.1 145.7h0M428.0 154.8h0M478.2 139.4h0M426.9 174.3h0M436.1 151.0h0M471.3 137.0h0M440.1 154.8h0M445.4 139.4h0M451.0 159.3h0M416.2 145.1h0M482.7 127.7h0M442.9 141.6h0M463.6 150.3h0M454.8 143.9h0M459.3 123.9h0M458.9 141.6h0M417.8 177.3h0M419.8 170.3h0M422.6 171.4h0M440.0 166.9h0M445.0 150.5h0M449.0 146.2h0M438.3 158.7h0M443.2 139.1h0M452.6 130.5h0M447.5 144.0h0M440.1 155.6h0M432.6 151.3h0M450.5 156.7h0M441.0 148.2h0M447.2 161.9h0M455.4 142.2h0M423.8 172.8h0M440.6 139.7h0M454.2 159.7h0M445.2 160.9h0M444.3 151.5h0M445.0 130.8h0M439.3 151.2h0M456.9 146.6h0M464.3 156.2h0M442.3 149.3h0M454.2 136.9h0M480.8 132.3h0M477.6 143.4h0M432.5 151.8h0M452.1 155.4h0M471.8 150.3h0M448.1 155.0h0M449.0 145.4h0M459.6 130.4h0M436.7 145.6h0M449.9 142.1h0M457.9 159.6h0M427.1 166.1h0M451.8 144.3h0M451.9 155.6h0M444.4 167.8h0M450.3 134.5h0M471.8 134.1h0M427.8 159.4h0M469.5 135.4h0M435.5 165.7h0M454.8 143.5h0M466.6 142.8h0M458.5 141.0h0M435.4 169.2h0M445.6 143.2h0M429.9 148.8h0M458.9 155.6h0M415.8 176.8h0M447.2 142.9h0M438.3 162.3h0M441.8 136.1h0M436.6 172.6h0M440.2 153.2h0M457.5 152.7h0M473.1 117.4h0M440.1 151.4h0M444.4 157.1h0M454.2 135.0h0M431.2 176.6h0M437.5 139.9h0M461.0 144.6h0M433.5 159.2h0M446.3 157.7h0M419.9 173.4h0M449.7 159.4h0M449.5 147.3h0M423.3 164.0h0M438.2 145.6h0M424.4 159.5h0M455.6 138.3h0M419.5 177.9h0M454.8 148.1h0M453.1 128.9h0M436.1 162.9h0M427.2 147.0h0M451.6 156.0h0M440.2 154.7h0M437.7 171.3h0M421.6 163.8h0M447.3 149.3h0M438.6 140.9h0M453.9 152.5h0M461.1 139.8h0M424.9 145.3h0M453.5 150.5h0M458.1 157.0h0M428.7 166.2h0M431.8 170.6h0M462.6 109.7h0M422.2 171.6h0M419.5 156.6h0M446.6 146.4h0M443.5 158.3h0M437.2 156.5h0M466.8 166.2h0M439.8 152.4h0M461.3 140.8h0M419.8 159.7h0M426.6 170.7h0M451.0 154.3h0M453.2 147.8h0M469.4 133.5h0M443.8 145.4h0M458.3 149.6h0M436.5 135.2h0M437.9 154.3h0M439.8 172.8h0M430.0 157.8h0M455.9 128.2h0M433.2 160.2h0M425.9 165.7h0M446.2 146.6h0M417.1 166.9h0M462.6 139.8h0M432.2 173.4h0M461.4 133.0h0M432.1 154.7h0M466.7 145.3h0M474.9 104.1h0M440.3 153.2h0M456.1 137.9h0M441.1 143.7h0M422.7 176.5h0M476.8 130.9h0M448.8 146.6h0M453.5 126.5h0M457.4 147.9h0M452.9 140.7h0M446.1 146.8h0M450.9 145.5h0M437.5 156.2h0M499.5 116.2h0M422.7 157.4h0M458.5 126.6h0M441.7 161.7h0M445.3 150.5h0M437.5 142.9h0M444.2 153.5h0M432.9 147.5h0M465.0 145.7h0M468.0 139.9h0M444.2 165.1h0M442.1 159.5h0M436.3 164.2h0M426.4 177.7h0M429.5 169.8h0M439.2 154.9h0M445.0 138.8h0M465.2 137.3h0M437.3 154.8h0M439.3 125.7h0M450.8 138.1h0M467.1 116.2h0M447.9 144.9h0M442.1 151.1h0M443.4 155.6h0M453.2 138.5h0M440.0 143.1h0M421.5 160.6h0M412.0 170.3h0M441.1 147.3h0M459.5 143.4h0M451.6 125.5h0M449.9 143.4h0M444.9 170.9h0M434.3 158.7h0M416.9 176.5h0M431.7 157.4h0M437.8 124.4h0M447.8 146.2h0M470.9 137.6h0M432.8 168.5h0M447.5 145.3h0M462.7 136.1h0M461.7 153.3h0M431.1 161.7h0M457.4 158.3h0M463.1 151.4h0M426.9 151.9h0M451.6 154.6h0M450.1 142.5h0M440.1 169.8h0M435.3 170.3h0M454.2 148.1h0M444.1 138.3h0M441.3 160.6h0M436.3 140.2h0M415.7 181.1h0M434.1 170.7h0M447.9 150.9h0M416.3 177.3h0M446.8 154.3h0M441.4 152.9h0M435.4 153.5h0M436.7 166.8h0M455.3 136.7h0M458.4 153.8h0M430.2 165.3h0M453.0 133.9h0M469.1 142.6h0M437.5 160.9h0M435.3 146.9h0M451.5 146.8h0M433.4 143.2h0M441.1 153.5h0M443.1 153.2h0M427.0 162.0h0M458.8 144.4h0M452.3 143.9h0M434.1 146.9h0M437.6 148.3h0M460.2 165.9h0M430.8 167.9h0M436.3 148.9h0M446.5 132.9h0M438.8 151.4h0M448.2 151.3h0M470.5 147.6h0M447.5 156.2h0M453.8 141.1h0M440.3 138.1h0M445.4 151.5h0M437.2 144.7h0M446.1 152.5h0M448.9 147.5h0M444.2 141.1h0M426.8 153.5h0M429.2 158.0h0M459.6 148.4h0M447.1 144.6h0M466.1 139.0h0M462.0 135.7h0M443.3 147.2h0M431.8 159.5h0M472.9 122.1h0M461.4 146.3h0M452.5 146.3h0M435.0 146.5h0M441.4 154.4h0M455.9 142.4h0M442.3 166.2h0M444.1 160.0h0M449.1 145.0h0M459.1 137.7h0M455.5 157.4h0M450.2 149.4h0M452.6 138.7h0M443.4 148.7h0M470.5 141.2h0M451.2 135.3h0M445.3 156.6h0M449.7 155.5h0M467.8 125.2h0M448.4 149.2h0M446.9 148.7h0M440.2 149.3h0M433.5 172.6h0M448.9 128.6h0M453.1 130.6h0M425.5 170.7h0M440.8 158.7h0M430.3 160.7h0M444.7 149.4h0M438.7 161.1h0M423.7 173.8h0M447.6 150.2h0M427.1 158.1h0M437.6 156.0h0M426.1 160.6h0M421.7 164.7h0M452.4 153.5h0M441.8 165.5h0M452.6 140.5h0M444.8 149.6h0M448.0 162.9h0M465.8 123.1h0M442.6 153.6h0M451.5 139.3h0M446.4 143.8h0M472.7 145.7h0M466.0 135.8h0M453.2 135.6h0M433.0 154.6h0M456.3 136.6h0M457.1 133.9h0M436.6 165.9h0M453.0 150.8h0M452.0 143.8h0M446.4 150.3h0M460.4 144.6h0M442.6 168.8h0M420.8 164.0h0M438.5 162.4h0M418.0 171.4h0M456.0 137.0h0M441.7 142.9h0M468.1 124.4h0M451.6 164.7h0M436.9 166.4h0M439.9 169.1h0M455.0 150.8h0M436.6 128.7h0M423.7 143.4h0M431.1 169.5h0M461.2 154.8h0M444.3 144.5h0M446.0 146.2h0M431.1 167.9h0M441.6 170.2h0M442.6 141.0h0M461.5 138.1h0M449.2 156.7h0M431.2 167.2h0M454.7 138.2h0M419.5 180.9h0M435.0 140.2h0M439.8 139.6h0M460.5 129.8h0M443.8 158.6h0M427.8 158.0h0M455.1 117.8h0M446.2 136.7h0M440.1 148.7h0M447.6 160.9h0M426.5 150.8h0M427.8 171.4h0M448.2 149.2h0M425.8 156.9h0M442.2 147.6h0M449.5 145.9h0M460.2 131.6h0M451.9 163.3h0M454.1 160.2h0M442.7 154.7h0M430.1 143.6h0M437.8 168.8h0M414.2 177.3h0M443.2 170.7h0M433.6 168.4h0M471.8 121.4h0M450.3 150.5h0M428.3 163.5h0M440.6 138.4h0M453.6 129.6h0M444.4 152.1h0M446.4 168.2h0M453.4 156.7h0M452.8 147.3h0M430.5 160.1h0M444.8 149.2h0M447.9 137.2h0M452.3 138.8h0M443.8 135.6h0M456.5 149.1h0M451.9 140.5h0M433.8 144.4h0M427.5 158.9h0M433.3 154.4h0M458.0 151.6h0M440.4 162.8h0M453.9 153.1h0M442.6 154.2h0M453.8 150.2h0M446.5 139.5h0M460.5 152.9h0M425.2 171.3h0M435.1 159.1h0M453.8 147.3h0M441.6 153.3h0M459.4 126.7h0M441.1 155.2h0M459.0 151.2h0M475.0 153.4h0M434.4 163.3h0M444.4 148.7h0M430.5 147.6h0M443.9 129.9h0M442.6 150.7h0M431.9 153.9h0M471.2 114.6h0M443.1 162.8h0M436.0 153.5h0M447.7 139.6h0M442.9 135.2h0M442.7 153.8h0M436.5 155.7h0M416.5 151.9h0M446.1 160.4h0M444.8 121.1h0M431.0 172.1h0M431.7 163.3h0M448.8 155.2h0M432.1 166.8h0M433.7 150.4h0M453.5 162.5h0M441.8 159.8h0M455.7 166.9h0M450.0 134.8h0M440.4 149.2h0M447.5 161.5h0M456.0 156.5h0M453.6 137.8h0M459.5 128.7h0M424.9 158.0h0M424.3 166.8h0M467.9 141.0h0M437.5 161.0h0M438.0 156.6h0M462.6 103.1h0M448.0 154.5h0M443.3 143.2h0M468.6 155.0h0M452.6 162.2h0M436.8 151.0h0M437.7 130.5h0M430.7 168.0h0M446.5 137.7h0M450.9 149.0h0M454.9 147.6h0M469.2 131.3h0M428.5 152.5h0M454.5 63.8h0M452.1 89.5h0M445.7 156.4h0M445.2 155.3h0M476.4 150.8h0M432.0 147.8h0M450.0 153.4h0M449.5 147.7h0M439.9 165.9h0M438.0 141.7h0M448.3 163.4h0M465.8 166.9h0M461.5 170.1h0M442.1 160.1h0M452.3 128.7h0M431.8 147.8h0M441.4 165.5h0M423.2 165.1h0M489.2 124.3h0M461.7 138.1h0M445.1 151.4h0M418.0 178.5h0M433.7 139.2h0M433.5 173.1h0M447.6 150.9h0M461.9 154.0h0M468.9 155.9h0M434.8 157.7h0M442.5 161.4h0M445.5 146.0h0M455.9 166.4h0M460.7 162.4h0M438.7 173.8h0M483.4 83.9h0M448.9 142.1h0M438.7 157.8h0M461.6 124.9h0M463.8 140.7h0M457.8 112.8h0M487.3 139.0h0M423.3 149.0h0M460.5 135.0h0M470.3 120.3h0M490.9 140.1h0M451.5 158.8h0M433.4 169.9h0M458.4 136.6h0M465.7 144.3h0M437.2 174.3h0M452.7 167.1h0M438.6 144.3h0M433.5 160.1h0M458.1 100.5h0M429.1 165.8h0M465.9 121.6h0M444.0 141.8h0M446.6 158.8h0M470.8 136.0h0M478.8 108.4h0M452.0 145.8h0M458.2 161.2h0M428.4 157.2h0M443.5 178.3h0M467.6 121.2h0M431.6 140.8h0M444.2 155.8h0M436.7 152.1h0M458.6 155.2h0M462.2 125.3h0M467.1 124.5h0M445.9 143.7h0M449.1 153.4h0M442.3 156.9h0M447.0 167.1h0M435.4 178.5h0M453.0 143.7h0M465.4 115.4h0M435.7 169.5h0M425.6 163.8h0M423.3 160.3h0M420.5 149.4h0M453.4 161.8h0M441.9 166.9h0M452.0 141.6h0M444.9 152.4h0M456.0 172.8h0M469.6 139.8h0M472.0 167.4h0M463.4 145.5h0M428.4 174.0h0M461.1 147.1h0M478.2 141.7h0M434.8 178.4h0M428.0 150.6h0M457.6 108.4h0M442.2 124.2h0M433.4 172.0h0M447.3 179.4h0M469.1 147.3h0M481.4 111.0h0M438.0 134.4h0M434.1 174.0h0M451.0 149.3h0M468.0 138.8h0M456.9 158.9h0M449.3 156.4h0M433.9 152.4h0M476.1 105.8h0M442.1 151.7h0M449.0 134.6h0M439.4 159.8h0M439.2 177.5h0M411.7 171.6h0M468.9 140.1h0M470.2 149.6h0M430.6 161.2h0M432.5 127.0h0M496.6 130.3h0M439.2 113.1h0M486.3 122.6h0M433.7 172.8h0M439.2 161.0h0M434.9 159.6h0M444.2 157.8h0M426.2 164.9h0M424.5 132.2h0M414.3 158.8h0M444.0 175.7h0M443.6 156.0h0M450.8 122.9h0M449.3 100.4h0M426.8 160.4h0M451.2 152.0h0M430.4 144.5h0M442.4 141.4h0M453.9 163.8h0M460.1 167.4h0M460.5 144.7h0M419.5 163.0h0M454.9 148.2h0M439.6 166.8h0M443.3 165.9h0M457.5 167.6h0M419.3 170.1h0M430.9 149.6h0M439.1 159.2h0M449.8 156.0h0M411.3 167.9h0M428.5 151.0h0M434.5 145.0h0M455.7 120.3h0M425.6 160.7h0M472.7 125.4h0M436.3 168.5h0M462.6 126.5h0M434.8 139.5h0M476.7 118.1h0M426.5 159.8h0M432.2 175.6h0M424.1 163.3h0M427.8 155.7h0M419.5 169.0h0M419.8 149.4h0M454.6 127.1h0M428.8 144.6h0M443.2 106.5h0M443.6 138.2h0M458.9 110.0h0M454.2 169.1h0M470.6 143.1h0M428.5 163.6h0M440.2 167.3h0M446.8 154.8h0M491.6 110.3h0M448.2 108.6h0M461.2 138.0h0M445.4 106.5h0M465.0 151.7h0M477.5 136.3h0M411.3 178.6h0M449.0 148.5h0M457.8 143.2h0M430.6 126.6h0M423.5 138.6h0M437.4 157.3h0M490.0 155.4h0M430.6 143.9h0M458.4 139.9h0M461.8 138.0h0M457.3 159.0h0M437.9 164.7h0M430.1 172.5h0M438.1 155.4h0M479.7 121.6h0M482.4 141.8h0M425.4 175.2h0M460.5 135.2h0M439.5 153.0h0M450.6 140.4h0M460.6 116.8h0M478.6 105.1h0M422.6 172.4h0M491.1 128.6h0M438.6 180.2h0M460.9 162.1h0M454.3 129.2h0M473.4 152.2h0M464.7 139.8h0M472.2 138.4h0M458.2 149.7h0M437.8 180.1h0M424.6 165.8h0M445.3 153.6h0M428.5 155.7h0M443.9 160.3h0M461.5 158.7h0M449.9 143.8h0M487.9 118.4h0M456.8 155.5h0M481.1 120.9h0M481.4 103.3h0M422.8 170.5h0M439.9 139.4h0M451.8 148.3h0M450.8 155.5h0M430.9 162.6h0M445.4 132.7h0M420.1 155.6h0M449.2 109.0h0M439.6 148.8h0M458.8 165.8h0M467.7 143.2h0M457.6 165.9h0M444.2 153.8h0M421.7 155.1h0M503.3 166.4h0M449.9 135.3h0M463.9 161.2h0M457.7 143.2h0M433.2 147.5h0M453.2 137.2h0M493.7 133.9h0M450.8 149.2h0M484.5 122.7h0M488.0 146.7h0M429.4 171.5h0M480.4 124.1h0M471.5 111.0h0M454.3 153.2h0M451.2 144.6h0M438.3 128.9h0M443.1 140.2h0M444.6 139.8h0M438.7 161.1h0M455.9 124.1h0M441.4 127.6h0M474.2 139.5h0M438.5 158.3h0M444.1 142.1h0M413.3 165.1h0M465.9 129.4h0M470.0 150.0h0M463.8 142.7h0M441.0 141.9h0M463.3 122.2h0M445.6 125.4h0M469.1 135.8h0M427.6 162.5h0M476.0 168.5h0M443.2 153.0h0M446.0 165.8h0M459.5 123.3h0M477.2 138.8h0M478.3 141.0h0M474.4 164.6h0M458.6 133.9h0M433.1 151.4h0M473.5 163.1h0M447.1 149.5h0M437.3 167.7h0M457.2 123.7h0M445.1 142.9h0M459.9 150.8h0M433.8 162.6h0M466.5 145.5h0M472.3 120.1h0M439.4 161.2h0M440.0 128.7h0M451.8 136.1h0M463.5 140.7h0M483.2 148.0h0M475.6 148.0h0M460.8 146.2h0M435.0 129.6h0M438.8 132.0h0M426.6 172.1h0M447.2 150.8h0M452.3 133.5h0M535.1 74.9h0M433.9 140.6h0M461.7 127.5h0M449.7 147.2h0M434.7 139.6h0M429.4 170.7h0M436.7 156.4h0M445.5 152.4h0M457.7 143.4h0M432.3 164.1h0M438.1 152.8h0M468.3 145.0h0M474.1 163.4h0M428.7 172.2h0M493.8 144.2h0M448.9 144.3h0M477.5 155.6h0M462.3 163.3h0M430.9 154.8h0M431.6 150.9h0M422.9 180.7h0M455.9 144.5h0M436.7 152.4h0M422.6 160.8h0M463.2 149.7h0M426.9 162.4h0M456.0 128.3h0M455.0 135.7h0M433.3 128.8h0M442.9 143.5h0M455.7 143.7h0M443.0 125.2h0M454.2 120.1h0M490.1 110.1h0M418.8 181.2h0M466.7 138.4h0M465.9 116.0h0M501.7 108.0h0M508.1 109.6h0M478.0 141.4h0M447.8 177.7h0M425.1 167.7h0M478.4 132.9h0M445.5 143.8h0M434.2 162.7h0M439.9 139.6h0M446.0 168.0h0M470.6 139.1h0M437.4 176.9h0M444.0 150.9h0M461.5 159.6h0M459.2 149.5h0M468.1 170.2h0M476.5 138.9h0M423.3 149.1h0M414.6 159.8h0M472.5 155.1h0M442.7 175.5h0M423.8 167.5h0M444.0 149.3h0M419.1 149.2h0M440.7 155.7h0M435.7 164.4h0M436.2 167.9h0M478.0 127.4h0M443.1 148.0h0M453.7 135.0h0M475.9 137.2h0M448.4 159.1h0M450.1 131.4h0M423.3 161.7h0M455.8 157.1h0M435.1 132.6h0M425.7 170.6h0M439.1 142.8h0M513.4 100.0h0M451.4 171.1h0M431.9 144.5h0M441.6 132.8h0M454.2 126.6h0M438.7 168.4h0M437.1 123.8h0M447.0 155.1h0M467.4 100.1h0M452.3 150.0h0M456.5 145.8h0M448.3 129.9h0M458.3 134.8h0M442.8 134.2h0M442.2 139.1h0M430.3 167.0h0M458.5 133.9h0M426.3 180.2h0M437.3 172.0h0M477.0 116.4h0M434.6 176.1h0M441.1 124.6h0M443.2 157.6h0M451.6 136.6h0M436.6 147.7h0M468.1 124.7h0M496.0 110.9h0M463.1 147.0h0M461.3 154.9h0M428.0 170.5h0M463.3 154.0h0M450.2 114.2h0M435.4 144.1h0M425.1 143.3h0M469.8 121.2h0M472.8 96.1h0M420.4 168.7h0M500.8 99.0h0M443.0 141.8h0M436.3 166.3h0M440.7 136.2h0M428.9 160.6h0M463.5 139.9h0M445.7 167.9h0M459.2 150.4h0M470.7 132.7h0M446.9 155.8h0M446.8 118.7h0M428.1 149.6h0M438.5 166.7h0M452.2 119.0h0M430.4 141.7h0M444.2 150.9h0M464.6 153.9h0M441.1 164.5h0M440.6 157.8h0M478.5 144.0h0M436.3 118.2h0M440.6 138.9h0M447.8 173.3h0M448.7 175.0h0M423.9 147.6h0M476.2 141.7h0M446.2 127.7h0M444.6 131.6h0M462.0 134.5h0M435.8 166.6h0M426.5 179.0h0M416.7 176.6h0M441.5 163.1h0M425.2 170.4h0M423.2 158.5h0M446.0 159.4h0M438.7 168.8h0M485.4 105.0h0M471.4 162.8h0M421.8 146.5h0M464.4 160.8h0M463.5 150.0h0M445.3 139.4h0M470.5 163.1h0M491.2 125.3h0M429.4 134.9h0M456.5 158.2h0M425.0 137.9h0M528.5 116.8h0M458.2 136.6h0M414.3 177.4h0M443.0 167.1h0M448.0 166.5h0M445.8 147.8h0M447.0 170.2h0M477.4 151.3h0M456.5 151.5h0M464.1 155.2h0M429.4 160.6h0M463.8 142.2h0M452.7 154.9h0M435.2 181.3h0M471.9 124.8h0M444.6 159.5h0M473.4 158.0h0M470.5 152.3h0M445.6 138.6h0M424.3 158.1h0M467.3 107.7h0M456.7 140.8h0M442.2 164.7h0M419.9 125.3h0M464.3 152.9h0M430.7 150.1h0M493.4 99.1h0M437.0 176.5h0M453.8 147.2h0M418.7 163.5h0M414.2 157.6h0M452.4 131.7h0M458.1 129.1h0M478.0 111.2h0M444.5 169.6h0M454.6 155.2h0M424.3 157.8h0M426.0 164.2h0M443.4 151.7h0M440.0 173.8h0M464.0 123.4h0M416.2 165.8h0M467.0 128.9h0M461.5 126.3h0M417.9 166.5h0M438.1 152.2h0M418.9 176.5h0M457.7 144.1h0M416.7 176.5h0M450.8 141.0h0M437.7 152.9h0M448.5 167.9h0M450.8 124.4h0M438.9 167.6h0M437.9 138.9h0M467.2 147.8h0M436.6 141.7h0M455.9 158.5h0M440.1 165.4h0M414.7 170.2h0M456.1 169.4h0M443.9 141.0h0M443.5 143.8h0M444.2 162.6h0M454.7 137.4h0M431.7 165.5h0M437.3 149.1h0M421.5 153.3h0M440.3 115.3h0M449.0 155.0h0M419.3 158.9h0M442.6 150.7h0M445.0 145.4h0M467.9 122.7h0M435.6 159.7h0M435.0 136.3h0M469.6 144.9h0M449.5 147.5h0M445.4 134.8h0M448.0 170.7h0M438.2 181.8h0M443.7 176.8h0M456.7 149.6h0M436.8 154.0h0M456.2 157.1h0M467.0 153.0h0M444.1 137.2h0M429.1 172.7h0M446.8 118.8h0M471.2 143.4h0M431.9 133.9h0M440.3 157.6h0M501.6 116.6h0M479.0 142.1h0M465.3 112.6h0M453.9 165.0h0M465.7 147.3h0M447.3 152.4h0M481.2 135.0h0M419.7 174.2h0M470.4 160.3h0M470.7 139.7h0M435.1 158.9h0M463.0 152.5h0M457.1 119.4h0M475.3 131.1h0M463.4 116.9h0M467.4 139.9h0M465.8 143.6h0M418.6 159.2h0M456.1 140.4h0M433.6 159.7h0M439.4 145.9h0M414.6 161.3h0M437.6 152.9h0M455.6 160.3h0M449.8 147.1h0M449.2 174.7h0M458.4 161.6h0M429.6 162.0h0M425.6 148.0h0M431.6 164.7h0M472.6 137.2h0M442.5 146.3h0M464.5 124.2h0M503.3 134.2h0M471.6 145.3h0M465.0 152.1h0M446.3 146.2h0M430.4 162.1h0M428.6 146.9h0M436.3 164.9h0M466.7 148.0h0M425.1 158.0h0M418.3 165.6h0M449.9 136.0h0M452.4 146.0h0M434.0 117.1h0M471.0 129.2h0M459.0 137.4h0M431.8 128.0h0M452.4 122.7h0M435.0 171.3h0M447.5 146.2h0M441.5 138.6h0M464.9 115.2h0M425.8 153.5h0M475.4 154.8h0M413.7 118.3h0M454.9 160.8h0M432.0 123.1h0M436.4 160.3h0M422.1 142.9h0M450.1 154.2h0M437.3 147.9h0M476.7 117.0h0M451.7 120.7h0M477.4 110.0h0M492.3 102.7h0M458.2 143.9h0M438.9 147.6h0M443.9 160.0h0M424.9 148.1h0M424.2 142.8h0M450.9 162.7h0M425.1 136.6h0M434.3 154.3h0M456.2 160.2h0M420.8 162.8h0M477.2 147.3h0M452.5 164.4h0M468.1 134.7h0M454.4 147.6h0M437.9 159.3h0M436.1 151.7h0M445.3 142.4h0M443.1 142.5h0M429.0 162.1h0M474.2 136.7h0M435.5 152.3h0M485.7 140.5h0M470.0 148.7h0M436.1 174.0h0M445.3 141.7h0M456.0 143.7h0M441.6 177.9h0M454.0 108.4h0M422.5 167.1h0M451.1 177.2h0M433.9 156.6h0M460.3 134.1h0M423.4 130.7h0M427.8 177.4h0M427.8 168.7h0M423.2 149.2h0M454.6 112.2h0M444.0 110.8h0M429.3 167.2h0M456.6 120.1h0M434.5 159.8h0M430.4 147.4h0M430.8 153.9h0M453.0 143.2h0M449.5 163.7h0M423.6 160.2h0M467.3 130.4h0M477.3 129.5h0M497.6 157.5h0M434.4 152.1h0M461.4 161.5h0M423.2 129.1h0M466.2 114.6h0M440.4 139.1h0M439.2 137.3h0M466.5 157.0h0M458.7 163.3h0M443.7 124.4h0M449.3 148.1h0M479.8 118.6h0M453.4 128.3h0M460.0 164.7h0M420.9 151.8h0M446.3 173.9h0M424.6 151.9h0M441.7 130.3h0M447.3 162.1h0M446.0 118.5h0M442.2 168.3h0M418.9 148.0h0M463.3 160.5h0M453.0 149.8h0M468.7 169.1h0M457.7 142.8h0M474.5 165.6h0M453.4 174.4h0M434.4 160.4h0M427.2 170.7h0M425.1 153.1h0M482.4 127.3h0M456.5 155.0h0M430.4 133.1h0M477.3 126.8h0M438.5 145.0h0M456.4 155.1h0M441.3 148.1h0M425.6 124.4h0M436.6 128.1h0M444.0 157.9h0M465.7 127.0h0M462.2 136.0h0M475.0 147.7h0M445.8 159.2h0M430.1 167.8h0M443.8 146.0h0M438.5 145.1h0M476.9 135.3h0M465.0 93.5h0M434.8 155.9h0M448.6 161.0h0M482.3 133.6h0M448.4 169.2h0M426.3 162.1h0M443.8 169.8h0M423.8 172.2h0M481.8 135.2h0M446.0 172.6h0M440.6 111.6h0M458.6 167.0h0M437.5 163.0h0M440.1 153.7h0M449.7 166.4h0M450.3 168.6h0M465.9 150.0h0M429.2 154.1h0M441.4 111.9h0M425.9 161.8h0M439.6 143.7h0M447.0 131.0h0M465.3 140.4h0M462.1 138.4h0M467.4 161.3h0M439.8 172.8h0M461.6 113.7h0M420.4 143.0h0M440.6 146.9h0M436.6 146.8h0M439.7 154.0h0M430.9 163.8h0M456.2 156.4h0M445.8 132.3h0M416.8 142.4h0M462.4 156.9h0M441.7 168.0h0M489.4 121.9h0M446.4 148.4h0M454.8 119.6h0M447.8 160.4h0M434.9 177.5h0M425.6 174.6h0M439.5 136.3h0M436.5 158.6h0M430.6 175.1h0M443.7 146.3h0M430.7 161.1h0M466.2 122.1h0M463.8 144.2h0M444.0 141.7h0M476.0 123.6h0M461.6 163.4h0M452.6 159.3h0M460.0 112.4h0M444.2 140.5h0M431.6 158.0h0M460.8 144.3h0M434.7 156.7h0M444.8 159.2h0M430.6 170.3h0M450.2 125.2h0M446.0 151.3h0M481.8 140.9h0M428.0 104.6h0M426.9 135.1h0M446.2 153.6h0M451.2 181.9h0M416.9 181.5h0M426.4 181.5h0M434.1 181.4h0M461.3 181.7h0M465.7 182.1h0M419.3 181.5h0M413.2 182.0h0M424.8 182.3h0M414.8 182.2h0M416.5 182.1h0M436.8 182.0h0M416.2 181.1h0M454.1 181.6h0M470.0 181.8h0M447.7 181.9h0M434.4 181.5h0M428.2 181.3h0M418.3 181.2h0M458.6 181.7h0M413.5 181.8h0M469.1 182.0h0M437.3 181.9h0M415.3 181.2h0M445.8 181.6h0M416.6 181.9h0M415.4 182.2h0M416.9 181.7h0M420.0 182.1h0M411.4 181.0h0M421.9 181.6h0M431.6 181.8h0M423.6 181.2h0M412.9 182.2h0M421.1 182.3h0M414.3 181.5h0M447.5 181.3h0M462.4 182.3h0M418.8 181.1h0M456.7 182.1h0M415.1 181.7h0M418.6 181.3h0M484.9 181.8h0M429.7 181.9h0M462.9 182.1h0M441.6 181.6h0M461.0 182.2h0M447.4 181.4h0M425.6 182.3h0M425.4 181.9h0M429.9 182.3h0M440.0 181.7h0M425.4 181.1h0M443.1 181.7h0M440.4 181.9h0M460.0 181.6h0M425.4 181.3h0M458.0 181.9h0M418.8 181.1h0M433.7 182.0h0M412.7 181.7h0M440.5 182.1h0M414.1 182.0h0M462.0 181.7h0M434.6 181.4h0M443.6 182.2h0M415.2 181.5h0M439.0 182.1h0M416.0 181.9h0M416.9 181.7h0M442.1 182.3h0M433.8 181.4h0M424.5 181.8h0M416.5 181.9h0M412.0 181.3h0M416.6 181.1h0M415.9 181.2h0M414.2 182.2h0M455.9 181.1h0M454.3 181.8h0M420.8 181.1h0M420.5 181.2h0M448.6 181.6h0M442.4 182.0h0M435.0 181.6h0M461.4 181.5h0M427.8 181.7h0M414.9 181.4h0M414.1 181.7h0M422.4 181.6h0M421.2 182.1h0M421.2 181.2h0M427.6 181.3h0M434.1 181.7h0M444.8 182.3h0M449.1 182.1h0M436.2 181.4h0M413.6 181.0h0M449.7 181.2h0M437.9 181.5h0M426.4 182.0h0M412.3 181.8h0M424.5 181.3h0M414.8 182.0h0M432.4 181.2h0M435.3 181.2h0M426.9 181.4h0M413.4 181.6h0M430.7 181.3h0M437.5 182.3h0M447.3 181.2h0M434.5 181.2h0M435.5 182.0h0M433.1 181.8h0M423.6 181.3h0M411.8 181.6h0M442.2 181.8h0M417.5 181.7h0M428.4 181.8h0M419.2 181.9h0M436.7 181.3h0M448.9 182.0h0M447.5 181.9h0M416.1 181.9h0M420.7 182.1h0M418.8 181.3h0M416.2 181.7h0M423.7 182.1h0M431.6 181.5h0M427.1 181.9h0M428.3 181.9h0M454.5 181.9h0M424.4 182.2h0M438.8 181.0h0M415.6 181.6h0M433.3 181.6h0M437.2 181.5h0M414.6 181.4h0M433.5 182.3h0M449.9 181.1h0M477.3 182.2h0M418.2 181.4h0M417.9 181.7h0M421.5 181.0h0M464.4 182.1h0M417.1 181.7h0M440.9 182.1h0M411.4 181.2h0M422.1 181.5h0M428.4 181.7h0M411.9 181.9h0M424.0 181.4h0M426.3 181.5h0M420.5 182.2h0M422.2 181.6h0M435.8 181.6h0M452.5 181.3h0M432.8 182.2h0M421.9 181.4h0M430.1 181.9h0M432.8 181.3h0M416.2 181.6h0M425.3 181.6h0M452.2 181.2h0M426.3 181.6h0M412.8 181.1h0M446.5 181.4h0M465.2 182.0h0M449.9 181.0h0M429.0 182.3h0M418.5 181.5h0M424.9 181.2h0M433.6 182.3h0M423.5 181.6h0M462.8 181.2h0M420.9 181.8h0M419.9 181.7h0M455.8 181.4h0M424.1 181.4h0M428.9 181.2h0M429.9 181.6h0M424.1 181.9h0M441.2 181.9h0M438.2 181.6h0M471.0 181.4h0M413.3 182.2h0M442.3 181.9h0M490.3 181.9h0M413.8 181.7h0M438.8 181.3h0M441.8 181.9h0M438.4 181.9h0M419.8 182.2h0M471.7 181.5h0M431.3 181.7h0M422.3 181.5h0M415.3 181.1h0M468.2 181.3h0M420.8 182.0h0M421.9 181.4h0M414.7 182.2h0M419.2 181.1h0M411.3 181.3h0M443.3 181.5h0M419.6 181.3h0M437.0 182.2h0M420.8 181.6h0M412.6 181.8h0M448.8 182.3h0M438.5 181.3h0M425.0 181.7h0M417.8 181.9h0M439.4 182.2h0M412.1 181.7h0M433.7 181.0h0M428.5 181.7h0M412.9 181.1h0M445.2 181.3h0M418.2 181.4h0M440.8 181.9h0M426.4 181.9h0M437.8 181.4h0M420.0 181.1h0M444.8 182.0h0M435.6 181.9h0M435.5 182.1h0M414.4 181.2h0M418.6 181.3h0M418.3 181.0h0M420.2 182.2h0M417.5 181.1h0M498.7 181.0h0M432.6 181.1h0M445.4 182.1h0M429.0 182.1h0M416.4 182.1h0M466.5 182.2h0M437.7 182.0h0M427.5 181.8h0M437.0 181.4h0M440.0 182.2h0M430.2 181.2h0M445.0 181.8h0M433.6 181.3h0M430.3 182.2h0M444.2 181.3h0M426.9 181.3h0M429.4 181.8h0M431.3 182.3h0M419.2 181.1h0M428.7 181.6h0M451.0 182.0h0M432.2 181.9h0M422.8 181.4h0M480.1 182.1h0M413.4 181.7h0M427.8 182.1h0M423.6 181.3h0M416.9 181.8h0M413.7 181.2h0M438.6 181.9h0M415.1 181.6h0M426.5 182.3h0M419.4 181.2h0M442.2 181.1h0M420.9 181.9h0M437.3 181.8h0M415.0 181.7h0M443.1 181.5h0M430.6 181.5h0M416.5 181.8h0M417.0 181.3h0M445.7 181.7h0M488.0 182.2h0M433.0 182.1h0M426.7 181.0h0M411.1 181.9h0M413.2 181.8h0M419.8 181.7h0M418.3 181.9h0M449.8 181.7h0M423.1 181.6h0M436.3 181.9h0M436.6 182.2h0M418.0 181.8h0M428.2 181.3h0M420.7 182.1h0M420.8 181.8h0M425.7 181.9h0M439.2 181.7h0M423.2 181.1h0M424.5 181.5h0M430.6 182.3h0M422.8 181.4h0M448.4 181.6h0M435.0 181.9h0M422.4 182.3h0M411.2 181.6h0M451.8 181.2h0M451.5 181.8h0M411.9 152.8h0M411.4 161.1h0M412.0 143.6h0M411.9 146.6h0M411.1 142.3h0M412.3 179.5h0M411.5 169.6h0M411.7 173.0h0M411.9 158.0h0M411.5 150.6h0M411.3 170.3h0M411.6 176.4h0M411.3 165.0h0M411.5 171.4h0M412.2 145.4h0M411.7 163.8h0M412.0 175.9h0M412.0 155.6h0M411.5 164.6h0M411.0 149.0h0M412.1 168.7h0M412.0 181.9h0M411.4 160.5h0M411.5 181.2h0M411.0 174.8h0M411.9 171.3h0M411.8 158.7h0M411.4 170.0h0M411.6 165.7h0M411.1 181.2h0M411.7 151.4h0M411.6 160.1h0M411.5 180.9h0M411.9 167.6h0M411.6 175.7h0M411.8 180.1h0M411.5 169.6h0M411.8 153.9h0M411.0 148.5h0M412.3 139.4h0M411.8 127.1h0M412.2 164.8h0M412.2 163.1h0M411.6 176.7h0M411.8 168.2h0M412.0 161.3h0M411.1 175.0h0M412.0 181.8h0M411.7 168.0h0M411.0 176.0h0M411.9 162.2h0M411.7 176.4h0M411.8 179.2h0M411.9 171.5h0M411.3 133.3h0M411.5 99.7h0M411.9 164.6h0M411.4 170.3h0M412.3 171.2h0M411.5 158.3h0M412.2 144.0h0M412.2 171.9h0M411.2 169.8h0M411.8 157.0h0M411.9 169.4h0M411.5 145.1h0M411.8 154.7h0M411.3 148.1h0M411.8 170.3h0M411.9 177.7h0M411.2 161.9h0M411.4 157.8h0M411.4 155.1h0M411.0 146.6h0M411.9 156.3h0M411.2 173.7h0M411.6 178.9h0M412.1 175.0h0M411.8 155.8h0M411.9 176.5h0M411.4 175.6h0M412.1 149.3h0M411.2 151.1h0M412.1 160.4h0M412.1 168.9h0M411.1 180.1h0M411.1 181.2h0M411.1 175.6h0M412.2 172.7h0M411.4 153.3h0M411.5 175.5h0M412.3 177.0h0M412.1 176.0h0M412.2 179.2h0M412.2 176.5h0M412.0 162.4h0M411.0 180.6h0M412.2 170.8h0M411.6 164.3h0M411.9 160.6h0M411.8 126.7h0M411.9 125.9h0M412.1 161.3h0M412.3 163.6h0M412.2 159.4h0M411.6 163.0h0M412.2 173.4h0M412.1 163.7h0M412.0 180.0h0M411.1 181.9h0M411.9 169.0h0M411.8 155.8h0M411.2 169.4h0M412.1 180.3h0M411.8 175.4h0M412.0 152.9h0M411.7 157.2h0M411.4 153.9h0M412.0 171.1h0M411.2 161.7h0M411.7 167.5h0M412.3 136.3h0M412.2 170.7h0M412.1 147.7h0M411.3 163.8h0M412.2 171.4h0M411.6 159.3h0M411.6 157.7h0M411.5 157.6h0M411.6 173.2h0M412.2 177.2h0M411.9 163.8h0M411.6 160.8h0M411.9 178.7h0M412.3 163.8h0M411.4 160.5h0M411.1 147.0h0M411.2 171.4h0M411.4 146.3h0M411.2 165.4h0M411.1 177.6h0M411.2 168.1h0M411.5 169.7h0M411.6 174.6h0M411.9 168.5h0M411.4 146.5h0M411.5 156.4h0M411.5 177.9h0M411.3 167.2h0M411.5 144.6h0M412.1 165.9h0M412.2 174.8h0M411.7 176.3h0M411.8 162.5h0M411.9 146.5h0M411.8 171.4h0M411.1 179.1h0M411.1 175.9h0M411.9 167.6h0M411.8 176.7h0M412.2 162.9h0M411.1 138.2h0M411.9 171.9h0M411.2 132.7h0M412.0 178.0h0M412.0 144.3h0M412.3 164.5h0M412.1 132.6h0M411.3 138.4h0M411.3 139.5h0M411.9 180.7h0M411.1 174.6h0M411.3 179.2h0M411.4 162.6h0M411.6 178.4h0M411.9 149.4h0M412.1 171.5h0M411.0 180.4h0M412.3 170.1h0M412.3 172.1h0M412.0 148.7h0M411.0 180.7h0M411.2 180.9h0M411.4 157.0h0M411.2 170.3h0M412.2 142.1h0M411.3 174.0h0M411.7 171.1h0M411.5 166.6h0M411.1 156.1h0M411.7 122.3h0M411.7 169.9h0M411.8 164.5h0M411.2 182.1h0M412.3 152.1h0M411.4 166.9h0M411.9 161.4h0M411.8 180.0h0M411.2 147.2h0M411.5 116.5h0M412.0 181.0h0M412.0 172.8h0M411.2 165.7h0M411.6 168.4h0M411.9 147.6h0M411.9 169.1h0M412.2 146.6h0M411.7 166.4h0M411.2 170.2h0M411.5 156.9h0M412.3 175.3h0M412.2 175.7h0M411.4 134.4h0M411.8 150.1h0M412.0 122.7h0M411.8 165.4h0M411.8 146.7h0M411.8 166.2h0M411.2 165.1h0M411.3 171.8h0M412.1 154.6h0M411.9 167.3h0M412.2 154.5h0M412.1 178.9h0M411.5 178.1h0M411.5 149.5h0M412.3 148.4h0M412.1 145.1h0M411.6 171.0h0M411.2 173.5h0M411.2 169.7h0M411.4 158.2h0M411.1 141.9h0M411.4 142.4h0M411.9 150.1h0M411.1 150.6h0M411.3 157.6h0M412.0 104.1h0M412.2 179.6h0M411.4 156.5h0M411.4 178.8h0M412.1 167.2h0M412.0 173.7h0M411.6 164.1h0M411.4 169.8h0M411.7 180.1h0M411.7 164.6h0M411.7 140.4h0M411.8 158.2h0M412.0 158.0h0M411.3 163.3h0M411.9 158.2h0M411.5 170.2h0M411.6 177.9h0M411.3 162.3h0M411.4 153.6h0M411.5 165.2h0M411.9 169.9h0M411.9 159.6h0M411.0 178.4h0M411.4 149.3h0M411.7 133.4h0M412.1 156.0h0M411.7 165.2h0M411.8 142.3h0M411.3 158.9h0M411.5 154.9h0M411.5 164.1h0M411.0 155.2h0M412.0 166.6h0M411.8 156.3h0M412.1 180.9h0M411.4 163.3h0M411.7 178.1h0M411.7 157.4h0M411.6 173.6h0M411.8 180.4h0M411.5 154.5h0M411.6 168.3h0M411.7 178.9h0M412.1 177.5h0M411.4 155.4h0M411.0 159.7h0M412.3 159.2h0M411.1 158.0h0M412.3 163.6h0M411.7 180.9h0M411.6 160.6h0M411.1 177.9h0M411.1 172.6h0M411.1 165.2h0M411.4 147.1h0M411.7 165.4h0M411.5 168.1h0M411.2 166.1h0M412.2 173.2h0M411.1 171.5h0M411.3 174.0h0M411.3 182.0h0M412.3 171.4h0M412.2 169.8h0M412.2 172.4h0M411.7 152.5h0M412.0 160.6h0M412.2 149.5h0M412.2 180.4h0M411.2 156.3h0M411.8 145.0h0M412.0 180.5h0M411.8 180.2h0M411.1 166.6h0M411.3 146.2h0M412.0 156.3h0M412.3 157.9h0M411.1 158.6h0M411.9 180.7h0M411.9 166.5h0M411.8 166.4h0M412.0 159.3h0M411.1 172.5h0M420.5 78.5h0M457.0 83.7h0M479.9 78.5h0M543.1 110.1h0M539.9 133.6h0M513.9 114.1h0M489.5 91.3h0" stroke="#F5961E" stroke-width="3.60" stroke-linecap="round" fill="none"/>
<text transform="translate(374.00,101.00) rotate(-90)" x="0" y="0" font-size="11.3" text-anchor="middle" fill="#222" stroke="#222">Reproductive Fitness Replicate 2</text>
<text x="492.23" y="216.20" font-size="11.3" text-anchor="middle" fill="#222" stroke="#222">Reproductive Fitness Replicate 1</text>
<text x="435.70" y="24.60" font-size="11.0" text-anchor="start" fill="#F5961E" stroke="#F5961E" font-style="italic" stroke-width="0.1">nud-2(ok949)</text>
<text x="525.20" y="159.30" font-size="10.8" text-anchor="start" fill="#222" stroke="#222">r = 0.753</text>
<text x="526.00" y="170.6" font-size="10.8" fill="#222" stroke="#222"><tspan font-style="italic">p</tspan> &lt; 0.0001</text>
<line x1="411.00" y1="177.70" x2="543.80" y2="79.00" stroke="#111" stroke-width="1.5"/>
<text x="1.20" y="12.00" font-size="16" text-anchor="start" fill="#000" stroke="#000" font-weight="bold">a</text>
<text x="365.20" y="11.90" font-size="16" text-anchor="start" fill="#000" stroke="#000" font-weight="bold">b</text>
<line x1="48.00" y1="257.90" x2="48.00" y2="420.70" stroke="#141414" stroke-width="1.5"/>
<line x1="44.00" y1="258.50" x2="48.00" y2="258.50" stroke="#141414" stroke-width="1.4"/>
<text x="40.50" y="262.40" font-size="11.3" text-anchor="end" fill="#222" stroke="#222">2.0</text>
<line x1="44.00" y1="298.90" x2="48.00" y2="298.90" stroke="#141414" stroke-width="1.4"/>
<text x="40.50" y="302.80" font-size="11.3" text-anchor="end" fill="#222" stroke="#222">1.5</text>
<line x1="44.00" y1="339.30" x2="48.00" y2="339.30" stroke="#141414" stroke-width="1.4"/>
<text x="40.50" y="343.20" font-size="11.3" text-anchor="end" fill="#222" stroke="#222">1.0</text>
<line x1="44.00" y1="379.70" x2="48.00" y2="379.70" stroke="#141414" stroke-width="1.4"/>
<text x="40.50" y="383.60" font-size="11.3" text-anchor="end" fill="#222" stroke="#222">0.5</text>
<line x1="44.00" y1="420.10" x2="48.00" y2="420.10" stroke="#141414" stroke-width="1.4"/>
<text x="40.50" y="424.00" font-size="11.3" text-anchor="end" fill="#222" stroke="#222">0.0</text>
<line x1="47.40" y1="420.10" x2="292.20" y2="420.10" stroke="#141414" stroke-width="1.5"/>
<line x1="48.00" y1="420.10" x2="48.00" y2="424.10" stroke="#141414" stroke-width="1.4"/>
<text x="48.00" y="437.20" font-size="11.3" text-anchor="middle" fill="#222" stroke="#222">0</text>
<line x1="88.60" y1="420.10" x2="88.60" y2="424.10" stroke="#141414" stroke-width="1.4"/>
<text x="88.60" y="437.20" font-size="11.3" text-anchor="middle" fill="#222" stroke="#222">50</text>
<line x1="129.20" y1="420.10" x2="129.20" y2="424.10" stroke="#141414" stroke-width="1.4"/>
<text x="129.20" y="437.20" font-size="11.3" text-anchor="middle" fill="#222" stroke="#222">100</text>
<line x1="169.80" y1="420.10" x2="169.80" y2="424.10" stroke="#141414" stroke-width="1.4"/>
<text x="169.80" y="437.20" font-size="11.3" text-anchor="middle" fill="#222" stroke="#222">150</text>
<line x1="210.40" y1="420.10" x2="210.40" y2="424.10" stroke="#141414" stroke-width="1.4"/>
<text x="210.40" y="437.20" font-size="11.3" text-anchor="middle" fill="#222" stroke="#222">200</text>
<line x1="251.00" y1="420.10" x2="251.00" y2="424.10" stroke="#141414" stroke-width="1.4"/>
<text x="251.00" y="437.20" font-size="11.3" text-anchor="middle" fill="#222" stroke="#222">250</text>
<line x1="291.60" y1="420.10" x2="291.60" y2="424.10" stroke="#141414" stroke-width="1.4"/>
<text x="291.60" y="437.20" font-size="11.3" text-anchor="middle" fill="#222" stroke="#222">300</text>
<line x1="49.50" y1="379.70" x2="291.60" y2="379.70" stroke="#111" stroke-width="1.6" stroke-dasharray="3.6 4.0"/>
<path d="M77.6 372.7h0M160.7 363.3h0M183.6 359.5h0M55.2 365.2h0M82.0 340.2h0M256.8 351.6h0M64.6 354.1h0M77.9 347.9h0M261.3 365.4h0M188.2 364.9h0M131.5 364.5h0M163.4 347.8h0M197.4 349.7h0M110.5 346.8h0M79.7 340.8h0M225.4 370.3h0M199.0 360.6h0M163.6 352.1h0M231.9 370.2h0M171.9 360.3h0M268.6 341.6h0M94.6 340.5h0M172.9 340.8h0M157.2 353.3h0M128.0 356.4h0M181.4 340.8h0M101.5 358.4h0M228.6 349.7h0M243.2 337.8h0M77.7 358.3h0M153.5 361.2h0M110.9 354.0h0M67.4 346.6h0M249.6 348.0h0M145.2 352.0h0M81.9 347.1h0M199.7 373.2h0M94.1 364.3h0M250.8 351.9h0M97.5 365.1h0M56.2 370.1h0M93.8 368.5h0M126.3 365.0h0M153.9 356.0h0M251.9 366.2h0M205.1 351.0h0M124.9 333.3h0M52.6 355.6h0M84.6 338.4h0M272.1 350.3h0M151.8 367.4h0M203.7 357.0h0M61.1 365.7h0M56.4 344.5h0M238.4 367.8h0M180.6 337.8h0M118.0 346.8h0M119.9 378.4h0M68.8 344.3h0M87.5 335.0h0M54.3 363.4h0M236.9 341.9h0M153.3 375.6h0M77.3 350.8h0M214.5 374.0h0M92.7 348.0h0M62.7 375.5h0M249.6 349.0h0M54.9 326.1h0M229.3 361.1h0M91.4 343.8h0M69.6 352.5h0M52.8 357.8h0M114.5 346.4h0M211.8 333.9h0M159.3 368.8h0M240.0 347.0h0M97.5 349.7h0M119.4 371.1h0M106.7 334.3h0M268.1 330.2h0M259.7 365.4h0M125.2 332.8h0M146.5 353.2h0M119.3 355.8h0M216.1 335.6h0M57.8 351.1h0M63.9 349.9h0M139.4 335.4h0M103.7 338.2h0M238.2 343.0h0M215.1 370.8h0M171.1 372.9h0M197.1 340.2h0M204.0 365.1h0M223.9 352.0h0M256.7 366.9h0M82.4 356.1h0M189.1 369.3h0M81.0 334.1h0M148.1 366.2h0M225.0 355.3h0M249.3 356.1h0M219.0 339.2h0M56.7 371.1h0M129.4 354.2h0M85.4 356.4h0M272.7 347.4h0M81.1 348.1h0M103.6 359.5h0M128.9 350.9h0M62.5 358.4h0M243.9 348.2h0M191.4 355.1h0M84.6 361.8h0M160.5 354.2h0M66.4 349.4h0M185.7 326.4h0M100.7 359.8h0M57.5 350.1h0M74.6 336.1h0M173.3 379.0h0M191.6 375.0h0M121.6 368.3h0M193.0 355.2h0M127.7 324.3h0M78.1 349.1h0M119.5 339.2h0M137.4 356.5h0M74.7 381.9h0M68.1 341.5h0M174.7 351.6h0M264.7 369.6h0M252.1 340.3h0M205.7 372.5h0M63.8 340.1h0M229.5 336.3h0M202.0 363.1h0M81.1 367.3h0M153.0 343.6h0M59.9 367.1h0M228.5 343.4h0M209.9 368.3h0M229.1 344.1h0M219.2 352.7h0M108.7 359.1h0M225.8 364.7h0M104.7 351.0h0M79.7 376.8h0M136.3 357.2h0M160.4 358.6h0M112.9 345.6h0M184.6 369.0h0M183.8 333.1h0M102.6 357.6h0M188.3 367.6h0M128.9 337.0h0M213.5 333.7h0M113.9 356.1h0M227.8 364.6h0M141.8 353.6h0M172.8 362.2h0M199.7 357.6h0M165.0 335.0h0M106.5 349.1h0M268.3 352.1h0M70.3 349.7h0M121.6 354.5h0M171.9 343.6h0M55.2 343.2h0M83.5 358.3h0M227.9 352.6h0M224.5 324.6h0M191.6 348.7h0M250.9 356.1h0M218.1 329.0h0M115.8 353.7h0M193.3 367.1h0M125.0 345.7h0M216.9 364.7h0M135.0 359.9h0M83.2 349.9h0M245.2 355.4h0M203.5 363.1h0M215.7 360.5h0M174.2 361.0h0M224.3 339.7h0M149.2 362.6h0M175.6 360.8h0M62.8 329.1h0M173.2 360.6h0M231.4 335.8h0M206.9 337.9h0M228.8 355.7h0M160.0 371.0h0M246.3 348.4h0M73.1 345.7h0M245.1 342.1h0M132.0 353.0h0M69.2 339.2h0M187.6 337.0h0M150.8 366.6h0M144.8 336.5h0M239.8 351.7h0M79.7 360.7h0M187.1 357.7h0M141.5 331.1h0M167.2 341.9h0M160.7 375.5h0M78.9 352.8h0M163.6 355.5h0M242.0 356.0h0M87.2 360.1h0M51.4 371.5h0M64.0 343.4h0M151.9 365.2h0M267.2 358.3h0M58.7 361.1h0M270.9 362.7h0M168.9 344.8h0M75.7 349.2h0M142.6 362.0h0M95.3 365.3h0M208.9 359.5h0M170.2 342.1h0M113.3 352.3h0M106.1 351.0h0M243.1 357.8h0M220.5 357.0h0M146.6 351.2h0M139.7 376.2h0M214.1 334.3h0M266.4 363.4h0M66.6 360.7h0M84.5 337.6h0M130.0 351.1h0M162.6 353.3h0M64.8 360.9h0M60.8 372.8h0M98.0 351.6h0M135.3 339.4h0M214.5 364.7h0M185.5 337.3h0M55.4 367.5h0M58.9 362.7h0M150.1 347.7h0M244.9 353.8h0M253.9 345.5h0M130.6 362.8h0M247.7 366.3h0M257.0 376.5h0M139.9 368.4h0M216.0 366.9h0M130.7 371.1h0M83.2 350.1h0M177.7 361.9h0M68.2 377.9h0M197.5 323.7h0M230.2 364.0h0M254.0 369.1h0M149.2 338.8h0M75.1 339.7h0M251.1 367.8h0M243.9 371.7h0M265.7 366.0h0M181.9 340.2h0M199.7 357.6h0M132.5 363.6h0M89.9 354.2h0M114.2 339.2h0M84.5 296.5h0M88.6 309.4h0M137.3 310.2h0M187.7 282.7h0M64.2 324.8h0M121.1 323.9h0M190.1 326.4h0" stroke="#a8a8a8" stroke-width="3.70" stroke-linecap="round" fill="none"/>
<path d="M48.8 399.8h0M48.9 396.0h0M49.6 403.2h0M49.4 394.4h0M50.2 394.7h0M50.3 394.4h0M51.1 397.9h0M51.6 402.5h0M52.1 397.4h0M52.1 391.8h0M52.7 394.2h0M52.7 404.4h0M53.9 410.2h0M53.5 395.2h0M54.7 405.0h0M54.8 389.6h0M55.4 395.0h0M55.2 402.3h0M56.4 397.3h0M56.2 398.1h0M56.6 412.4h0M56.8 399.6h0M57.9 399.7h0M57.7 400.0h0M58.7 387.5h0M58.7 396.9h0M59.0 408.2h0M59.7 405.2h0M60.2 399.1h0M60.4 408.1h0M60.8 407.3h0M61.2 399.6h0M61.5 396.8h0M61.9 400.4h0M62.6 400.4h0M62.5 397.5h0M63.6 398.2h0M63.8 407.6h0M64.3 405.6h0M64.4 403.0h0M65.0 394.3h0M64.9 397.4h0M66.2 396.0h0M65.6 382.0h0M66.9 398.4h0M66.6 372.6h0M67.8 390.2h0M67.9 394.8h0M67.9 401.6h0M68.1 398.5h0M69.4 406.6h0M69.1 401.9h0M69.5 404.6h0M70.3 414.9h0M71.0 396.5h0M70.9 411.4h0M71.3 396.2h0M71.4 398.0h0M72.2 397.7h0M72.4 397.5h0M73.4 398.1h0M73.2 406.8h0M74.2 409.5h0M74.1 406.3h0M75.0 394.1h0M74.8 410.5h0M75.9 405.6h0M75.3 407.7h0M76.5 399.5h0M76.2 399.9h0M77.2 405.5h0M77.1 409.7h0M77.8 403.8h0M78.0 393.3h0M78.9 402.9h0M78.5 384.3h0M79.6 406.7h0M80.1 378.9h0M80.6 391.7h0M80.4 393.6h0M81.5 400.2h0M81.0 403.8h0M82.5 373.5h0M82.3 406.9h0M82.9 418.3h0M83.0 405.5h0M83.9 392.9h0M83.7 392.0h0M84.4 393.3h0M84.8 391.4h0M85.6 406.4h0M85.7 419.2h0M85.8 403.8h0M86.1 398.0h0M87.1 411.6h0M87.4 395.8h0M87.7 396.1h0M87.6 403.5h0M88.9 401.7h0M88.4 402.1h0M89.0 399.4h0M89.3 416.3h0M90.4 382.9h0M90.3 404.7h0M90.7 398.8h0M90.9 371.9h0M92.0 408.1h0M91.6 393.5h0M92.8 404.1h0M92.6 400.7h0M93.8 392.7h0M93.4 409.4h0M94.1 395.4h0M94.5 411.0h0M95.5 399.9h0M94.9 393.9h0M95.8 407.5h0M96.3 404.3h0M96.7 405.5h0M96.9 401.9h0M97.9 406.6h0M97.3 407.4h0M98.4 409.7h0M98.2 407.5h0M99.4 386.7h0M99.1 414.7h0M100.0 404.2h0M100.3 393.5h0M101.1 403.7h0M100.5 397.7h0M101.3 411.2h0M101.7 398.7h0M102.7 401.4h0M102.0 404.5h0M103.5 406.7h0M103.5 398.6h0M104.3 402.5h0M104.2 413.0h0M105.2 414.1h0M104.7 407.9h0M105.5 406.1h0M105.8 403.3h0M106.3 408.7h0M106.2 414.2h0M107.2 410.0h0M107.5 394.7h0M108.1 398.4h0M107.9 402.0h0M108.5 407.4h0M109.2 404.3h0M109.4 417.0h0M109.5 406.6h0M110.9 409.8h0M110.3 412.1h0M111.0 404.8h0M111.2 377.4h0M111.9 401.0h0M112.1 415.1h0M113.0 407.6h0M112.6 413.6h0M114.1 375.6h0M113.5 406.1h0M115.0 395.1h0M114.4 405.6h0M115.1 410.2h0M115.3 406.2h0M116.3 417.3h0M116.6 397.7h0M116.8 397.4h0M117.0 411.8h0M118.0 403.1h0M118.0 408.1h0M118.6 393.6h0M118.4 399.0h0M119.5 403.3h0M119.4 395.8h0M120.6 407.8h0M120.3 408.1h0M120.9 414.2h0M121.1 402.3h0M121.8 409.5h0M121.6 409.5h0M123.0 408.8h0M122.6 415.8h0M123.3 395.8h0M123.6 406.8h0M124.5 401.7h0M124.4 405.9h0M125.5 397.6h0M124.8 396.0h0M125.6 398.6h0M126.3 398.3h0M126.6 393.2h0M126.8 410.9h0M127.8 413.6h0M127.6 393.7h0M128.4 406.5h0M128.6 402.3h0M129.5 411.4h0M129.3 412.0h0M130.1 403.7h0M129.9 401.5h0M130.5 415.4h0M130.8 407.2h0M131.5 412.1h0M131.6 410.9h0M132.6 400.1h0M132.2 411.2h0M133.0 388.7h0M133.0 400.5h0M134.1 406.1h0M134.4 399.3h0M134.7 400.2h0M135.3 410.6h0M135.6 400.6h0M136.1 396.5h0M136.8 395.7h0M136.4 403.1h0M137.0 405.6h0M137.5 399.4h0M138.5 414.7h0M137.8 403.1h0M138.8 406.9h0M139.0 411.9h0M140.0 404.3h0M139.9 400.1h0M140.6 406.5h0M140.9 403.8h0M141.1 406.6h0M141.2 395.1h0M142.3 396.4h0M142.4 409.3h0M142.6 405.9h0M143.0 393.7h0M144.0 400.8h0M144.1 402.9h0M145.0 398.0h0M144.9 417.2h0M145.5 411.7h0M145.6 406.7h0M146.6 390.4h0M146.5 387.1h0M147.0 406.0h0M147.4 394.1h0M147.7 399.5h0M147.5 399.3h0M148.5 400.0h0M148.6 375.9h0M149.2 401.7h0M149.2 401.8h0M150.3 387.3h0M150.4 370.4h0M151.5 395.4h0M151.4 402.9h0M152.1 409.0h0M152.1 398.1h0M152.8 399.1h0M153.1 400.2h0M153.2 392.9h0M153.8 405.2h0M154.5 397.2h0M154.1 404.8h0M154.9 398.1h0M155.4 394.9h0M155.6 399.4h0M156.1 396.7h0M157.1 396.2h0M156.9 410.3h0M157.2 411.0h0M157.9 398.4h0M158.8 398.0h0M158.4 410.0h0M159.6 404.1h0M159.3 386.4h0M160.1 408.0h0M160.1 402.9h0M160.8 399.7h0M160.7 411.1h0M161.5 396.7h0M161.9 388.9h0M162.7 401.4h0M162.3 396.3h0M163.1 405.3h0M163.7 410.7h0M164.1 412.0h0M164.0 404.9h0M164.8 410.4h0M165.1 409.2h0M165.8 396.2h0M165.6 405.5h0M166.6 404.7h0M166.3 399.0h0M167.4 400.6h0M167.5 405.7h0M167.9 411.9h0M167.8 394.7h0M169.0 400.4h0M168.9 405.2h0M170.0 403.7h0M170.1 411.8h0M171.0 393.0h0M170.5 401.9h0M171.2 405.3h0M171.2 400.4h0M172.4 402.1h0M172.6 398.3h0M173.3 396.8h0M172.8 392.4h0M174.1 405.0h0M174.2 408.1h0M174.5 402.8h0M174.8 405.7h0M175.4 402.7h0M175.9 403.4h0M176.1 406.5h0M176.6 389.9h0M177.3 414.2h0M176.9 401.6h0M178.1 397.1h0M177.7 408.5h0M179.1 393.3h0M179.1 415.7h0M179.9 403.8h0M179.2 398.2h0M180.7 409.1h0M180.7 405.5h0M181.6 389.7h0M181.4 401.0h0M182.1 403.4h0M182.3 403.5h0M182.7 391.2h0M182.5 403.1h0M183.9 405.0h0M183.7 391.7h0M184.5 402.7h0M184.1 412.0h0M185.2 400.5h0M185.1 400.7h0M186.3 403.6h0M186.2 410.0h0M186.8 393.3h0M187.2 406.0h0M187.8 396.6h0M187.3 403.0h0M188.8 407.6h0M188.2 402.2h0M189.2 397.3h0M189.5 390.0h0M189.8 410.3h0M190.1 407.4h0M190.5 413.4h0M190.6 399.5h0M191.5 400.3h0M191.4 402.0h0M192.6 403.2h0M192.3 394.6h0M193.1 402.7h0M193.3 409.9h0M194.1 408.3h0M194.2 399.4h0M195.0 391.3h0M195.1 403.5h0M196.2 397.9h0M195.9 406.9h0M196.7 396.1h0M196.7 392.4h0M197.8 396.2h0M197.6 403.0h0M198.2 393.6h0M197.8 406.9h0M199.0 401.5h0M199.4 402.9h0M199.8 403.1h0M200.1 412.1h0M200.6 407.3h0M201.0 381.3h0M201.7 393.3h0M201.5 404.3h0M201.9 399.5h0M202.1 408.4h0M203.3 411.1h0M203.2 410.8h0M204.1 390.5h0M204.2 409.2h0M204.7 416.1h0M204.4 394.5h0M205.5 405.0h0M205.2 398.7h0M206.1 402.9h0M206.1 400.5h0M207.3 394.5h0M207.3 396.4h0M208.3 399.5h0M208.1 402.9h0M208.7 388.9h0M209.0 395.4h0M209.6 398.1h0M209.8 399.0h0M210.1 398.0h0M210.7 399.0h0M211.0 397.4h0M211.1 413.4h0M211.8 394.3h0M211.6 405.7h0M212.7 397.9h0M213.2 390.7h0M213.8 407.8h0M213.5 408.5h0M214.1 408.8h0M214.3 391.4h0M215.1 387.7h0M215.4 394.2h0M216.3 398.2h0M216.5 403.2h0M217.1 409.7h0M216.7 394.3h0M218.1 404.4h0M217.3 406.4h0M218.4 408.0h0M218.6 403.4h0M219.3 397.3h0M219.1 403.3h0M220.5 401.7h0M219.9 415.9h0M221.2 394.3h0M221.3 403.1h0M222.1 377.1h0M222.1 403.9h0M222.3 381.9h0M222.7 398.4h0M223.1 399.1h0M223.4 408.6h0M223.9 413.8h0M223.9 404.0h0M225.0 405.9h0M225.0 402.4h0M225.9 403.4h0M225.9 408.8h0M226.5 408.3h0M226.3 395.1h0M227.4 399.4h0M227.8 407.6h0M227.9 399.6h0M228.3 405.7h0M228.8 408.5h0M229.5 374.5h0M229.5 402.8h0M229.6 407.1h0M230.5 411.4h0M230.8 410.0h0M231.7 397.5h0M231.3 418.7h0M232.5 403.0h0M232.5 404.2h0M233.0 403.6h0M232.9 402.7h0M233.6 391.8h0M233.8 399.4h0M235.0 411.8h0M234.5 397.9h0M235.3 404.0h0M235.6 396.6h0M236.6 400.1h0M236.5 400.2h0M237.5 378.7h0M237.1 407.6h0M237.7 401.5h0M238.1 403.6h0M238.7 398.4h0M239.1 401.5h0M239.6 408.4h0M239.4 405.6h0M240.6 404.3h0M240.1 394.4h0M241.5 411.5h0M241.4 392.5h0M241.7 397.7h0M242.2 401.8h0M242.9 398.5h0M243.1 397.1h0M243.7 409.2h0M243.8 391.5h0M244.7 403.2h0M244.9 406.4h0M245.3 411.5h0M245.2 381.0h0M245.8 404.0h0M246.3 401.2h0M247.0 402.5h0M246.9 400.5h0M247.9 406.8h0M248.0 394.0h0M248.7 398.4h0M248.3 391.4h0M249.5 399.2h0M249.3 404.8h0M250.0 398.0h0M250.2 406.3h0M251.2 389.6h0M251.0 386.0h0M251.8 395.1h0M251.9 398.7h0M252.4 408.7h0M252.4 401.9h0M253.8 404.6h0M253.4 396.2h0M253.9 400.5h0M254.1 400.2h0M254.8 389.7h0M255.4 390.5h0M256.3 396.1h0M255.7 399.4h0M256.6 398.2h0M256.8 397.5h0M257.8 390.1h0M257.3 395.0h0M258.6 385.6h0M258.5 389.9h0M258.9 398.3h0M259.4 396.0h0M260.2 394.4h0M260.1 402.3h0M261.0 406.5h0M260.5 379.5h0M261.6 391.0h0M261.6 400.0h0M262.7 399.6h0M262.7 395.7h0M263.1 395.0h0M263.2 387.0h0M264.3 401.5h0M264.0 398.3h0M264.6 381.9h0M264.8 390.6h0M265.9 389.4h0M265.7 401.3h0M266.3 393.5h0M266.2 391.0h0M267.4 396.2h0M266.9 393.6h0M268.3 393.4h0M267.9 395.2h0M269.1 396.1h0M269.0 397.8h0M270.0 392.3h0M269.6 395.4h0M270.4 394.2h0M270.4 386.8h0M271.6 394.5h0M271.2 403.4h0M272.4 390.9h0M272.1 394.5h0M272.8 390.7h0M273.0 374.9h0" stroke="#1a8fe6" stroke-width="3.70" stroke-linecap="round" fill="none"/>
<text transform="translate(13.50,339.00) rotate(-90)" x="0" y="0" font-size="11.3" text-anchor="middle" fill="#222" stroke="#222">Reproductive Fitness Ratio</text>
<text x="169.80" y="454.70" font-size="11.3" text-anchor="middle" fill="#222" stroke="#222">96-well Plate</text>
<text x="72.40" y="262.00" font-size="11.0" text-anchor="start" fill="#8a8a8a" stroke="#8a8a8a" font-style="italic" stroke-width="0.1">empty vector</text>
<text x="72.40" y="273.30" font-size="11.0" text-anchor="start" fill="#1a8fe6" stroke="#1a8fe6" font-style="italic" stroke-width="0.1">lis-1(RNAi)</text>
<line x1="411.30" y1="257.90" x2="411.30" y2="420.70" stroke="#141414" stroke-width="1.5"/>
<line x1="407.30" y1="258.50" x2="411.30" y2="258.50" stroke="#141414" stroke-width="1.4"/>
<text x="403.80" y="262.40" font-size="11.3" text-anchor="end" fill="#222" stroke="#222">2.0</text>
<line x1="407.30" y1="298.90" x2="411.30" y2="298.90" stroke="#141414" stroke-width="1.4"/>
<text x="403.80" y="302.80" font-size="11.3" text-anchor="end" fill="#222" stroke="#222">1.5</text>
<line x1="407.30" y1="339.30" x2="411.30" y2="339.30" stroke="#141414" stroke-width="1.4"/>
<text x="403.80" y="343.20" font-size="11.3" text-anchor="end" fill="#222" stroke="#222">1.0</text>
<line x1="407.30" y1="379.70" x2="411.30" y2="379.70" stroke="#141414" stroke-width="1.4"/>
<text x="403.80" y="383.60" font-size="11.3" text-anchor="end" fill="#222" stroke="#222">0.5</text>
<line x1="407.30" y1="420.10" x2="411.30" y2="420.10" stroke="#141414" stroke-width="1.4"/>
<text x="403.80" y="424.00" font-size="11.3" text-anchor="end" fill="#222" stroke="#222">0.0</text>
<line x1="410.70" y1="420.10" x2="655.50" y2="420.10" stroke="#141414" stroke-width="1.5"/>
<line x1="411.30" y1="420.10" x2="411.30" y2="424.10" stroke="#141414" stroke-width="1.4"/>
<text x="411.30" y="437.20" font-size="11.3" text-anchor="middle" fill="#222" stroke="#222">0</text>
<line x1="451.90" y1="420.10" x2="451.90" y2="424.10" stroke="#141414" stroke-width="1.4"/>
<text x="451.90" y="437.20" font-size="11.3" text-anchor="middle" fill="#222" stroke="#222">50</text>
<line x1="492.50" y1="420.10" x2="492.50" y2="424.10" stroke="#141414" stroke-width="1.4"/>
<text x="492.50" y="437.20" font-size="11.3" text-anchor="middle" fill="#222" stroke="#222">100</text>
<line x1="533.10" y1="420.10" x2="533.10" y2="424.10" stroke="#141414" stroke-width="1.4"/>
<text x="533.10" y="437.20" font-size="11.3" text-anchor="middle" fill="#222" stroke="#222">150</text>
<line x1="573.70" y1="420.10" x2="573.70" y2="424.10" stroke="#141414" stroke-width="1.4"/>
<text x="573.70" y="437.20" font-size="11.3" text-anchor="middle" fill="#222" stroke="#222">200</text>
<line x1="614.30" y1="420.10" x2="614.30" y2="424.10" stroke="#141414" stroke-width="1.4"/>
<text x="614.30" y="437.20" font-size="11.3" text-anchor="middle" fill="#222" stroke="#222">250</text>
<line x1="654.90" y1="420.10" x2="654.90" y2="424.10" stroke="#141414" stroke-width="1.4"/>
<text x="654.90" y="437.20" font-size="11.3" text-anchor="middle" fill="#222" stroke="#222">300</text>
<line x1="412.80" y1="379.70" x2="654.90" y2="379.70" stroke="#111" stroke-width="1.6" stroke-dasharray="3.6 4.0"/>
<path d="M624.3 341.5h0M454.5 348.5h0M452.3 351.4h0M490.5 343.6h0M463.8 350.9h0M562.4 368.6h0M437.9 364.8h0M613.0 357.8h0M604.4 342.8h0M412.7 355.0h0M533.5 364.6h0M436.1 350.5h0M469.9 372.5h0M505.5 326.7h0M513.8 351.3h0M517.0 369.1h0M620.0 353.2h0M470.1 340.6h0M454.2 348.0h0M562.4 327.4h0M624.3 375.1h0M618.9 333.5h0M609.4 355.9h0M426.5 343.3h0M622.0 331.8h0M557.6 372.0h0M607.4 375.0h0M503.6 360.8h0M461.3 378.4h0M560.4 354.3h0M586.7 339.4h0M457.2 362.1h0M442.2 348.5h0M416.6 350.8h0M624.0 359.6h0M442.4 357.6h0M546.6 349.4h0M506.0 359.3h0M484.7 345.8h0M450.3 352.3h0M587.0 342.6h0M617.1 353.3h0M575.5 356.4h0M546.6 368.2h0M571.6 374.4h0M532.3 359.2h0M537.2 360.7h0M615.2 351.4h0M475.5 356.3h0M461.9 360.7h0M624.3 324.1h0M623.5 350.9h0M518.8 338.5h0M591.6 369.4h0M578.7 341.4h0M624.9 339.1h0M430.4 349.1h0M613.4 367.5h0M524.2 337.9h0M512.7 365.3h0M566.0 376.8h0M550.3 377.7h0M509.9 354.4h0M477.4 362.1h0M618.0 344.2h0M595.6 346.1h0M435.1 336.4h0M502.8 350.7h0M583.2 353.8h0M609.1 355.2h0M627.8 366.2h0M466.1 366.8h0M612.0 365.4h0M567.8 352.1h0M427.4 367.1h0M459.3 356.6h0M454.4 340.5h0M566.2 367.6h0M481.6 369.2h0M567.1 355.7h0M430.4 376.2h0M607.4 364.9h0M568.0 324.0h0M587.4 374.6h0M548.0 356.9h0M514.7 352.9h0M455.4 359.9h0M623.3 372.4h0M444.7 342.0h0M439.3 369.3h0M436.4 359.1h0M568.3 364.7h0M611.3 339.9h0M515.5 360.5h0M590.2 329.9h0M604.8 356.5h0M532.1 335.1h0M585.9 350.6h0M477.8 360.0h0M445.8 360.6h0M454.5 342.5h0M413.7 364.2h0M428.1 357.2h0M580.5 367.7h0M424.9 349.3h0M573.7 348.0h0M586.4 373.4h0M564.8 350.2h0M523.9 360.1h0M567.8 369.8h0M467.0 347.6h0M580.8 342.4h0M455.2 351.3h0M420.0 318.1h0M621.4 351.8h0M432.4 366.9h0M456.2 376.9h0M424.7 335.9h0M414.4 363.0h0M439.9 361.6h0M618.6 367.7h0M568.0 367.7h0M502.9 361.4h0M413.6 349.9h0M597.8 348.7h0M520.8 351.3h0M603.5 343.0h0M525.1 362.8h0M429.7 370.1h0M428.6 356.6h0M462.0 344.0h0M445.8 348.7h0M503.8 348.4h0M470.7 370.7h0M474.1 362.5h0M589.9 355.4h0M517.3 369.7h0M635.3 370.7h0M434.1 358.6h0M478.1 353.6h0M609.6 364.9h0M509.7 341.4h0M584.6 325.0h0M509.2 347.7h0M503.1 358.2h0M610.7 360.1h0M482.4 333.4h0M534.6 351.4h0M538.6 347.2h0M421.8 352.5h0M434.3 363.4h0M465.0 334.7h0M412.7 358.9h0M565.2 353.5h0M488.8 325.7h0M506.0 345.2h0M421.3 356.9h0M502.0 366.5h0M600.7 364.1h0M420.6 379.2h0M558.5 349.2h0M567.0 367.7h0M461.3 349.7h0M478.3 349.4h0M452.4 329.1h0M538.9 352.6h0M494.9 351.5h0M441.3 348.6h0M476.9 364.1h0M466.9 358.9h0M633.3 350.9h0M548.9 339.4h0M519.4 345.0h0M521.7 359.0h0M541.2 338.4h0M632.0 360.4h0M498.4 376.2h0M424.9 333.5h0M453.5 354.7h0M413.8 361.3h0M457.3 371.5h0M547.1 360.9h0M469.8 331.5h0M599.5 355.5h0M625.4 324.0h0M439.5 354.2h0M592.7 338.9h0M560.4 354.0h0M634.6 360.8h0M454.5 360.3h0M583.6 358.1h0M486.5 371.1h0M456.7 371.5h0M470.3 349.4h0M622.4 337.2h0M519.4 352.2h0M509.6 353.6h0M607.5 366.9h0M604.3 338.7h0M613.1 339.8h0M417.2 370.3h0M635.2 353.3h0M565.9 358.8h0M614.4 374.8h0M592.1 332.0h0M613.4 337.9h0M610.7 349.8h0M557.1 334.7h0M440.6 361.2h0M564.5 350.3h0M420.1 335.5h0M490.6 358.2h0M475.6 350.0h0M478.3 367.5h0M592.8 345.2h0M609.8 338.2h0M614.1 367.7h0M551.0 365.2h0M585.1 355.3h0M440.3 335.1h0M489.8 361.4h0M588.5 365.9h0M514.0 356.0h0M522.9 338.8h0M588.0 375.7h0M462.2 356.9h0M606.3 336.6h0M578.0 355.1h0M429.3 358.6h0M507.2 342.9h0M617.5 371.4h0M472.7 326.5h0M414.9 348.2h0M450.4 360.1h0M533.8 353.8h0M434.9 355.9h0M424.2 359.0h0M442.8 371.9h0M597.0 358.5h0M629.1 378.8h0M442.4 336.3h0M537.2 370.8h0M564.6 365.4h0M427.9 366.3h0M609.3 345.4h0M579.7 358.1h0M564.7 335.7h0M519.8 361.7h0M589.2 353.4h0M597.0 356.3h0M476.1 360.1h0M465.2 340.1h0M632.5 338.5h0M520.7 337.4h0M504.6 374.5h0M621.6 350.7h0M573.8 370.9h0M579.4 371.3h0M592.4 380.3h0M599.2 368.5h0M565.1 347.3h0M635.1 336.3h0M589.3 331.6h0M597.6 367.9h0M598.4 364.0h0M422.5 352.2h0M633.9 353.4h0M583.4 352.5h0M431.1 379.6h0M573.7 358.1h0M571.0 347.5h0M523.9 351.9h0M480.0 357.1h0M532.9 365.5h0M448.6 356.8h0M500.4 333.5h0M551.8 348.6h0M572.4 341.0h0M533.9 332.7h0M611.3 370.5h0M612.2 346.3h0M616.0 349.2h0M544.9 337.3h0M467.9 358.9h0M422.4 358.6h0M542.1 364.7h0M527.9 353.2h0M412.5 359.6h0M444.0 357.9h0M628.9 351.2h0M580.5 361.0h0M614.9 368.6h0M484.8 361.5h0M508.9 363.4h0M543.0 350.0h0M502.3 338.8h0M419.2 360.6h0M561.4 347.9h0M492.3 356.8h0M619.2 368.9h0M621.1 359.4h0M418.6 330.4h0M505.3 376.5h0M547.4 372.0h0M503.5 356.9h0M479.7 362.4h0M613.3 342.7h0M489.3 348.6h0M610.8 350.9h0M434.7 360.7h0M603.0 358.3h0M600.8 318.4h0M538.5 352.8h0M480.3 337.5h0M499.6 373.3h0M440.7 352.6h0M474.7 351.0h0M527.7 353.9h0M517.6 361.8h0M607.7 336.0h0M460.0 348.4h0M587.6 366.8h0M605.4 344.0h0M491.6 381.8h0M424.9 348.0h0M595.9 351.3h0M575.6 364.5h0M520.7 370.0h0M619.7 378.9h0M470.4 359.1h0M575.0 332.2h0M557.4 344.2h0M498.9 350.4h0M586.6 343.3h0M436.0 364.2h0M481.2 348.8h0M628.3 362.8h0M583.0 362.7h0M424.7 357.1h0M552.4 358.5h0M442.9 348.1h0M499.6 364.8h0M628.1 343.5h0M473.5 359.7h0M435.3 344.3h0M619.9 354.7h0M459.9 344.6h0M544.0 350.0h0M470.7 364.6h0M623.9 353.8h0M580.6 374.3h0M591.3 355.7h0M435.0 351.2h0M493.2 360.2h0M603.9 358.7h0M478.0 342.9h0M436.2 339.9h0M603.9 336.9h0M472.5 364.3h0M544.7 362.3h0M454.8 345.5h0M439.3 344.2h0M522.5 381.4h0M555.3 329.3h0M584.5 340.5h0M621.0 373.5h0M528.6 340.5h0M566.1 362.0h0M482.1 357.9h0M612.1 369.7h0M489.3 367.4h0M420.5 361.5h0M459.3 354.9h0M444.4 371.4h0M555.5 357.1h0M447.7 365.9h0M514.2 363.4h0M485.7 368.3h0M590.3 364.7h0M477.2 334.1h0M465.3 378.3h0M476.7 374.2h0M454.8 357.1h0M559.1 363.0h0M529.3 370.6h0M567.9 350.6h0M438.2 372.2h0M591.8 356.2h0M533.8 343.1h0M630.4 348.4h0M633.6 360.1h0M415.4 356.1h0M547.0 353.8h0M469.1 347.9h0M567.7 369.3h0M442.8 338.8h0M539.2 345.9h0M582.8 330.6h0M539.8 344.6h0M479.8 342.1h0M621.5 362.3h0M474.0 330.6h0M436.7 350.9h0M500.5 362.4h0M503.7 346.6h0M500.1 355.0h0M624.7 350.7h0M466.1 366.1h0M424.8 348.9h0M415.4 335.3h0M520.2 352.9h0M472.4 350.1h0M521.6 365.8h0M567.3 349.5h0M484.3 361.8h0M441.1 374.8h0M616.6 361.9h0M453.6 359.4h0M481.8 348.5h0M417.1 343.1h0M549.1 359.0h0M465.5 361.2h0M579.6 347.5h0M508.3 368.7h0M597.5 360.9h0M487.2 359.5h0M587.0 358.5h0M428.1 364.5h0M491.5 333.9h0M484.3 343.1h0M503.6 358.6h0M460.8 376.0h0M477.8 363.2h0M630.1 348.1h0M523.2 322.1h0M615.0 357.3h0M515.8 356.9h0M512.0 347.5h0M529.1 375.9h0M442.1 355.3h0M457.0 356.3h0M569.3 346.4h0M546.2 370.1h0M463.4 347.6h0M519.9 339.8h0M633.1 352.1h0M457.9 363.6h0M591.4 367.8h0M622.3 380.6h0M533.3 364.0h0M448.3 349.2h0M518.1 335.5h0M587.9 341.9h0M560.1 339.6h0M600.9 362.6h0M524.7 362.1h0M413.6 377.3h0M419.4 365.4h0M591.0 371.7h0M532.4 359.6h0M615.9 346.8h0M601.7 357.7h0M556.1 360.7h0M545.1 346.6h0M585.9 335.3h0M450.4 341.2h0M494.9 379.5h0M555.9 332.1h0M529.3 362.1h0M449.4 375.9h0M484.8 361.0h0M442.6 342.3h0M452.8 338.0h0M557.4 353.0h0M450.0 348.3h0M440.6 374.9h0M421.4 363.7h0M492.9 371.7h0M599.6 339.8h0M615.9 366.7h0M532.6 350.9h0M605.7 365.1h0M558.6 378.9h0M626.8 343.9h0M458.9 339.7h0M469.4 335.3h0M472.6 363.7h0M595.7 355.4h0M621.9 346.5h0M585.8 351.5h0M627.5 353.1h0M413.7 323.8h0M448.3 361.8h0M446.3 343.9h0M486.0 363.4h0M494.5 336.5h0M502.2 359.6h0M447.4 369.6h0M529.8 345.7h0M559.5 355.3h0M594.5 361.3h0M446.0 359.1h0M632.9 364.5h0M470.0 348.9h0M505.7 351.5h0M614.1 333.0h0M445.7 365.4h0M506.8 336.3h0M491.0 348.4h0M431.9 375.4h0M422.0 335.3h0M458.6 380.4h0M527.2 348.9h0M422.5 381.6h0M456.9 352.1h0M623.5 361.0h0M520.8 359.6h0M631.8 366.4h0M572.3 339.4h0M489.6 347.1h0M601.6 356.5h0M420.6 357.3h0M483.2 364.4h0M625.4 335.4h0M530.2 355.8h0M433.6 340.3h0M431.8 375.7h0M623.1 376.6h0M497.4 336.3h0M611.1 367.2h0M469.1 357.7h0M543.2 348.4h0M465.2 342.2h0M602.3 346.1h0M590.0 347.2h0M630.1 332.4h0M522.2 351.2h0M583.2 342.2h0M432.8 354.2h0M549.4 352.5h0M504.7 296.5h0M533.1 289.2h0M537.2 285.2h0M541.2 290.8h0M611.9 300.5h0M437.3 311.8h0M495.7 311.0h0M415.4 313.4h0M634.6 315.1h0M515.2 314.3h0" stroke="#a876ba" stroke-width="3.70" stroke-linecap="round" fill="none"/>
<path d="M412.1 399.8h0M412.2 396.0h0M412.9 403.2h0M412.7 394.4h0M413.5 394.7h0M413.6 394.4h0M414.4 397.9h0M414.9 402.5h0M415.4 397.4h0M415.4 391.8h0M416.0 394.2h0M416.0 404.4h0M417.2 410.2h0M416.8 395.2h0M418.0 405.0h0M418.1 389.6h0M418.7 395.0h0M418.5 402.3h0M419.7 397.3h0M419.5 398.1h0M419.9 412.4h0M420.1 399.6h0M421.2 399.7h0M421.0 400.0h0M422.0 387.5h0M422.0 396.9h0M422.3 408.2h0M423.0 405.2h0M423.5 399.1h0M423.7 408.1h0M424.1 407.3h0M424.5 399.6h0M424.8 396.8h0M425.2 400.4h0M425.9 400.4h0M425.8 397.5h0M426.9 398.2h0M427.1 407.6h0M427.6 405.6h0M427.7 403.0h0M428.3 394.3h0M428.2 397.4h0M429.5 396.0h0M428.9 382.0h0M430.2 398.4h0M429.9 372.6h0M431.1 390.2h0M431.2 394.8h0M431.2 401.6h0M431.4 398.5h0M432.7 406.6h0M432.4 401.9h0M432.8 404.6h0M433.6 414.9h0M434.3 396.5h0M434.2 411.4h0M434.6 396.2h0M434.7 398.0h0M435.5 397.7h0M435.7 397.5h0M436.7 398.1h0M436.5 406.8h0M437.5 409.5h0M437.4 406.3h0M438.3 394.1h0M438.1 410.5h0M439.2 405.6h0M438.6 407.7h0M439.8 399.5h0M439.5 399.9h0M440.5 405.5h0M440.4 409.7h0M441.1 403.8h0M441.3 393.3h0M442.2 402.9h0M441.8 384.3h0M442.9 406.7h0M443.4 378.9h0M443.9 391.7h0M443.7 393.6h0M444.8 400.2h0M444.3 403.8h0M445.8 373.5h0M445.6 406.9h0M446.2 418.3h0M446.3 405.5h0M447.2 392.9h0M447.0 392.0h0M447.7 393.3h0M448.1 391.4h0M448.9 406.4h0M449.0 419.2h0M449.1 403.8h0M449.4 398.0h0M450.4 411.6h0M450.7 395.8h0M451.0 396.1h0M450.9 403.5h0M452.2 401.7h0M451.7 402.1h0M452.3 399.4h0M452.6 416.3h0M453.7 382.9h0M453.6 404.7h0M454.0 398.8h0M454.2 371.9h0M455.3 408.1h0M454.9 393.5h0M456.1 404.1h0M455.9 400.7h0M457.1 392.7h0M456.7 409.4h0M457.4 395.4h0M457.8 411.0h0M458.8 399.9h0M458.2 393.9h0M459.1 407.5h0M459.6 404.3h0M460.0 405.5h0M460.2 401.9h0M461.2 406.6h0M460.6 407.4h0M461.7 409.7h0M461.5 407.5h0M462.7 386.7h0M462.4 414.7h0M463.3 404.2h0M463.6 393.5h0M464.4 403.7h0M463.8 397.7h0M464.6 411.2h0M465.0 398.7h0M466.0 401.4h0M465.3 404.5h0M466.8 406.7h0M466.8 398.6h0M467.6 402.5h0M467.5 413.0h0M468.5 414.1h0M468.0 407.9h0M468.8 406.1h0M469.1 403.3h0M469.6 408.7h0M469.5 414.2h0M470.5 410.0h0M470.8 394.7h0M471.4 398.4h0M471.2 402.0h0M471.8 407.4h0M472.5 404.3h0M472.7 417.0h0M472.8 406.6h0M474.2 409.8h0M473.6 412.1h0M474.3 404.8h0M474.5 377.4h0M475.2 401.0h0M475.4 415.1h0M476.3 407.6h0M475.9 413.6h0M477.4 375.6h0M476.8 406.1h0M478.3 395.1h0M477.7 405.6h0M478.4 410.2h0M478.6 406.2h0M479.6 417.3h0M479.9 397.7h0M480.1 397.4h0M480.3 411.8h0M481.3 403.1h0M481.3 408.1h0M481.9 393.6h0M481.7 399.0h0M482.8 403.3h0M482.7 395.8h0M483.9 407.8h0M483.6 408.1h0M484.2 414.2h0M484.4 402.3h0M485.1 409.5h0M484.9 409.5h0M486.3 408.8h0M485.9 415.8h0M486.6 395.8h0M486.9 406.8h0M487.8 401.7h0M487.7 405.9h0M488.8 397.6h0M488.1 396.0h0M488.9 398.6h0M489.6 398.3h0M489.9 393.2h0M490.1 410.9h0M491.1 413.6h0M490.9 393.7h0M491.7 406.5h0M491.9 402.3h0M492.8 411.4h0M492.6 412.0h0M493.4 403.7h0M493.2 401.5h0M493.8 415.4h0M494.1 407.2h0M494.8 412.1h0M494.9 410.9h0M495.9 400.1h0M495.5 411.2h0M496.3 388.7h0M496.3 400.5h0M497.4 406.1h0M497.7 399.3h0M498.0 400.2h0M498.6 410.6h0M498.9 400.6h0M499.4 396.5h0M500.1 395.7h0M499.7 403.1h0M500.3 405.6h0M500.8 399.4h0M501.8 414.7h0M501.1 403.1h0M502.1 406.9h0M502.3 411.9h0M503.3 404.3h0M503.2 400.1h0M503.9 406.5h0M504.2 403.8h0M504.4 406.6h0M504.5 395.1h0M505.6 396.4h0M505.7 409.3h0M505.9 405.9h0M506.3 393.7h0M507.3 400.8h0M507.4 402.9h0M508.3 398.0h0M508.2 417.2h0M508.8 411.7h0M508.9 406.7h0M509.9 390.4h0M509.8 387.1h0M510.3 406.0h0M510.7 394.1h0M511.0 399.5h0M510.8 399.3h0M511.8 400.0h0M511.9 375.9h0M512.5 401.7h0M512.5 401.8h0M513.6 387.3h0M513.7 370.4h0M514.8 395.4h0M514.7 402.9h0M515.4 409.0h0M515.4 398.1h0M516.1 399.1h0M516.4 400.2h0M516.5 392.9h0M517.1 405.2h0M517.8 397.2h0M517.4 404.8h0M518.2 398.1h0M518.7 394.9h0M518.9 399.4h0M519.4 396.7h0M520.4 396.2h0M520.2 410.3h0M520.5 411.0h0M521.2 398.4h0M522.1 398.0h0M521.7 410.0h0M522.9 404.1h0M522.6 386.4h0M523.4 408.0h0M523.4 402.9h0M524.1 399.7h0M524.0 411.1h0M524.8 396.7h0M525.2 388.9h0M526.0 401.4h0M525.6 396.3h0M526.4 405.3h0M527.0 410.7h0M527.4 412.0h0M527.3 404.9h0M528.1 410.4h0M528.4 409.2h0M529.1 396.2h0M528.9 405.5h0M529.9 404.7h0M529.6 399.0h0M530.7 400.6h0M530.8 405.7h0M531.2 411.9h0M531.1 394.7h0M532.3 400.4h0M532.2 405.2h0M533.3 403.7h0M533.4 411.8h0M534.3 393.0h0M533.8 401.9h0M534.5 405.3h0M534.5 400.4h0M535.7 402.1h0M535.9 398.3h0M536.6 396.8h0M536.1 392.4h0M537.4 405.0h0M537.5 408.1h0M537.8 402.8h0M538.1 405.7h0M538.7 402.7h0M539.2 403.4h0M539.4 406.5h0M539.9 389.9h0M540.6 414.2h0M540.2 401.6h0M541.4 397.1h0M541.0 408.5h0M542.4 393.3h0M542.4 415.7h0M543.2 403.8h0M542.5 398.2h0M544.0 409.1h0M544.0 405.5h0M544.9 389.7h0M544.7 401.0h0M545.4 403.4h0M545.6 403.5h0M546.0 391.2h0M545.8 403.1h0M547.2 405.0h0M547.0 391.7h0M547.8 402.7h0M547.4 412.0h0M548.5 400.5h0M548.4 400.7h0M549.6 403.6h0M549.5 410.0h0M550.1 393.3h0M550.5 406.0h0M551.1 396.6h0M550.6 403.0h0M552.1 407.6h0M551.5 402.2h0M552.5 397.3h0M552.8 390.0h0M553.1 410.3h0M553.4 407.4h0M553.8 413.4h0M553.9 399.5h0M554.8 400.3h0M554.7 402.0h0M555.9 403.2h0M555.6 394.6h0M556.4 402.7h0M556.6 409.9h0M557.4 408.3h0M557.5 399.4h0M558.3 391.3h0M558.4 403.5h0M559.5 397.9h0M559.2 406.9h0M560.0 396.1h0M560.0 392.4h0M561.1 396.2h0M560.9 403.0h0M561.5 393.6h0M561.1 406.9h0M562.3 401.5h0M562.7 402.9h0M563.1 403.1h0M563.4 412.1h0M563.9 407.3h0M564.3 381.3h0M565.0 393.3h0M564.8 404.3h0M565.2 399.5h0M565.4 408.4h0M566.6 411.1h0M566.5 410.8h0M567.4 390.5h0M567.5 409.2h0M568.0 416.1h0M567.7 394.5h0M568.8 405.0h0M568.5 398.7h0M569.4 402.9h0M569.4 400.5h0M570.6 394.5h0M570.6 396.4h0M571.6 399.5h0M571.4 402.9h0M572.0 388.9h0M572.3 395.4h0M572.9 398.1h0M573.1 399.0h0M573.4 398.0h0M574.0 399.0h0M574.3 397.4h0M574.4 413.4h0M575.1 394.3h0M574.9 405.7h0M576.0 397.9h0M576.5 390.7h0M577.1 407.8h0M576.8 408.5h0M577.4 408.8h0M577.6 391.4h0M578.4 387.7h0M578.7 394.2h0M579.6 398.2h0M579.8 403.2h0M580.4 409.7h0M580.0 394.3h0M581.4 404.4h0M580.6 406.4h0M581.7 408.0h0M581.9 403.4h0M582.6 397.3h0M582.4 403.3h0M583.8 401.7h0M583.2 415.9h0M584.5 394.3h0M584.6 403.1h0M585.4 377.1h0M585.4 403.9h0M585.6 381.9h0M586.0 398.4h0M586.4 399.1h0M586.7 408.6h0M587.2 413.8h0M587.2 404.0h0M588.3 405.9h0M588.3 402.4h0M589.2 403.4h0M589.2 408.8h0M589.8 408.3h0M589.6 395.1h0M590.7 399.4h0M591.1 407.6h0M591.2 399.6h0M591.6 405.7h0M592.1 408.5h0M592.8 374.5h0M592.8 402.8h0M592.9 407.1h0M593.8 411.4h0M594.1 410.0h0M595.0 397.5h0M594.6 418.7h0M595.8 403.0h0M595.8 404.2h0M596.3 403.6h0M596.2 402.7h0M596.9 391.8h0M597.1 399.4h0M598.3 411.8h0M597.8 397.9h0M598.6 404.0h0M598.9 396.6h0M599.9 400.1h0M599.8 400.2h0M600.8 378.7h0M600.4 407.6h0M601.0 401.5h0M601.4 403.6h0M602.0 398.4h0M602.4 401.5h0M602.9 408.4h0M602.7 405.6h0M603.9 404.3h0M603.4 394.4h0M604.8 411.5h0M604.7 392.5h0M605.0 397.7h0M605.5 401.8h0M606.2 398.5h0M606.4 397.1h0M607.0 409.2h0M607.1 391.5h0M608.0 403.2h0M608.2 406.4h0M608.6 411.5h0M608.5 381.0h0M609.1 404.0h0M609.6 401.2h0M610.3 402.5h0M610.2 400.5h0M611.2 406.8h0M611.3 394.0h0M612.0 398.4h0M611.6 391.4h0M612.8 399.2h0M612.6 404.8h0M613.3 398.0h0M613.5 406.3h0M614.5 389.6h0M614.3 386.0h0M615.1 395.1h0M615.2 398.7h0M615.7 408.7h0M615.7 401.9h0M617.1 404.6h0M616.7 396.2h0M617.2 400.5h0M617.4 400.2h0M618.1 389.7h0M618.7 390.5h0M619.6 396.1h0M619.0 399.4h0M619.9 398.2h0M620.1 397.5h0M621.1 390.1h0M620.6 395.0h0M621.9 385.6h0M621.8 389.9h0M622.2 398.3h0M622.7 396.0h0M623.5 394.4h0M623.4 402.3h0M624.3 406.5h0M623.8 379.5h0M624.9 391.0h0M624.9 400.0h0M626.0 399.6h0M626.0 395.7h0M626.4 395.0h0M626.5 387.0h0M627.6 401.5h0M627.3 398.3h0M627.9 381.9h0M628.1 390.6h0M629.2 389.4h0M629.0 401.3h0M629.6 393.5h0M629.5 391.0h0M630.7 396.2h0M630.2 393.6h0M631.6 393.4h0M631.2 395.2h0M632.4 396.1h0M632.3 397.8h0M633.3 392.3h0M632.9 395.4h0M633.7 394.2h0M633.7 386.8h0M634.9 394.5h0M634.5 403.4h0M635.7 390.9h0M635.4 394.5h0M636.1 390.7h0M636.3 374.9h0" stroke="#1a8fe6" stroke-width="3.70" stroke-linecap="round" fill="none"/>
<text transform="translate(376.80,339.00) rotate(-90)" x="0" y="0" font-size="11.3" text-anchor="middle" fill="#222" stroke="#222">Reproductive Fitness Ratio</text>
<text x="533.10" y="454.70" font-size="11.3" text-anchor="middle" fill="#222" stroke="#222">96-well Plate</text>
<text x="435.70" y="262.00" font-size="11.0" text-anchor="start" fill="#b07cc2" stroke="#b07cc2" font-style="italic" stroke-width="0.1">hil-5(RNAi)</text>
<text x="435.70" y="273.30" font-size="11.0" text-anchor="start" fill="#1a8fe6" stroke="#1a8fe6" font-style="italic" stroke-width="0.1">lis-1(RNAi)</text>
<text x="1.10" y="253.70" font-size="16" text-anchor="start" fill="#000" stroke="#000" font-weight="bold">c</text>
<text x="365.40" y="253.00" font-size="16" text-anchor="start" fill="#000" stroke="#000" font-weight="bold">d</text>
<path d="M47.40 637.15 L47.73 637.11 L48.06 637.06 L48.39 637.02 L48.72 636.98 L49.05 636.93 L49.38 636.89 L49.71 636.84 L50.04 636.80 L50.37 636.75 L50.70 636.71 L51.03 636.67 L51.36 636.62 L51.69 636.58 L52.02 636.53 L52.35 636.49 L52.68 636.44 L53.01 636.40 L53.34 636.36 L53.66 636.31 L53.99 636.27 L54.32 636.22 L54.65 636.18 L54.98 636.13 L55.31 636.09 L55.64 636.04 L55.97 636.00 L56.30 635.96 L56.63 635.91 L56.96 635.87 L57.29 635.82 L57.62 635.78 L57.95 635.73 L58.28 635.69 L58.61 635.64 L58.94 635.60 L59.27 635.56 L59.60 635.51 L59.93 635.47 L60.26 635.42 L60.59 635.38 L60.92 635.33 L61.25 635.29 L61.58 635.24 L61.91 635.20 L62.24 635.16 L62.57 635.11 L62.90 635.07 L63.23 635.02 L63.56 634.98 L63.89 634.93 L64.22 634.89 L64.55 634.84 L64.88 634.80 L65.21 634.75 L65.54 634.71 L65.87 634.66 L66.19 634.61 L66.52 634.57 L66.85 634.52 L67.18 634.47 L67.51 634.43 L67.84 634.38 L68.17 634.33 L68.50 634.29 L68.83 634.24 L69.16 634.19 L69.49 634.15 L69.82 634.10 L70.15 634.05 L70.48 634.00 L70.81 633.96 L71.14 633.91 L71.47 633.86 L71.80 633.81 L72.13 633.77 L72.46 633.72 L72.79 633.67 L73.12 633.63 L73.45 633.58 L73.78 633.53 L74.11 633.48 L74.44 633.44 L74.77 633.39 L75.10 633.34 L75.43 633.30 L75.76 633.25 L76.09 633.21 L76.42 633.16 L76.75 633.11 L77.08 633.07 L77.41 633.02 L77.74 632.98 L78.07 632.93 L78.40 632.89 L78.72 632.84 L79.05 632.80 L79.38 632.76 L79.71 632.71 L80.04 632.67 L80.37 632.63 L80.70 632.58 L81.03 632.54 L81.36 632.50 L81.69 632.46 L82.02 632.42 L82.35 632.38 L82.68 632.34 L83.01 632.30 L83.34 632.26 L83.67 632.22 L84.00 632.18 L84.33 632.14 L84.66 632.10 L84.99 632.07 L85.32 632.03 L85.65 631.99 L85.98 631.96 L86.31 631.93 L86.64 631.89 L86.97 631.86 L87.30 631.83 L87.63 631.80 L87.96 631.77 L88.29 631.74 L88.62 631.71 L88.95 631.69 L89.28 631.66 L89.61 631.63 L89.94 631.61 L90.27 631.58 L90.60 631.55 L90.93 631.53 L91.25 631.50 L91.58 631.48 L91.91 631.45 L92.24 631.42 L92.57 631.40 L92.90 631.37 L93.23 631.35 L93.56 631.32 L93.89 631.29 L94.22 631.26 L94.55 631.23 L94.88 631.20 L95.21 631.17 L95.54 631.14 L95.87 631.11 L96.20 631.08 L96.53 631.04 L96.86 631.01 L97.19 630.97 L97.52 630.94 L97.85 630.90 L98.18 630.86 L98.51 630.82 L98.84 630.78 L99.17 630.73 L99.50 630.69 L99.83 630.64 L100.16 630.59 L100.49 630.54 L100.82 630.48 L101.15 630.42 L101.48 630.35 L101.81 630.28 L102.14 630.21 L102.47 630.13 L102.80 630.05 L103.13 629.96 L103.46 629.87 L103.78 629.77 L104.11 629.68 L104.44 629.57 L104.77 629.47 L105.10 629.36 L105.43 629.25 L105.76 629.14 L106.09 629.02 L106.42 628.90 L106.75 628.78 L107.08 628.66 L107.41 628.53 L107.74 628.41 L108.07 628.28 L108.40 628.14 L108.73 628.01 L109.06 627.88 L109.39 627.74 L109.72 627.60 L110.05 627.46 L110.38 627.32 L110.71 627.18 L111.04 627.04 L111.37 626.90 L111.70 626.76 L112.03 626.61 L112.36 626.47 L112.69 626.32 L113.02 626.18 L113.35 626.04 L113.68 625.89 L114.01 625.75 L114.34 625.61 L114.67 625.46 L115.00 625.32 L115.33 625.18 L115.66 625.04 L115.99 624.90 L116.31 624.76 L116.64 624.63 L116.97 624.49 L117.30 624.36 L117.63 624.23 L117.96 624.10 L118.29 623.97 L118.62 623.84 L118.95 623.72 L119.28 623.60 L119.61 623.48 L119.94 623.37 L120.27 623.25 L120.60 623.14 L120.93 623.03 L121.26 622.92 L121.59 622.81 L121.92 622.70 L122.25 622.59 L122.58 622.49 L122.91 622.38 L123.24 622.27 L123.57 622.17 L123.90 622.07 L124.23 621.96 L124.56 621.86 L124.89 621.76 L125.22 621.66 L125.55 621.56 L125.88 621.46 L126.21 621.36 L126.54 621.26 L126.87 621.16 L127.20 621.06 L127.53 620.97 L127.86 620.87 L128.19 620.77 L128.52 620.68 L128.84 620.58 L129.17 620.48 L129.50 620.39 L129.83 620.29 L130.16 620.20 L130.49 620.10 L130.82 620.01 L131.15 619.91 L131.48 619.82 L131.81 619.72 L132.14 619.63 L132.47 619.53 L132.80 619.44 L133.13 619.34 L133.46 619.24 L133.79 619.15 L134.12 619.05 L134.45 618.96 L134.78 618.86 L135.11 618.76 L135.44 618.67 L135.77 618.57 L136.10 618.47 L136.43 618.37 L136.76 618.27 L137.09 618.17 L137.42 618.07 L137.75 617.97 L138.08 617.87 L138.41 617.77 L138.74 617.66 L139.07 617.56 L139.40 617.46 L139.73 617.35 L140.06 617.25 L140.39 617.14 L140.72 617.03 L141.05 616.92 L141.37 616.81 L141.70 616.70 L142.03 616.59 L142.36 616.48 L142.69 616.37 L143.02 616.25 L143.35 616.14 L143.68 616.02 L144.01 615.90 L144.34 615.78 L144.67 615.66 L145.00 615.54 L145.33 615.42 L145.66 615.30 L145.99 615.17 L146.32 615.04 L146.65 614.91 L146.98 614.78 L147.31 614.65 L147.64 614.52 L147.97 614.39 L148.30 614.25 L148.63 614.11 L148.96 613.97 L149.29 613.83 L149.62 613.69 L149.95 613.55 L150.28 613.40 L150.61 613.25 L150.94 613.10 L151.27 612.95 L151.60 612.80 L151.93 612.65 L152.26 612.49 L152.59 612.33 L152.92 612.18 L153.25 612.02 L153.58 611.85 L153.90 611.69 L154.23 611.52 L154.56 611.36 L154.89 611.19 L155.22 611.02 L155.55 610.85 L155.88 610.67 L156.21 610.50 L156.54 610.32 L156.87 610.14 L157.20 609.96 L157.53 609.78 L157.86 609.59 L158.19 609.41 L158.52 609.22 L158.85 609.03 L159.18 608.84 L159.51 608.64 L159.84 608.45 L160.17 608.25 L160.50 608.05 L160.83 607.85 L161.16 607.65 L161.49 607.45 L161.82 607.24 L162.15 607.03 L162.48 606.82 L162.81 606.61 L163.14 606.40 L163.47 606.18 L163.80 605.97 L164.13 605.75 L164.46 605.53 L164.79 605.30 L165.12 605.08 L165.45 604.85 L165.78 604.62 L166.11 604.39 L166.43 604.16 L166.76 603.93 L167.09 603.69 L167.42 603.45 L167.75 603.21 L168.08 602.97 L168.41 602.72 L168.74 602.48 L169.07 602.23 L169.40 601.98 L169.73 601.73 L170.06 601.47 L170.39 601.21 L170.72 600.96 L171.05 600.70 L171.38 600.43 L171.71 600.17 L172.04 599.90 L172.37 599.65 L172.70 599.41 L173.03 599.17 L173.36 598.93 L173.69 598.68 L174.02 598.40 L174.35 598.10 L174.68 597.77 L175.01 597.40 L175.34 596.98 L175.67 596.51 L176.00 595.97 L176.33 595.36 L176.66 594.59 L176.99 593.51 L177.32 592.02 L177.65 589.98 L177.98 587.27 L178.31 579.40 L178.64 564.50 L178.96 542.51" fill="none" stroke="#b0b0b0" stroke-width="1.45" stroke-linejoin="round"/>
<path d="M47.40 645.89 L47.77 645.89 L48.14 645.89 L48.51 645.89 L48.88 645.89 L49.25 645.89 L49.62 645.89 L50.00 645.89 L50.37 645.89 L50.74 645.89 L51.11 645.89 L51.48 645.89 L51.85 645.89 L52.22 645.89 L52.59 645.89 L52.96 645.89 L53.33 645.89 L53.70 645.89 L54.07 645.89 L54.45 645.89 L54.82 645.89 L55.19 645.89 L55.56 645.89 L55.93 645.89 L56.30 645.89 L56.67 645.89 L57.04 645.89 L57.41 645.89 L57.78 645.89 L58.15 645.89 L58.52 645.89 L58.90 645.89 L59.27 645.89 L59.64 645.89 L60.01 645.89 L60.38 645.89 L60.75 645.89 L61.12 645.89 L61.49 645.89 L61.86 645.89 L62.23 645.89 L62.60 645.89 L62.97 645.89 L63.35 645.89 L63.72 645.89 L64.09 645.88 L64.46 645.85 L64.83 645.82 L65.20 645.77 L65.57 645.71 L65.94 645.64 L66.31 645.56 L66.68 645.47 L67.05 645.37 L67.42 645.26 L67.80 645.14 L68.17 645.02 L68.54 644.88 L68.91 644.74 L69.28 644.59 L69.65 644.43 L70.02 644.27 L70.39 644.10 L70.76 643.93 L71.13 643.75 L71.50 643.57 L71.87 643.38 L72.25 643.19 L72.62 643.00 L72.99 642.81 L73.36 642.61 L73.73 642.41 L74.10 642.21 L74.47 642.01 L74.84 641.80 L75.21 641.60 L75.58 641.40 L75.95 641.20 L76.32 641.00 L76.70 640.81 L77.07 640.61 L77.44 640.42 L77.81 640.23 L78.18 640.05 L78.55 639.86 L78.92 639.69 L79.29 639.52 L79.66 639.35 L80.03 639.19 L80.40 639.04 L80.77 638.89 L81.15 638.75 L81.52 638.62 L81.89 638.49 L82.26 638.36 L82.63 638.24 L83.00 638.11 L83.37 637.99 L83.74 637.86 L84.11 637.74 L84.48 637.62 L84.85 637.49 L85.22 637.37 L85.60 637.25 L85.97 637.13 L86.34 637.01 L86.71 636.89 L87.08 636.78 L87.45 636.66 L87.82 636.54 L88.19 636.43 L88.56 636.32 L88.93 636.20 L89.30 636.09 L89.67 635.98 L90.04 635.87 L90.42 635.76 L90.79 635.65 L91.16 635.55 L91.53 635.44 L91.90 635.33 L92.27 635.23 L92.64 635.13 L93.01 635.03 L93.38 634.93 L93.75 634.83 L94.12 634.73 L94.49 634.64 L94.87 634.54 L95.24 634.45 L95.61 634.35 L95.98 634.26 L96.35 634.17 L96.72 634.09 L97.09 634.00 L97.46 633.92 L97.83 633.83 L98.20 633.75 L98.57 633.67 L98.94 633.59 L99.32 633.51 L99.69 633.44 L100.06 633.36 L100.43 633.28 L100.80 633.21 L101.17 633.14 L101.54 633.07 L101.91 632.99 L102.28 632.92 L102.65 632.85 L103.02 632.78 L103.39 632.71 L103.77 632.64 L104.14 632.58 L104.51 632.51 L104.88 632.44 L105.25 632.37 L105.62 632.30 L105.99 632.24 L106.36 632.17 L106.73 632.10 L107.10 632.03 L107.47 631.96 L107.84 631.90 L108.22 631.83 L108.59 631.76 L108.96 631.69 L109.33 631.62 L109.70 631.55 L110.07 631.48 L110.44 631.40 L110.81 631.33 L111.18 631.26 L111.55 631.18 L111.92 631.11 L112.29 631.03 L112.67 630.95 L113.04 630.87 L113.41 630.79 L113.78 630.71 L114.15 630.63 L114.52 630.54 L114.89 630.46 L115.26 630.37 L115.63 630.28 L116.00 630.19 L116.37 630.09 L116.74 630.00 L117.12 629.90 L117.49 629.81 L117.86 629.71 L118.23 629.62 L118.60 629.52 L118.97 629.43 L119.34 629.33 L119.71 629.24 L120.08 629.14 L120.45 629.05 L120.82 628.95 L121.19 628.86 L121.57 628.76 L121.94 628.67 L122.31 628.57 L122.68 628.48 L123.05 628.38 L123.42 628.29 L123.79 628.19 L124.16 628.10 L124.53 628.00 L124.90 627.90 L125.27 627.81 L125.64 627.71 L126.02 627.61 L126.39 627.52 L126.76 627.42 L127.13 627.32 L127.50 627.23 L127.87 627.13 L128.24 627.03 L128.61 626.94 L128.98 626.84 L129.35 626.74 L129.72 626.65 L130.09 626.55 L130.47 626.45 L130.84 626.36 L131.21 626.26 L131.58 626.17 L131.95 626.07 L132.32 625.97 L132.69 625.88 L133.06 625.78 L133.43 625.69 L133.80 625.59 L134.17 625.50 L134.54 625.40 L134.91 625.31 L135.29 625.22 L135.66 625.12 L136.03 625.03 L136.40 624.93 L136.77 624.84 L137.14 624.75 L137.51 624.66 L137.88 624.56 L138.25 624.47 L138.62 624.38 L138.99 624.29 L139.36 624.20 L139.74 624.12 L140.11 624.03 L140.48 623.94 L140.85 623.86 L141.22 623.78 L141.59 623.69 L141.96 623.61 L142.33 623.53 L142.70 623.44 L143.07 623.36 L143.44 623.28 L143.81 623.20 L144.19 623.11 L144.56 623.03 L144.93 622.94 L145.30 622.86 L145.67 622.77 L146.04 622.68 L146.41 622.60 L146.78 622.51 L147.15 622.41 L147.52 622.32 L147.89 622.23 L148.26 622.13 L148.64 622.03 L149.01 621.93 L149.38 621.82 L149.75 621.72 L150.12 621.62 L150.49 621.51 L150.86 621.41 L151.23 621.31 L151.60 621.21 L151.97 621.10 L152.34 621.00 L152.71 620.90 L153.09 620.80 L153.46 620.69 L153.83 620.59 L154.20 620.49 L154.57 620.38 L154.94 620.28 L155.31 620.18 L155.68 620.07 L156.05 619.97 L156.42 619.86 L156.79 619.76 L157.16 619.65 L157.54 619.55 L157.91 619.44 L158.28 619.33 L158.65 619.22 L159.02 619.11 L159.39 619.00 L159.76 618.89 L160.13 618.78 L160.50 618.66 L160.87 618.55 L161.24 618.43 L161.61 618.31 L161.99 618.20 L162.36 618.08 L162.73 617.96 L163.10 617.83 L163.47 617.71 L163.84 617.59 L164.21 617.46 L164.58 617.33 L164.95 617.20 L165.32 617.07 L165.69 616.94 L166.06 616.80 L166.44 616.66 L166.81 616.53 L167.18 616.38 L167.55 616.24 L167.92 616.10 L168.29 615.95 L168.66 615.80 L169.03 615.65 L169.40 615.50 L169.77 615.34 L170.14 615.19 L170.51 615.03 L170.89 614.86 L171.26 614.70 L171.63 614.53 L172.00 614.36 L172.37 614.19 L172.74 614.01 L173.11 613.84 L173.48 613.65 L173.85 613.47 L174.22 613.28 L174.59 613.10 L174.96 612.90 L175.33 612.71 L175.71 612.51 L176.08 612.31 L176.45 612.10 L176.82 611.90 L177.19 611.69 L177.56 611.47 L177.93 611.25 L178.30 611.03 L178.67 610.81 L179.04 610.57 L179.41 610.32 L179.78 610.06 L180.16 609.79 L180.53 609.51 L180.90 609.21 L181.27 608.90 L181.64 608.58 L182.01 608.24 L182.38 607.90 L182.75 607.53 L183.12 607.16 L183.49 606.77 L183.86 606.36 L184.23 605.95 L184.61 605.51 L184.98 605.07 L185.35 604.61 L185.72 604.13 L186.09 603.64 L186.46 603.13 L186.83 602.60 L187.20 602.06 L187.57 601.51 L187.94 600.94 L188.31 600.35 L188.68 599.74 L189.06 599.11 L189.43 598.43 L189.80 597.70 L190.17 596.90 L190.54 596.02 L190.91 595.04 L191.28 593.95 L191.65 592.73 L192.02 591.38 L192.39 589.87 L192.76 588.24 L193.13 586.39 L193.51 584.06 L193.88 581.01 L194.25 577.01 L194.62 571.80 L194.99 565.15 L195.36 545.42" fill="none" stroke="#b07cc2" stroke-width="1.45" stroke-linejoin="round"/>
<path d="M47.40 665.54 L47.77 665.54 L48.14 665.54 L48.51 665.54 L48.88 665.54 L49.25 665.54 L49.62 665.54 L50.00 665.54 L50.37 665.54 L50.74 665.54 L51.11 665.54 L51.48 665.53 L51.85 665.53 L52.22 665.53 L52.59 665.53 L52.96 665.52 L53.33 665.52 L53.70 665.52 L54.07 665.52 L54.45 665.51 L54.82 665.51 L55.19 665.51 L55.56 665.50 L55.93 665.50 L56.30 665.49 L56.67 665.49 L57.04 665.49 L57.41 665.48 L57.78 665.48 L58.15 665.47 L58.52 665.47 L58.90 665.46 L59.27 665.46 L59.64 665.45 L60.01 665.45 L60.38 665.44 L60.75 665.43 L61.12 665.43 L61.49 665.42 L61.86 665.42 L62.23 665.41 L62.60 665.40 L62.97 665.40 L63.35 665.39 L63.72 665.38 L64.09 665.37 L64.46 665.37 L64.83 665.36 L65.20 665.35 L65.57 665.34 L65.94 665.34 L66.31 665.33 L66.68 665.32 L67.05 665.31 L67.42 665.30 L67.80 665.29 L68.17 665.29 L68.54 665.28 L68.91 665.27 L69.28 665.26 L69.65 665.25 L70.02 665.24 L70.39 665.23 L70.76 665.22 L71.13 665.21 L71.50 665.20 L71.87 665.19 L72.25 665.18 L72.62 665.17 L72.99 665.16 L73.36 665.15 L73.73 665.14 L74.10 665.13 L74.47 665.11 L74.84 665.10 L75.21 665.09 L75.58 665.08 L75.95 665.07 L76.32 665.06 L76.70 665.05 L77.07 665.03 L77.44 665.02 L77.81 665.01 L78.18 665.00 L78.55 664.98 L78.92 664.97 L79.29 664.96 L79.66 664.95 L80.03 664.93 L80.40 664.92 L80.77 664.91 L81.15 664.89 L81.52 664.88 L81.89 664.87 L82.26 664.85 L82.63 664.84 L83.00 664.82 L83.37 664.81 L83.74 664.80 L84.11 664.78 L84.48 664.77 L84.85 664.75 L85.22 664.74 L85.60 664.72 L85.97 664.71 L86.34 664.69 L86.71 664.68 L87.08 664.66 L87.45 664.65 L87.82 664.63 L88.19 664.62 L88.56 664.60 L88.93 664.58 L89.30 664.57 L89.67 664.55 L90.04 664.54 L90.42 664.52 L90.79 664.50 L91.16 664.49 L91.53 664.47 L91.90 664.45 L92.27 664.44 L92.64 664.42 L93.01 664.40 L93.38 664.39 L93.75 664.37 L94.12 664.35 L94.49 664.34 L94.87 664.32 L95.24 664.30 L95.61 664.28 L95.98 664.27 L96.35 664.25 L96.72 664.23 L97.09 664.21 L97.46 664.19 L97.83 664.18 L98.20 664.16 L98.57 664.14 L98.94 664.12 L99.32 664.10 L99.69 664.08 L100.06 664.06 L100.43 664.04 L100.80 664.02 L101.17 663.99 L101.54 663.96 L101.91 663.93 L102.28 663.90 L102.65 663.87 L103.02 663.83 L103.39 663.80 L103.77 663.76 L104.14 663.72 L104.51 663.68 L104.88 663.64 L105.25 663.60 L105.62 663.55 L105.99 663.51 L106.36 663.46 L106.73 663.41 L107.10 663.36 L107.47 663.31 L107.84 663.26 L108.22 663.21 L108.59 663.16 L108.96 663.11 L109.33 663.06 L109.70 663.00 L110.07 662.95 L110.44 662.89 L110.81 662.84 L111.18 662.78 L111.55 662.73 L111.92 662.67 L112.29 662.62 L112.67 662.56 L113.04 662.51 L113.41 662.45 L113.78 662.40 L114.15 662.34 L114.52 662.29 L114.89 662.23 L115.26 662.18 L115.63 662.13 L116.00 662.07 L116.37 662.02 L116.74 661.97 L117.12 661.92 L117.49 661.87 L117.86 661.82 L118.23 661.77 L118.60 661.72 L118.97 661.67 L119.34 661.63 L119.71 661.58 L120.08 661.54 L120.45 661.50 L120.82 661.45 L121.19 661.41 L121.57 661.37 L121.94 661.33 L122.31 661.29 L122.68 661.25 L123.05 661.21 L123.42 661.18 L123.79 661.14 L124.16 661.10 L124.53 661.06 L124.90 661.03 L125.27 660.99 L125.64 660.96 L126.02 660.92 L126.39 660.88 L126.76 660.85 L127.13 660.81 L127.50 660.78 L127.87 660.75 L128.24 660.71 L128.61 660.68 L128.98 660.64 L129.35 660.61 L129.72 660.58 L130.09 660.54 L130.47 660.51 L130.84 660.48 L131.21 660.44 L131.58 660.41 L131.95 660.38 L132.32 660.34 L132.69 660.31 L133.06 660.28 L133.43 660.24 L133.80 660.21 L134.17 660.17 L134.54 660.14 L134.91 660.11 L135.29 660.07 L135.66 660.04 L136.03 660.00 L136.40 659.97 L136.77 659.93 L137.14 659.90 L137.51 659.86 L137.88 659.82 L138.25 659.79 L138.62 659.75 L138.99 659.71 L139.36 659.67 L139.74 659.63 L140.11 659.59 L140.48 659.55 L140.85 659.51 L141.22 659.47 L141.59 659.43 L141.96 659.39 L142.33 659.35 L142.70 659.30 L143.07 659.26 L143.44 659.21 L143.81 659.17 L144.19 659.12 L144.56 659.08 L144.93 659.03 L145.30 658.98 L145.67 658.93 L146.04 658.88 L146.41 658.83 L146.78 658.78 L147.15 658.72 L147.52 658.67 L147.89 658.62 L148.26 658.56 L148.64 658.50 L149.01 658.45 L149.38 658.39 L149.75 658.32 L150.12 658.26 L150.49 658.19 L150.86 658.12 L151.23 658.05 L151.60 657.97 L151.97 657.89 L152.34 657.81 L152.71 657.72 L153.09 657.64 L153.46 657.55 L153.83 657.46 L154.20 657.37 L154.57 657.27 L154.94 657.18 L155.31 657.08 L155.68 656.98 L156.05 656.88 L156.42 656.78 L156.79 656.67 L157.16 656.57 L157.54 656.47 L157.91 656.36 L158.28 656.25 L158.65 656.15 L159.02 656.04 L159.39 655.93 L159.76 655.83 L160.13 655.72 L160.50 655.61 L160.87 655.50 L161.24 655.40 L161.61 655.29 L161.99 655.19 L162.36 655.08 L162.73 654.98 L163.10 654.87 L163.47 654.77 L163.84 654.67 L164.21 654.57 L164.58 654.47 L164.95 654.37 L165.32 654.27 L165.69 654.17 L166.06 654.07 L166.44 653.97 L166.81 653.87 L167.18 653.77 L167.55 653.67 L167.92 653.57 L168.29 653.47 L168.66 653.37 L169.03 653.27 L169.40 653.17 L169.77 653.06 L170.14 652.96 L170.51 652.86 L170.89 652.76 L171.26 652.65 L171.63 652.55 L172.00 652.44 L172.37 652.33 L172.74 652.23 L173.11 652.12 L173.48 652.01 L173.85 651.90 L174.22 651.78 L174.59 651.67 L174.96 651.56 L175.33 651.44 L175.71 651.32 L176.08 651.20 L176.45 651.08 L176.82 650.96 L177.19 650.84 L177.56 650.71 L177.93 650.58 L178.30 650.45 L178.67 650.32 L179.04 650.19 L179.41 650.07 L179.78 649.94 L180.16 649.81 L180.53 649.69 L180.90 649.56 L181.27 649.43 L181.64 649.30 L182.01 649.17 L182.38 649.03 L182.75 648.89 L183.12 648.75 L183.49 648.61 L183.86 648.46 L184.23 648.31 L184.61 648.15 L184.98 647.98 L185.35 647.81 L185.72 647.63 L186.09 647.45 L186.46 647.26 L186.83 647.06 L187.20 646.85 L187.57 646.63 L187.94 646.40 L188.31 646.16 L188.68 645.92 L189.06 645.66 L189.43 645.40 L189.80 645.11 L190.17 644.80 L190.54 644.46 L190.91 644.08 L191.28 643.65 L191.65 643.17 L192.02 642.63 L192.39 642.02 L192.76 641.35 L193.13 640.55 L193.51 639.35 L193.88 637.64 L194.25 635.40 L194.62 632.39 L194.99 626.59 L195.36 618.95" fill="none" stroke="#1a8fe6" stroke-width="1.45" stroke-linejoin="round"/>
<path d="M47.40 664.82 L47.98 664.82 L48.56 664.82 L49.14 664.81 L49.72 664.81 L50.30 664.81 L50.88 664.81 L51.45 664.81 L52.03 664.81 L52.61 664.80 L53.19 664.80 L53.77 664.80 L54.35 664.79 L54.93 664.79 L55.51 664.79 L56.09 664.78 L56.67 664.78 L57.25 664.77 L57.83 664.77 L58.41 664.76 L58.98 664.75 L59.56 664.75 L60.14 664.74 L60.72 664.73 L61.30 664.73 L61.88 664.72 L62.46 664.71 L63.04 664.70 L63.62 664.69 L64.20 664.68 L64.78 664.68 L65.36 664.67 L65.94 664.66 L66.51 664.65 L67.09 664.64 L67.67 664.62 L68.25 664.61 L68.83 664.60 L69.41 664.59 L69.99 664.58 L70.57 664.57 L71.15 664.55 L71.73 664.54 L72.31 664.53 L72.89 664.51 L73.47 664.50 L74.04 664.49 L74.62 664.47 L75.20 664.46 L75.78 664.44 L76.36 664.41 L76.94 664.37 L77.52 664.32 L78.10 664.26 L78.68 664.19 L79.26 664.12 L79.84 664.04 L80.42 663.95 L81.00 663.86 L81.57 663.76 L82.15 663.65 L82.73 663.55 L83.31 663.44 L83.89 663.32 L84.47 663.21 L85.05 663.09 L85.63 662.98 L86.21 662.86 L86.79 662.74 L87.37 662.63 L87.95 662.52 L88.53 662.41 L89.10 662.30 L89.68 662.20 L90.26 662.10 L90.84 662.01 L91.42 661.93 L92.00 661.85 L92.58 661.77 L93.16 661.69 L93.74 661.62 L94.32 661.54 L94.90 661.47 L95.48 661.40 L96.06 661.33 L96.63 661.26 L97.21 661.20 L97.79 661.13 L98.37 661.07 L98.95 661.00 L99.53 660.94 L100.11 660.88 L100.69 660.82 L101.27 660.75 L101.85 660.69 L102.43 660.63 L103.01 660.57 L103.59 660.51 L104.16 660.45 L104.74 660.39 L105.32 660.33 L105.90 660.27 L106.48 660.21 L107.06 660.14 L107.64 660.08 L108.22 660.02 L108.80 659.95 L109.38 659.89 L109.96 659.82 L110.54 659.75 L111.12 659.69 L111.69 659.62 L112.27 659.55 L112.85 659.47 L113.43 659.40 L114.01 659.32 L114.59 659.25 L115.17 659.17 L115.75 659.09 L116.33 659.00 L116.91 658.92 L117.49 658.83 L118.07 658.74 L118.65 658.65 L119.22 658.55 L119.80 658.46 L120.38 658.36 L120.96 658.25 L121.54 658.14 L122.12 658.02 L122.70 657.90 L123.28 657.77 L123.86 657.64 L124.44 657.50 L125.02 657.37 L125.60 657.22 L126.18 657.07 L126.75 656.92 L127.33 656.77 L127.91 656.61 L128.49 656.45 L129.07 656.29 L129.65 656.13 L130.23 655.96 L130.81 655.80 L131.39 655.63 L131.97 655.46 L132.55 655.29 L133.13 655.12 L133.71 654.95 L134.28 654.78 L134.86 654.61 L135.44 654.43 L136.02 654.25 L136.60 654.06 L137.18 653.87 L137.76 653.67 L138.34 653.47 L138.92 653.27 L139.50 653.06 L140.08 652.86 L140.66 652.65 L141.24 652.44 L141.81 652.22 L142.39 652.01 L142.97 651.80 L143.55 651.59 L144.13 651.37 L144.71 651.16 L145.29 650.95 L145.87 650.74 L146.45 650.54 L147.03 650.34 L147.61 650.14 L148.19 649.94 L148.77 649.75 L149.34 649.57 L149.92 649.38 L150.50 649.20 L151.08 649.03 L151.66 648.85 L152.24 648.68 L152.82 648.51 L153.40 648.34 L153.98 648.17 L154.56 648.01 L155.14 647.84 L155.72 647.68 L156.30 647.51 L156.87 647.35 L157.45 647.18 L158.03 647.02 L158.61 646.85 L159.19 646.69 L159.77 646.52 L160.35 646.35 L160.93 646.18 L161.51 646.00 L162.09 645.83 L162.67 645.65 L163.25 645.46 L163.83 645.28 L164.40 645.09 L164.98 644.89 L165.56 644.69 L166.14 644.49 L166.72 644.29 L167.30 644.08 L167.88 643.87 L168.46 643.66 L169.04 643.45 L169.62 643.24 L170.20 643.02 L170.78 642.81 L171.36 642.59 L171.93 642.38 L172.51 642.16 L173.09 641.95 L173.67 641.74 L174.25 641.52 L174.83 641.31 L175.41 641.11 L175.99 640.90 L176.57 640.70 L177.15 640.50 L177.73 640.30 L178.31 640.11 L178.89 639.92 L179.46 639.74 L180.04 639.55 L180.62 639.37 L181.20 639.19 L181.78 639.01 L182.36 638.83 L182.94 638.66 L183.52 638.48 L184.10 638.31 L184.68 638.14 L185.26 637.97 L185.84 637.80 L186.42 637.62 L186.99 637.45 L187.57 637.29 L188.15 637.12 L188.73 636.95 L189.31 636.78 L189.89 636.61 L190.47 636.44 L191.05 636.27 L191.63 636.10 L192.21 635.92 L192.79 635.75 L193.37 635.58 L193.95 635.40 L194.52 635.23 L195.10 635.05 L195.68 634.88 L196.26 634.71 L196.84 634.53 L197.42 634.36 L198.00 634.18 L198.58 634.01 L199.16 633.84 L199.74 633.66 L200.32 633.49 L200.90 633.32 L201.48 633.14 L202.05 632.97 L202.63 632.80 L203.21 632.62 L203.79 632.45 L204.37 632.28 L204.95 632.11 L205.53 631.93 L206.11 631.76 L206.69 631.59 L207.27 631.42 L207.85 631.25 L208.43 631.08 L209.00 630.91 L209.58 630.74 L210.16 630.57 L210.74 630.40 L211.32 630.23 L211.90 630.06 L212.48 629.90 L213.06 629.73 L213.64 629.56 L214.22 629.39 L214.80 629.22 L215.38 629.06 L215.96 628.89 L216.53 628.72 L217.11 628.55 L217.69 628.39 L218.27 628.22 L218.85 628.05 L219.43 627.88 L220.01 627.71 L220.59 627.55 L221.17 627.38 L221.75 627.22 L222.33 627.05 L222.91 626.89 L223.49 626.73 L224.06 626.57 L224.64 626.41 L225.22 626.25 L225.80 626.09 L226.38 625.93 L226.96 625.77 L227.54 625.61 L228.12 625.46 L228.70 625.30 L229.28 625.14 L229.86 624.98 L230.44 624.82 L231.02 624.65 L231.59 624.49 L232.17 624.33 L232.75 624.16 L233.33 623.99 L233.91 623.82 L234.49 623.65 L235.07 623.48 L235.65 623.30 L236.23 623.13 L236.81 622.94 L237.39 622.76 L237.97 622.58 L238.55 622.39 L239.12 622.20 L239.70 622.00 L240.28 621.80 L240.86 621.60 L241.44 621.41 L242.02 621.21 L242.60 621.01 L243.18 620.82 L243.76 620.62 L244.34 620.42 L244.92 620.22 L245.50 620.02 L246.08 619.82 L246.65 619.61 L247.23 619.40 L247.81 619.18 L248.39 618.96 L248.97 618.74 L249.55 618.51 L250.13 618.28 L250.71 618.04 L251.29 617.79 L251.87 617.54 L252.45 617.28 L253.03 617.01 L253.61 616.74 L254.18 616.45 L254.76 616.16 L255.34 615.86 L255.92 615.55 L256.50 615.22 L257.08 614.89 L257.66 614.55 L258.24 614.19 L258.82 613.81 L259.40 613.41 L259.98 612.99 L260.56 612.54 L261.14 612.08 L261.71 611.59 L262.29 611.07 L262.87 610.53 L263.45 609.97 L264.03 609.38 L264.61 608.76 L265.19 608.12 L265.77 607.44 L266.35 606.74 L266.93 606.01 L267.51 605.25 L268.09 604.45 L268.67 603.64 L269.24 602.80 L269.82 601.91 L270.40 600.96 L270.98 599.93 L271.56 598.79 L272.14 597.52 L272.72 596.10 L273.30 594.52 L273.88 592.74 L274.46 590.75 L275.04 588.53 L275.62 585.87 L276.20 582.19 L276.77 576.89 L277.35 569.41 L277.93 556.07 L278.51 521.40" fill="none" stroke="#1e8f4e" stroke-width="1.45" stroke-linejoin="round"/>
<line x1="278.50" y1="493.70" x2="278.50" y2="509.80" stroke="#1e8f4e" stroke-width="1.5"/>
<line x1="47.40" y1="630.60" x2="290.22" y2="630.60" stroke="#111" stroke-width="1.6" stroke-dasharray="3.8 3.65"/>
<line x1="47.40" y1="520.80" x2="47.40" y2="667.60" stroke="#141414" stroke-width="1.5"/>
<line x1="43.40" y1="521.40" x2="47.40" y2="521.40" stroke="#141414" stroke-width="1.4"/>
<text x="39.90" y="525.30" font-size="11.3" text-anchor="end" fill="#222" stroke="#222">2.0</text>
<line x1="43.40" y1="557.80" x2="47.40" y2="557.80" stroke="#141414" stroke-width="1.4"/>
<text x="39.90" y="561.70" font-size="11.3" text-anchor="end" fill="#222" stroke="#222">1.5</text>
<line x1="43.40" y1="594.20" x2="47.40" y2="594.20" stroke="#141414" stroke-width="1.4"/>
<text x="39.90" y="598.10" font-size="11.3" text-anchor="end" fill="#222" stroke="#222">1.0</text>
<line x1="43.40" y1="630.60" x2="47.40" y2="630.60" stroke="#141414" stroke-width="1.4"/>
<text x="39.90" y="634.50" font-size="11.3" text-anchor="end" fill="#222" stroke="#222">0.5</text>
<line x1="43.40" y1="667.00" x2="47.40" y2="667.00" stroke="#141414" stroke-width="1.4"/>
<text x="39.90" y="670.90" font-size="11.3" text-anchor="end" fill="#222" stroke="#222">0.0</text>
<line x1="47.40" y1="493.10" x2="47.40" y2="510.30" stroke="#141414" stroke-width="1.5"/>
<line x1="43.40" y1="493.70" x2="47.40" y2="493.70" stroke="#141414" stroke-width="1.4"/>
<text x="39.90" y="497.60" font-size="11.3" text-anchor="end" fill="#222" stroke="#222">10.0</text>
<line x1="43.40" y1="509.70" x2="47.40" y2="509.70" stroke="#141414" stroke-width="1.4"/>
<text x="39.90" y="513.60" font-size="11.3" text-anchor="end" fill="#222" stroke="#222">5.0</text>
<line x1="46.80" y1="667.00" x2="288.72" y2="667.00" stroke="#141414" stroke-width="1.3"/>
<line x1="47.40" y1="667.00" x2="47.40" y2="671.50" stroke="#141414" stroke-width="1.2"/>
<line x1="63.63" y1="667.00" x2="63.63" y2="670.30" stroke="#141414" stroke-width="1.2"/>
<line x1="73.12" y1="667.00" x2="73.12" y2="670.30" stroke="#141414" stroke-width="1.2"/>
<line x1="79.85" y1="667.00" x2="79.85" y2="670.30" stroke="#141414" stroke-width="1.2"/>
<line x1="85.07" y1="667.00" x2="85.07" y2="670.30" stroke="#141414" stroke-width="1.2"/>
<line x1="89.34" y1="667.00" x2="89.34" y2="670.30" stroke="#141414" stroke-width="1.2"/>
<line x1="92.95" y1="667.00" x2="92.95" y2="670.30" stroke="#141414" stroke-width="1.2"/>
<line x1="96.08" y1="667.00" x2="96.08" y2="670.30" stroke="#141414" stroke-width="1.2"/>
<line x1="98.83" y1="667.00" x2="98.83" y2="670.30" stroke="#141414" stroke-width="1.2"/>
<line x1="101.30" y1="667.00" x2="101.30" y2="671.50" stroke="#141414" stroke-width="1.2"/>
<line x1="117.53" y1="667.00" x2="117.53" y2="670.30" stroke="#141414" stroke-width="1.2"/>
<line x1="127.02" y1="667.00" x2="127.02" y2="670.30" stroke="#141414" stroke-width="1.2"/>
<line x1="133.75" y1="667.00" x2="133.75" y2="670.30" stroke="#141414" stroke-width="1.2"/>
<line x1="138.97" y1="667.00" x2="138.97" y2="670.30" stroke="#141414" stroke-width="1.2"/>
<line x1="143.24" y1="667.00" x2="143.24" y2="670.30" stroke="#141414" stroke-width="1.2"/>
<line x1="146.85" y1="667.00" x2="146.85" y2="670.30" stroke="#141414" stroke-width="1.2"/>
<line x1="149.98" y1="667.00" x2="149.98" y2="670.30" stroke="#141414" stroke-width="1.2"/>
<line x1="152.73" y1="667.00" x2="152.73" y2="670.30" stroke="#141414" stroke-width="1.2"/>
<line x1="155.20" y1="667.00" x2="155.20" y2="671.50" stroke="#141414" stroke-width="1.2"/>
<line x1="171.43" y1="667.00" x2="171.43" y2="670.30" stroke="#141414" stroke-width="1.2"/>
<line x1="180.92" y1="667.00" x2="180.92" y2="670.30" stroke="#141414" stroke-width="1.2"/>
<line x1="187.65" y1="667.00" x2="187.65" y2="670.30" stroke="#141414" stroke-width="1.2"/>
<line x1="192.87" y1="667.00" x2="192.87" y2="670.30" stroke="#141414" stroke-width="1.2"/>
<line x1="197.14" y1="667.00" x2="197.14" y2="670.30" stroke="#141414" stroke-width="1.2"/>
<line x1="200.75" y1="667.00" x2="200.75" y2="670.30" stroke="#141414" stroke-width="1.2"/>
<line x1="203.88" y1="667.00" x2="203.88" y2="670.30" stroke="#141414" stroke-width="1.2"/>
<line x1="206.63" y1="667.00" x2="206.63" y2="670.30" stroke="#141414" stroke-width="1.2"/>
<line x1="209.10" y1="667.00" x2="209.10" y2="671.50" stroke="#141414" stroke-width="1.2"/>
<line x1="225.33" y1="667.00" x2="225.33" y2="670.30" stroke="#141414" stroke-width="1.2"/>
<line x1="234.82" y1="667.00" x2="234.82" y2="670.30" stroke="#141414" stroke-width="1.2"/>
<line x1="241.55" y1="667.00" x2="241.55" y2="670.30" stroke="#141414" stroke-width="1.2"/>
<line x1="246.77" y1="667.00" x2="246.77" y2="670.30" stroke="#141414" stroke-width="1.2"/>
<line x1="251.04" y1="667.00" x2="251.04" y2="670.30" stroke="#141414" stroke-width="1.2"/>
<line x1="254.65" y1="667.00" x2="254.65" y2="670.30" stroke="#141414" stroke-width="1.2"/>
<line x1="257.78" y1="667.00" x2="257.78" y2="670.30" stroke="#141414" stroke-width="1.2"/>
<line x1="260.53" y1="667.00" x2="260.53" y2="670.30" stroke="#141414" stroke-width="1.2"/>
<line x1="263.00" y1="667.00" x2="263.00" y2="671.50" stroke="#141414" stroke-width="1.2"/>
<line x1="279.23" y1="667.00" x2="279.23" y2="670.30" stroke="#141414" stroke-width="1.2"/>
<line x1="288.72" y1="667.00" x2="288.72" y2="670.30" stroke="#141414" stroke-width="1.2"/>
<text x="47.40" y="685.20" font-size="11.3" text-anchor="middle" fill="#222" stroke="#222">1</text>
<text x="101.30" y="685.20" font-size="11.3" text-anchor="middle" fill="#222" stroke="#222">10</text>
<text x="155.20" y="685.20" font-size="11.3" text-anchor="middle" fill="#222" stroke="#222">100</text>
<text x="209.10" y="685.20" font-size="11.3" text-anchor="middle" fill="#222" stroke="#222">1000</text>
<text x="263.00" y="685.20" font-size="11.3" text-anchor="middle" fill="#222" stroke="#222">10000</text>
<text x="168.06" y="702.60" font-size="11.3" text-anchor="middle" fill="#222" stroke="#222">1st Screen Experimental Well</text>
<text transform="translate(10.40,579.50) rotate(-90)" x="0" y="0" font-size="11.3" text-anchor="middle" fill="#222" stroke="#222">Reproductive Fitness Ratio</text>
<text x="71.10" y="497.30" font-size="11.0" text-anchor="start" fill="#8a8a8a" stroke="#8a8a8a" font-style="italic" stroke-width="0.1">empty vector</text>
<text x="71.10" y="508.40" font-size="11.0" text-anchor="start" fill="#b07cc2" stroke="#b07cc2" font-style="italic" stroke-width="0.1">hil-5(RNAi)</text>
<text x="71.10" y="519.50" font-size="11.0" text-anchor="start" fill="#1a8fe6" stroke="#1a8fe6" font-style="italic" stroke-width="0.1">lis-1(RNAi)</text>
<text x="71.10" y="530.60" font-size="11.0" text-anchor="start" fill="#1e8f4e" stroke="#1e8f4e" font-style="italic" stroke-width="0.1">RNAi vectors</text>
<text x="316.90" y="590.90" font-size="8.5" text-anchor="end" fill="#7a7a7a" stroke="#7a7a7a" font-weight="bold">97.0 %</text>
<text x="316.90" y="599.50" font-size="8.5" text-anchor="end" fill="#b07cc2" stroke="#b07cc2" font-weight="bold">96.7 %</text>
<text x="316.90" y="608.10" font-size="8.5" text-anchor="end" fill="#1a8fe6" stroke="#1a8fe6" font-weight="bold">1.5 %</text>
<text x="316.90" y="616.70" font-size="8.5" text-anchor="end" fill="#1e8f4e" stroke="#1e8f4e" font-weight="bold">94.0 %</text>
<text x="316.90" y="638.90" font-size="8.5" text-anchor="end" fill="#7a7a7a" stroke="#7a7a7a" font-weight="bold">3.0 %</text>
<text x="316.90" y="647.50" font-size="8.5" text-anchor="end" fill="#b07cc2" stroke="#b07cc2" font-weight="bold">3.3 %</text>
<text x="316.90" y="656.10" font-size="8.5" text-anchor="end" fill="#1a8fe6" stroke="#1a8fe6" font-weight="bold">98.5 %</text>
<text x="316.90" y="664.70" font-size="8.5" text-anchor="end" fill="#1e8f4e" stroke="#1e8f4e" font-weight="bold">6.0 %</text>
<path d="M411.40 629.87 L411.66 629.86 L411.93 629.85 L412.19 629.84 L412.46 629.83 L412.72 629.82 L412.98 629.81 L413.25 629.79 L413.51 629.78 L413.78 629.77 L414.04 629.76 L414.30 629.74 L414.57 629.73 L414.83 629.71 L415.10 629.70 L415.36 629.69 L415.62 629.67 L415.89 629.66 L416.15 629.64 L416.42 629.63 L416.68 629.61 L416.94 629.60 L417.21 629.58 L417.47 629.56 L417.74 629.55 L418.00 629.53 L418.27 629.51 L418.53 629.50 L418.79 629.48 L419.06 629.46 L419.32 629.44 L419.59 629.42 L419.85 629.41 L420.11 629.39 L420.38 629.37 L420.64 629.35 L420.91 629.33 L421.17 629.31 L421.43 629.29 L421.70 629.27 L421.96 629.25 L422.23 629.23 L422.49 629.21 L422.75 629.19 L423.02 629.17 L423.28 629.15 L423.55 629.13 L423.81 629.11 L424.07 629.09 L424.34 629.07 L424.60 629.04 L424.87 629.02 L425.13 629.00 L425.39 628.98 L425.66 628.95 L425.92 628.93 L426.19 628.91 L426.45 628.89 L426.71 628.86 L426.98 628.84 L427.24 628.82 L427.51 628.79 L427.77 628.77 L428.03 628.75 L428.30 628.72 L428.56 628.70 L428.83 628.67 L429.09 628.65 L429.36 628.63 L429.62 628.60 L429.88 628.58 L430.15 628.55 L430.41 628.53 L430.68 628.50 L430.94 628.48 L431.20 628.45 L431.47 628.43 L431.73 628.40 L432.00 628.38 L432.26 628.35 L432.52 628.33 L432.79 628.30 L433.05 628.28 L433.32 628.25 L433.58 628.23 L433.84 628.20 L434.11 628.18 L434.37 628.15 L434.64 628.13 L434.90 628.10 L435.16 628.08 L435.43 628.05 L435.69 628.03 L435.96 628.01 L436.22 627.98 L436.48 627.96 L436.75 627.93 L437.01 627.91 L437.28 627.88 L437.54 627.86 L437.80 627.83 L438.07 627.80 L438.33 627.78 L438.60 627.75 L438.86 627.73 L439.12 627.70 L439.39 627.67 L439.65 627.65 L439.92 627.62 L440.18 627.59 L440.45 627.57 L440.71 627.54 L440.97 627.51 L441.24 627.48 L441.50 627.46 L441.77 627.43 L442.03 627.40 L442.29 627.37 L442.56 627.34 L442.82 627.31 L443.09 627.28 L443.35 627.25 L443.61 627.22 L443.88 627.19 L444.14 627.15 L444.41 627.12 L444.67 627.09 L444.93 627.06 L445.20 627.02 L445.46 626.99 L445.73 626.96 L445.99 626.92 L446.25 626.89 L446.52 626.85 L446.78 626.81 L447.05 626.78 L447.31 626.74 L447.57 626.70 L447.84 626.66 L448.10 626.62 L448.37 626.58 L448.63 626.54 L448.89 626.50 L449.16 626.46 L449.42 626.42 L449.69 626.38 L449.95 626.33 L450.21 626.29 L450.48 626.25 L450.74 626.20 L451.01 626.16 L451.27 626.11 L451.54 626.06 L451.80 626.01 L452.06 625.96 L452.33 625.92 L452.59 625.87 L452.86 625.81 L453.12 625.76 L453.38 625.71 L453.65 625.66 L453.91 625.60 L454.18 625.55 L454.44 625.49 L454.70 625.44 L454.97 625.38 L455.23 625.32 L455.50 625.26 L455.76 625.20 L456.02 625.14 L456.29 625.08 L456.55 625.01 L456.82 624.95 L457.08 624.89 L457.34 624.82 L457.61 624.75 L457.87 624.69 L458.14 624.62 L458.40 624.55 L458.66 624.48 L458.93 624.41 L459.19 624.33 L459.46 624.26 L459.72 624.19 L459.98 624.11 L460.25 624.03 L460.51 623.94 L460.78 623.81 L461.04 623.67 L461.30 623.50 L461.57 623.32 L461.83 623.12 L462.10 622.90 L462.36 622.68 L462.63 622.44 L462.89 622.20 L463.15 621.96 L463.42 621.72 L463.68 621.48 L463.95 621.24 L464.21 621.01 L464.47 620.78 L464.74 620.57 L465.00 620.37 L465.27 620.19 L465.53 620.03 L465.79 619.89 L466.06 619.77 L466.32 619.68 L466.59 619.61 L466.85 619.55 L467.11 619.49 L467.38 619.44 L467.64 619.39 L467.91 619.35 L468.17 619.31 L468.43 619.28 L468.70 619.25 L468.96 619.22 L469.23 619.19 L469.49 619.16 L469.75 619.13 L470.02 619.09 L470.28 619.06 L470.55 619.02 L470.81 618.98 L471.07 618.93 L471.34 618.88 L471.60 618.82 L471.87 618.76 L472.13 618.69 L472.39 618.60 L472.66 618.49 L472.92 618.28 L473.19 617.99 L473.45 617.64 L473.72 617.24 L473.98 616.80 L474.24 616.34 L474.51 615.86 L474.77 615.38 L475.04 614.91 L475.30 614.47 L475.56 614.07 L475.83 613.72 L476.09 613.43 L476.36 613.22 L476.62 613.09 L476.88 612.99 L477.15 612.89 L477.41 612.80 L477.68 612.71 L477.94 612.63 L478.20 612.55 L478.47 612.48 L478.73 612.42 L479.00 612.35 L479.26 612.30 L479.52 612.24 L479.79 612.19 L480.05 612.14 L480.32 612.09 L480.58 612.05 L480.84 612.01 L481.11 611.97 L481.37 611.93 L481.64 611.89 L481.90 611.85 L482.16 611.81 L482.43 611.78 L482.69 611.74 L482.96 611.70 L483.22 611.66 L483.48 611.62 L483.75 611.58 L484.01 611.54 L484.28 611.49 L484.54 611.44 L484.81 611.39 L485.07 611.34 L485.33 611.29 L485.60 611.22 L485.86 611.16 L486.13 611.09 L486.39 611.02 L486.65 610.94 L486.92 610.86 L487.18 610.78 L487.45 610.69 L487.71 610.59 L487.97 610.50 L488.24 610.40 L488.50 610.30 L488.77 610.19 L489.03 610.08 L489.29 609.97 L489.56 609.86 L489.82 609.74 L490.09 609.62 L490.35 609.50 L490.61 609.37 L490.88 609.24 L491.14 609.11 L491.41 608.98 L491.67 608.84 L491.93 608.71 L492.20 608.57 L492.46 608.42 L492.73 608.28 L492.99 608.13 L493.25 607.98 L493.52 607.83 L493.78 607.68 L494.05 607.52 L494.31 607.37 L494.57 607.21 L494.84 607.05 L495.10 606.89 L495.37 606.72 L495.63 606.56 L495.90 606.39 L496.16 606.22 L496.42 606.05 L496.69 605.88 L496.95 605.71 L497.22 605.54 L497.48 605.37 L497.74 605.19 L498.01 605.02 L498.27 604.84 L498.54 604.66 L498.80 604.48 L499.06 604.30 L499.33 604.13 L499.59 603.95 L499.86 603.77 L500.12 603.58 L500.38 603.40 L500.65 603.22 L500.91 603.04 L501.18 602.86 L501.44 602.68 L501.70 602.49 L501.97 602.31 L502.23 602.13 L502.50 601.94 L502.76 601.75 L503.02 601.56 L503.29 601.36 L503.55 601.16 L503.82 600.96 L504.08 600.75 L504.34 600.53 L504.61 600.31 L504.87 600.09 L505.14 599.85 L505.40 599.61 L505.66 599.37 L505.93 599.11 L506.19 598.84 L506.46 598.57 L506.72 598.28 L506.99 597.99 L507.25 597.68 L507.51 597.36 L507.78 597.03 L508.04 596.67 L508.31 596.30 L508.57 595.92 L508.83 595.51 L509.10 595.08 L509.36 594.63 L509.63 594.16 L509.89 593.67 L510.15 593.15 L510.42 592.61 L510.68 592.04 L510.95 591.44 L511.21 590.82 L511.47 590.15 L511.74 589.42 L512.00 588.61 L512.27 587.73 L512.53 586.78 L512.79 585.77 L513.06 584.69 L513.32 583.54 L513.59 582.34 L513.85 581.07 L514.11 579.75 L514.38 578.37 L514.64 576.88 L514.91 575.22 L515.17 573.40 L515.43 571.43 L515.70 569.34 L515.96 567.13 L516.23 564.82 L516.49 562.44 L516.75 559.98" fill="none" stroke="#b0b0b0" stroke-width="1.45" stroke-linejoin="round"/>
<path d="M411.40 654.62 L411.71 654.60 L412.03 654.58 L412.34 654.55 L412.65 654.52 L412.97 654.49 L413.28 654.45 L413.59 654.42 L413.91 654.38 L414.22 654.33 L414.53 654.29 L414.85 654.24 L415.16 654.19 L415.47 654.14 L415.79 654.09 L416.10 654.04 L416.41 653.98 L416.73 653.92 L417.04 653.86 L417.35 653.79 L417.67 653.73 L417.98 653.66 L418.29 653.59 L418.61 653.52 L418.92 653.45 L419.23 653.38 L419.55 653.30 L419.86 653.22 L420.17 653.14 L420.49 653.06 L420.80 652.98 L421.11 652.90 L421.43 652.81 L421.74 652.72 L422.05 652.64 L422.37 652.55 L422.68 652.45 L422.99 652.36 L423.31 652.27 L423.62 652.18 L423.93 652.08 L424.25 651.98 L424.56 651.89 L424.87 651.79 L425.19 651.69 L425.50 651.59 L425.81 651.48 L426.13 651.38 L426.44 651.28 L426.75 651.17 L427.07 651.07 L427.38 650.96 L427.69 650.86 L428.01 650.75 L428.32 650.64 L428.63 650.54 L428.95 650.43 L429.26 650.32 L429.57 650.21 L429.89 650.10 L430.20 649.99 L430.51 649.88 L430.83 649.77 L431.14 649.65 L431.45 649.53 L431.77 649.41 L432.08 649.29 L432.40 649.16 L432.71 649.03 L433.02 648.90 L433.34 648.76 L433.65 648.63 L433.96 648.49 L434.28 648.34 L434.59 648.20 L434.90 648.05 L435.22 647.90 L435.53 647.74 L435.84 647.59 L436.16 647.43 L436.47 647.26 L436.78 647.10 L437.10 646.93 L437.41 646.76 L437.72 646.59 L438.04 646.41 L438.35 646.23 L438.66 646.05 L438.98 645.87 L439.29 645.68 L439.60 645.50 L439.92 645.31 L440.23 645.11 L440.54 644.92 L440.86 644.72 L441.17 644.52 L441.48 644.31 L441.80 644.11 L442.11 643.90 L442.42 643.69 L442.74 643.47 L443.05 643.26 L443.36 643.04 L443.68 642.82 L443.99 642.59 L444.30 642.37 L444.62 642.14 L444.93 641.91 L445.24 641.68 L445.56 641.44 L445.87 641.20 L446.18 640.96 L446.50 640.72 L446.81 640.48 L447.12 640.23 L447.44 639.98 L447.75 639.73 L448.06 639.48 L448.38 639.22 L448.69 638.96 L449.00 638.70 L449.32 638.44 L449.63 638.17 L449.94 637.91 L450.26 637.62 L450.57 637.29 L450.88 636.94 L451.20 636.55 L451.51 636.14 L451.82 635.71 L452.14 635.27 L452.45 634.82 L452.76 634.36 L453.08 633.91 L453.39 633.46 L453.70 633.03 L454.02 632.61 L454.33 632.21 L454.64 631.84 L454.96 631.50 L455.27 631.20 L455.58 630.94 L455.90 630.72 L456.21 630.56 L456.52 630.41 L456.84 630.27 L457.15 630.14 L457.46 630.01 L457.78 629.89 L458.09 629.77 L458.40 629.66 L458.72 629.55 L459.03 629.45 L459.34 629.35 L459.66 629.26 L459.97 629.17 L460.28 629.09 L460.60 629.00 L460.91 628.92 L461.22 628.84 L461.54 628.77 L461.85 628.70 L462.16 628.62 L462.48 628.55 L462.79 628.48 L463.10 628.41 L463.42 628.35 L463.73 628.28 L464.04 628.21 L464.36 628.14 L464.67 628.07 L464.98 628.00 L465.30 627.93 L465.61 627.86 L465.92 627.79 L466.24 627.71 L466.55 627.63 L466.86 627.56 L467.18 627.48 L467.49 627.41 L467.80 627.33 L468.12 627.26 L468.43 627.19 L468.74 627.11 L469.06 627.04 L469.37 626.97 L469.68 626.90 L470.00 626.83 L470.31 626.76 L470.62 626.70 L470.94 626.63 L471.25 626.56 L471.56 626.49 L471.88 626.43 L472.19 626.36 L472.51 626.30 L472.82 626.23 L473.13 626.17 L473.45 626.10 L473.76 626.04 L474.07 625.98 L474.39 625.91 L474.70 625.85 L475.01 625.79 L475.33 625.73 L475.64 625.66 L475.95 625.60 L476.27 625.54 L476.58 625.48 L476.89 625.41 L477.21 625.35 L477.52 625.29 L477.83 625.23 L478.15 625.16 L478.46 625.10 L478.77 625.04 L479.09 624.97 L479.40 624.91 L479.71 624.85 L480.03 624.78 L480.34 624.72 L480.65 624.66 L480.97 624.59 L481.28 624.53 L481.59 624.46 L481.91 624.39 L482.22 624.33 L482.53 624.26 L482.85 624.19 L483.16 624.12 L483.47 624.06 L483.79 623.99 L484.10 623.92 L484.41 623.85 L484.73 623.77 L485.04 623.70 L485.35 623.63 L485.67 623.56 L485.98 623.48 L486.29 623.41 L486.61 623.33 L486.92 623.25 L487.23 623.18 L487.55 623.10 L487.86 623.02 L488.17 622.95 L488.49 622.87 L488.80 622.80 L489.11 622.72 L489.43 622.64 L489.74 622.57 L490.05 622.49 L490.37 622.42 L490.68 622.34 L490.99 622.26 L491.31 622.19 L491.62 622.11 L491.93 622.03 L492.25 621.96 L492.56 621.88 L492.87 621.80 L493.19 621.72 L493.50 621.64 L493.81 621.57 L494.13 621.49 L494.44 621.41 L494.75 621.33 L495.07 621.25 L495.38 621.16 L495.69 621.08 L496.01 621.00 L496.32 620.92 L496.63 620.83 L496.95 620.75 L497.26 620.67 L497.57 620.58 L497.89 620.49 L498.20 620.41 L498.51 620.32 L498.83 620.23 L499.14 620.14 L499.45 620.05 L499.77 619.96 L500.08 619.87 L500.39 619.77 L500.71 619.68 L501.02 619.58 L501.33 619.49 L501.65 619.39 L501.96 619.29 L502.27 619.19 L502.59 619.09 L502.90 618.99 L503.21 618.89 L503.53 618.78 L503.84 618.68 L504.15 618.57 L504.47 618.46 L504.78 618.35 L505.09 618.24 L505.41 618.13 L505.72 618.02 L506.03 617.90 L506.35 617.79 L506.66 617.67 L506.97 617.55 L507.29 617.43 L507.60 617.31 L507.91 617.18 L508.23 617.06 L508.54 616.93 L508.85 616.81 L509.17 616.68 L509.48 616.55 L509.79 616.42 L510.11 616.29 L510.42 616.15 L510.73 616.02 L511.05 615.88 L511.36 615.74 L511.67 615.60 L511.99 615.46 L512.30 615.31 L512.61 615.16 L512.93 615.01 L513.24 614.86 L513.56 614.71 L513.87 614.55 L514.18 614.39 L514.50 614.23 L514.81 614.06 L515.12 613.90 L515.44 613.72 L515.75 613.55 L516.06 613.37 L516.38 613.19 L516.69 613.01 L517.00 612.82 L517.32 612.63 L517.63 612.44 L517.94 612.24 L518.26 612.04 L518.57 611.84 L518.88 611.63 L519.20 611.42 L519.51 611.20 L519.82 610.98 L520.14 610.76 L520.45 610.53 L520.76 610.30 L521.08 610.06 L521.39 609.82 L521.70 609.58 L522.02 609.33 L522.33 609.08 L522.64 608.82 L522.96 608.55 L523.27 608.28 L523.58 608.01 L523.90 607.73 L524.21 607.45 L524.52 607.16 L524.84 606.87 L525.15 606.56 L525.46 606.25 L525.78 605.92 L526.09 605.58 L526.40 605.22 L526.72 604.85 L527.03 604.46 L527.34 604.06 L527.66 603.63 L527.97 603.18 L528.28 602.71 L528.60 602.21 L528.91 601.69 L529.22 601.14 L529.54 600.56 L529.85 599.95 L530.16 599.31 L530.48 598.64 L530.79 597.93 L531.10 597.19 L531.42 596.41 L531.73 595.59 L532.04 594.62 L532.36 593.41 L532.67 591.98 L532.98 590.32 L533.30 588.44 L533.61 586.35 L533.92 584.05 L534.24 581.54 L534.55 578.82 L534.86 575.75 L535.18 571.85 L535.49 566.63 L535.80 559.57 L536.12 544.15 L536.43 521.40" fill="none" stroke="#b07cc2" stroke-width="1.45" stroke-linejoin="round"/>
<path d="M411.40 666.27 L411.71 666.26 L412.03 666.24 L412.34 666.23 L412.65 666.22 L412.96 666.20 L413.28 666.19 L413.59 666.17 L413.90 666.16 L414.21 666.15 L414.53 666.13 L414.84 666.12 L415.15 666.10 L415.46 666.09 L415.78 666.07 L416.09 666.06 L416.40 666.04 L416.71 666.03 L417.03 666.01 L417.34 666.00 L417.65 665.98 L417.96 665.97 L418.28 665.96 L418.59 665.94 L418.90 665.93 L419.21 665.91 L419.53 665.89 L419.84 665.88 L420.15 665.86 L420.46 665.85 L420.78 665.83 L421.09 665.82 L421.40 665.80 L421.71 665.79 L422.03 665.77 L422.34 665.76 L422.65 665.74 L422.96 665.73 L423.28 665.71 L423.59 665.69 L423.90 665.68 L424.21 665.66 L424.53 665.65 L424.84 665.63 L425.15 665.61 L425.47 665.60 L425.78 665.58 L426.09 665.57 L426.40 665.55 L426.72 665.53 L427.03 665.52 L427.34 665.50 L427.65 665.48 L427.97 665.47 L428.28 665.45 L428.59 665.44 L428.90 665.42 L429.22 665.40 L429.53 665.39 L429.84 665.37 L430.15 665.35 L430.47 665.34 L430.78 665.32 L431.09 665.30 L431.40 665.28 L431.72 665.27 L432.03 665.25 L432.34 665.23 L432.65 665.22 L432.97 665.20 L433.28 665.18 L433.59 665.17 L433.90 665.15 L434.22 665.13 L434.53 665.11 L434.84 665.10 L435.15 665.08 L435.47 665.06 L435.78 665.04 L436.09 665.03 L436.40 665.01 L436.72 664.99 L437.03 664.97 L437.34 664.96 L437.65 664.94 L437.97 664.92 L438.28 664.90 L438.59 664.88 L438.91 664.87 L439.22 664.85 L439.53 664.83 L439.84 664.81 L440.16 664.80 L440.47 664.78 L440.78 664.76 L441.09 664.74 L441.41 664.72 L441.72 664.70 L442.03 664.69 L442.34 664.67 L442.66 664.65 L442.97 664.63 L443.28 664.61 L443.59 664.59 L443.91 664.58 L444.22 664.56 L444.53 664.54 L444.84 664.52 L445.16 664.50 L445.47 664.48 L445.78 664.46 L446.09 664.45 L446.41 664.43 L446.72 664.41 L447.03 664.39 L447.34 664.37 L447.66 664.35 L447.97 664.33 L448.28 664.31 L448.59 664.30 L448.91 664.28 L449.22 664.26 L449.53 664.24 L449.84 664.22 L450.16 664.20 L450.47 664.18 L450.78 664.16 L451.10 664.14 L451.41 664.12 L451.72 664.10 L452.03 664.08 L452.35 664.06 L452.66 664.05 L452.97 664.03 L453.28 664.01 L453.60 663.99 L453.91 663.97 L454.22 663.95 L454.53 663.93 L454.85 663.91 L455.16 663.89 L455.47 663.87 L455.78 663.85 L456.10 663.83 L456.41 663.81 L456.72 663.79 L457.03 663.77 L457.35 663.75 L457.66 663.73 L457.97 663.71 L458.28 663.69 L458.60 663.67 L458.91 663.65 L459.22 663.63 L459.53 663.61 L459.85 663.59 L460.16 663.57 L460.47 663.55 L460.78 663.53 L461.10 663.51 L461.41 663.49 L461.72 663.47 L462.03 663.45 L462.35 663.43 L462.66 663.41 L462.97 663.39 L463.28 663.37 L463.60 663.35 L463.91 663.33 L464.22 663.31 L464.54 663.29 L464.85 663.27 L465.16 663.25 L465.47 663.23 L465.79 663.21 L466.10 663.18 L466.41 663.16 L466.72 663.14 L467.04 663.12 L467.35 663.10 L467.66 663.08 L467.97 663.06 L468.29 663.04 L468.60 663.02 L468.91 663.00 L469.22 662.98 L469.54 662.96 L469.85 662.94 L470.16 662.92 L470.47 662.89 L470.79 662.87 L471.10 662.85 L471.41 662.83 L471.72 662.81 L472.04 662.79 L472.35 662.77 L472.66 662.75 L472.97 662.73 L473.29 662.71 L473.60 662.68 L473.91 662.66 L474.22 662.64 L474.54 662.62 L474.85 662.60 L475.16 662.58 L475.47 662.56 L475.79 662.54 L476.10 662.52 L476.41 662.49 L476.72 662.47 L477.04 662.45 L477.35 662.43 L477.66 662.41 L477.98 662.39 L478.29 662.37 L478.60 662.35 L478.91 662.33 L479.23 662.31 L479.54 662.29 L479.85 662.26 L480.16 662.24 L480.48 662.22 L480.79 662.20 L481.10 662.18 L481.41 662.16 L481.73 662.14 L482.04 662.12 L482.35 662.10 L482.66 662.08 L482.98 662.06 L483.29 662.04 L483.60 662.02 L483.91 662.00 L484.23 661.98 L484.54 661.96 L484.85 661.94 L485.16 661.92 L485.48 661.90 L485.79 661.88 L486.10 661.86 L486.41 661.83 L486.73 661.81 L487.04 661.79 L487.35 661.77 L487.66 661.75 L487.98 661.73 L488.29 661.71 L488.60 661.69 L488.91 661.67 L489.23 661.64 L489.54 661.62 L489.85 661.60 L490.16 661.58 L490.48 661.56 L490.79 661.54 L491.10 661.51 L491.42 661.49 L491.73 661.47 L492.04 661.45 L492.35 661.42 L492.67 661.40 L492.98 661.38 L493.29 661.35 L493.60 661.33 L493.92 661.31 L494.23 661.28 L494.54 661.26 L494.85 661.23 L495.17 661.21 L495.48 661.19 L495.79 661.16 L496.10 661.14 L496.42 661.11 L496.73 661.09 L497.04 661.06 L497.35 661.03 L497.67 661.01 L497.98 660.98 L498.29 660.96 L498.60 660.93 L498.92 660.90 L499.23 660.87 L499.54 660.85 L499.85 660.82 L500.17 660.79 L500.48 660.76 L500.79 660.73 L501.10 660.70 L501.42 660.67 L501.73 660.65 L502.04 660.62 L502.35 660.59 L502.67 660.55 L502.98 660.52 L503.29 660.49 L503.60 660.46 L503.92 660.43 L504.23 660.40 L504.54 660.36 L504.86 660.33 L505.17 660.30 L505.48 660.27 L505.79 660.23 L506.11 660.20 L506.42 660.16 L506.73 660.13 L507.04 660.09 L507.36 660.06 L507.67 660.02 L507.98 659.98 L508.29 659.95 L508.61 659.91 L508.92 659.87 L509.23 659.83 L509.54 659.79 L509.86 659.75 L510.17 659.71 L510.48 659.67 L510.79 659.63 L511.11 659.58 L511.42 659.54 L511.73 659.50 L512.04 659.45 L512.36 659.40 L512.67 659.36 L512.98 659.31 L513.29 659.26 L513.61 659.21 L513.92 659.16 L514.23 659.11 L514.54 659.06 L514.86 659.01 L515.17 658.96 L515.48 658.90 L515.79 658.85 L516.11 658.79 L516.42 658.73 L516.73 658.67 L517.04 658.61 L517.36 658.55 L517.67 658.49 L517.98 658.43 L518.30 658.36 L518.61 658.30 L518.92 658.23 L519.23 658.16 L519.55 658.10 L519.86 658.03 L520.17 657.96 L520.48 657.88 L520.80 657.81 L521.11 657.73 L521.42 657.66 L521.73 657.58 L522.05 657.50 L522.36 657.42 L522.67 657.34 L522.98 657.26 L523.30 657.17 L523.61 657.09 L523.92 657.00 L524.23 656.92 L524.55 656.84 L524.86 656.76 L525.17 656.68 L525.48 656.60 L525.80 656.52 L526.11 656.43 L526.42 656.35 L526.73 656.26 L527.05 656.17 L527.36 656.07 L527.67 655.96 L527.98 655.86 L528.30 655.74 L528.61 655.62 L528.92 655.49 L529.23 655.35 L529.55 655.20 L529.86 655.04 L530.17 654.87 L530.49 654.69 L530.80 654.50 L531.11 654.29 L531.42 654.07 L531.74 653.84 L532.05 653.59 L532.36 653.33 L532.67 653.05 L532.99 652.75 L533.30 652.43 L533.61 652.10 L533.92 651.64 L534.24 650.76 L534.55 649.49 L534.86 647.88 L535.17 645.98 L535.49 643.49 L535.80 639.46 L536.11 634.60" fill="none" stroke="#1a8fe6" stroke-width="1.45" stroke-linejoin="round"/>
<path d="M411.40 666.27 L411.97 666.27 L412.55 666.27 L413.12 666.27 L413.70 666.27 L414.27 666.27 L414.84 666.27 L415.42 666.27 L415.99 666.27 L416.56 666.26 L417.14 666.26 L417.71 666.26 L418.29 666.26 L418.86 666.25 L419.43 666.25 L420.01 666.25 L420.58 666.24 L421.16 666.24 L421.73 666.23 L422.30 666.23 L422.88 666.22 L423.45 666.22 L424.03 666.21 L424.60 666.21 L425.17 666.20 L425.75 666.19 L426.32 666.19 L426.89 666.18 L427.47 666.17 L428.04 666.16 L428.62 666.15 L429.19 666.15 L429.76 666.14 L430.34 666.13 L430.91 666.12 L431.49 666.11 L432.06 666.09 L432.63 666.08 L433.21 666.07 L433.78 666.06 L434.36 666.04 L434.93 666.03 L435.50 666.02 L436.08 666.00 L436.65 665.99 L437.22 665.97 L437.80 665.96 L438.37 665.94 L438.95 665.92 L439.52 665.91 L440.09 665.89 L440.67 665.87 L441.24 665.85 L441.82 665.83 L442.39 665.81 L442.96 665.79 L443.54 665.77 L444.11 665.75 L444.69 665.73 L445.26 665.70 L445.83 665.68 L446.41 665.65 L446.98 665.63 L447.55 665.60 L448.13 665.58 L448.70 665.55 L449.28 665.52 L449.85 665.50 L450.42 665.47 L451.00 665.44 L451.57 665.41 L452.15 665.38 L452.72 665.35 L453.29 665.31 L453.87 665.28 L454.44 665.25 L455.02 665.21 L455.59 665.18 L456.16 665.14 L456.74 665.11 L457.31 665.07 L457.88 665.03 L458.46 664.99 L459.03 664.95 L459.61 664.91 L460.18 664.87 L460.75 664.83 L461.33 664.79 L461.90 664.75 L462.48 664.70 L463.05 664.66 L463.62 664.61 L464.20 664.57 L464.77 664.52 L465.34 664.47 L465.92 664.42 L466.49 664.37 L467.07 664.32 L467.64 664.27 L468.21 664.22 L468.79 664.17 L469.36 664.11 L469.94 664.06 L470.51 664.00 L471.08 663.94 L471.66 663.89 L472.23 663.83 L472.81 663.77 L473.38 663.71 L473.95 663.65 L474.53 663.58 L475.10 663.52 L475.67 663.46 L476.25 663.39 L476.82 663.29 L477.40 663.00 L477.97 662.54 L478.54 661.97 L479.12 661.37 L479.69 660.79 L480.27 660.29 L480.84 659.91 L481.41 659.57 L481.99 659.25 L482.56 658.94 L483.14 658.64 L483.71 658.36 L484.28 658.09 L484.86 657.84 L485.43 657.59 L486.00 657.35 L486.58 657.13 L487.15 656.91 L487.73 656.69 L488.30 656.48 L488.87 656.28 L489.45 656.08 L490.02 655.89 L490.60 655.71 L491.17 655.52 L491.74 655.34 L492.32 655.17 L492.89 655.00 L493.47 654.83 L494.04 654.67 L494.61 654.50 L495.19 654.34 L495.76 654.18 L496.33 654.03 L496.91 653.87 L497.48 653.72 L498.06 653.56 L498.63 653.41 L499.20 653.26 L499.78 653.10 L500.35 652.95 L500.93 652.80 L501.50 652.64 L502.07 652.48 L502.65 652.32 L503.22 652.16 L503.79 652.00 L504.37 651.83 L504.94 651.66 L505.52 651.49 L506.09 651.31 L506.66 651.13 L507.24 650.94 L507.81 650.75 L508.39 650.56 L508.96 650.36 L509.53 650.16 L510.11 649.96 L510.68 649.75 L511.26 649.54 L511.83 649.32 L512.40 649.11 L512.98 648.89 L513.55 648.67 L514.12 648.46 L514.70 648.23 L515.27 648.01 L515.85 647.79 L516.42 647.57 L516.99 647.35 L517.57 647.13 L518.14 646.91 L518.72 646.69 L519.29 646.48 L519.86 646.26 L520.44 646.05 L521.01 645.84 L521.59 645.63 L522.16 645.42 L522.73 645.22 L523.31 645.02 L523.88 644.83 L524.45 644.64 L525.03 644.45 L525.60 644.27 L526.18 644.10 L526.75 643.93 L527.32 643.76 L527.90 643.61 L528.47 643.45 L529.05 643.31 L529.62 643.17 L530.19 643.04 L530.77 642.91 L531.34 642.78 L531.92 642.66 L532.49 642.53 L533.06 642.41 L533.64 642.29 L534.21 642.17 L534.78 642.05 L535.36 641.93 L535.93 641.81 L536.51 641.68 L537.08 641.55 L537.65 641.41 L538.23 641.27 L538.80 641.12 L539.38 640.97 L539.95 640.81 L540.52 640.64 L541.10 640.46 L541.67 640.27 L542.25 640.07 L542.82 639.87 L543.39 639.66 L543.97 639.45 L544.54 639.22 L545.11 639.00 L545.69 638.77 L546.26 638.53 L546.84 638.29 L547.41 638.05 L547.98 637.80 L548.56 637.56 L549.13 637.31 L549.71 637.06 L550.28 636.81 L550.85 636.56 L551.43 636.31 L552.00 636.07 L552.57 635.82 L553.15 635.58 L553.72 635.34 L554.30 635.10 L554.87 634.87 L555.44 634.64 L556.02 634.42 L556.59 634.20 L557.17 633.99 L557.74 633.78 L558.31 633.58 L558.89 633.38 L559.46 633.18 L560.04 632.99 L560.61 632.79 L561.18 632.60 L561.76 632.41 L562.33 632.22 L562.90 632.03 L563.48 631.84 L564.05 631.65 L564.63 631.47 L565.20 631.29 L565.77 631.10 L566.35 630.92 L566.92 630.74 L567.50 630.56 L568.07 630.39 L568.64 630.21 L569.22 630.03 L569.79 629.85 L570.37 629.68 L570.94 629.51 L571.51 629.34 L572.09 629.17 L572.66 629.00 L573.23 628.84 L573.81 628.68 L574.38 628.52 L574.96 628.36 L575.53 628.20 L576.10 628.04 L576.68 627.88 L577.25 627.73 L577.83 627.57 L578.40 627.42 L578.97 627.26 L579.55 627.11 L580.12 626.96 L580.70 626.80 L581.27 626.65 L581.84 626.49 L582.42 626.34 L582.99 626.18 L583.56 626.03 L584.14 625.87 L584.71 625.71 L585.29 625.55 L585.86 625.39 L586.43 625.22 L587.01 625.06 L587.58 624.89 L588.16 624.72 L588.73 624.55 L589.30 624.38 L589.88 624.20 L590.45 624.02 L591.02 623.84 L591.60 623.65 L592.17 623.47 L592.75 623.27 L593.32 623.08 L593.89 622.89 L594.47 622.69 L595.04 622.49 L595.62 622.30 L596.19 622.10 L596.76 621.89 L597.34 621.69 L597.91 621.48 L598.49 621.27 L599.06 621.06 L599.63 620.85 L600.21 620.63 L600.78 620.42 L601.35 620.19 L601.93 619.97 L602.50 619.74 L603.08 619.51 L603.65 619.28 L604.22 619.04 L604.80 618.80 L605.37 618.56 L605.95 618.31 L606.52 618.06 L607.09 617.80 L607.67 617.54 L608.24 617.28 L608.82 617.01 L609.39 616.74 L609.96 616.46 L610.54 616.18 L611.11 615.89 L611.68 615.60 L612.26 615.30 L612.83 615.00 L613.41 614.69 L613.98 614.37 L614.55 614.05 L615.13 613.73 L615.70 613.39 L616.28 613.05 L616.85 612.70 L617.42 612.35 L618.00 611.99 L618.57 611.62 L619.15 611.24 L619.72 610.86 L620.29 610.46 L620.87 610.06 L621.44 609.65 L622.01 609.24 L622.59 608.81 L623.16 608.38 L623.74 607.93 L624.31 607.48 L624.88 607.04 L625.46 606.59 L626.03 606.15 L626.61 605.70 L627.18 605.24 L627.75 604.76 L628.33 604.25 L628.90 603.71 L629.48 603.14 L630.05 602.53 L630.62 601.86 L631.20 601.15 L631.77 600.37 L632.34 599.53 L632.92 598.62 L633.49 597.58 L634.07 596.30 L634.64 594.79 L635.21 593.03 L635.79 591.00 L636.36 588.70 L636.94 586.10 L637.51 583.17 L638.08 579.34 L638.66 573.81 L639.23 564.70 L639.80 544.39 L640.38 521.40" fill="none" stroke="#1e8f4e" stroke-width="1.45" stroke-linejoin="round"/>
<line x1="640.60" y1="493.70" x2="640.60" y2="509.80" stroke="#1e8f4e" stroke-width="1.5"/>
<line x1="411.40" y1="630.60" x2="651.09" y2="630.60" stroke="#111" stroke-width="1.6" stroke-dasharray="3.8 3.65"/>
<line x1="411.40" y1="520.80" x2="411.40" y2="667.60" stroke="#141414" stroke-width="1.5"/>
<line x1="407.40" y1="521.40" x2="411.40" y2="521.40" stroke="#141414" stroke-width="1.4"/>
<text x="403.90" y="525.30" font-size="11.3" text-anchor="end" fill="#222" stroke="#222">2.0</text>
<line x1="407.40" y1="557.80" x2="411.40" y2="557.80" stroke="#141414" stroke-width="1.4"/>
<text x="403.90" y="561.70" font-size="11.3" text-anchor="end" fill="#222" stroke="#222">1.5</text>
<line x1="407.40" y1="594.20" x2="411.40" y2="594.20" stroke="#141414" stroke-width="1.4"/>
<text x="403.90" y="598.10" font-size="11.3" text-anchor="end" fill="#222" stroke="#222">1.0</text>
<line x1="407.40" y1="630.60" x2="411.40" y2="630.60" stroke="#141414" stroke-width="1.4"/>
<text x="403.90" y="634.50" font-size="11.3" text-anchor="end" fill="#222" stroke="#222">0.5</text>
<line x1="407.40" y1="667.00" x2="411.40" y2="667.00" stroke="#141414" stroke-width="1.4"/>
<text x="403.90" y="670.90" font-size="11.3" text-anchor="end" fill="#222" stroke="#222">0.0</text>
<line x1="411.40" y1="493.10" x2="411.40" y2="510.30" stroke="#141414" stroke-width="1.5"/>
<line x1="407.40" y1="493.70" x2="411.40" y2="493.70" stroke="#141414" stroke-width="1.4"/>
<text x="403.90" y="497.60" font-size="11.3" text-anchor="end" fill="#222" stroke="#222">10.0</text>
<line x1="407.40" y1="509.70" x2="411.40" y2="509.70" stroke="#141414" stroke-width="1.4"/>
<text x="403.90" y="513.60" font-size="11.3" text-anchor="end" fill="#222" stroke="#222">5.0</text>
<line x1="410.80" y1="667.00" x2="649.59" y2="667.00" stroke="#141414" stroke-width="1.3"/>
<line x1="411.40" y1="667.00" x2="411.40" y2="671.50" stroke="#141414" stroke-width="1.2"/>
<line x1="430.76" y1="667.00" x2="430.76" y2="670.30" stroke="#141414" stroke-width="1.2"/>
<line x1="442.08" y1="667.00" x2="442.08" y2="670.30" stroke="#141414" stroke-width="1.2"/>
<line x1="450.11" y1="667.00" x2="450.11" y2="670.30" stroke="#141414" stroke-width="1.2"/>
<line x1="456.34" y1="667.00" x2="456.34" y2="670.30" stroke="#141414" stroke-width="1.2"/>
<line x1="461.44" y1="667.00" x2="461.44" y2="670.30" stroke="#141414" stroke-width="1.2"/>
<line x1="465.74" y1="667.00" x2="465.74" y2="670.30" stroke="#141414" stroke-width="1.2"/>
<line x1="469.47" y1="667.00" x2="469.47" y2="670.30" stroke="#141414" stroke-width="1.2"/>
<line x1="472.76" y1="667.00" x2="472.76" y2="670.30" stroke="#141414" stroke-width="1.2"/>
<line x1="475.70" y1="667.00" x2="475.70" y2="671.50" stroke="#141414" stroke-width="1.2"/>
<line x1="495.06" y1="667.00" x2="495.06" y2="670.30" stroke="#141414" stroke-width="1.2"/>
<line x1="506.38" y1="667.00" x2="506.38" y2="670.30" stroke="#141414" stroke-width="1.2"/>
<line x1="514.41" y1="667.00" x2="514.41" y2="670.30" stroke="#141414" stroke-width="1.2"/>
<line x1="520.64" y1="667.00" x2="520.64" y2="670.30" stroke="#141414" stroke-width="1.2"/>
<line x1="525.74" y1="667.00" x2="525.74" y2="670.30" stroke="#141414" stroke-width="1.2"/>
<line x1="530.04" y1="667.00" x2="530.04" y2="670.30" stroke="#141414" stroke-width="1.2"/>
<line x1="533.77" y1="667.00" x2="533.77" y2="670.30" stroke="#141414" stroke-width="1.2"/>
<line x1="537.06" y1="667.00" x2="537.06" y2="670.30" stroke="#141414" stroke-width="1.2"/>
<line x1="540.00" y1="667.00" x2="540.00" y2="671.50" stroke="#141414" stroke-width="1.2"/>
<line x1="559.36" y1="667.00" x2="559.36" y2="670.30" stroke="#141414" stroke-width="1.2"/>
<line x1="570.68" y1="667.00" x2="570.68" y2="670.30" stroke="#141414" stroke-width="1.2"/>
<line x1="578.71" y1="667.00" x2="578.71" y2="670.30" stroke="#141414" stroke-width="1.2"/>
<line x1="584.94" y1="667.00" x2="584.94" y2="670.30" stroke="#141414" stroke-width="1.2"/>
<line x1="590.04" y1="667.00" x2="590.04" y2="670.30" stroke="#141414" stroke-width="1.2"/>
<line x1="594.34" y1="667.00" x2="594.34" y2="670.30" stroke="#141414" stroke-width="1.2"/>
<line x1="598.07" y1="667.00" x2="598.07" y2="670.30" stroke="#141414" stroke-width="1.2"/>
<line x1="601.36" y1="667.00" x2="601.36" y2="670.30" stroke="#141414" stroke-width="1.2"/>
<line x1="604.30" y1="667.00" x2="604.30" y2="671.50" stroke="#141414" stroke-width="1.2"/>
<line x1="623.66" y1="667.00" x2="623.66" y2="670.30" stroke="#141414" stroke-width="1.2"/>
<line x1="634.98" y1="667.00" x2="634.98" y2="670.30" stroke="#141414" stroke-width="1.2"/>
<line x1="643.01" y1="667.00" x2="643.01" y2="670.30" stroke="#141414" stroke-width="1.2"/>
<line x1="649.24" y1="667.00" x2="649.24" y2="670.30" stroke="#141414" stroke-width="1.2"/>
<text x="411.40" y="685.20" font-size="11.3" text-anchor="middle" fill="#222" stroke="#222">1</text>
<text x="475.70" y="685.20" font-size="11.3" text-anchor="middle" fill="#222" stroke="#222">10</text>
<text x="540.00" y="685.20" font-size="11.3" text-anchor="middle" fill="#222" stroke="#222">100</text>
<text x="604.30" y="685.20" font-size="11.3" text-anchor="middle" fill="#222" stroke="#222">1000</text>
<text x="530.50" y="702.60" font-size="11.3" text-anchor="middle" fill="#222" stroke="#222">2nd Screen Experimental Well</text>
<text transform="translate(379.20,579.50) rotate(-90)" x="0" y="0" font-size="11.3" text-anchor="middle" fill="#222" stroke="#222">Reproductive Fitness Ratio</text>
<text x="435.10" y="497.30" font-size="11.0" text-anchor="start" fill="#8a8a8a" stroke="#8a8a8a" font-style="italic" stroke-width="0.1">empty vector</text>
<text x="435.10" y="508.40" font-size="11.0" text-anchor="start" fill="#b07cc2" stroke="#b07cc2" font-style="italic" stroke-width="0.1">hil-5(RNAi)</text>
<text x="435.10" y="519.50" font-size="11.0" text-anchor="start" fill="#1a8fe6" stroke="#1a8fe6" font-style="italic" stroke-width="0.1">lis-1(RNAi)</text>
<text x="435.10" y="530.60" font-size="11.0" text-anchor="start" fill="#1e8f4e" stroke="#1e8f4e" font-style="italic" stroke-width="0.1">RNAi vectors</text>
<text x="677.00" y="590.90" font-size="8.5" text-anchor="end" fill="#7a7a7a" stroke="#7a7a7a" font-weight="bold">100 %</text>
<text x="677.00" y="599.50" font-size="8.5" text-anchor="end" fill="#b07cc2" stroke="#b07cc2" font-weight="bold">94.4 %</text>
<text x="677.00" y="608.10" font-size="8.5" text-anchor="end" fill="#1a8fe6" stroke="#1a8fe6" font-weight="bold">0 %</text>
<text x="677.00" y="616.70" font-size="8.5" text-anchor="end" fill="#1e8f4e" stroke="#1e8f4e" font-weight="bold">92.6 %</text>
<text x="677.00" y="638.90" font-size="8.5" text-anchor="end" fill="#7a7a7a" stroke="#7a7a7a" font-weight="bold">0 %</text>
<text x="677.00" y="647.50" font-size="8.5" text-anchor="end" fill="#b07cc2" stroke="#b07cc2" font-weight="bold">5.6 %</text>
<text x="677.00" y="656.10" font-size="8.5" text-anchor="end" fill="#1a8fe6" stroke="#1a8fe6" font-weight="bold">100 %</text>
<text x="677.00" y="664.70" font-size="8.5" text-anchor="end" fill="#1e8f4e" stroke="#1e8f4e" font-weight="bold">7.4 %</text>
<text x="1.00" y="488.50" font-size="16" text-anchor="start" fill="#000" stroke="#000" font-weight="bold">e</text>
<text x="365.70" y="488.50" font-size="16" text-anchor="start" fill="#000" stroke="#000" font-weight="bold">f</text>
<rect x="50.20" y="851.00" width="4.3" height="52.80" fill="#7f7f7f"/>
<rect x="56.50" y="883.21" width="4.3" height="20.59" fill="#F39A2B"/>
<path d="M52.35 845.19V856.81M51.05 845.19h2.6M51.05 856.81h2.6" stroke="#cacaca" stroke-width="1.05" fill="none"/>
<path d="M58.65 882.15V884.26M57.35 882.15h2.6M57.35 884.26h2.6" stroke="#f8c98a" stroke-width="1.05" fill="none"/>
<line x1="55.20" y1="903.80" x2="55.20" y2="908.30" stroke="#141414" stroke-width="1.2"/>
<text transform="translate(59.80,919.00) rotate(-45)" font-size="11.3" text-anchor="end" fill="#1a1a1a" stroke="#1a1a1a" stroke-width="0.15" font-style="italic">apc-2</text>
<rect x="66.95" y="877.66" width="4.3" height="26.14" fill="#7f7f7f"/>
<rect x="73.25" y="895.35" width="4.3" height="8.45" fill="#F39A2B"/>
<path d="M69.10 867.10V888.22M67.80 867.10h2.6M67.80 888.22h2.6" stroke="#cacaca" stroke-width="1.05" fill="none"/>
<path d="M75.40 891.66V899.05M74.10 891.66h2.6M74.10 899.05h2.6" stroke="#f8c98a" stroke-width="1.05" fill="none"/>
<line x1="71.95" y1="903.80" x2="71.95" y2="908.30" stroke="#141414" stroke-width="1.2"/>
<text transform="translate(76.55,919.00) rotate(-45)" font-size="11.3" text-anchor="end" fill="#1a1a1a" stroke="#1a1a1a" stroke-width="0.15" font-style="italic">apc-6</text>
<rect x="83.70" y="882.94" width="4.3" height="20.86" fill="#7f7f7f"/>
<rect x="90.00" y="898.78" width="4.3" height="5.02" fill="#F39A2B"/>
<path d="M85.85 876.61V889.28M84.55 876.61h2.6M84.55 889.28h2.6" stroke="#cacaca" stroke-width="1.05" fill="none"/>
<path d="M92.15 895.09V902.48M90.85 895.09h2.6M90.85 902.48h2.6" stroke="#f8c98a" stroke-width="1.05" fill="none"/>
<line x1="88.70" y1="903.80" x2="88.70" y2="908.30" stroke="#141414" stroke-width="1.2"/>
<text transform="translate(93.30,919.00) rotate(-45)" font-size="11.3" text-anchor="end" fill="#1a1a1a" stroke="#1a1a1a" stroke-width="0.15" font-style="italic">apc-8</text>
<rect x="100.45" y="858.92" width="4.3" height="44.88" fill="#7f7f7f"/>
<rect x="106.75" y="894.03" width="4.3" height="9.77" fill="#F39A2B"/>
<path d="M102.60 851.00V866.84M101.30 851.00h2.6M101.30 866.84h2.6" stroke="#cacaca" stroke-width="1.05" fill="none"/>
<path d="M108.90 889.54V898.52M107.60 889.54h2.6M107.60 898.52h2.6" stroke="#f8c98a" stroke-width="1.05" fill="none"/>
<line x1="105.45" y1="903.80" x2="105.45" y2="908.30" stroke="#141414" stroke-width="1.2"/>
<text transform="translate(110.05,919.00) rotate(-45)" font-size="11.3" text-anchor="end" fill="#1a1a1a" stroke="#1a1a1a" stroke-width="0.15" font-style="italic">aspm-1</text>
<rect x="117.20" y="819.85" width="4.3" height="83.95" fill="#7f7f7f"/>
<rect x="123.50" y="866.84" width="4.3" height="36.96" fill="#F39A2B"/>
<path d="M119.35 799.52V840.18M118.05 799.52h2.6M118.05 840.18h2.6" stroke="#cacaca" stroke-width="1.05" fill="none"/>
<path d="M125.65 858.39V875.29M124.35 858.39h2.6M124.35 875.29h2.6" stroke="#f8c98a" stroke-width="1.05" fill="none"/>
<line x1="122.20" y1="903.80" x2="122.20" y2="908.30" stroke="#141414" stroke-width="1.2"/>
<text transform="translate(126.80,919.00) rotate(-45)" font-size="11.3" text-anchor="end" fill="#1a1a1a" stroke="#1a1a1a" stroke-width="0.15">C09B9.4</text>
<rect x="133.95" y="805.86" width="4.3" height="97.94" fill="#7f7f7f"/>
<rect x="140.25" y="869.48" width="4.3" height="34.32" fill="#F39A2B"/>
<path d="M136.10 781.83V829.88M134.80 781.83h2.6M134.80 829.88h2.6" stroke="#cacaca" stroke-width="1.05" fill="none"/>
<path d="M142.40 854.70V884.26M141.10 854.70h2.6M141.10 884.26h2.6" stroke="#f8c98a" stroke-width="1.05" fill="none"/>
<line x1="138.95" y1="903.80" x2="138.95" y2="908.30" stroke="#141414" stroke-width="1.2"/>
<text transform="translate(143.55,919.00) rotate(-45)" font-size="11.3" text-anchor="end" fill="#1a1a1a" stroke="#1a1a1a" stroke-width="0.15" font-style="italic">cdk-11.1</text>
<rect x="150.70" y="846.78" width="4.3" height="57.02" fill="#7f7f7f"/>
<rect x="157.00" y="893.77" width="4.3" height="10.03" fill="#F39A2B"/>
<path d="M152.85 836.22V857.34M151.55 836.22h2.6M151.55 857.34h2.6" stroke="#cacaca" stroke-width="1.05" fill="none"/>
<path d="M159.15 891.39V896.14M157.85 891.39h2.6M157.85 896.14h2.6" stroke="#f8c98a" stroke-width="1.05" fill="none"/>
<line x1="155.70" y1="903.80" x2="155.70" y2="908.30" stroke="#141414" stroke-width="1.2"/>
<text transform="translate(160.30,919.00) rotate(-45)" font-size="11.3" text-anchor="end" fill="#1a1a1a" stroke="#1a1a1a" stroke-width="0.15" font-style="italic">csn-5</text>
<rect x="167.45" y="803.74" width="4.3" height="100.06" fill="#7f7f7f"/>
<rect x="173.75" y="852.85" width="4.3" height="50.95" fill="#F39A2B"/>
<path d="M169.60 786.32V821.17M168.30 786.32h2.6M168.30 821.17h2.6" stroke="#cacaca" stroke-width="1.05" fill="none"/>
<path d="M175.90 845.72V859.98M174.60 845.72h2.6M174.60 859.98h2.6" stroke="#f8c98a" stroke-width="1.05" fill="none"/>
<line x1="172.45" y1="903.80" x2="172.45" y2="908.30" stroke="#141414" stroke-width="1.2"/>
<text transform="translate(177.05,919.00) rotate(-45)" font-size="11.3" text-anchor="end" fill="#1a1a1a" stroke="#1a1a1a" stroke-width="0.15" font-style="italic">cyb-1</text>
<rect x="184.20" y="877.93" width="4.3" height="25.87" fill="#7f7f7f"/>
<rect x="190.50" y="894.03" width="4.3" height="9.77" fill="#F39A2B"/>
<path d="M186.35 859.45V896.41M185.05 859.45h2.6M185.05 896.41h2.6" stroke="#cacaca" stroke-width="1.05" fill="none"/>
<path d="M192.65 885.85V902.22M191.35 885.85h2.6M191.35 902.22h2.6" stroke="#f8c98a" stroke-width="1.05" fill="none"/>
<line x1="189.20" y1="903.80" x2="189.20" y2="908.30" stroke="#141414" stroke-width="1.2"/>
<text transform="translate(193.80,919.00) rotate(-45)" font-size="11.3" text-anchor="end" fill="#1a1a1a" stroke="#1a1a1a" stroke-width="0.15" font-style="italic">cyb-3</text>
<rect x="200.95" y="873.97" width="4.3" height="29.83" fill="#7f7f7f"/>
<rect x="207.25" y="890.60" width="4.3" height="13.20" fill="#F39A2B"/>
<path d="M203.10 870.27V877.66M201.80 870.27h2.6M201.80 877.66h2.6" stroke="#cacaca" stroke-width="1.05" fill="none"/>
<path d="M209.40 887.43V893.77M208.10 887.43h2.6M208.10 893.77h2.6" stroke="#f8c98a" stroke-width="1.05" fill="none"/>
<line x1="205.95" y1="903.80" x2="205.95" y2="908.30" stroke="#141414" stroke-width="1.2"/>
<text transform="translate(210.55,919.00) rotate(-45)" font-size="11.3" text-anchor="end" fill="#1a1a1a" stroke="#1a1a1a" stroke-width="0.15" font-style="italic">cyk-3</text>
<rect x="217.70" y="881.89" width="4.3" height="21.91" fill="#7f7f7f"/>
<rect x="224.00" y="900.90" width="4.3" height="2.90" fill="#F39A2B"/>
<path d="M219.85 875.29V888.49M218.55 875.29h2.6M218.55 888.49h2.6" stroke="#cacaca" stroke-width="1.05" fill="none"/>
<path d="M226.15 900.10V901.69M224.85 900.10h2.6M224.85 901.69h2.6" stroke="#f8c98a" stroke-width="1.05" fill="none"/>
<line x1="222.70" y1="903.80" x2="222.70" y2="908.30" stroke="#141414" stroke-width="1.2"/>
<text transform="translate(227.30,919.00) rotate(-45)" font-size="11.3" text-anchor="end" fill="#4fb466" stroke="#4fb466" stroke-width="0.15" font-style="italic">dlc-1</text>
<rect x="234.45" y="887.43" width="4.3" height="16.37" fill="#7f7f7f"/>
<rect x="240.75" y="895.35" width="4.3" height="8.45" fill="#F39A2B"/>
<path d="M236.60 879.78V895.09M235.30 879.78h2.6M235.30 895.09h2.6" stroke="#cacaca" stroke-width="1.05" fill="none"/>
<path d="M242.90 890.86V899.84M241.60 890.86h2.6M241.60 899.84h2.6" stroke="#f8c98a" stroke-width="1.05" fill="none"/>
<line x1="239.45" y1="903.80" x2="239.45" y2="908.30" stroke="#141414" stroke-width="1.2"/>
<text transform="translate(244.05,919.00) rotate(-45)" font-size="11.3" text-anchor="end" fill="#4fb466" stroke="#4fb466" stroke-width="0.15" font-style="italic">dli-1</text>
<rect x="251.20" y="854.96" width="4.3" height="48.84" fill="#7f7f7f"/>
<rect x="257.50" y="899.58" width="4.3" height="4.22" fill="#F39A2B"/>
<path d="M253.35 836.22V873.70M252.05 836.22h2.6M252.05 873.70h2.6" stroke="#cacaca" stroke-width="1.05" fill="none"/>
<path d="M259.65 896.41V902.74M258.35 896.41h2.6M258.35 902.74h2.6" stroke="#f8c98a" stroke-width="1.05" fill="none"/>
<line x1="256.20" y1="903.80" x2="256.20" y2="908.30" stroke="#141414" stroke-width="1.2"/>
<text transform="translate(260.80,919.00) rotate(-45)" font-size="11.3" text-anchor="end" fill="#1a1a1a" stroke="#1a1a1a" stroke-width="0.15">F58G1.2</text>
<rect x="267.95" y="844.93" width="4.3" height="58.87" fill="#7f7f7f"/>
<rect x="274.25" y="880.04" width="4.3" height="23.76" fill="#F39A2B"/>
<path d="M270.10 820.38V869.48M268.80 820.38h2.6M268.80 869.48h2.6" stroke="#cacaca" stroke-width="1.05" fill="none"/>
<path d="M276.40 866.05V894.03M275.10 866.05h2.6M275.10 894.03h2.6" stroke="#f8c98a" stroke-width="1.05" fill="none"/>
<line x1="272.95" y1="903.80" x2="272.95" y2="908.30" stroke="#141414" stroke-width="1.2"/>
<text transform="translate(277.55,919.00) rotate(-45)" font-size="11.3" text-anchor="end" fill="#1a1a1a" stroke="#1a1a1a" stroke-width="0.15" font-style="italic">gcc-2</text>
<rect x="284.70" y="873.97" width="4.3" height="29.83" fill="#7f7f7f"/>
<rect x="291.00" y="889.28" width="4.3" height="14.52" fill="#F39A2B"/>
<path d="M286.85 869.48V878.46M285.55 869.48h2.6M285.55 878.46h2.6" stroke="#cacaca" stroke-width="1.05" fill="none"/>
<path d="M293.15 887.43V891.13M291.85 887.43h2.6M291.85 891.13h2.6" stroke="#f8c98a" stroke-width="1.05" fill="none"/>
<line x1="289.70" y1="903.80" x2="289.70" y2="908.30" stroke="#141414" stroke-width="1.2"/>
<text transform="translate(294.30,919.00) rotate(-45)" font-size="11.3" text-anchor="end" fill="#1a1a1a" stroke="#1a1a1a" stroke-width="0.15" font-style="italic">his-38</text>
<rect x="301.45" y="847.30" width="4.3" height="56.50" fill="#7f7f7f"/>
<rect x="307.75" y="877.93" width="4.3" height="25.87" fill="#F39A2B"/>
<path d="M303.60 842.29V852.32M302.30 842.29h2.6M302.30 852.32h2.6" stroke="#cacaca" stroke-width="1.05" fill="none"/>
<path d="M309.90 872.12V883.74M308.60 872.12h2.6M308.60 883.74h2.6" stroke="#f8c98a" stroke-width="1.05" fill="none"/>
<line x1="306.45" y1="903.80" x2="306.45" y2="908.30" stroke="#141414" stroke-width="1.2"/>
<text transform="translate(311.05,919.00) rotate(-45)" font-size="11.3" text-anchor="end" fill="#1a1a1a" stroke="#1a1a1a" stroke-width="0.15" font-style="italic">htp-2</text>
<rect x="318.20" y="887.96" width="4.3" height="15.84" fill="#7f7f7f"/>
<rect x="324.50" y="902.74" width="4.3" height="1.06" fill="#F39A2B"/>
<path d="M320.35 876.87V899.05M319.05 876.87h2.6M319.05 899.05h2.6" stroke="#cacaca" stroke-width="1.05" fill="none"/>
<line x1="323.20" y1="903.80" x2="323.20" y2="908.30" stroke="#141414" stroke-width="1.2"/>
<text transform="translate(327.80,919.00) rotate(-45)" font-size="11.3" text-anchor="end" fill="#1a1a1a" stroke="#1a1a1a" stroke-width="0.15" font-style="italic">kbp-3</text>
<rect x="334.95" y="830.94" width="4.3" height="72.86" fill="#7f7f7f"/>
<rect x="341.25" y="880.04" width="4.3" height="23.76" fill="#F39A2B"/>
<path d="M337.10 809.29V852.58M335.80 809.29h2.6M335.80 852.58h2.6" stroke="#cacaca" stroke-width="1.05" fill="none"/>
<path d="M343.40 867.10V892.98M342.10 867.10h2.6M342.10 892.98h2.6" stroke="#f8c98a" stroke-width="1.05" fill="none"/>
<line x1="339.95" y1="903.80" x2="339.95" y2="908.30" stroke="#141414" stroke-width="1.2"/>
<text transform="translate(344.55,919.00) rotate(-45)" font-size="11.3" text-anchor="end" fill="#4fb466" stroke="#4fb466" stroke-width="0.15" font-style="italic">lis-1</text>
<rect x="351.70" y="807.18" width="4.3" height="96.62" fill="#7f7f7f"/>
<rect x="358.00" y="872.91" width="4.3" height="30.89" fill="#F39A2B"/>
<path d="M353.85 777.08V837.27M352.55 777.08h2.6M352.55 837.27h2.6" stroke="#cacaca" stroke-width="1.05" fill="none"/>
<path d="M360.15 862.62V883.21M358.85 862.62h2.6M358.85 883.21h2.6" stroke="#f8c98a" stroke-width="1.05" fill="none"/>
<line x1="356.70" y1="903.80" x2="356.70" y2="908.30" stroke="#141414" stroke-width="1.2"/>
<text transform="translate(361.30,919.00) rotate(-45)" font-size="11.3" text-anchor="end" fill="#1a1a1a" stroke="#1a1a1a" stroke-width="0.15" font-style="italic">mdf-2</text>
<rect x="368.45" y="814.83" width="4.3" height="88.97" fill="#7f7f7f"/>
<rect x="374.75" y="856.02" width="4.3" height="47.78" fill="#F39A2B"/>
<path d="M370.60 810.87V818.79M369.30 810.87h2.6M369.30 818.79h2.6" stroke="#cacaca" stroke-width="1.05" fill="none"/>
<path d="M376.90 848.36V863.67M375.60 848.36h2.6M375.60 863.67h2.6" stroke="#f8c98a" stroke-width="1.05" fill="none"/>
<line x1="373.45" y1="903.80" x2="373.45" y2="908.30" stroke="#141414" stroke-width="1.2"/>
<text transform="translate(378.05,919.00) rotate(-45)" font-size="11.3" text-anchor="end" fill="#1a1a1a" stroke="#1a1a1a" stroke-width="0.15" font-style="italic">mdt-9</text>
<rect x="385.20" y="889.54" width="4.3" height="14.26" fill="#7f7f7f"/>
<rect x="391.50" y="898.78" width="4.3" height="5.02" fill="#F39A2B"/>
<path d="M387.35 885.58V893.50M386.05 885.58h2.6M386.05 893.50h2.6" stroke="#cacaca" stroke-width="1.05" fill="none"/>
<path d="M393.65 897.99V899.58M392.35 897.99h2.6M392.35 899.58h2.6" stroke="#f8c98a" stroke-width="1.05" fill="none"/>
<line x1="390.20" y1="903.80" x2="390.20" y2="908.30" stroke="#141414" stroke-width="1.2"/>
<text transform="translate(394.80,919.00) rotate(-45)" font-size="11.3" text-anchor="end" fill="#1a1a1a" stroke="#1a1a1a" stroke-width="0.15" font-style="italic">mei-1</text>
<rect x="401.95" y="879.51" width="4.3" height="24.29" fill="#7f7f7f"/>
<rect x="408.25" y="891.66" width="4.3" height="12.14" fill="#F39A2B"/>
<path d="M404.10 871.33V887.70M402.80 871.33h2.6M402.80 887.70h2.6" stroke="#cacaca" stroke-width="1.05" fill="none"/>
<path d="M410.40 885.85V897.46M409.10 885.85h2.6M409.10 897.46h2.6" stroke="#f8c98a" stroke-width="1.05" fill="none"/>
<line x1="406.95" y1="903.80" x2="406.95" y2="908.30" stroke="#141414" stroke-width="1.2"/>
<text transform="translate(411.55,919.00) rotate(-45)" font-size="11.3" text-anchor="end" fill="#1a1a1a" stroke="#1a1a1a" stroke-width="0.15" font-style="italic">mel-26</text>
<rect x="418.70" y="850.21" width="4.3" height="53.59" fill="#7f7f7f"/>
<rect x="425.00" y="875.55" width="4.3" height="28.25" fill="#F39A2B"/>
<path d="M420.85 842.29V858.13M419.55 842.29h2.6M419.55 858.13h2.6" stroke="#cacaca" stroke-width="1.05" fill="none"/>
<path d="M427.15 874.76V876.34M425.85 874.76h2.6M425.85 876.34h2.6" stroke="#f8c98a" stroke-width="1.05" fill="none"/>
<line x1="423.70" y1="903.80" x2="423.70" y2="908.30" stroke="#141414" stroke-width="1.2"/>
<text transform="translate(428.30,919.00) rotate(-45)" font-size="11.3" text-anchor="end" fill="#1a1a1a" stroke="#1a1a1a" stroke-width="0.15" font-style="italic">ntl-2</text>
<rect x="435.45" y="826.18" width="4.3" height="77.62" fill="#7f7f7f"/>
<rect x="441.75" y="863.41" width="4.3" height="40.39" fill="#F39A2B"/>
<path d="M437.60 812.98V839.38M436.30 812.98h2.6M436.30 839.38h2.6" stroke="#cacaca" stroke-width="1.05" fill="none"/>
<path d="M443.90 855.49V871.33M442.60 855.49h2.6M442.60 871.33h2.6" stroke="#f8c98a" stroke-width="1.05" fill="none"/>
<line x1="440.45" y1="903.80" x2="440.45" y2="908.30" stroke="#141414" stroke-width="1.2"/>
<text transform="translate(445.05,919.00) rotate(-45)" font-size="11.3" text-anchor="end" fill="#1a1a1a" stroke="#1a1a1a" stroke-width="0.15" font-style="italic">pals-17</text>
<rect x="452.20" y="785.00" width="4.3" height="118.80" fill="#7f7f7f"/>
<rect x="458.50" y="848.10" width="4.3" height="55.70" fill="#F39A2B"/>
<path d="M454.35 752.53V817.47M453.05 752.53h2.6M453.05 817.47h2.6" stroke="#cacaca" stroke-width="1.05" fill="none"/>
<path d="M460.65 835.69V860.50M459.35 835.69h2.6M459.35 860.50h2.6" stroke="#f8c98a" stroke-width="1.05" fill="none"/>
<line x1="457.20" y1="903.80" x2="457.20" y2="908.30" stroke="#141414" stroke-width="1.2"/>
<text transform="translate(461.80,919.00) rotate(-45)" font-size="11.3" text-anchor="end" fill="#1a1a1a" stroke="#1a1a1a" stroke-width="0.15" font-style="italic">ptr-6</text>
<rect x="468.95" y="897.46" width="4.3" height="6.34" fill="#7f7f7f"/>
<rect x="475.25" y="901.69" width="4.3" height="2.11" fill="#F39A2B"/>
<path d="M471.10 894.03V900.90M469.80 894.03h2.6M469.80 900.90h2.6" stroke="#cacaca" stroke-width="1.05" fill="none"/>
<path d="M477.40 901.16V902.22M476.10 901.16h2.6M476.10 902.22h2.6" stroke="#f8c98a" stroke-width="1.05" fill="none"/>
<line x1="473.95" y1="903.80" x2="473.95" y2="908.30" stroke="#141414" stroke-width="1.2"/>
<text transform="translate(478.55,919.00) rotate(-45)" font-size="11.3" text-anchor="end" fill="#1a1a1a" stroke="#1a1a1a" stroke-width="0.15" font-style="italic">rnp-4</text>
<rect x="485.70" y="876.87" width="4.3" height="26.93" fill="#7f7f7f"/>
<rect x="492.00" y="900.10" width="4.3" height="3.70" fill="#F39A2B"/>
<path d="M487.85 862.88V890.86M486.55 862.88h2.6M486.55 890.86h2.6" stroke="#cacaca" stroke-width="1.05" fill="none"/>
<path d="M494.15 899.58V900.63M492.85 899.58h2.6M492.85 900.63h2.6" stroke="#f8c98a" stroke-width="1.05" fill="none"/>
<line x1="490.70" y1="903.80" x2="490.70" y2="908.30" stroke="#141414" stroke-width="1.2"/>
<text transform="translate(495.30,919.00) rotate(-45)" font-size="11.3" text-anchor="end" fill="#1a1a1a" stroke="#1a1a1a" stroke-width="0.15" font-style="italic">rog-1</text>
<rect x="502.45" y="838.86" width="4.3" height="64.94" fill="#7f7f7f"/>
<rect x="508.75" y="875.29" width="4.3" height="28.51" fill="#F39A2B"/>
<path d="M504.60 835.69V842.02M503.30 835.69h2.6M503.30 842.02h2.6" stroke="#cacaca" stroke-width="1.05" fill="none"/>
<path d="M510.90 862.09V888.49M509.60 862.09h2.6M509.60 888.49h2.6" stroke="#f8c98a" stroke-width="1.05" fill="none"/>
<line x1="507.45" y1="903.80" x2="507.45" y2="908.30" stroke="#141414" stroke-width="1.2"/>
<text transform="translate(512.05,919.00) rotate(-45)" font-size="11.3" text-anchor="end" fill="#1a1a1a" stroke="#1a1a1a" stroke-width="0.15" font-style="italic">rsa-1</text>
<rect x="519.20" y="840.18" width="4.3" height="63.62" fill="#7f7f7f"/>
<rect x="525.50" y="883.74" width="4.3" height="20.06" fill="#F39A2B"/>
<path d="M521.35 826.71V853.64M520.05 826.71h2.6M520.05 853.64h2.6" stroke="#cacaca" stroke-width="1.05" fill="none"/>
<path d="M527.65 880.57V886.90M526.35 880.57h2.6M526.35 886.90h2.6" stroke="#f8c98a" stroke-width="1.05" fill="none"/>
<line x1="524.20" y1="903.80" x2="524.20" y2="908.30" stroke="#141414" stroke-width="1.2"/>
<text transform="translate(528.80,919.00) rotate(-45)" font-size="11.3" text-anchor="end" fill="#1a1a1a" stroke="#1a1a1a" stroke-width="0.15" font-style="italic">rsr-2</text>
<rect x="535.95" y="865.26" width="4.3" height="38.54" fill="#7f7f7f"/>
<rect x="542.25" y="892.98" width="4.3" height="10.82" fill="#F39A2B"/>
<path d="M538.10 854.17V876.34M536.80 854.17h2.6M536.80 876.34h2.6" stroke="#cacaca" stroke-width="1.05" fill="none"/>
<path d="M544.40 889.81V896.14M543.10 889.81h2.6M543.10 896.14h2.6" stroke="#f8c98a" stroke-width="1.05" fill="none"/>
<line x1="540.95" y1="903.80" x2="540.95" y2="908.30" stroke="#141414" stroke-width="1.2"/>
<text transform="translate(545.55,919.00) rotate(-45)" font-size="11.3" text-anchor="end" fill="#1a1a1a" stroke="#1a1a1a" stroke-width="0.15" font-style="italic">sdhb-1</text>
<rect x="552.70" y="858.92" width="4.3" height="44.88" fill="#7f7f7f"/>
<rect x="559.00" y="889.02" width="4.3" height="14.78" fill="#F39A2B"/>
<path d="M554.85 849.42V868.42M553.55 849.42h2.6M553.55 868.42h2.6" stroke="#cacaca" stroke-width="1.05" fill="none"/>
<path d="M561.15 885.58V892.45M559.85 885.58h2.6M559.85 892.45h2.6" stroke="#f8c98a" stroke-width="1.05" fill="none"/>
<line x1="557.70" y1="903.80" x2="557.70" y2="908.30" stroke="#141414" stroke-width="1.2"/>
<text transform="translate(562.30,919.00) rotate(-45)" font-size="11.3" text-anchor="end" fill="#1a1a1a" stroke="#1a1a1a" stroke-width="0.15" font-style="italic">smk-1</text>
<rect x="569.45" y="893.77" width="4.3" height="10.03" fill="#7f7f7f"/>
<rect x="575.75" y="900.90" width="4.3" height="2.90" fill="#F39A2B"/>
<path d="M571.60 891.13V896.41M570.30 891.13h2.6M570.30 896.41h2.6" stroke="#cacaca" stroke-width="1.05" fill="none"/>
<path d="M577.90 900.37V901.42M576.60 900.37h2.6M576.60 901.42h2.6" stroke="#f8c98a" stroke-width="1.05" fill="none"/>
<line x1="574.45" y1="903.80" x2="574.45" y2="908.30" stroke="#141414" stroke-width="1.2"/>
<text transform="translate(579.05,919.00) rotate(-45)" font-size="11.3" text-anchor="end" fill="#1a1a1a" stroke="#1a1a1a" stroke-width="0.15" font-style="italic">srt-23</text>
<rect x="586.20" y="835.42" width="4.3" height="68.38" fill="#7f7f7f"/>
<rect x="592.50" y="867.90" width="4.3" height="35.90" fill="#F39A2B"/>
<path d="M588.35 826.18V844.66M587.05 826.18h2.6M587.05 844.66h2.6" stroke="#cacaca" stroke-width="1.05" fill="none"/>
<path d="M594.65 855.75V880.04M593.35 855.75h2.6M593.35 880.04h2.6" stroke="#f8c98a" stroke-width="1.05" fill="none"/>
<line x1="591.20" y1="903.80" x2="591.20" y2="908.30" stroke="#141414" stroke-width="1.2"/>
<text transform="translate(595.80,919.00) rotate(-45)" font-size="11.3" text-anchor="end" fill="#1a1a1a" stroke="#1a1a1a" stroke-width="0.15" font-style="italic">str-125</text>
<rect x="602.95" y="875.29" width="4.3" height="28.51" fill="#7f7f7f"/>
<rect x="609.25" y="894.82" width="4.3" height="8.98" fill="#F39A2B"/>
<path d="M605.10 863.14V887.43M603.80 863.14h2.6M603.80 887.43h2.6" stroke="#cacaca" stroke-width="1.05" fill="none"/>
<path d="M611.40 889.81V899.84M610.10 889.81h2.6M610.10 899.84h2.6" stroke="#f8c98a" stroke-width="1.05" fill="none"/>
<line x1="607.95" y1="903.80" x2="607.95" y2="908.30" stroke="#141414" stroke-width="1.2"/>
<text transform="translate(612.55,919.00) rotate(-45)" font-size="11.3" text-anchor="end" fill="#1a1a1a" stroke="#1a1a1a" stroke-width="0.15" font-style="italic">tpxl-1</text>
<rect x="619.70" y="877.14" width="4.3" height="26.66" fill="#7f7f7f"/>
<rect x="626.00" y="889.81" width="4.3" height="13.99" fill="#F39A2B"/>
<path d="M621.85 875.02V879.25M620.55 875.02h2.6M620.55 879.25h2.6" stroke="#cacaca" stroke-width="1.05" fill="none"/>
<path d="M628.15 889.02V890.60M626.85 889.02h2.6M626.85 890.60h2.6" stroke="#f8c98a" stroke-width="1.05" fill="none"/>
<line x1="624.70" y1="903.80" x2="624.70" y2="908.30" stroke="#141414" stroke-width="1.2"/>
<text transform="translate(629.30,919.00) rotate(-45)" font-size="11.3" text-anchor="end" fill="#1a1a1a" stroke="#1a1a1a" stroke-width="0.15" font-style="italic">txdc-9</text>
<rect x="636.45" y="848.10" width="4.3" height="55.70" fill="#7f7f7f"/>
<rect x="642.75" y="884.26" width="4.3" height="19.54" fill="#F39A2B"/>
<path d="M638.60 836.22V859.98M637.30 836.22h2.6M637.30 859.98h2.6" stroke="#cacaca" stroke-width="1.05" fill="none"/>
<path d="M644.90 878.98V889.54M643.60 878.98h2.6M643.60 889.54h2.6" stroke="#f8c98a" stroke-width="1.05" fill="none"/>
<line x1="641.45" y1="903.80" x2="641.45" y2="908.30" stroke="#141414" stroke-width="1.2"/>
<text transform="translate(646.05,919.00) rotate(-45)" font-size="11.3" text-anchor="end" fill="#1a1a1a" stroke="#1a1a1a" stroke-width="0.15" font-style="italic">ulp-2</text>
<rect x="653.20" y="826.98" width="4.3" height="76.82" fill="#7f7f7f"/>
<rect x="659.50" y="871.59" width="4.3" height="32.21" fill="#F39A2B"/>
<path d="M655.35 802.42V851.53M654.05 802.42h2.6M654.05 851.53h2.6" stroke="#cacaca" stroke-width="1.05" fill="none"/>
<path d="M661.65 864.46V878.72M660.35 864.46h2.6M660.35 878.72h2.6" stroke="#f8c98a" stroke-width="1.05" fill="none"/>
<line x1="658.20" y1="903.80" x2="658.20" y2="908.30" stroke="#141414" stroke-width="1.2"/>
<text transform="translate(662.80,919.00) rotate(-45)" font-size="11.3" text-anchor="end" fill="#1a1a1a" stroke="#1a1a1a" stroke-width="0.15">Y55D5A.3</text>
<rect x="669.95" y="874.50" width="4.3" height="29.30" fill="#7f7f7f"/>
<rect x="676.25" y="892.18" width="4.3" height="11.62" fill="#F39A2B"/>
<path d="M672.10 859.18V889.81M670.80 859.18h2.6M670.80 889.81h2.6" stroke="#cacaca" stroke-width="1.05" fill="none"/>
<path d="M678.40 884.26V900.10M677.10 884.26h2.6M677.10 900.10h2.6" stroke="#f8c98a" stroke-width="1.05" fill="none"/>
<line x1="674.95" y1="903.80" x2="674.95" y2="908.30" stroke="#141414" stroke-width="1.2"/>
<text transform="translate(679.55,919.00) rotate(-45)" font-size="11.3" text-anchor="end" fill="#4fb466" stroke="#4fb466" stroke-width="0.15" font-style="italic">zyg-12</text>
<line x1="47.60" y1="903.80" x2="685.00" y2="903.80" stroke="#141414" stroke-width="1.4"/>
<line x1="48.20" y1="744.80" x2="48.20" y2="904.40" stroke="#141414" stroke-width="1.5"/>
<line x1="44.20" y1="745.40" x2="48.20" y2="745.40" stroke="#141414" stroke-width="1.4"/>
<text x="39.60" y="749.30" font-size="11.3" text-anchor="end" fill="#222" stroke="#222">60</text>
<line x1="44.20" y1="771.80" x2="48.20" y2="771.80" stroke="#141414" stroke-width="1.4"/>
<text x="39.60" y="775.70" font-size="11.3" text-anchor="end" fill="#222" stroke="#222">50</text>
<line x1="44.20" y1="798.20" x2="48.20" y2="798.20" stroke="#141414" stroke-width="1.4"/>
<text x="39.60" y="802.10" font-size="11.3" text-anchor="end" fill="#222" stroke="#222">40</text>
<line x1="44.20" y1="824.60" x2="48.20" y2="824.60" stroke="#141414" stroke-width="1.4"/>
<text x="39.60" y="828.50" font-size="11.3" text-anchor="end" fill="#222" stroke="#222">30</text>
<line x1="44.20" y1="851.00" x2="48.20" y2="851.00" stroke="#141414" stroke-width="1.4"/>
<text x="39.60" y="854.90" font-size="11.3" text-anchor="end" fill="#222" stroke="#222">20</text>
<line x1="44.20" y1="877.40" x2="48.20" y2="877.40" stroke="#141414" stroke-width="1.4"/>
<text x="39.60" y="881.30" font-size="11.3" text-anchor="end" fill="#222" stroke="#222">10</text>
<line x1="44.20" y1="903.80" x2="48.20" y2="903.80" stroke="#141414" stroke-width="1.4"/>
<text x="39.60" y="907.70" font-size="11.3" text-anchor="end" fill="#222" stroke="#222">0</text>
<text transform="translate(15.50,824.50) rotate(-90)" x="0" y="0" font-size="11.3" text-anchor="middle" fill="#222" stroke="#222">Reproductive Fitness</text>
<text x="366.30" y="963.60" font-size="11.3" text-anchor="middle" fill="#222" stroke="#222">Genes Targeted by dsRNA</text>
<text x="72.70" y="748.40" font-size="11.0" text-anchor="start" fill="#8a8a8a" stroke="#8a8a8a" font-style="italic" stroke-width="0.1">nud-2(+)</text>
<text x="72.70" y="759.50" font-size="11.0" text-anchor="start" fill="#F5961E" stroke="#F5961E" font-style="italic" stroke-width="0.1">nud-2(ok949)</text>
<text x="1.00" y="737.40" font-size="16" text-anchor="start" fill="#000" stroke="#000" font-weight="bold">g</text>
</svg></body></html>
